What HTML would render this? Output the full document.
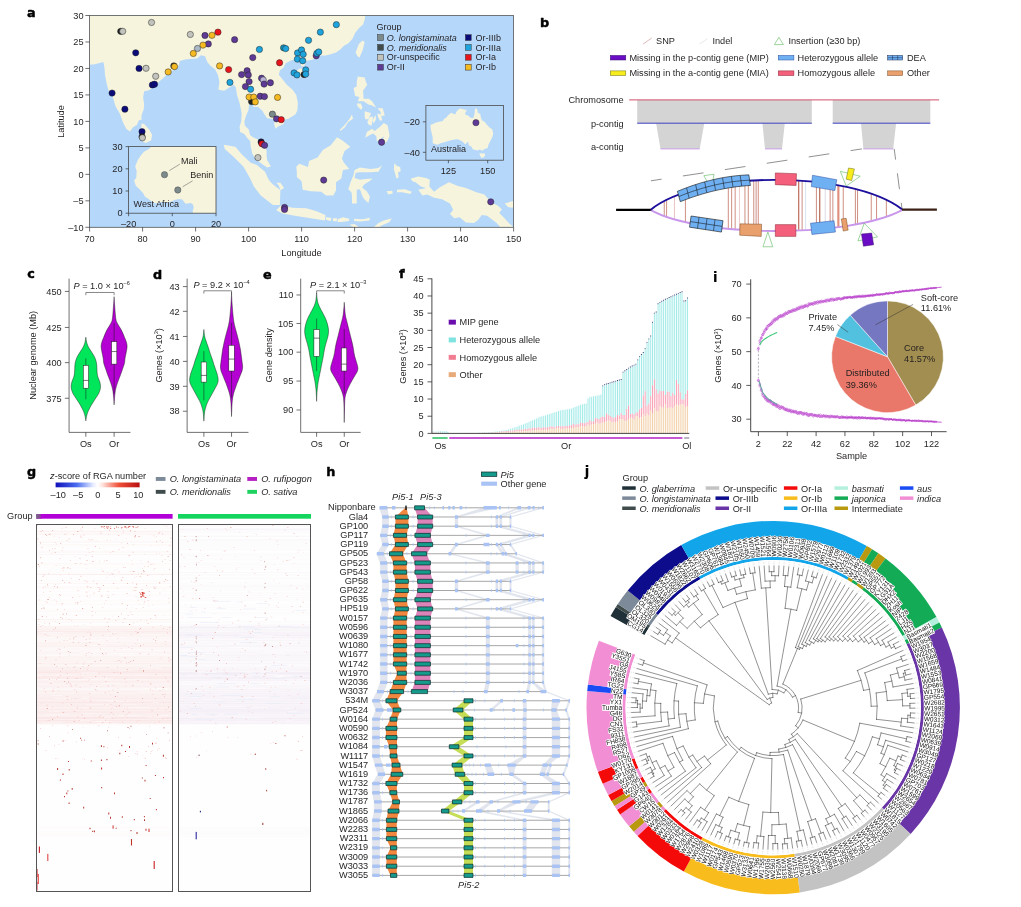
<!DOCTYPE html>
<html lang="en">
<head>
<meta charset="utf-8">
<title>Figure</title>
<style>
html,body{margin:0;padding:0;background:#fff;}
body{width:1021px;height:907px;overflow:hidden;}
svg{display:block;font-family:'Liberation Sans', Arial, Helvetica, sans-serif;fill:#231f20;}
</style>
</head>
<body>
<svg width="1021" height="907" viewBox="0 0 1021 907">
<rect width="1021" height="907" fill="#ffffff"/>
<g id="panel_a">
<clipPath id="mapclip"><rect x="89.6" y="15.5" width="424" height="211.8"/></clipPath>
<rect x="89.6" y="15.5" width="424" height="211.8" fill="#b4d7fa"/>
<g clip-path="url(#mapclip)" fill="#f6f4dd">
<path d="M89.6,15.5 365.2,15.5 364.67,19.74 363.08,24.5 358.84,28.21 355.13,32.97 352.48,38.8 348.24,43.56 344,45.68 340.29,49.39 336.05,52.56 330.75,54.15 324.39,55.74 320.68,55.21 317.5,57.86 311.14,59.98 305.84,61.04 304.25,66.33 301.07,66.33 300.54,60.51 294.18,59.45 291,60.51 285.7,63.16 283.58,67.39 279.87,70.57 278.81,74.8 283.05,80.1 286.76,84.86 292.59,89.63 296.3,94.92 297.89,102.87 297.36,110.81 295.24,114.52 288.35,118.75 284.64,119.81 283.58,124.05 277.75,126.69 275.63,128.81 274.04,124.05 275.1,120.34 271.39,118.75 267.15,118.22 264.5,114.52 262.38,110.81 258.14,107.1 253.37,107.1 253.63,102.87 249.13,103.4 248.6,109.75 245.95,116.11 244.36,121.4 244.89,125.64 248.6,129.34 250.19,135.17 253.9,137.81 258.14,139.4 260.79,141.52 264.5,145.76 266.62,150.52 266.62,155.82 267.15,160.05 270.86,166.41 267.15,167.47 262.38,164.29 256.02,159.52 252.31,153.7 250.72,146.82 250.19,140.99 247.01,137.81 244.36,134.11 240.12,131.99 239.59,126.69 241.18,121.4 241.71,113.46 240.65,108.16 239.06,101.28 236.94,94.92 235.88,87.51 233.76,84.86 230.05,86.98 224.22,90.69 218.39,89.63 219.45,81.69 217.86,74.8 215.21,69.51 210.44,65.8 207.26,62.1 205.14,56.27 200.9,55.21 197.19,58.39 190.3,58.92 185,59.45 179.7,61.04 179.17,64.74 175.99,68.98 169.1,72.16 163.8,77.45 158.5,82.22 154.26,86.45 148.96,90.16 144.19,91.22 143.13,97.57 144.19,104.46 143.66,109.75 141.54,115.05 141.54,119.81 138.89,120.34 136.77,125.11 133.06,127.22 129.88,131.46 126.17,128.81 122.99,122.46 119.81,113.46 115.57,106.57 112.92,97.57 108.68,90.69 106.56,83.28 104.97,74.8 104.44,67.39 103.38,62.1 94.9,64.21 89.6,64.74Z" fill="#f6f4dd"/>
<path d="M294.71,72.69 299.48,68.45 306.37,68.45 306.9,70.57 303.19,76.39 298.95,77.98 294.71,75.86Z" fill="#f6f4dd"/>
<path d="M355.66,52.56 358.84,44.09 362.55,40.39 364.67,41.98 362.55,50.45 359.37,57.86 357.25,55.74Z" fill="#f6f4dd"/>
<path d="M141.54,123.52 144.19,124.05 148.96,129.34 152.14,134.64 151.08,140.46 145.78,143.11 142.6,141.52 141.01,131.46Z" fill="#f6f4dd"/>
<path d="M223.69,144.7 235.35,146.82 241.71,154.23 250.72,162.7 256.55,164.82 265.03,171.7 268.74,179.65 272.45,183.88 280.4,190.23 279.87,205.06 272.98,205.06 260.79,195.53 253.9,186.53 250.19,178.59 243.3,166.41 233.76,156.88 224.75,148.93Z" fill="#f6f4dd"/>
<path d="M276.16,210.36 280.93,205.59 292.59,207.71 306.37,208.24 315.91,210.89 325.45,215.12 324.92,220.42 310.61,218.3 294.71,215.65 282.52,213.53Z" fill="#f6f4dd"/>
<path d="M296.3,166.41 299.48,163.76 307.96,166.94 309.02,161.11 317.5,157.41 322.8,149.99 330.75,145.23 337.11,137.28 342.41,140.46 350.36,146.82 344.53,151.05 341.88,158.47 344,162.7 349.3,169.06 342.94,170.11 341.35,178.59 336.05,182.29 336.05,190.23 333.4,195.53 325.98,195.53 321.21,191.82 310.61,191.29 302.66,189.71 301.6,181.23 296.83,177 296.83,171.7Z" fill="#f6f4dd"/>
<path d="M354.6,170.11 359.9,167.47 370.5,169.06 378.45,168 382.16,165.35 378.45,171.7 370.5,172.23 359.9,172.23 355.66,172.76 354.6,178.06 359.9,179.65 365.2,179.12 372.62,178.59 369.44,181.23 364.14,184.41 362.02,187.59 366.79,191.29 369.97,196.59 368.38,202.94 364.67,199.77 362.55,196.59 359.9,189.18 356.72,189.71 356.72,195.53 356.72,203.47 351.95,203.47 351.95,195.53 351.42,192.35 348.24,189.18 350.89,181.23 353.54,174.88 354.07,171.7Z" fill="#f6f4dd"/>
<path d="M357.78,76.39 364.67,77.45 366.26,82.75 367.32,84.86 363.08,90.69 363.61,98.63 368.91,98.63 372.09,101.28 376.33,107.63 372.09,105.52 368.38,104.46 363.61,101.28 357.78,101.28 359.37,97.04 355.13,95.98 353.54,88.04 356.72,86.45 356.72,81.69Z" fill="#f6f4dd"/>
<path d="M356.72,103.4 360.96,103.4 362.55,107.63 360.96,109.75 357.78,106.57Z" fill="#f6f4dd"/>
<path d="M339.76,129.87 344,125.64 349.3,119.28 351.95,114.52 353.01,118.75 348.24,121.93 344.53,127.75 340.29,130.93Z" fill="#f6f4dd"/>
<path d="M364.67,111.34 371.03,112.93 368.38,119.28 365.2,119.28 364.67,116.11Z" fill="#f6f4dd"/>
<path d="M369.97,116.63 373.15,116.63 371.56,125.64 368.38,124.58 367.32,121.93Z" fill="#f6f4dd"/>
<path d="M372.62,120.34 375.8,115.05 375.8,119.81 373.68,123.52Z" fill="#f6f4dd"/>
<path d="M377.39,113.46 381.1,114.52 382.16,120.34 380.04,120.87 377.92,116.63Z" fill="#f6f4dd"/>
<path d="M377.39,108.16 382.69,108.16 384.81,115.58 381.1,116.11 380.57,111.87Z" fill="#f6f4dd"/>
<path d="M365.2,137.81 366.79,131.99 372.09,128.81 374.74,130.93 377.39,128.81 380.04,126.69 383.75,122.99 387.46,125.11 388.52,129.87 389.58,135.7 387.46,140.99 383.22,144.7 382.69,139.4 384.28,136.23 376.86,141.52 376.33,136.23 373.15,133.58 369.44,135.17Z" fill="#f6f4dd"/>
<path d="M394.35,163.23 397,165.88 400.18,166.94 400.71,171.17 398.06,172.23 398.59,177.53 396.47,178.59 394.88,172.76 393.82,169.06Z" fill="#f6f4dd"/>
<path d="M386.4,191.29 392.23,190.76 392.76,193.41 388.52,194.47Z" fill="#f6f4dd"/>
<path d="M397,189.71 404.95,189.18 411.84,191.82 410.25,193.94 402.3,192.35 397,192.35Z" fill="#f6f4dd"/>
<path d="M410.78,178.59 418.2,176.47 426.15,178.06 429.86,179.65 429.33,186.53 434.1,191.82 439.4,187.59 448.94,182.29 457.95,186 465.9,188.12 476.5,192.35 484.45,194.47 491.34,202.41 497.7,205.59 501.94,209.3 499.29,213 504.06,217.77 508.3,222.53 513.6,227.3 513.6,227.3 500.35,227.3 496.64,223.06 487.1,215.65 481.8,215.12 478.09,219.89 473.85,223.06 465.9,222.53 459.54,217.24 454.24,218.3 450,214.06 453.18,209.83 450,203.47 442.05,199.24 434.1,197.65 427.21,194.47 422.44,195.53 418.2,189.71 426.15,188.12 420.85,186.53 415.55,182.29 412.37,181.23Z" fill="#f6f4dd"/>
<path d="M504.59,203.47 513.6,200.82 513.6,207.71 508.3,207.18Z" fill="#f6f4dd"/>
<path d="M325.45,217.24 331.28,217.77 330.75,220.95 326.51,219.89Z" fill="#f6f4dd"/>
<path d="M332.87,218.3 337.11,218.3 336.58,221.48 332.87,220.95Z" fill="#f6f4dd"/>
<path d="M337.64,219.36 342.94,217.24 349.3,218.83 348.77,220.95 341.35,222 337.64,222Z" fill="#f6f4dd"/>
<path d="M354.07,218.83 362.55,219.36 369.97,217.77 369.44,220.42 359.9,221.48 354.07,220.95Z" fill="#f6f4dd"/>
<path d="M349.3,224.65 354.6,224.12 358.84,227.3 353.54,227.3Z" fill="#f6f4dd"/>
<path d="M373.68,227.3 378.45,223.06 383.75,220.42 391.7,218.3 389.58,222 382.16,225.18 378.98,227.3Z" fill="#f6f4dd"/>
<path d="M276.16,182.82 280.4,182.82 284.11,188.12 280.4,190.23 278.81,185.47Z" fill="#f6f4dd"/>
</g>
<g stroke="#1a1a1a" stroke-width="0.45">
<circle cx="120.73" cy="31.3" r="3.15" fill="#222222"/>
<circle cx="122.73" cy="31.3" r="3.15" fill="#c3c3bd"/>
<circle cx="151.54" cy="22.48" r="3.15" fill="#c3c3bd"/>
<circle cx="135.72" cy="52.78" r="3.15" fill="#0b0b7a"/>
<circle cx="139.05" cy="68.43" r="3.15" fill="#0b0b7a"/>
<circle cx="146.04" cy="68.27" r="3.15" fill="#c3c3bd"/>
<circle cx="155.7" cy="76.26" r="3.15" fill="#c3c3bd"/>
<circle cx="152.37" cy="84.92" r="3.15" fill="#0b0b7a"/>
<circle cx="154.53" cy="84.25" r="3.15" fill="#0b0b7a"/>
<circle cx="112.07" cy="93.07" r="3.15" fill="#0b0b7a"/>
<circle cx="124.9" cy="109.22" r="3.15" fill="#0b0b7a"/>
<circle cx="168.19" cy="71.93" r="3.15" fill="#f5b921"/>
<circle cx="173.85" cy="65.93" r="3.15" fill="#222222"/>
<circle cx="174.51" cy="66.6" r="3.15" fill="#f5b921"/>
<circle cx="142.04" cy="131.65" r="3.15" fill="#0b0b7a"/>
<circle cx="142.04" cy="136.64" r="3.15" fill="#222222"/>
<circle cx="142.38" cy="137.81" r="3.15" fill="#c3c3bd"/>
<circle cx="190.32" cy="34.47" r="3.15" fill="#c3c3bd"/>
<circle cx="204.98" cy="35.46" r="3.15" fill="#5e3a96"/>
<circle cx="211.97" cy="35.3" r="3.15" fill="#f5b921"/>
<circle cx="217.96" cy="32.13" r="3.15" fill="#e8141c"/>
<circle cx="234.61" cy="39.63" r="3.15" fill="#5e3a96"/>
<circle cx="208.31" cy="43.96" r="3.15" fill="#5e3a96"/>
<circle cx="202.98" cy="45.12" r="3.15" fill="#f5b921"/>
<circle cx="197.48" cy="48.45" r="3.15" fill="#aab7c4"/>
<circle cx="193.32" cy="53.45" r="3.15" fill="#f5b921"/>
<circle cx="259.42" cy="49.45" r="3.15" fill="#1ea3dc"/>
<circle cx="252.76" cy="57.61" r="3.15" fill="#5e3a96"/>
<circle cx="219.63" cy="65.93" r="3.15" fill="#f5b921"/>
<circle cx="228.62" cy="69.6" r="3.15" fill="#e8141c"/>
<circle cx="229.95" cy="82.42" r="3.15" fill="#1ea3dc"/>
<circle cx="247.1" cy="70.76" r="3.15" fill="#5e3a96"/>
<circle cx="241.61" cy="74.59" r="3.15" fill="#5e3a96"/>
<circle cx="248.27" cy="74.93" r="3.15" fill="#5e3a96"/>
<circle cx="249.1" cy="81.59" r="3.15" fill="#5e3a96"/>
<circle cx="245.43" cy="86.58" r="3.15" fill="#5e3a96"/>
<circle cx="250.6" cy="89.24" r="3.15" fill="#1ea3dc"/>
<circle cx="261.59" cy="78.26" r="3.15" fill="#5e3a96"/>
<circle cx="263.25" cy="79.92" r="3.15" fill="#b9b3d6"/>
<circle cx="264.08" cy="84.08" r="3.15" fill="#5e3a96"/>
<circle cx="270.41" cy="82.75" r="3.15" fill="#5e3a96"/>
<circle cx="251.6" cy="101.57" r="3.15" fill="#222222"/>
<circle cx="249.1" cy="97.07" r="3.15" fill="#f5b921"/>
<circle cx="253.76" cy="97.07" r="3.15" fill="#f5b921"/>
<circle cx="255.26" cy="101.9" r="3.15" fill="#f5b921"/>
<circle cx="260.25" cy="96.24" r="3.15" fill="#5e3a96"/>
<circle cx="264.42" cy="96.57" r="3.15" fill="#5e3a96"/>
<circle cx="277.57" cy="97.4" r="3.15" fill="#f5b921"/>
<circle cx="279.57" cy="62.77" r="3.15" fill="#e8141c"/>
<circle cx="283.56" cy="47.79" r="3.15" fill="#1b8fb0"/>
<circle cx="285.73" cy="48.62" r="3.15" fill="#1ea3dc"/>
<circle cx="308.54" cy="40.29" r="3.15" fill="#1ea3dc"/>
<circle cx="320.36" cy="32.13" r="3.15" fill="#1ea3dc"/>
<circle cx="336.34" cy="24.64" r="3.15" fill="#1ea3dc"/>
<circle cx="297.55" cy="52.95" r="3.15" fill="#1ea3dc"/>
<circle cx="301.55" cy="49.95" r="3.15" fill="#1ea3dc"/>
<circle cx="297.38" cy="59.11" r="3.15" fill="#1ea3dc"/>
<circle cx="303.21" cy="54.28" r="3.15" fill="#1ea3dc"/>
<circle cx="302.71" cy="60.77" r="3.15" fill="#1ea3dc"/>
<circle cx="316.2" cy="55.78" r="3.15" fill="#5e3a96"/>
<circle cx="316.86" cy="53.28" r="3.15" fill="#1ea3dc"/>
<circle cx="318.69" cy="51.95" r="3.15" fill="#1ea3dc"/>
<circle cx="294.05" cy="72.93" r="3.15" fill="#1ea3dc"/>
<circle cx="297.05" cy="74.93" r="3.15" fill="#1ea3dc"/>
<circle cx="304.04" cy="74.59" r="3.15" fill="#222222"/>
<circle cx="305.71" cy="69.93" r="3.15" fill="#1ea3dc"/>
<circle cx="305.71" cy="74.09" r="3.15" fill="#1ea3dc"/>
<circle cx="272.41" cy="114.16" r="3.15" fill="#7d8a8c"/>
<circle cx="276.57" cy="118.82" r="3.15" fill="#5e3a96"/>
<circle cx="281.23" cy="119.66" r="3.15" fill="#e8141c"/>
<circle cx="261.09" cy="141.97" r="3.15" fill="#1a1040"/>
<circle cx="261.92" cy="143.8" r="3.15" fill="#e8141c"/>
<circle cx="264.58" cy="145.3" r="3.15" fill="#5e3a96"/>
<circle cx="257.92" cy="157.62" r="3.15" fill="#c3c3bd"/>
<circle cx="323.69" cy="180.1" r="3.15" fill="#5e3a96"/>
<circle cx="284.56" cy="207.4" r="3.15" fill="#5e3a96"/>
<circle cx="284.56" cy="209.4" r="3.15" fill="#5e3a96"/>
<circle cx="381.61" cy="142.26" r="3.15" fill="#5e3a96"/>
<circle cx="490.74" cy="201.85" r="3.15" fill="#5e3a96"/>
</g>
<rect x="89.6" y="15.5" width="424" height="211.8" fill="none" stroke="#555" stroke-width="0.8"/>
<line x1="89.6" y1="227.3" x2="89.6" y2="231.5" stroke="#333" stroke-width="0.7"/>
<text x="89.6" y="241.9" font-size="9.2" text-anchor="middle">70</text>
<line x1="142.6" y1="227.3" x2="142.6" y2="231.5" stroke="#333" stroke-width="0.7"/>
<text x="142.6" y="241.9" font-size="9.2" text-anchor="middle">80</text>
<line x1="195.6" y1="227.3" x2="195.6" y2="231.5" stroke="#333" stroke-width="0.7"/>
<text x="195.6" y="241.9" font-size="9.2" text-anchor="middle">90</text>
<line x1="248.6" y1="227.3" x2="248.6" y2="231.5" stroke="#333" stroke-width="0.7"/>
<text x="248.6" y="241.9" font-size="9.2" text-anchor="middle">100</text>
<line x1="301.6" y1="227.3" x2="301.6" y2="231.5" stroke="#333" stroke-width="0.7"/>
<text x="301.6" y="241.9" font-size="9.2" text-anchor="middle">110</text>
<line x1="354.6" y1="227.3" x2="354.6" y2="231.5" stroke="#333" stroke-width="0.7"/>
<text x="354.6" y="241.9" font-size="9.2" text-anchor="middle">120</text>
<line x1="407.6" y1="227.3" x2="407.6" y2="231.5" stroke="#333" stroke-width="0.7"/>
<text x="407.6" y="241.9" font-size="9.2" text-anchor="middle">130</text>
<line x1="460.6" y1="227.3" x2="460.6" y2="231.5" stroke="#333" stroke-width="0.7"/>
<text x="460.6" y="241.9" font-size="9.2" text-anchor="middle">140</text>
<line x1="513.6" y1="227.3" x2="513.6" y2="231.5" stroke="#333" stroke-width="0.7"/>
<text x="513.6" y="241.9" font-size="9.2" text-anchor="middle">150</text>
<line x1="85.4" y1="227.3" x2="89.6" y2="227.3" stroke="#333" stroke-width="0.7"/>
<text x="83.6" y="230.55" font-size="9.2" text-anchor="end">–10</text>
<line x1="85.4" y1="200.82" x2="89.6" y2="200.82" stroke="#333" stroke-width="0.7"/>
<text x="83.6" y="204.07" font-size="9.2" text-anchor="end">–5</text>
<line x1="85.4" y1="174.35" x2="89.6" y2="174.35" stroke="#333" stroke-width="0.7"/>
<text x="83.6" y="177.6" font-size="9.2" text-anchor="end">0</text>
<line x1="85.4" y1="147.88" x2="89.6" y2="147.88" stroke="#333" stroke-width="0.7"/>
<text x="83.6" y="151.12" font-size="9.2" text-anchor="end">5</text>
<line x1="85.4" y1="121.4" x2="89.6" y2="121.4" stroke="#333" stroke-width="0.7"/>
<text x="83.6" y="124.65" font-size="9.2" text-anchor="end">10</text>
<line x1="85.4" y1="94.92" x2="89.6" y2="94.92" stroke="#333" stroke-width="0.7"/>
<text x="83.6" y="98.17" font-size="9.2" text-anchor="end">15</text>
<line x1="85.4" y1="68.45" x2="89.6" y2="68.45" stroke="#333" stroke-width="0.7"/>
<text x="83.6" y="71.7" font-size="9.2" text-anchor="end">20</text>
<line x1="85.4" y1="41.98" x2="89.6" y2="41.98" stroke="#333" stroke-width="0.7"/>
<text x="83.6" y="45.23" font-size="9.2" text-anchor="end">25</text>
<line x1="85.4" y1="15.5" x2="89.6" y2="15.5" stroke="#333" stroke-width="0.7"/>
<text x="83.6" y="18.75" font-size="9.2" text-anchor="end">30</text>
<text x="301.5" y="255.7" font-size="9.2" text-anchor="middle">Longitude</text>
<text x="64.2" y="121.5" font-size="9.2" text-anchor="middle" transform="rotate(-90 64.2 121.5)">Latitude</text>
<text transform="translate(26.9 17) scale(1.0 1)" x="0" y="0" font-size="12.8" font-weight="bold" font-family="'DejaVu Sans', 'Liberation Sans', sans-serif" fill="#000" stroke="#000" stroke-width="0.45" stroke-linejoin="round">a</text>
<text x="376.4" y="30.4" font-size="9">Group</text>
<rect x="377.6" y="34.7" width="5.8" height="5.8" fill="#7d8a8c" stroke="#333" stroke-width="0.5"/>
<text x="386.8" y="40.7" font-size="9" font-style="italic">O. longistaminata</text>
<rect x="377.6" y="44.5" width="5.8" height="5.8" fill="#3f4c4b" stroke="#333" stroke-width="0.5"/>
<text x="386.8" y="50.5" font-size="9" font-style="italic">O. meridionalis</text>
<rect x="377.6" y="54.4" width="5.8" height="5.8" fill="#c3c3bd" stroke="#333" stroke-width="0.5"/>
<text x="386.8" y="60.4" font-size="9">Or-unspecific</text>
<rect x="377.6" y="64.3" width="5.8" height="5.8" fill="#5e3a96" stroke="#333" stroke-width="0.5"/>
<text x="386.8" y="70.3" font-size="9">Or-II</text>
<rect x="465.4" y="34.7" width="5.8" height="5.8" fill="#0b0b7a" stroke="#333" stroke-width="0.5"/>
<text x="475.5" y="40.7" font-size="9">Or-IIIb</text>
<rect x="465.4" y="44.5" width="5.8" height="5.8" fill="#1ea3dc" stroke="#333" stroke-width="0.5"/>
<text x="475.5" y="50.5" font-size="9">Or-IIIa</text>
<rect x="465.4" y="54.4" width="5.8" height="5.8" fill="#e8141c" stroke="#333" stroke-width="0.5"/>
<text x="475.5" y="60.4" font-size="9">Or-Ia</text>
<rect x="465.4" y="64.3" width="5.8" height="5.8" fill="#f5b921" stroke="#333" stroke-width="0.5"/>
<text x="475.5" y="70.3" font-size="9">Or-Ib</text>
<clipPath id="afclip"><rect x="128.6" y="146.6" width="87.4" height="66.6"/></clipPath>
<rect x="128.6" y="146.6" width="87.4" height="66.6" fill="#b4d7fa"/>
<g clip-path="url(#afclip)"><path d="M151.11,146.6 149.36,148.82 143.89,151.71 139.96,156.59 137.34,161.03 135.16,166.58 136.68,171.02 136.25,177.68 134.06,180.57 135.81,185.67 139.53,189.22 143.24,193.22 144.99,196.77 147.17,198.1 152.63,202.1 155.91,203.43 161.38,201.88 165.75,202.1 167.93,202.77 172.3,200.99 174.49,200.1 177.76,199.21 181.91,199.21 184.32,202.1 185.41,203.65 187.59,203.43 190.87,202.99 193.06,204.76 193.71,207.65 192.62,210.98 193.06,213.2 216,213.2 216,146.6Z" fill="#f6f4dd"/></g>
<rect x="128.6" y="146.6" width="87.4" height="66.6" fill="none" stroke="#4a4a4a" stroke-width="0.8"/>
<line x1="125.6" y1="213.2" x2="128.6" y2="213.2" stroke="#333" stroke-width="0.7"/>
<text x="122.6" y="216.4" font-size="9.2" text-anchor="end">0</text>
<line x1="125.6" y1="191" x2="128.6" y2="191" stroke="#333" stroke-width="0.7"/>
<text x="122.6" y="194.2" font-size="9.2" text-anchor="end">10</text>
<line x1="125.6" y1="168.8" x2="128.6" y2="168.8" stroke="#333" stroke-width="0.7"/>
<text x="122.6" y="172" font-size="9.2" text-anchor="end">20</text>
<line x1="125.6" y1="146.6" x2="128.6" y2="146.6" stroke="#333" stroke-width="0.7"/>
<text x="122.6" y="149.8" font-size="9.2" text-anchor="end">30</text>
<line x1="128.6" y1="213.2" x2="128.6" y2="216.2" stroke="#333" stroke-width="0.7"/>
<text x="128.6" y="226.5" font-size="9.2" text-anchor="middle">–20</text>
<line x1="172.3" y1="213.2" x2="172.3" y2="216.2" stroke="#333" stroke-width="0.7"/>
<text x="172.3" y="226.5" font-size="9.2" text-anchor="middle">0</text>
<line x1="216" y1="213.2" x2="216" y2="216.2" stroke="#333" stroke-width="0.7"/>
<text x="216" y="226.5" font-size="9.2" text-anchor="middle">20</text>
<line x1="169.3" y1="170.6" x2="179.8" y2="164.2" stroke="#555" stroke-width="0.5"/>
<line x1="182.6" y1="186.8" x2="192.6" y2="180.8" stroke="#555" stroke-width="0.5"/>
<circle cx="164.5" cy="174.7" r="3.15" fill="#7d8a8c" stroke="#444" stroke-width="0.45"/>
<circle cx="177.8" cy="190" r="3.15" fill="#7d8a8c" stroke="#444" stroke-width="0.45"/>
<text x="181" y="163.6" font-size="9">Mali</text>
<text x="190.3" y="177.6" font-size="9">Benin</text>
<text x="133.6" y="207.2" font-size="9">West Africa</text>
<clipPath id="auclip"><rect x="425.9" y="105.4" width="77.7" height="54.8"/></clipPath>
<rect x="425.9" y="105.4" width="77.7" height="54.8" fill="#b4d7fa"/>
<g clip-path="url(#auclip)">
<path d="M430.32,124.85 431.11,130.95 432.68,137.05 432.68,143.15 437.4,144.68 440.54,143.15 446.83,141.62 449.97,140.41 454.69,139.49 457.83,139.34 462.55,141.62 464.91,144.37 466.48,143.15 468.05,141.62 468.84,145.44 471.19,146.2 472.77,149.25 477.48,150.47 479.84,149.56 482.2,150.78 484.56,148.94 487.7,148.03 488.49,144.68 490.06,141.62 492.42,137.05 493.2,134 492.42,129.43 489.27,127.14 486.91,124.85 484.56,121.8 481.88,120.27 480.63,116.46 480.31,113.87 477.95,113.11 477.48,110.36 475.91,107.62 474.81,110.36 474.5,114.17 473.24,117.99 470.41,117.68 468.36,115.7 464.91,114.17 465.69,111.89 466.95,109.91 464.12,109.6 460.19,108.53 457.83,109.91 456.26,111.89 455.47,114.17 453.12,113.87 451.23,112.65 448.4,114.94 446.04,117.68 444,118.75 442.9,121.04 438.97,121.8 435.35,122.72 431.89,124.55Z" fill="#f6f4dd"/>
<path d="M479.37,153.37 484.87,153.52 485.03,155.66 482.98,157.64 481.41,157.64 480.15,155.66Z" fill="#f6f4dd"/>
<path d="M468.84,105.03 471.19,103.5 473.55,105.18 475.91,105.33 477.17,104.41 478.27,103.04 468.84,103.04Z" fill="#f6f4dd"/>
</g>
<rect x="425.9" y="105.4" width="77.7" height="54.8" fill="none" stroke="#4a4a4a" stroke-width="0.8"/>
<line x1="422.9" y1="121.8" x2="425.9" y2="121.8" stroke="#333" stroke-width="0.7"/>
<text x="419.9" y="125" font-size="9.2" text-anchor="end">–20</text>
<line x1="422.9" y1="152.3" x2="425.9" y2="152.3" stroke="#333" stroke-width="0.7"/>
<text x="419.9" y="155.5" font-size="9.2" text-anchor="end">–40</text>
<line x1="448.4" y1="160.2" x2="448.4" y2="163.2" stroke="#333" stroke-width="0.7"/>
<text x="448.4" y="173.8" font-size="9.2" text-anchor="middle">125</text>
<line x1="487.7" y1="160.2" x2="487.7" y2="163.2" stroke="#333" stroke-width="0.7"/>
<text x="487.7" y="173.8" font-size="9.2" text-anchor="middle">150</text>
<circle cx="475.93" cy="122.69" r="3.15" fill="#5e3a96" stroke="#333" stroke-width="0.45"/>
<text x="431" y="152.4" font-size="9">Australia</text>
</g>
<g id="panel_b">
<text transform="translate(539.9 27.2) scale(1.0 1)" x="0" y="0" font-size="12.8" font-weight="bold" font-family="'DejaVu Sans', 'Liberation Sans', sans-serif" fill="#000" stroke="#000" stroke-width="0.45" stroke-linejoin="round">b</text>
<line x1="643.1" y1="44.1" x2="651.7" y2="38" stroke="#c98a8a" stroke-width="0.6"/>
<text x="656.1" y="43.7" font-size="9.2">SNP</text>
<line x1="699.4" y1="44.1" x2="707.5" y2="38.7" stroke="#d9d9d9" stroke-width="0.6"/>
<text x="712.4" y="43.7" font-size="9.2">Indel</text>
<path d="M774.4,44.6 783.4,44.6 778.9,37.3Z" fill="none" stroke="#5cb85c" stroke-width="0.6"/>
<text x="788.4" y="43.7" font-size="9.2">Insertion (≥30 bp)</text>
<rect x="610.3" y="55.4" width="15.5" height="4.6" fill="#6a0dc4" stroke="#3b1670" stroke-width="0.5"/>
<text x="629.4" y="60.7" font-size="9.2">Missing in the p-contig gene (MIP)</text>
<rect x="778.3" y="55.4" width="15.6" height="4.6" fill="#6fb0f2" stroke="#2b4fa0" stroke-width="0.5"/>
<text x="797.5" y="60.7" font-size="9.2">Heterozygous allele</text>
<rect x="887.7" y="55.4" width="15" height="4.6" fill="#6fb0f2" stroke="#1c2a50" stroke-width="0.5"/>
<line x1="892.5" y1="55.4" x2="892.5" y2="60" stroke="#1c2a50" stroke-width="0.5"/>
<line x1="897.7" y1="55.4" x2="897.7" y2="60" stroke="#1c2a50" stroke-width="0.5"/>
<line x1="887.7" y1="57.7" x2="902.7" y2="57.7" stroke="#1c2a50" stroke-width="0.5"/>
<text x="906.9" y="60.7" font-size="9.2">DEA</text>
<rect x="610.3" y="70.9" width="15.5" height="4.6" fill="#f7ec1c" stroke="#6b6b1a" stroke-width="0.5"/>
<text x="629.4" y="76.3" font-size="9.2">Missing in the a-contig gene (MIA)</text>
<rect x="778.3" y="70.9" width="15.6" height="4.6" fill="#f4607c" stroke="#8a2030" stroke-width="0.5"/>
<text x="797.5" y="76.3" font-size="9.2">Homozygous allele</text>
<rect x="887.7" y="70.9" width="15" height="4.6" fill="#e9a06c" stroke="#7a4a20" stroke-width="0.5"/>
<text x="906.9" y="76.3" font-size="9.2">Other</text>
<rect x="637.2" y="99.9" width="174.6" height="23.3" fill="#d4d4d4"/>
<rect x="832.7" y="99.9" width="97.6" height="23.3" fill="#d4d4d4"/>
<path d="M656.1,123.2 704.3,123.2 699.7,148.9 660.5,148.9Z" fill="#d4d4d4"/>
<path d="M762.4,123.2 784.8,123.2 782,148.9 765,148.9Z" fill="#d4d4d4"/>
<path d="M861,123.2 896.1,123.2 893.2,148.9 863.4,148.9Z" fill="#d4d4d4"/>
<line x1="629.2" y1="99.9" x2="939.1" y2="99.9" stroke="#d0506a" stroke-width="1"/>
<line x1="637.2" y1="123.2" x2="811.8" y2="123.2" stroke="#3a3fc0" stroke-width="1"/>
<line x1="832.7" y1="123.2" x2="930.3" y2="123.2" stroke="#3a3fc0" stroke-width="1"/>
<line x1="660.5" y1="148.9" x2="699.7" y2="148.9" stroke="#c9a0ea" stroke-width="1"/>
<line x1="765" y1="148.9" x2="782" y2="148.9" stroke="#c9a0ea" stroke-width="1"/>
<line x1="863.4" y1="148.9" x2="893.2" y2="148.9" stroke="#c9a0ea" stroke-width="1"/>
<text x="623.6" y="102.8" font-size="9.2" text-anchor="end">Chromosome</text>
<text x="623.6" y="126.8" font-size="9.2" text-anchor="end">p-contig</text>
<text x="623.6" y="150" font-size="9.2" text-anchor="end">a-contig</text>
<path d="M650.9,180.8 L861.9,148.9" fill="none" stroke="#333" stroke-width="0.55" stroke-dasharray="20.8 21.6" stroke-dashoffset="10"/>
<path d="M894.2,148.9 L902,208.6" fill="none" stroke="#333" stroke-width="0.55" stroke-dasharray="16 13.8" stroke-dashoffset="5.2"/>
<path d="M703.82,175.65 714.01,174.28 711.26,188.97Z" fill="none" stroke="#5cb85c" stroke-width="0.6"/>
<line x1="664.25" y1="201.07" x2="664.25" y2="216.12" stroke="#b5523f" stroke-width="0.65"/>
<line x1="666.6" y1="199.88" x2="666.6" y2="216.96" stroke="#b5523f" stroke-width="0.65"/>
<line x1="674.44" y1="196.37" x2="674.44" y2="219.43" stroke="#e0a0a0" stroke-width="0.65"/>
<line x1="685.41" y1="192.37" x2="685.41" y2="222.25" stroke="#b5523f" stroke-width="0.65"/>
<line x1="728.31" y1="182.98" x2="728.31" y2="228.85" stroke="#b5523f" stroke-width="0.65"/>
<line x1="731.64" y1="182.55" x2="731.64" y2="229.16" stroke="#b5523f" stroke-width="0.65"/>
<line x1="735.16" y1="182.13" x2="735.16" y2="229.45" stroke="#b5523f" stroke-width="0.65"/>
<line x1="739.47" y1="181.67" x2="739.47" y2="229.77" stroke="#e6b0b0" stroke-width="0.65"/>
<line x1="744.96" y1="181.17" x2="744.96" y2="230.12" stroke="#b5523f" stroke-width="0.65"/>
<line x1="748.29" y1="180.9" x2="748.29" y2="230.31" stroke="#b5523f" stroke-width="0.65"/>
<line x1="753.77" y1="180.54" x2="753.77" y2="230.56" stroke="#b5523f" stroke-width="0.65"/>
<line x1="756.12" y1="180.41" x2="756.12" y2="230.66" stroke="#b5523f" stroke-width="0.65"/>
<line x1="758.28" y1="180.3" x2="758.28" y2="230.73" stroke="#b5523f" stroke-width="0.65"/>
<line x1="798.82" y1="180.57" x2="798.82" y2="230.52" stroke="#b5523f" stroke-width="0.65"/>
<line x1="798.59" y1="180.56" x2="798.59" y2="230.53" stroke="#b5523f" stroke-width="0.65"/>
<line x1="802.12" y1="180.79" x2="802.12" y2="230.36" stroke="#b5523f" stroke-width="0.65"/>
<line x1="805.64" y1="181.05" x2="805.64" y2="230.18" stroke="#c9d3e6" stroke-width="0.65"/>
<line x1="816.42" y1="182.07" x2="816.42" y2="229.45" stroke="#b5523f" stroke-width="0.65"/>
<line x1="819.75" y1="182.46" x2="819.75" y2="229.17" stroke="#b06048" stroke-width="1.15"/>
<line x1="825.23" y1="183.17" x2="825.23" y2="228.67" stroke="#c9c9d6" stroke-width="0.65"/>
<line x1="830.13" y1="183.88" x2="830.13" y2="228.16" stroke="#b5523f" stroke-width="0.65"/>
<line x1="832.87" y1="184.32" x2="832.87" y2="227.85" stroke="#b5523f" stroke-width="0.65"/>
<line x1="838.35" y1="185.27" x2="838.35" y2="227.17" stroke="#e0907c" stroke-width="2.15"/>
<line x1="843.25" y1="186.21" x2="843.25" y2="226.5" stroke="#b5523f" stroke-width="0.65"/>
<line x1="855.4" y1="188.98" x2="855.4" y2="224.54" stroke="#b5523f" stroke-width="0.65"/>
<line x1="857.55" y1="189.55" x2="857.55" y2="224.14" stroke="#b5523f" stroke-width="0.65"/>
<line x1="871.26" y1="193.72" x2="871.26" y2="221.18" stroke="#b5523f" stroke-width="0.65"/>
<line x1="876.55" y1="195.65" x2="876.55" y2="219.81" stroke="#b5523f" stroke-width="0.65"/>
<line x1="886.35" y1="199.87" x2="886.35" y2="216.82" stroke="#b5523f" stroke-width="0.65"/>
<path d="M650.5,209.9 C700,238 850,238 902,210.2" fill="none" stroke="#c896ea" stroke-width="1.9"/>
<path d="M650.5,209.9 C700,170 850,170 902,209.2" fill="none" stroke="#1b0f9c" stroke-width="1.9"/>
<line x1="616.1" y1="209.9" x2="650.7" y2="209.9" stroke="#000" stroke-width="2.4"/>
<line x1="902" y1="209.6" x2="936.9" y2="209.6" stroke="#3a2016" stroke-width="2.4"/>
<path d="M677.38,191.32 681.96,189.47 686.53,187.72 691.08,186.09 695.62,184.56 700.14,183.15 704.65,181.85 709.14,180.65 713.61,179.57 718.08,178.6 722.52,177.73 726.95,176.98 731.37,176.34 735.77,175.8 740.15,175.38 744.52,175.07 748.87,174.87 750.44,185.45 746.1,185.75 741.76,186.15 737.41,186.64 733.06,187.23 728.69,187.92 724.33,188.7 719.95,189.57 715.57,190.54 711.19,191.6 706.79,192.76 702.4,194.01 697.99,195.36 693.58,196.81 689.17,198.34 684.74,199.98 680.31,201.7Z" fill="#6fb0f2" stroke="#111" stroke-width="0.6"/>
<line x1="686.53" y1="187.72" x2="689.17" y2="198.34" stroke="#111" stroke-width="0.55"/>
<line x1="695.62" y1="184.56" x2="697.99" y2="195.36" stroke="#111" stroke-width="0.55"/>
<line x1="704.65" y1="181.85" x2="706.79" y2="192.76" stroke="#111" stroke-width="0.55"/>
<line x1="713.61" y1="179.57" x2="715.57" y2="190.54" stroke="#111" stroke-width="0.55"/>
<line x1="722.52" y1="177.73" x2="724.33" y2="188.7" stroke="#111" stroke-width="0.55"/>
<line x1="731.37" y1="176.34" x2="733.06" y2="187.23" stroke="#111" stroke-width="0.55"/>
<line x1="740.15" y1="175.38" x2="741.76" y2="186.15" stroke="#111" stroke-width="0.55"/>
<path d="M678.84,196.51 683.35,194.72 687.85,193.03 692.33,191.45 696.8,189.96 701.27,188.58 705.72,187.3 710.16,186.13 714.59,185.05 719.01,184.08 723.42,183.21 727.82,182.45 732.21,181.79 736.59,181.22 740.96,180.77 745.31,180.41 749.66,180.16" fill="none" stroke="#111" stroke-width="0.55"/>
<path d="M691.09,216 723.02,220.71 721.45,232.07 689.52,227.17Z" fill="#6fb0f2" stroke="#111" stroke-width="0.6"/>
<line x1="699.07" y1="217.18" x2="697.5" y2="228.39" stroke="#111" stroke-width="0.55"/>
<line x1="707.05" y1="218.35" x2="705.48" y2="229.62" stroke="#111" stroke-width="0.55"/>
<line x1="715.03" y1="219.53" x2="713.47" y2="230.84" stroke="#111" stroke-width="0.55"/>
<line x1="690.3" y1="221.59" x2="722.23" y2="226.39" stroke="#111" stroke-width="0.55"/>
<path d="M740.06,223.84 761.61,224.23 761.21,236.38 739.67,235.2Z" fill="#e9a06c" stroke="#7a4a20" stroke-width="0.5"/>
<path d="M775.32,172.91 796.47,173.69 796.08,185.45 775.32,184.66Z" fill="#f4607c" stroke="#8a2030" stroke-width="0.5"/>
<path d="M775.32,224.62 795.89,224.62 795.89,236.38 775.32,236.38Z" fill="#f4607c" stroke="#8a2030" stroke-width="0.5"/>
<path d="M767.87,232.07 762.98,246.76 772.77,246.76Z" fill="none" stroke="#5cb85c" stroke-width="0.6"/>
<path d="M812.5,175.26 836.79,179.76 834.83,190.54 811.32,186.62Z" fill="#6fb0f2" stroke="#2b4fa0" stroke-width="0.5"/>
<path d="M810.54,223.25 834.05,220.71 835.42,232.07 811.91,234.42Z" fill="#6fb0f2" stroke="#2b4fa0" stroke-width="0.5"/>
<path d="M840.31,171.34 860.29,176.24 846.19,186.03Z" fill="none" stroke="#5cb85c" stroke-width="0.6"/>
<path d="M848.54,168.01 854.42,168.99 851.67,180.55 846.19,179.18Z" fill="#f7ec1c" stroke="#6b6b1a" stroke-width="0.5"/>
<path d="M841.29,218.94 846.19,218.35 848.15,230.11 843.25,231.09Z" fill="#e9a06c" stroke="#7a4a20" stroke-width="0.5"/>
<path d="M864.21,223.25 857.94,240.88 877.53,236.96Z" fill="none" stroke="#5cb85c" stroke-width="0.6"/>
<path d="M861.47,234.03 871.66,233.05 873.61,244.8 863.43,246.17Z" fill="#6a0dc4" stroke="#3b1670" stroke-width="0.5"/>
</g>
<g id="panel_cde">
<text transform="translate(27.31 277.99) scale(1.0 1)" x="0" y="0" font-size="12.8" font-weight="bold" font-family="'DejaVu Sans', 'Liberation Sans', sans-serif" fill="#000" stroke="#000" stroke-width="0.45" stroke-linejoin="round">c</text>
<path d="M69.07,278.64 V432.39 H130.44" fill="none" stroke="#4d4d4d" stroke-width="0.8"/>
<line x1="64.87" y1="291.42" x2="69.07" y2="291.42" stroke="#4d4d4d" stroke-width="0.8"/>
<text x="61.67" y="294.67" font-size="9.2" text-anchor="end">450</text>
<line x1="64.87" y1="327.45" x2="69.07" y2="327.45" stroke="#4d4d4d" stroke-width="0.8"/>
<text x="61.67" y="330.7" font-size="9.2" text-anchor="end">425</text>
<line x1="64.87" y1="362.64" x2="69.07" y2="362.64" stroke="#4d4d4d" stroke-width="0.8"/>
<text x="61.67" y="365.89" font-size="9.2" text-anchor="end">400</text>
<line x1="64.87" y1="398.25" x2="69.07" y2="398.25" stroke="#4d4d4d" stroke-width="0.8"/>
<text x="61.67" y="401.5" font-size="9.2" text-anchor="end">375</text>
<line x1="85.83" y1="432.18" x2="85.83" y2="436.78" stroke="#4d4d4d" stroke-width="0.8"/>
<text x="85.83" y="447.47" font-size="9.2" text-anchor="middle">Os</text>
<line x1="114.11" y1="432.18" x2="114.11" y2="436.78" stroke="#4d4d4d" stroke-width="0.8"/>
<text x="114.11" y="447.47" font-size="9.2" text-anchor="middle">Or</text>
<text x="36.18" y="355.31" font-size="9.2" text-anchor="middle" transform="rotate(-90 36.18 355.31)">Nuclear genome (Mb)</text>
<text x="73.47" y="289.33" font-size="9.2"><tspan font-style="italic">P</tspan> = 1.0 × 10<tspan font-size="5.6" dy="-4">–6</tspan></text>
<path d="M85.83,295.19 V292.47 H114.11 V295.19" fill="none" stroke="#555" stroke-width="0.7"/>
<path d="M85.83,337.92 C85.62,338.9 85.09,342.11 84.57,343.79 C84.05,345.46 83.45,346.58 82.69,347.98 C81.92,349.37 80.84,350.77 79.96,352.17 C79.09,353.56 78.15,354.96 77.45,356.36 C76.75,357.75 76.19,359.15 75.77,360.54 C75.35,361.94 75.11,363.34 74.94,364.73 C74.76,366.13 74.8,367.53 74.73,368.92 C74.66,370.32 74.69,371.72 74.52,373.11 C74.34,374.51 74.1,375.91 73.68,377.3 C73.26,378.7 72.42,380.09 72,381.49 C71.58,382.89 71.23,384.28 71.16,385.68 C71.09,387.08 71.23,388.47 71.58,389.87 C71.93,391.27 72.53,392.66 73.26,394.06 C73.99,395.46 75.07,396.85 75.98,398.25 C76.89,399.65 77.83,401.04 78.71,402.44 C79.58,403.83 80.45,405.23 81.22,406.63 C81.99,408.02 82.72,409.42 83.31,410.82 C83.91,412.21 84.36,413.44 84.78,415.01 C85.2,416.58 85.65,419.37 85.83,420.24 C86,421.12 85.65,421.12 85.83,420.24 C86,419.37 86.46,416.58 86.87,415.01 C87.29,413.44 87.75,412.21 88.34,410.82 C88.93,409.42 89.67,408.02 90.44,406.63 C91.2,405.23 92.08,403.83 92.95,402.44 C93.82,401.04 94.76,399.65 95.67,398.25 C96.58,396.85 97.66,395.46 98.4,394.06 C99.13,392.66 99.72,391.27 100.07,389.87 C100.42,388.47 100.56,387.08 100.49,385.68 C100.42,384.28 100.07,382.89 99.65,381.49 C99.23,380.09 98.4,378.7 97.98,377.3 C97.56,375.91 97.31,374.51 97.14,373.11 C96.96,371.72 97,370.32 96.93,368.92 C96.86,367.53 96.89,366.13 96.72,364.73 C96.55,363.34 96.3,361.94 95.88,360.54 C95.46,359.15 94.9,357.75 94.21,356.36 C93.51,354.96 92.57,353.56 91.69,352.17 C90.82,350.77 89.74,349.37 88.97,347.98 C88.2,346.58 87.61,345.46 87.08,343.79 C86.56,342.11 86.04,338.9 85.83,337.92 C85.62,336.94 86.04,336.94 85.83,337.92Z" fill="#00e65a" stroke="#1a1a1a" stroke-width="0.45" stroke-linejoin="round"/>
<line x1="85.83" y1="358.45" x2="85.83" y2="399.3" stroke="#1a1a1a" stroke-width="0.5"/>
<rect x="83.31" y="365.36" width="5.24" height="22.83" fill="#fff" stroke="#1a1a1a" stroke-width="0.5"/>
<line x1="83.31" y1="380.44" x2="88.55" y2="380.44" stroke="#1a1a1a" stroke-width="0.6"/>
<path d="M114.11,297.7 C114,299.1 113.69,303.29 113.48,306.08 C113.27,308.88 113.09,312.02 112.85,314.46 C112.6,316.91 112.5,319 112.01,320.75 C111.52,322.49 110.68,323.54 109.92,324.94 C109.15,326.33 108.17,327.73 107.4,329.12 C106.63,330.52 105.94,331.92 105.31,333.31 C104.68,334.71 104.19,336.11 103.63,337.5 C103.07,338.9 102.38,340.3 101.96,341.69 C101.54,343.09 101.19,344.49 101.12,345.88 C101.05,347.28 101.33,348.67 101.54,350.07 C101.75,351.47 102.1,352.86 102.38,354.26 C102.65,355.66 103,357.05 103.21,358.45 C103.42,359.85 103.35,361.24 103.63,362.64 C103.91,364.04 104.44,365.43 104.89,366.83 C105.34,368.23 105.87,369.62 106.36,371.02 C106.84,372.41 107.3,373.81 107.82,375.21 C108.35,376.6 108.97,378 109.5,379.4 C110.02,380.79 110.51,382.19 110.96,383.59 C111.42,384.98 111.87,386.38 112.22,387.78 C112.57,389.17 112.81,390.22 113.06,391.96 C113.3,393.71 113.51,396.22 113.69,398.25 C113.86,400.27 114.04,403.14 114.11,404.11 C114.18,405.09 114.04,405.09 114.11,404.11 C114.18,403.14 114.35,400.27 114.52,398.25 C114.7,396.22 114.91,393.71 115.15,391.96 C115.4,390.22 115.64,389.17 115.99,387.78 C116.34,386.38 116.79,384.98 117.25,383.59 C117.7,382.19 118.19,380.79 118.71,379.4 C119.24,378 119.87,376.6 120.39,375.21 C120.91,373.81 121.37,372.41 121.86,371.02 C122.34,369.62 122.87,368.23 123.32,366.83 C123.78,365.43 124.3,364.04 124.58,362.64 C124.86,361.24 124.79,359.85 125,358.45 C125.21,357.05 125.56,355.66 125.84,354.26 C126.12,352.86 126.46,351.47 126.67,350.07 C126.88,348.67 127.16,347.28 127.09,345.88 C127.02,344.49 126.67,343.09 126.25,341.69 C125.84,340.3 125.14,338.9 124.58,337.5 C124.02,336.11 123.53,334.71 122.9,333.31 C122.27,331.92 121.58,330.52 120.81,329.12 C120.04,327.73 119.06,326.33 118.29,324.94 C117.53,323.54 116.69,322.49 116.2,320.75 C115.71,319 115.61,316.91 115.36,314.46 C115.12,312.02 114.94,308.88 114.73,306.08 C114.52,303.29 114.21,299.1 114.11,297.7 C114,296.31 114.21,296.31 114.11,297.7Z" fill="#b400d2" stroke="#1a1a1a" stroke-width="0.45" stroke-linejoin="round"/>
<line x1="114.11" y1="322.84" x2="114.11" y2="394.06" stroke="#1a1a1a" stroke-width="0.5"/>
<rect x="111.59" y="341.69" width="5.24" height="22.41" fill="#fff" stroke="#1a1a1a" stroke-width="0.5"/>
<line x1="111.59" y1="351.54" x2="116.83" y2="351.54" stroke="#1a1a1a" stroke-width="0.6"/>
<text transform="translate(153.12 278.82) scale(1.0 1)" x="0" y="0" font-size="12.8" font-weight="bold" font-family="'DejaVu Sans', 'Liberation Sans', sans-serif" fill="#000" stroke="#000" stroke-width="0.45" stroke-linejoin="round">d</text>
<path d="M187.13,278.64 V432.39 H248.5" fill="none" stroke="#4d4d4d" stroke-width="0.8"/>
<line x1="182.93" y1="286.6" x2="187.13" y2="286.6" stroke="#4d4d4d" stroke-width="0.8"/>
<text x="179.73" y="289.85" font-size="9.2" text-anchor="end">43</text>
<line x1="182.93" y1="311.32" x2="187.13" y2="311.32" stroke="#4d4d4d" stroke-width="0.8"/>
<text x="179.73" y="314.57" font-size="9.2" text-anchor="end">42</text>
<line x1="182.93" y1="336.46" x2="187.13" y2="336.46" stroke="#4d4d4d" stroke-width="0.8"/>
<text x="179.73" y="339.71" font-size="9.2" text-anchor="end">41</text>
<line x1="182.93" y1="361.38" x2="187.13" y2="361.38" stroke="#4d4d4d" stroke-width="0.8"/>
<text x="179.73" y="364.63" font-size="9.2" text-anchor="end">40</text>
<line x1="182.93" y1="386.31" x2="187.13" y2="386.31" stroke="#4d4d4d" stroke-width="0.8"/>
<text x="179.73" y="389.56" font-size="9.2" text-anchor="end">39</text>
<line x1="182.93" y1="411.24" x2="187.13" y2="411.24" stroke="#4d4d4d" stroke-width="0.8"/>
<text x="179.73" y="414.49" font-size="9.2" text-anchor="end">38</text>
<line x1="203.89" y1="432.18" x2="203.89" y2="436.78" stroke="#4d4d4d" stroke-width="0.8"/>
<text x="203.89" y="447.47" font-size="9.2" text-anchor="middle">Os</text>
<line x1="231.54" y1="432.18" x2="231.54" y2="436.78" stroke="#4d4d4d" stroke-width="0.8"/>
<text x="231.54" y="447.47" font-size="9.2" text-anchor="middle">Or</text>
<text x="161.58" y="355.31" font-size="9.2" text-anchor="middle" transform="rotate(-90 161.58 355.31)">Genes (×10<tspan font-size="5.6" dy="-3.6">3</tspan><tspan dy="3.6">)</tspan></text>
<text x="193.41" y="287.86" font-size="9.2"><tspan font-style="italic">P</tspan> = 9.2 × 10<tspan font-size="5.6" dy="-4">–4</tspan></text>
<path d="M203.89,293.51 V290.79 H231.54 V293.51" fill="none" stroke="#555" stroke-width="0.7"/>
<path d="M203.89,330.17 C203.78,331.04 203.54,333.84 203.26,335.41 C202.98,336.98 202.63,338.2 202.21,339.6 C201.79,340.99 201.23,342.39 200.75,343.79 C200.26,345.18 199.73,346.58 199.28,347.98 C198.83,349.37 198.48,350.77 198.02,352.17 C197.57,353.56 197.05,354.96 196.56,356.36 C196.07,357.75 195.54,359.15 195.09,360.54 C194.64,361.94 194.29,363.34 193.83,364.73 C193.38,366.13 192.86,367.53 192.37,368.92 C191.88,370.32 191.32,371.72 190.9,373.11 C190.48,374.51 190.06,376.08 189.85,377.3 C189.64,378.52 189.57,379.4 189.64,380.44 C189.71,381.49 189.82,382.36 190.27,383.59 C190.73,384.81 191.63,386.38 192.37,387.78 C193.1,389.17 193.9,390.57 194.67,391.96 C195.44,393.36 196.21,394.76 196.98,396.15 C197.74,397.55 198.58,398.95 199.28,400.34 C199.98,401.74 200.64,403.14 201.16,404.53 C201.69,405.93 202.07,407.33 202.42,408.72 C202.77,410.12 203.01,410.99 203.26,412.91 C203.5,414.83 203.78,419.02 203.89,420.24 C203.99,421.46 203.78,421.46 203.89,420.24 C203.99,419.02 204.27,414.83 204.52,412.91 C204.76,410.99 205,410.12 205.35,408.72 C205.7,407.33 206.09,405.93 206.61,404.53 C207.13,403.14 207.8,401.74 208.5,400.34 C209.19,398.95 210.03,397.55 210.8,396.15 C211.57,394.76 212.34,393.36 213.1,391.96 C213.87,390.57 214.68,389.17 215.41,387.78 C216.14,386.38 217.05,384.81 217.5,383.59 C217.96,382.36 218.06,381.49 218.13,380.44 C218.2,379.4 218.13,378.52 217.92,377.3 C217.71,376.08 217.29,374.51 216.87,373.11 C216.46,371.72 215.9,370.32 215.41,368.92 C214.92,367.53 214.4,366.13 213.94,364.73 C213.49,363.34 213.14,361.94 212.69,360.54 C212.23,359.15 211.71,357.75 211.22,356.36 C210.73,354.96 210.21,353.56 209.75,352.17 C209.3,350.77 208.95,349.37 208.5,347.98 C208.04,346.58 207.52,345.18 207.03,343.79 C206.54,342.39 205.98,340.99 205.56,339.6 C205.14,338.2 204.8,336.98 204.52,335.41 C204.24,333.84 203.99,331.04 203.89,330.17 C203.78,329.3 203.99,329.3 203.89,330.17Z" fill="#00e65a" stroke="#1a1a1a" stroke-width="0.45" stroke-linejoin="round"/>
<line x1="203.89" y1="351.12" x2="203.89" y2="400.34" stroke="#1a1a1a" stroke-width="0.5"/>
<rect x="201.16" y="362.01" width="5.45" height="20.11" fill="#fff" stroke="#1a1a1a" stroke-width="0.5"/>
<line x1="201.16" y1="375.42" x2="206.61" y2="375.42" stroke="#1a1a1a" stroke-width="0.6"/>
<path d="M231.54,293.51 C231.47,294.91 231.29,299.1 231.12,301.89 C230.94,304.69 230.73,307.48 230.49,310.27 C230.25,313.07 229.97,316.21 229.65,318.65 C229.34,321.09 229.06,322.84 228.6,324.94 C228.15,327.03 227.49,329.12 226.93,331.22 C226.37,333.31 225.78,335.41 225.25,337.5 C224.73,339.6 224.24,341.69 223.79,343.79 C223.33,345.88 222.88,347.98 222.53,350.07 C222.18,352.17 221.97,354.26 221.69,356.36 C221.41,358.45 221.06,360.89 220.85,362.64 C220.65,364.38 220.4,365.43 220.44,366.83 C220.47,368.23 220.68,369.62 221.06,371.02 C221.45,372.41 222.18,373.81 222.74,375.21 C223.3,376.6 223.86,378 224.42,379.4 C224.97,380.79 225.57,382.19 226.09,383.59 C226.61,384.98 227.07,386.38 227.56,387.78 C228.05,389.17 228.6,390.57 229.02,391.96 C229.44,393.36 229.76,394.41 230.07,396.15 C230.39,397.9 230.66,399.3 230.91,402.44 C231.15,405.58 231.43,412.91 231.54,415.01 C231.64,417.1 231.43,417.1 231.54,415.01 C231.64,412.91 231.92,405.58 232.17,402.44 C232.41,399.3 232.69,397.9 233,396.15 C233.32,394.41 233.63,393.36 234.05,391.96 C234.47,390.57 235.03,389.17 235.52,387.78 C236.01,386.38 236.46,384.98 236.98,383.59 C237.51,382.19 238.1,380.79 238.66,379.4 C239.22,378 239.78,376.6 240.34,375.21 C240.89,373.81 241.63,372.41 242.01,371.02 C242.39,369.62 242.6,368.23 242.64,366.83 C242.67,365.43 242.43,364.38 242.22,362.64 C242.01,360.89 241.66,358.45 241.38,356.36 C241.1,354.26 240.89,352.17 240.54,350.07 C240.2,347.98 239.74,345.88 239.29,343.79 C238.83,341.69 238.35,339.6 237.82,337.5 C237.3,335.41 236.7,333.31 236.15,331.22 C235.59,329.12 234.92,327.03 234.47,324.94 C234.02,322.84 233.74,321.09 233.42,318.65 C233.11,316.21 232.83,313.07 232.58,310.27 C232.34,307.48 232.13,304.69 231.96,301.89 C231.78,299.1 231.61,294.91 231.54,293.51 C231.47,292.12 231.61,292.12 231.54,293.51Z" fill="#b400d2" stroke="#1a1a1a" stroke-width="0.45" stroke-linejoin="round"/>
<line x1="231.54" y1="322.84" x2="231.54" y2="398.25" stroke="#1a1a1a" stroke-width="0.5"/>
<rect x="228.81" y="345.25" width="5.45" height="25.76" fill="#fff" stroke="#1a1a1a" stroke-width="0.5"/>
<line x1="228.81" y1="359.08" x2="234.26" y2="359.08" stroke="#1a1a1a" stroke-width="0.6"/>
<text transform="translate(263.12 278.82) scale(1.0 1)" x="0" y="0" font-size="12.8" font-weight="bold" font-family="'DejaVu Sans', 'Liberation Sans', sans-serif" fill="#000" stroke="#000" stroke-width="0.45" stroke-linejoin="round">e</text>
<path d="M300.69,278.64 V432.39 H360.6" fill="none" stroke="#4d4d4d" stroke-width="0.8"/>
<line x1="296.49" y1="294.98" x2="300.69" y2="294.98" stroke="#4d4d4d" stroke-width="0.8"/>
<text x="293.29" y="298.23" font-size="9.2" text-anchor="end">110</text>
<line x1="296.49" y1="323.47" x2="300.69" y2="323.47" stroke="#4d4d4d" stroke-width="0.8"/>
<text x="293.29" y="326.72" font-size="9.2" text-anchor="end">105</text>
<line x1="296.49" y1="352.17" x2="300.69" y2="352.17" stroke="#4d4d4d" stroke-width="0.8"/>
<text x="293.29" y="355.42" font-size="9.2" text-anchor="end">100</text>
<line x1="296.49" y1="381.07" x2="300.69" y2="381.07" stroke="#4d4d4d" stroke-width="0.8"/>
<text x="293.29" y="384.32" font-size="9.2" text-anchor="end">95</text>
<line x1="296.49" y1="409.98" x2="300.69" y2="409.98" stroke="#4d4d4d" stroke-width="0.8"/>
<text x="293.29" y="413.23" font-size="9.2" text-anchor="end">90</text>
<line x1="316.61" y1="432.18" x2="316.61" y2="436.78" stroke="#4d4d4d" stroke-width="0.8"/>
<text x="316.61" y="447.47" font-size="9.2" text-anchor="middle">Os</text>
<line x1="344.26" y1="432.18" x2="344.26" y2="436.78" stroke="#4d4d4d" stroke-width="0.8"/>
<text x="344.26" y="447.47" font-size="9.2" text-anchor="middle">Or</text>
<text x="271.58" y="355.31" font-size="9.2" text-anchor="middle" transform="rotate(-90 271.58 355.31)">Gene density</text>
<text x="310.12" y="287.86" font-size="9.2"><tspan font-style="italic">P</tspan> = 2.1 × 10<tspan font-size="5.6" dy="-4">–3</tspan></text>
<path d="M316.61,293.51 V290.79 H344.26 V293.51" fill="none" stroke="#555" stroke-width="0.7"/>
<path d="M316.61,293.51 C316.54,294.21 316.37,296.31 316.19,297.7 C316.02,299.1 315.91,300.5 315.56,301.89 C315.21,303.29 314.69,304.69 314.1,306.08 C313.5,307.48 312.74,308.88 312,310.27 C311.27,311.67 310.43,313.07 309.7,314.46 C308.97,315.86 308.2,317.25 307.6,318.65 C307.01,320.05 306.56,321.44 306.14,322.84 C305.72,324.24 305.33,325.63 305.09,327.03 C304.85,328.43 304.67,329.82 304.67,331.22 C304.67,332.62 304.85,334.01 305.09,335.41 C305.33,336.8 305.75,338.2 306.14,339.6 C306.52,340.99 307.01,342.39 307.39,343.79 C307.78,345.18 308.13,346.58 308.44,347.98 C308.76,349.37 309.04,350.77 309.28,352.17 C309.52,353.56 309.66,354.96 309.91,356.36 C310.15,357.75 310.47,359.15 310.75,360.54 C311.02,361.94 311.3,363.34 311.58,364.73 C311.86,366.13 312.14,367.53 312.42,368.92 C312.7,370.32 312.98,371.72 313.26,373.11 C313.54,374.51 313.82,375.91 314.1,377.3 C314.38,378.7 314.69,380.09 314.94,381.49 C315.18,382.89 315.35,383.94 315.56,385.68 C315.77,387.43 316.02,389.52 316.19,391.96 C316.37,394.41 316.54,398.95 316.61,400.34 C316.68,401.74 316.54,401.74 316.61,400.34 C316.68,398.95 316.86,394.41 317.03,391.96 C317.2,389.52 317.45,387.43 317.66,385.68 C317.87,383.94 318.04,382.89 318.29,381.49 C318.53,380.09 318.85,378.7 319.12,377.3 C319.4,375.91 319.68,374.51 319.96,373.11 C320.24,371.72 320.52,370.32 320.8,368.92 C321.08,367.53 321.36,366.13 321.64,364.73 C321.92,363.34 322.2,361.94 322.48,360.54 C322.76,359.15 323.07,357.75 323.31,356.36 C323.56,354.96 323.7,353.56 323.94,352.17 C324.19,350.77 324.47,349.37 324.78,347.98 C325.09,346.58 325.44,345.18 325.83,343.79 C326.21,342.39 326.7,340.99 327.08,339.6 C327.47,338.2 327.89,336.8 328.13,335.41 C328.38,334.01 328.55,332.62 328.55,331.22 C328.55,329.82 328.38,328.43 328.13,327.03 C327.89,325.63 327.5,324.24 327.08,322.84 C326.67,321.44 326.21,320.05 325.62,318.65 C325.02,317.25 324.26,315.86 323.52,314.46 C322.79,313.07 321.95,311.67 321.22,310.27 C320.49,308.88 319.72,307.48 319.12,306.08 C318.53,304.69 318.01,303.29 317.66,301.89 C317.31,300.5 317.2,299.1 317.03,297.7 C316.86,296.31 316.68,294.21 316.61,293.51 C316.54,292.82 316.68,292.82 316.61,293.51Z" fill="#00e65a" stroke="#1a1a1a" stroke-width="0.45" stroke-linejoin="round"/>
<line x1="316.61" y1="318.65" x2="316.61" y2="371.02" stroke="#1a1a1a" stroke-width="0.5"/>
<rect x="313.89" y="329.54" width="5.66" height="26.81" fill="#fff" stroke="#1a1a1a" stroke-width="0.5"/>
<line x1="313.89" y1="338.13" x2="319.54" y2="338.13" stroke="#1a1a1a" stroke-width="0.6"/>
<path d="M344.26,302.94 C344.19,303.81 344.02,306.26 343.84,308.18 C343.67,310.1 343.46,312.72 343.21,314.46 C342.97,316.21 342.69,317.25 342.38,318.65 C342.06,320.05 341.68,321.44 341.33,322.84 C340.98,324.24 340.63,325.63 340.28,327.03 C339.93,328.43 339.58,329.82 339.23,331.22 C338.88,332.62 338.54,334.01 338.19,335.41 C337.84,336.8 337.49,338.2 337.14,339.6 C336.79,340.99 336.41,342.39 336.09,343.79 C335.78,345.18 335.5,346.58 335.25,347.98 C335.01,349.37 334.87,350.77 334.63,352.17 C334.38,353.56 334.14,354.96 333.79,356.36 C333.44,357.75 332.95,359.15 332.53,360.54 C332.11,361.94 331.59,363.51 331.27,364.73 C330.96,365.96 330.68,366.83 330.65,367.88 C330.61,368.92 330.61,369.8 331.06,371.02 C331.52,372.24 332.57,373.81 333.37,375.21 C334.17,376.6 335.08,378 335.88,379.4 C336.68,380.79 337.45,382.19 338.19,383.59 C338.92,384.98 339.65,386.38 340.28,387.78 C340.91,389.17 341.47,390.57 341.96,391.96 C342.45,393.36 342.9,394.41 343.21,396.15 C343.53,397.9 343.67,398.42 343.84,402.44 C344.02,406.45 344.19,417.28 344.26,420.24 C344.33,423.21 344.19,423.21 344.26,420.24 C344.33,417.28 344.5,406.45 344.68,402.44 C344.85,398.42 344.99,397.9 345.31,396.15 C345.62,394.41 346.08,393.36 346.56,391.96 C347.05,390.57 347.61,389.17 348.24,387.78 C348.87,386.38 349.6,384.98 350.34,383.59 C351.07,382.19 351.84,380.79 352.64,379.4 C353.44,378 354.35,376.6 355.15,375.21 C355.96,373.81 357,372.24 357.46,371.02 C357.91,369.8 357.91,368.92 357.88,367.88 C357.84,366.83 357.56,365.96 357.25,364.73 C356.93,363.51 356.41,361.94 355.99,360.54 C355.57,359.15 355.08,357.75 354.73,356.36 C354.38,354.96 354.14,353.56 353.9,352.17 C353.65,350.77 353.51,349.37 353.27,347.98 C353.02,346.58 352.74,345.18 352.43,343.79 C352.12,342.39 351.73,340.99 351.38,339.6 C351.03,338.2 350.68,336.8 350.34,335.41 C349.99,334.01 349.64,332.62 349.29,331.22 C348.94,329.82 348.59,328.43 348.24,327.03 C347.89,325.63 347.54,324.24 347.19,322.84 C346.84,321.44 346.46,320.05 346.15,318.65 C345.83,317.25 345.55,316.21 345.31,314.46 C345.06,312.72 344.85,310.1 344.68,308.18 C344.5,306.26 344.33,303.81 344.26,302.94 C344.19,302.07 344.33,302.07 344.26,302.94Z" fill="#b400d2" stroke="#1a1a1a" stroke-width="0.45" stroke-linejoin="round"/>
<line x1="344.26" y1="329.12" x2="344.26" y2="394.06" stroke="#1a1a1a" stroke-width="0.5"/>
<rect x="341.54" y="347.98" width="5.24" height="23.04" fill="#fff" stroke="#1a1a1a" stroke-width="0.5"/>
<line x1="341.54" y1="364.11" x2="346.77" y2="364.11" stroke="#1a1a1a" stroke-width="0.6"/>
</g>
<g id="panel_f">
<text transform="translate(398.9 278.4) scale(1.0 1)" x="0" y="0" font-size="12.8" font-weight="bold" font-family="'DejaVu Sans', 'Liberation Sans', sans-serif" fill="#000" stroke="#000" stroke-width="0.45" stroke-linejoin="round">f</text>
<path d="M432.6,432.46V431.61h1.0V432.46ZM434.44,432.56V431.53h1.0V432.56ZM436.29,432.65V431.45h1.0V432.65ZM438.13,432.75V431.37h1.0V432.75ZM439.98,432.85V431.29h1.0V432.85ZM441.82,432.95V431.21h1.0V432.95ZM443.66,433.05V431.13h1.0V433.05ZM445.51,433.15V431.05h1.0V433.15ZM447.35,433.24V431.92h1.0V433.24ZM449.19,433.29V433.22h1.0V433.29ZM451.04,433.27V433.2h1.0V433.27ZM452.88,433.24V433.17h1.0V433.24ZM454.73,433.21V433.15h1.0V433.21ZM456.57,433.19V433.13h1.0V433.19ZM458.41,433.19V433.11h1.0V433.19ZM460.26,433.13V433.09h1.0V433.13ZM462.1,433.13V433.06h1.0V433.13ZM463.95,433.07V433.04h1.0V433.07ZM465.79,433.08V433.02h1.0V433.08ZM467.63,433.08V433h1.0V433.08ZM469.48,433.04V432.97h1.0V433.04ZM471.32,433.03V432.95h1.0V433.03ZM473.17,432.95V432.93h1.0V432.95ZM475.01,432.95V432.91h1.0V432.95ZM476.85,432.94V432.89h1.0V432.94ZM478.7,432.95V432.79h1.0V432.95ZM480.54,432.91V432.69h1.0V432.91ZM482.38,432.87V432.59h1.0V432.87ZM484.23,432.83V432.49h1.0V432.83ZM486.07,432.84V432.39h1.0V432.84ZM487.92,432.77V432.29h1.0V432.77ZM489.76,432.74V432.17h1.0V432.74ZM491.6,432.5V431.93h1.0V432.5ZM493.45,432.42V431.68h1.0V432.42ZM495.29,432.29V431.44h1.0V432.29ZM497.14,431.94V431.19h1.0V431.94ZM498.98,431.83V430.94h1.0V431.83ZM500.82,431.58V430.7h1.0V431.58ZM502.67,431.43V430.45h1.0V431.43ZM504.51,431.35V430.21h1.0V431.35ZM506.36,431.04V429.96h1.0V431.04ZM508.2,430.92V429.35h1.0V430.92ZM510.04,430.48V428.75h1.0V430.48ZM511.89,430.44V428.14h1.0V430.44ZM513.73,430.22V427.54h1.0V430.22ZM515.57,429.83V426.9h1.0V429.83ZM517.42,430.08V426.24h1.0V430.08ZM519.26,429.6V425.57h1.0V429.6ZM521.11,429.54V424.91h1.0V429.54ZM522.95,429.61V424.24h1.0V429.61ZM524.79,428.86V423.57h1.0V428.86ZM526.64,429.1V422.76h1.0V429.1ZM528.48,428.32V421.92h1.0V428.32ZM530.33,428.5V421.07h1.0V428.5ZM532.17,427.85V420.22h1.0V427.85ZM534.01,427.64V419.38h1.0V427.64ZM535.86,427.91V418.52h1.0V427.91ZM537.7,427.16V417.6h1.0V427.16ZM539.55,427.83V416.77h1.0V427.83ZM541.39,427.65V416.23h1.0V427.65ZM543.23,427.25V415.68h1.0V427.25ZM545.08,427.43V415.14h1.0V427.43ZM546.92,427.15V414.59h1.0V427.15ZM548.76,426.87V414.05h1.0V426.87ZM550.61,426.62V413.47h1.0V426.62ZM552.45,426.62V412.86h1.0V426.62ZM554.3,427.27V412.26h1.0V427.27ZM556.14,426.21V411.65h1.0V426.21ZM557.98,426.09V411.05h1.0V426.09ZM559.83,426.54V410.44h1.0V426.54ZM561.67,425.95V410.11h1.0V425.95ZM563.52,426.5V409.81h1.0V426.5ZM565.36,426.1V409.5h1.0V426.1ZM567.2,426.02V409.2h1.0V426.02ZM569.05,425.6V408.9h1.0V425.6ZM570.89,424.98V408.5h1.0V424.98ZM572.74,423.82V407.78h1.0V423.82ZM574.58,424.83V407.05h1.0V424.83ZM576.42,424.2V406.33h1.0V424.2ZM578.27,424.36V405.6h1.0V424.36ZM580.11,422.39V404.87h1.0V422.39ZM581.95,423V404.31h1.0V423ZM583.8,423.33V403.87h1.0V423.33ZM585.64,422.51V403.44h1.0V422.51ZM587.49,422.28V398.5h1.0V422.28ZM589.33,419.9V396.99h1.0V419.9ZM591.17,421.39V396.63h1.0V421.39ZM593.02,421.25V396.26h1.0V421.25ZM594.86,418.21V395.9h1.0V418.21ZM596.71,418.47V395.53h1.0V418.47ZM598.55,418.91V395.17h1.0V418.91ZM600.39,417.21V394.43h1.0V417.21ZM602.24,416.52V386.34h1.0V416.52ZM604.08,417.1V385.09h1.0V417.1ZM605.93,413.17V384.51h1.0V413.17ZM607.77,414.76V383.92h1.0V414.76ZM609.61,416.12V383.34h1.0V416.12ZM611.46,416.96V382.76h1.0V416.96ZM613.3,418.15V382.18h1.0V418.15ZM615.14,416.94V381.6h1.0V416.94ZM616.99,415.12V381.01h1.0V415.12ZM618.83,415.56V380.44h1.0V415.56ZM620.68,413.19V379.94h1.0V413.19ZM622.52,415.05V372.55h1.0V415.05ZM624.36,415.09V371.22h1.0V415.09ZM626.21,409.12V369.88h1.0V409.12ZM628.05,405.73V368.55h1.0V405.73ZM629.9,414.12V367.39h1.0V414.12ZM631.74,413.55V366.49h1.0V413.55ZM633.58,414.38V365.58h1.0V414.38ZM635.43,412.48V364.61h1.0V412.48ZM637.27,412.28V360.37h1.0V412.28ZM639.12,409.52V356.86h1.0V409.52ZM640.96,407.99V354.93h1.0V407.99ZM642.8,395.5V352.99h1.0V395.5ZM644.65,391.13V349.09h1.0V391.13ZM646.49,405.81V343.04h1.0V405.81ZM648.33,403.43V339.33h1.0V403.43ZM650.18,396.02V336.4h1.0V396.02ZM652.02,385.18V322.66h1.0V385.18ZM653.87,379.31V313.58h1.0V379.31ZM655.71,389.15V312.43h1.0V389.15ZM657.55,393.55V304.19h1.0V393.55ZM659.4,390.63V302.83h1.0V390.63ZM661.24,391.25V301.76h1.0V391.25ZM663.09,390.89V300.7h1.0V390.89ZM664.93,394.9V299.66h1.0V394.9ZM666.77,391.61V298.82h1.0V391.61ZM668.62,391.96V297.99h1.0V391.96ZM670.46,396.06V297.16h1.0V396.06ZM672.31,392.63V296.33h1.0V392.63ZM674.15,395.05V295.5h1.0V395.05ZM675.99,380.01V294.66h1.0V380.01ZM677.84,384.05V293.83h1.0V384.05ZM679.68,392.33V293h1.0V392.33ZM681.52,399.18V292.22h1.0V399.18ZM683.37,399.51V301.41h1.0V399.51ZM685.21,394.12V301.15h1.0V394.12ZM687.06,390.35V298.52h1.0V390.35Z" fill="#a3ebe8"/>
<path d="M432.6,432.77V432.46h1.0V432.77ZM434.44,432.84V432.56h1.0V432.84ZM436.29,432.9V432.65h1.0V432.9ZM438.13,432.97V432.75h1.0V432.97ZM439.98,433.03V432.85h1.0V433.03ZM441.82,433.1V432.95h1.0V433.1ZM443.66,433.17V433.05h1.0V433.17ZM445.51,433.23V433.15h1.0V433.23ZM447.35,433.3V433.24h1.0V433.3ZM449.19,433.33V433.29h1.0V433.33ZM451.04,433.31V433.27h1.0V433.31ZM452.88,433.3V433.24h1.0V433.3ZM454.73,433.3V433.21h1.0V433.3ZM456.57,433.29V433.19h1.0V433.29ZM458.41,433.28V433.19h1.0V433.28ZM460.26,433.25V433.13h1.0V433.25ZM462.1,433.25V433.13h1.0V433.25ZM463.95,433.22V433.07h1.0V433.22ZM465.79,433.21V433.08h1.0V433.21ZM467.63,433.18V433.08h1.0V433.18ZM469.48,433.17V433.04h1.0V433.17ZM471.32,433.2V433.03h1.0V433.2ZM473.17,433.18V432.95h1.0V433.18ZM475.01,433.17V432.95h1.0V433.17ZM476.85,433.13V432.94h1.0V433.13ZM478.7,433.13V432.95h1.0V433.13ZM480.54,433.15V432.91h1.0V433.15ZM482.38,433.09V432.87h1.0V433.09ZM484.23,433.11V432.83h1.0V433.11ZM486.07,433.08V432.84h1.0V433.08ZM487.92,433.04V432.77h1.0V433.04ZM489.76,433.07V432.74h1.0V433.07ZM491.6,432.94V432.5h1.0V432.94ZM493.45,432.81V432.42h1.0V432.81ZM495.29,432.67V432.29h1.0V432.67ZM497.14,432.66V431.94h1.0V432.66ZM498.98,432.61V431.83h1.0V432.61ZM500.82,432.55V431.58h1.0V432.55ZM502.67,432.27V431.43h1.0V432.27ZM504.51,432.14V431.35h1.0V432.14ZM506.36,432.08V431.04h1.0V432.08ZM508.2,432.01V430.92h1.0V432.01ZM510.04,431.82V430.48h1.0V431.82ZM511.89,431.85V430.44h1.0V431.85ZM513.73,431.91V430.22h1.0V431.91ZM515.57,431.56V429.83h1.0V431.56ZM517.42,431.34V430.08h1.0V431.34ZM519.26,431.42V429.6h1.0V431.42ZM521.11,431.48V429.54h1.0V431.48ZM522.95,431.28V429.61h1.0V431.28ZM524.79,431.23V428.86h1.0V431.23ZM526.64,431.07V429.1h1.0V431.07ZM528.48,430.78V428.32h1.0V430.78ZM530.33,430.87V428.5h1.0V430.87ZM532.17,430.42V427.85h1.0V430.42ZM534.01,430.09V427.64h1.0V430.09ZM535.86,430.36V427.91h1.0V430.36ZM537.7,430.17V427.16h1.0V430.17ZM539.55,429.55V427.83h1.0V429.55ZM541.39,430.09V427.65h1.0V430.09ZM543.23,429.93V427.25h1.0V429.93ZM545.08,429.49V427.43h1.0V429.49ZM546.92,429.92V427.15h1.0V429.92ZM548.76,429.46V426.87h1.0V429.46ZM550.61,428.75V426.62h1.0V428.75ZM552.45,429.07V426.62h1.0V429.07ZM554.3,428.78V427.27h1.0V428.78ZM556.14,428.41V426.21h1.0V428.41ZM557.98,428.3V426.09h1.0V428.3ZM559.83,428.73V426.54h1.0V428.73ZM561.67,428.9V425.95h1.0V428.9ZM563.52,428.79V426.5h1.0V428.79ZM565.36,428.44V426.1h1.0V428.44ZM567.2,428.09V426.02h1.0V428.09ZM569.05,428.38V425.6h1.0V428.38ZM570.89,428.08V424.98h1.0V428.08ZM572.74,428.03V423.82h1.0V428.03ZM574.58,426.99V424.83h1.0V426.99ZM576.42,427.36V424.2h1.0V427.36ZM578.27,427.01V424.36h1.0V427.01ZM580.11,426.04V422.39h1.0V426.04ZM581.95,426.39V423h1.0V426.39ZM583.8,426.71V423.33h1.0V426.71ZM585.64,425.9V422.51h1.0V425.9ZM587.49,424.6V422.28h1.0V424.6ZM589.33,425.85V419.9h1.0V425.85ZM591.17,424.46V421.39h1.0V424.46ZM593.02,424.06V421.25h1.0V424.06ZM594.86,423.73V418.21h1.0V423.73ZM596.71,422.56V418.47h1.0V422.56ZM598.55,423.66V418.91h1.0V423.66ZM600.39,423.56V417.21h1.0V423.56ZM602.24,422.29V416.52h1.0V422.29ZM604.08,422.65V417.1h1.0V422.65ZM605.93,421.16V413.17h1.0V421.16ZM607.77,420.85V414.76h1.0V420.85ZM609.61,420.75V416.12h1.0V420.75ZM611.46,422.25V416.96h1.0V422.25ZM613.3,421.7V418.15h1.0V421.7ZM615.14,422.49V416.94h1.0V422.49ZM616.99,421.64V415.12h1.0V421.64ZM618.83,419.35V415.56h1.0V419.35ZM620.68,419.21V413.19h1.0V419.21ZM622.52,418.95V415.05h1.0V418.95ZM624.36,420.94V415.09h1.0V420.94ZM626.21,420.68V409.12h1.0V420.68ZM628.05,418.9V405.73h1.0V418.9ZM629.9,417.77V414.12h1.0V417.77ZM631.74,418.05V413.55h1.0V418.05ZM633.58,419.74V414.38h1.0V419.74ZM635.43,416.34V412.48h1.0V416.34ZM637.27,416.55V412.28h1.0V416.55ZM639.12,418.39V409.52h1.0V418.39ZM640.96,417.44V407.99h1.0V417.44ZM642.8,414.49V395.5h1.0V414.49ZM644.65,416.18V391.13h1.0V416.18ZM646.49,413.79V405.81h1.0V413.79ZM648.33,415.58V403.43h1.0V415.58ZM650.18,410.86V396.02h1.0V410.86ZM652.02,413.72V385.18h1.0V413.72ZM653.87,408.33V379.31h1.0V408.33ZM655.71,410.98V389.15h1.0V410.98ZM657.55,411.54V393.55h1.0V411.54ZM659.4,405.9V390.63h1.0V405.9ZM661.24,407.8V391.25h1.0V407.8ZM663.09,407.66V390.89h1.0V407.66ZM664.93,404.47V394.9h1.0V404.47ZM666.77,407.94V391.61h1.0V407.94ZM668.62,407.79V391.96h1.0V407.79ZM670.46,407.44V396.06h1.0V407.44ZM672.31,408.07V392.63h1.0V408.07ZM674.15,406.35V395.05h1.0V406.35ZM675.99,404.57V380.01h1.0V404.57ZM677.84,405.48V384.05h1.0V405.48ZM679.68,404.72V392.33h1.0V404.72ZM681.52,404.37V399.18h1.0V404.37ZM683.37,404.75V399.51h1.0V404.75ZM685.21,407.62V394.12h1.0V407.62ZM687.06,406.25V390.35h1.0V406.25Z" fill="#f9a3b6"/>
<path d="M432.6,433.4V432.77h1.0V433.4ZM434.44,433.4V432.84h1.0V433.4ZM436.29,433.4V432.9h1.0V433.4ZM438.13,433.4V432.97h1.0V433.4ZM439.98,433.4V433.03h1.0V433.4ZM441.82,433.4V433.1h1.0V433.4ZM443.66,433.4V433.17h1.0V433.4ZM445.51,433.4V433.23h1.0V433.4ZM447.35,433.4V433.3h1.0V433.4ZM449.19,433.4V433.33h1.0V433.4ZM451.04,433.4V433.31h1.0V433.4ZM452.88,433.4V433.3h1.0V433.4ZM454.73,433.4V433.3h1.0V433.4ZM456.57,433.4V433.29h1.0V433.4ZM458.41,433.4V433.28h1.0V433.4ZM460.26,433.4V433.25h1.0V433.4ZM462.1,433.4V433.25h1.0V433.4ZM463.95,433.4V433.22h1.0V433.4ZM465.79,433.4V433.21h1.0V433.4ZM467.63,433.4V433.18h1.0V433.4ZM469.48,433.4V433.17h1.0V433.4ZM471.32,433.4V433.2h1.0V433.4ZM473.17,433.4V433.18h1.0V433.4ZM475.01,433.4V433.17h1.0V433.4ZM476.85,433.4V433.13h1.0V433.4ZM478.7,433.4V433.13h1.0V433.4ZM480.54,433.4V433.15h1.0V433.4ZM482.38,433.4V433.09h1.0V433.4ZM484.23,433.4V433.11h1.0V433.4ZM486.07,433.4V433.08h1.0V433.4ZM487.92,433.4V433.04h1.0V433.4ZM489.76,433.4V433.07h1.0V433.4ZM491.6,433.4V432.94h1.0V433.4ZM493.45,433.4V432.81h1.0V433.4ZM495.29,433.4V432.67h1.0V433.4ZM497.14,433.4V432.66h1.0V433.4ZM498.98,433.4V432.61h1.0V433.4ZM500.82,433.4V432.55h1.0V433.4ZM502.67,433.4V432.27h1.0V433.4ZM504.51,433.4V432.14h1.0V433.4ZM506.36,433.4V432.08h1.0V433.4ZM508.2,433.4V432.01h1.0V433.4ZM510.04,433.4V431.82h1.0V433.4ZM511.89,433.4V431.85h1.0V433.4ZM513.73,433.4V431.91h1.0V433.4ZM515.57,433.4V431.56h1.0V433.4ZM517.42,433.4V431.34h1.0V433.4ZM519.26,433.4V431.42h1.0V433.4ZM521.11,433.4V431.48h1.0V433.4ZM522.95,433.4V431.28h1.0V433.4ZM524.79,433.4V431.23h1.0V433.4ZM526.64,433.4V431.07h1.0V433.4ZM528.48,433.4V430.78h1.0V433.4ZM530.33,433.4V430.87h1.0V433.4ZM532.17,433.4V430.42h1.0V433.4ZM534.01,433.4V430.09h1.0V433.4ZM535.86,433.4V430.36h1.0V433.4ZM537.7,433.4V430.17h1.0V433.4ZM539.55,433.4V429.55h1.0V433.4ZM541.39,433.4V430.09h1.0V433.4ZM543.23,433.4V429.93h1.0V433.4ZM545.08,433.4V429.49h1.0V433.4ZM546.92,433.4V429.92h1.0V433.4ZM548.76,433.4V429.46h1.0V433.4ZM550.61,433.4V428.75h1.0V433.4ZM552.45,433.4V429.07h1.0V433.4ZM554.3,433.4V428.78h1.0V433.4ZM556.14,433.4V428.41h1.0V433.4ZM557.98,433.4V428.3h1.0V433.4ZM559.83,433.4V428.73h1.0V433.4ZM561.67,433.4V428.9h1.0V433.4ZM563.52,433.4V428.79h1.0V433.4ZM565.36,433.4V428.44h1.0V433.4ZM567.2,433.4V428.09h1.0V433.4ZM569.05,433.4V428.38h1.0V433.4ZM570.89,433.4V428.08h1.0V433.4ZM572.74,433.4V428.03h1.0V433.4ZM574.58,433.4V426.99h1.0V433.4ZM576.42,433.4V427.36h1.0V433.4ZM578.27,433.4V427.01h1.0V433.4ZM580.11,433.4V426.04h1.0V433.4ZM581.95,433.4V426.39h1.0V433.4ZM583.8,433.4V426.71h1.0V433.4ZM585.64,433.4V425.9h1.0V433.4ZM587.49,433.4V424.6h1.0V433.4ZM589.33,433.4V425.85h1.0V433.4ZM591.17,433.4V424.46h1.0V433.4ZM593.02,433.4V424.06h1.0V433.4ZM594.86,433.4V423.73h1.0V433.4ZM596.71,433.4V422.56h1.0V433.4ZM598.55,433.4V423.66h1.0V433.4ZM600.39,433.4V423.56h1.0V433.4ZM602.24,433.4V422.29h1.0V433.4ZM604.08,433.4V422.65h1.0V433.4ZM605.93,433.4V421.16h1.0V433.4ZM607.77,433.4V420.85h1.0V433.4ZM609.61,433.4V420.75h1.0V433.4ZM611.46,433.4V422.25h1.0V433.4ZM613.3,433.4V421.7h1.0V433.4ZM615.14,433.4V422.49h1.0V433.4ZM616.99,433.4V421.64h1.0V433.4ZM618.83,433.4V419.35h1.0V433.4ZM620.68,433.4V419.21h1.0V433.4ZM622.52,433.4V418.95h1.0V433.4ZM624.36,433.4V420.94h1.0V433.4ZM626.21,433.4V420.68h1.0V433.4ZM628.05,433.4V418.9h1.0V433.4ZM629.9,433.4V417.77h1.0V433.4ZM631.74,433.4V418.05h1.0V433.4ZM633.58,433.4V419.74h1.0V433.4ZM635.43,433.4V416.34h1.0V433.4ZM637.27,433.4V416.55h1.0V433.4ZM639.12,433.4V418.39h1.0V433.4ZM640.96,433.4V417.44h1.0V433.4ZM642.8,433.4V414.49h1.0V433.4ZM644.65,433.4V416.18h1.0V433.4ZM646.49,433.4V413.79h1.0V433.4ZM648.33,433.4V415.58h1.0V433.4ZM650.18,433.4V410.86h1.0V433.4ZM652.02,433.4V413.72h1.0V433.4ZM653.87,433.4V408.33h1.0V433.4ZM655.71,433.4V410.98h1.0V433.4ZM657.55,433.4V411.54h1.0V433.4ZM659.4,433.4V405.9h1.0V433.4ZM661.24,433.4V407.8h1.0V433.4ZM663.09,433.4V407.66h1.0V433.4ZM664.93,433.4V404.47h1.0V433.4ZM666.77,433.4V407.94h1.0V433.4ZM668.62,433.4V407.79h1.0V433.4ZM670.46,433.4V407.44h1.0V433.4ZM672.31,433.4V408.07h1.0V433.4ZM674.15,433.4V406.35h1.0V433.4ZM675.99,433.4V404.57h1.0V433.4ZM677.84,433.4V405.48h1.0V433.4ZM679.68,433.4V404.72h1.0V433.4ZM681.52,433.4V404.37h1.0V433.4ZM683.37,433.4V404.75h1.0V433.4ZM685.21,433.4V407.62h1.0V433.4ZM687.06,433.4V406.25h1.0V433.4Z" fill="#f3d2ac"/>
<path d="M602.24,386.34v-0.9h1.0v0.9ZM604.08,385.09v-0.9h1.0v0.9ZM605.93,384.51v-0.9h1.0v0.9ZM607.77,383.92v-0.9h1.0v0.9ZM609.61,383.34v-0.9h1.0v0.9ZM611.46,382.76v-0.9h1.0v0.9ZM613.3,382.18v-0.9h1.0v0.9ZM615.14,381.6v-0.9h1.0v0.9ZM616.99,381.01v-0.9h1.0v0.9ZM618.83,380.44v-0.9h1.0v0.9ZM620.68,379.94v-0.9h1.0v0.9ZM622.52,372.55v-0.9h1.0v0.9ZM624.36,371.22v-0.9h1.0v0.9ZM626.21,369.88v-0.9h1.0v0.9ZM628.05,368.55v-0.9h1.0v0.9ZM629.9,367.39v-0.9h1.0v0.9ZM631.74,366.49v-0.9h1.0v0.9ZM633.58,365.58v-0.9h1.0v0.9ZM635.43,364.61v-0.9h1.0v0.9ZM637.27,360.37v-0.9h1.0v0.9ZM639.12,356.86v-0.9h1.0v0.9ZM640.96,354.93v-0.9h1.0v0.9ZM642.8,352.99v-0.9h1.0v0.9ZM644.65,349.09v-0.9h1.0v0.9ZM646.49,343.04v-0.9h1.0v0.9ZM648.33,339.33v-0.9h1.0v0.9ZM650.18,336.4v-0.9h1.0v0.9ZM652.02,322.66v-0.9h1.0v0.9ZM653.87,313.58v-0.9h1.0v0.9ZM655.71,312.43v-0.9h1.0v0.9ZM657.55,304.19v-0.9h1.0v0.9ZM659.4,302.83v-0.9h1.0v0.9ZM661.24,301.76v-0.9h1.0v0.9ZM663.09,300.7v-0.9h1.0v0.9ZM664.93,299.66v-0.9h1.0v0.9ZM666.77,298.82v-0.9h1.0v0.9ZM668.62,297.99v-0.9h1.0v0.9ZM670.46,297.16v-0.9h1.0v0.9ZM672.31,296.33v-0.9h1.0v0.9ZM674.15,295.5v-0.9h1.0v0.9ZM675.99,294.66v-0.9h1.0v0.9ZM677.84,293.83v-0.9h1.0v0.9ZM679.68,293v-0.9h1.0v0.9ZM681.52,292.22v-0.9h1.0v0.9ZM683.37,301.41v-0.9h1.0v0.9ZM685.21,301.15v-0.9h1.0v0.9ZM687.06,298.52v-0.9h1.0v0.9Z" fill="#4a3a78"/>
<path d="M431.9,278.4V433.4H689.3" fill="none" stroke="#333" stroke-width="0.9"/>
<line x1="427.5" y1="433.4" x2="431.9" y2="433.4" stroke="#333" stroke-width="0.8"/>
<text x="423.5" y="436.65" font-size="9.2" text-anchor="end">0</text>
<line x1="427.5" y1="416.22" x2="431.9" y2="416.22" stroke="#333" stroke-width="0.8"/>
<text x="423.5" y="419.47" font-size="9.2" text-anchor="end">5</text>
<line x1="427.5" y1="399.04" x2="431.9" y2="399.04" stroke="#333" stroke-width="0.8"/>
<text x="423.5" y="402.29" font-size="9.2" text-anchor="end">10</text>
<line x1="427.5" y1="381.87" x2="431.9" y2="381.87" stroke="#333" stroke-width="0.8"/>
<text x="423.5" y="385.12" font-size="9.2" text-anchor="end">15</text>
<line x1="427.5" y1="364.69" x2="431.9" y2="364.69" stroke="#333" stroke-width="0.8"/>
<text x="423.5" y="367.94" font-size="9.2" text-anchor="end">20</text>
<line x1="427.5" y1="347.51" x2="431.9" y2="347.51" stroke="#333" stroke-width="0.8"/>
<text x="423.5" y="350.76" font-size="9.2" text-anchor="end">25</text>
<line x1="427.5" y1="330.33" x2="431.9" y2="330.33" stroke="#333" stroke-width="0.8"/>
<text x="423.5" y="333.58" font-size="9.2" text-anchor="end">30</text>
<line x1="427.5" y1="313.16" x2="431.9" y2="313.16" stroke="#333" stroke-width="0.8"/>
<text x="423.5" y="316.41" font-size="9.2" text-anchor="end">35</text>
<line x1="427.5" y1="295.98" x2="431.9" y2="295.98" stroke="#333" stroke-width="0.8"/>
<text x="423.5" y="299.23" font-size="9.2" text-anchor="end">40</text>
<line x1="427.5" y1="278.8" x2="431.9" y2="278.8" stroke="#333" stroke-width="0.8"/>
<text x="423.5" y="282.05" font-size="9.2" text-anchor="end">45</text>
<text x="406.2" y="356.5" font-size="9.2" text-anchor="middle" transform="rotate(-90 406.2 356.5)">Genes (×10<tspan font-size="5.6" dy="-3.6">3</tspan><tspan dy="3.6">)</tspan></text>
<line x1="432.4" y1="438" x2="447.6" y2="438" stroke="#2fc36b" stroke-width="1.6"/>
<line x1="449.3" y1="438" x2="682.4" y2="438" stroke="#b51fc3" stroke-width="1.6"/>
<line x1="684.2" y1="438" x2="689.2" y2="438" stroke="#8e7f99" stroke-width="1.2"/>
<text x="440.3" y="448.6" font-size="9.2" text-anchor="middle">Os</text>
<text x="566.2" y="448.6" font-size="9.2" text-anchor="middle">Or</text>
<text x="686.8" y="448.6" font-size="9.2" text-anchor="middle">Ol</text>
<rect x="448.7" y="319.7" width="7.2" height="4.9" fill="#6a0dad"/>
<text x="459.5" y="325.4" font-size="9.2">MIP gene</text>
<rect x="448.7" y="337.5" width="7.2" height="4.9" fill="#7fe3e0"/>
<text x="459.5" y="343.2" font-size="9.2">Heterozygous allele</text>
<rect x="448.7" y="354.9" width="7.2" height="4.9" fill="#f27d93"/>
<text x="459.5" y="360.6" font-size="9.2">Homozygous allele</text>
<rect x="448.7" y="372.2" width="7.2" height="4.9" fill="#e8aa78"/>
<text x="459.5" y="377.9" font-size="9.2">Other</text>
</g>
<g id="panel_i">
<text transform="translate(712.9 282.2) scale(1.0 1)" x="0" y="0" font-size="13.2" font-weight="bold" font-family="'DejaVu Sans', 'Liberation Sans', sans-serif" fill="#000" stroke="#000" stroke-width="0.12" stroke-linejoin="round">i</text>
<path d="M758.4,346.94 759.84,339.86 761.28,335.45 762.73,332.22 764.17,329.5 765.61,327.35 767.05,325.57 768.5,323.8 769.94,322.12 771.38,320.84 772.82,319.56 774.27,318.28 775.71,317.3 777.15,316.39 778.6,315.48 780.04,314.68 781.48,314 782.92,313.32 784.37,312.64 785.81,311.95 787.25,311.27 788.69,310.59 790.13,309.97 791.58,309.39 793.02,308.81 794.46,308.22 795.9,307.64 797.35,307.05 798.79,306.47 800.23,305.98 801.67,305.49 803.12,305.01 804.56,304.52 806,304.04 807.44,303.55 808.89,303.09 810.33,302.75 811.77,302.41 813.21,302.08 814.66,301.74 816.1,301.41 817.54,301.07 818.99,300.75 820.43,300.47 821.87,300.18 823.31,299.9 824.75,299.61 826.2,299.32 827.64,299.04 829.08,298.8 830.52,298.62 831.97,298.43 833.41,298.24 834.85,298.06 836.29,297.87 837.74,297.68 839.18,297.5 840.62,297.31 842.06,297.12 843.51,296.93 844.95,296.74 846.39,296.55 847.83,296.36 849.28,296.24 850.72,296.12 852.16,296 853.61,295.88 855.05,295.77 856.49,295.65 857.93,295.53 859.38,295.41 860.82,295.29 862.26,295.17 863.7,295.05 865.14,294.93 866.59,294.81 868.03,294.7 869.47,294.58 870.91,294.46 872.36,294.34 873.8,294.22 875.24,294.05 876.68,293.87 878.13,293.7 879.57,293.53 881.01,293.35 882.45,293.18 883.9,293.01 885.34,292.83 886.78,292.66 888.22,292.49 889.67,292.31 891.11,292.14 892.55,291.97 894,291.79 895.44,291.62 896.88,291.45 898.32,291.27 899.76,291.1 901.21,290.92 902.65,290.75 904.09,290.6 905.53,290.46 906.98,290.31 908.42,290.16 909.86,290.01 911.3,289.86 912.75,289.72 914.19,289.57 915.63,289.42 917.07,289.27 918.52,289.12 919.96,288.97 921.4,288.83 922.85,288.68 924.29,288.53 925.73,288.38 927.17,288.23 928.62,288.09 930.06,287.94 931.5,287.79 932.94,287.63 934.38,287.48 935.83,287.32 937.27,287.16 938.71,287.01 940.15,286.84 941.6,286.67 941.6,287.57 940.15,287.74 938.71,287.91 937.27,288.09 935.83,288.27 934.38,288.45 932.94,288.63 931.5,288.81 930.06,288.99 928.62,289.16 927.17,289.33 925.73,289.51 924.29,289.68 922.85,289.85 921.4,290.02 919.96,290.2 918.52,290.37 917.07,290.54 915.63,290.72 914.19,290.89 912.75,291.06 911.3,291.23 909.86,291.41 908.42,291.58 906.98,291.75 905.53,291.93 904.09,292.1 902.65,292.27 901.21,292.47 899.76,292.67 898.32,292.87 896.88,293.06 895.44,293.26 894,293.46 892.55,293.66 891.11,293.86 889.67,294.06 888.22,294.25 886.78,294.45 885.34,294.65 883.9,294.85 882.45,295.05 881.01,295.24 879.57,295.44 878.13,295.64 876.68,295.84 875.24,296.04 873.8,296.24 872.36,296.38 870.91,296.52 869.47,296.67 868.03,296.81 866.59,296.95 865.14,297.1 863.7,297.24 862.26,297.39 860.82,297.53 859.38,297.67 857.93,297.82 856.49,297.96 855.05,298.1 853.61,298.25 852.16,298.39 850.72,298.54 849.28,298.68 847.83,298.82 846.39,299.04 844.95,299.25 843.51,299.47 842.06,299.68 840.62,299.89 839.18,300.11 837.74,300.32 836.29,300.53 834.85,300.74 833.41,300.95 831.97,301.17 830.52,301.38 829.08,301.59 827.64,301.85 826.2,302.16 824.75,302.47 823.31,302.78 821.87,303.09 820.43,303.4 818.99,303.71 817.54,304.06 816.1,304.42 814.66,304.78 813.21,305.14 811.77,305.5 810.33,305.86 808.89,306.22 807.44,306.71 806,307.22 804.56,307.73 803.12,308.24 801.67,308.75 800.23,309.26 798.79,309.78 797.35,310.38 795.9,310.99 794.46,311.6 793.02,312.21 791.58,312.82 790.13,313.43 788.69,314.07 787.25,314.77 785.81,315.48 784.37,316.19 782.92,316.9 781.48,317.6 780.04,318.31 778.6,319.13 777.15,320.07 775.71,321 774.27,322.01 772.82,323.31 771.38,324.62 769.94,325.92 768.5,327.62 767.05,329.42 765.61,331.22 764.17,333.4 762.73,336.15 761.28,339.4 759.84,343.83 758.4,350.94Z" fill="#f0d2f4"/>
<path d="M757.4,348.2l1.0,-1.3l1.0,1.3l-1.0,1.3zM757.4,348.5l1.0,-1.3l1.0,1.3l-1.0,1.3zM757.1,349.3l1.0,-1.3l1.0,1.3l-1.0,1.3zM759.0,340.4l1.0,-1.3l1.0,1.3l-1.0,1.3zM758.7,341.1l1.0,-1.3l1.0,1.3l-1.0,1.3zM758.8,343.3l1.0,-1.3l1.0,1.3l-1.0,1.3zM760.3,338.4l1.0,-1.3l1.0,1.3l-1.0,1.3zM760.1,337.8l1.0,-1.3l1.0,1.3l-1.0,1.3zM760.5,337.8l1.0,-1.3l1.0,1.3l-1.0,1.3zM761.9,334.3l1.0,-1.3l1.0,1.3l-1.0,1.3zM761.5,334.7l1.0,-1.3l1.0,1.3l-1.0,1.3zM761.8,334.9l1.0,-1.3l1.0,1.3l-1.0,1.3zM762.9,330.9l1.0,-1.3l1.0,1.3l-1.0,1.3zM763.2,332.5l1.0,-1.3l1.0,1.3l-1.0,1.3zM763.4,332.1l1.0,-1.3l1.0,1.3l-1.0,1.3zM764.9,329.9l1.0,-1.3l1.0,1.3l-1.0,1.3zM764.8,329.0l1.0,-1.3l1.0,1.3l-1.0,1.3zM764.9,329.1l1.0,-1.3l1.0,1.3l-1.0,1.3zM765.8,328.6l1.0,-1.3l1.0,1.3l-1.0,1.3zM765.9,326.4l1.0,-1.3l1.0,1.3l-1.0,1.3zM766.0,328.8l1.0,-1.3l1.0,1.3l-1.0,1.3zM767.4,326.1l1.0,-1.3l1.0,1.3l-1.0,1.3zM767.4,325.7l1.0,-1.3l1.0,1.3l-1.0,1.3zM767.6,325.3l1.0,-1.3l1.0,1.3l-1.0,1.3zM769.2,324.3l1.0,-1.3l1.0,1.3l-1.0,1.3zM769.2,324.5l1.0,-1.3l1.0,1.3l-1.0,1.3zM769.2,325.0l1.0,-1.3l1.0,1.3l-1.0,1.3zM770.2,323.2l1.0,-1.3l1.0,1.3l-1.0,1.3zM770.7,323.7l1.0,-1.3l1.0,1.3l-1.0,1.3zM770.4,323.9l1.0,-1.3l1.0,1.3l-1.0,1.3zM771.7,322.0l1.0,-1.3l1.0,1.3l-1.0,1.3zM771.9,322.4l1.0,-1.3l1.0,1.3l-1.0,1.3zM771.6,320.8l1.0,-1.3l1.0,1.3l-1.0,1.3zM773.6,321.1l1.0,-1.3l1.0,1.3l-1.0,1.3zM773.5,319.0l1.0,-1.3l1.0,1.3l-1.0,1.3zM773.1,319.9l1.0,-1.3l1.0,1.3l-1.0,1.3zM774.9,318.6l1.0,-1.3l1.0,1.3l-1.0,1.3zM774.5,320.2l1.0,-1.3l1.0,1.3l-1.0,1.3zM774.5,319.5l1.0,-1.3l1.0,1.3l-1.0,1.3zM776.1,318.8l1.0,-1.3l1.0,1.3l-1.0,1.3zM776.5,319.3l1.0,-1.3l1.0,1.3l-1.0,1.3zM776.5,318.2l1.0,-1.3l1.0,1.3l-1.0,1.3zM777.4,316.8l1.0,-1.3l1.0,1.3l-1.0,1.3zM777.3,317.6l1.0,-1.3l1.0,1.3l-1.0,1.3zM777.6,316.5l1.0,-1.3l1.0,1.3l-1.0,1.3zM778.9,316.8l1.0,-1.3l1.0,1.3l-1.0,1.3zM779.3,315.3l1.0,-1.3l1.0,1.3l-1.0,1.3zM779.4,316.0l1.0,-1.3l1.0,1.3l-1.0,1.3zM780.4,316.9l1.0,-1.2l1.0,1.2l-1.0,1.2zM780.5,315.7l1.0,-1.2l1.0,1.2l-1.0,1.2zM780.6,316.2l1.0,-1.2l1.0,1.2l-1.0,1.2zM782.0,315.3l1.0,-1.2l1.0,1.2l-1.0,1.2zM782.0,316.3l1.0,-1.2l1.0,1.2l-1.0,1.2zM782.1,314.9l1.0,-1.2l1.0,1.2l-1.0,1.2zM783.3,313.7l1.0,-1.2l1.0,1.2l-1.0,1.2zM783.4,315.7l1.0,-1.2l1.0,1.2l-1.0,1.2zM783.1,314.5l1.0,-1.2l1.0,1.2l-1.0,1.2zM784.9,313.5l0.9,-1.2l0.9,1.2l-0.9,1.2zM784.9,312.4l0.9,-1.2l0.9,1.2l-0.9,1.2zM784.6,314.1l0.9,-1.2l0.9,1.2l-0.9,1.2zM786.3,313.4l0.9,-1.2l0.9,1.2l-0.9,1.2zM786.2,313.5l0.9,-1.2l0.9,1.2l-0.9,1.2zM786.4,313.6l0.9,-1.2l0.9,1.2l-0.9,1.2zM787.5,311.1l0.9,-1.2l0.9,1.2l-0.9,1.2zM788.0,312.8l0.9,-1.2l0.9,1.2l-0.9,1.2zM787.7,311.7l0.9,-1.2l0.9,1.2l-0.9,1.2zM789.1,311.9l0.9,-1.2l0.9,1.2l-0.9,1.2zM789.1,311.3l0.9,-1.2l0.9,1.2l-0.9,1.2zM789.3,311.4l0.9,-1.2l0.9,1.2l-0.9,1.2zM790.6,310.6l0.9,-1.2l0.9,1.2l-0.9,1.2zM790.4,311.8l0.9,-1.2l0.9,1.2l-0.9,1.2zM790.8,311.3l0.9,-1.2l0.9,1.2l-0.9,1.2zM791.9,310.0l0.9,-1.2l0.9,1.2l-0.9,1.2zM791.9,311.3l0.9,-1.2l0.9,1.2l-0.9,1.2zM792.1,309.7l0.9,-1.2l0.9,1.2l-0.9,1.2zM793.3,310.4l0.9,-1.2l0.9,1.2l-0.9,1.2zM793.4,309.5l0.9,-1.2l0.9,1.2l-0.9,1.2zM793.5,310.8l0.9,-1.2l0.9,1.2l-0.9,1.2zM794.8,310.2l0.9,-1.2l0.9,1.2l-0.9,1.2zM795.1,308.9l0.9,-1.2l0.9,1.2l-0.9,1.2zM795.0,310.3l0.9,-1.2l0.9,1.2l-0.9,1.2zM796.2,308.0l0.9,-1.2l0.9,1.2l-0.9,1.2zM796.2,308.8l0.9,-1.2l0.9,1.2l-0.9,1.2zM796.6,309.5l0.9,-1.2l0.9,1.2l-0.9,1.2zM797.7,307.3l0.9,-1.2l0.9,1.2l-0.9,1.2zM798.0,308.9l0.9,-1.2l0.9,1.2l-0.9,1.2zM797.8,308.9l0.9,-1.2l0.9,1.2l-0.9,1.2zM799.2,306.7l0.9,-1.2l0.9,1.2l-0.9,1.2zM799.2,308.3l0.9,-1.2l0.9,1.2l-0.9,1.2zM799.3,307.2l0.9,-1.2l0.9,1.2l-0.9,1.2zM800.7,306.9l0.9,-1.2l0.9,1.2l-0.9,1.2zM800.6,308.1l0.9,-1.2l0.9,1.2l-0.9,1.2zM801.0,305.9l0.9,-1.2l0.9,1.2l-0.9,1.2zM802.5,307.5l0.9,-1.2l0.9,1.2l-0.9,1.2zM802.5,306.5l0.9,-1.2l0.9,1.2l-0.9,1.2zM802.0,307.7l0.9,-1.2l0.9,1.2l-0.9,1.2zM803.9,306.7l0.9,-1.2l0.9,1.2l-0.9,1.2zM803.7,306.5l0.9,-1.2l0.9,1.2l-0.9,1.2zM803.6,305.6l0.9,-1.2l0.9,1.2l-0.9,1.2zM804.8,305.0l0.9,-1.2l0.9,1.2l-0.9,1.2zM805.0,305.8l0.9,-1.2l0.9,1.2l-0.9,1.2zM804.8,306.4l0.9,-1.2l0.9,1.2l-0.9,1.2zM806.7,306.1l0.9,-1.2l0.9,1.2l-0.9,1.2zM806.8,306.1l0.9,-1.2l0.9,1.2l-0.9,1.2zM806.6,306.1l0.9,-1.2l0.9,1.2l-0.9,1.2zM808.1,303.5l0.9,-1.2l0.9,1.2l-0.9,1.2zM807.9,303.9l0.9,-1.2l0.9,1.2l-0.9,1.2zM808.0,305.0l0.9,-1.2l0.9,1.2l-0.9,1.2zM809.7,304.1l0.9,-1.2l0.9,1.2l-0.9,1.2zM809.3,304.6l0.9,-1.2l0.9,1.2l-0.9,1.2zM809.7,303.7l0.9,-1.2l0.9,1.2l-0.9,1.2zM811.1,303.9l0.9,-1.2l0.9,1.2l-0.9,1.2zM810.7,303.6l0.9,-1.2l0.9,1.2l-0.9,1.2zM811.1,304.0l0.9,-1.2l0.9,1.2l-0.9,1.2zM812.5,302.9l0.9,-1.1l0.9,1.1l-0.9,1.1zM812.5,304.6l0.9,-1.1l0.9,1.1l-0.9,1.1zM812.0,304.3l0.9,-1.1l0.9,1.1l-0.9,1.1zM814.0,303.6l0.9,-1.1l0.9,1.1l-0.9,1.1zM813.6,302.2l0.9,-1.1l0.9,1.1l-0.9,1.1zM813.8,302.7l0.9,-1.1l0.9,1.1l-0.9,1.1zM815.2,302.7l0.9,-1.1l0.9,1.1l-0.9,1.1zM814.9,303.5l0.9,-1.1l0.9,1.1l-0.9,1.1zM815.0,301.9l0.9,-1.1l0.9,1.1l-0.9,1.1zM816.4,301.7l0.9,-1.1l0.9,1.1l-0.9,1.1zM816.9,303.6l0.9,-1.1l0.9,1.1l-0.9,1.1zM816.7,301.6l0.9,-1.1l0.9,1.1l-0.9,1.1zM818.0,301.8l0.9,-1.1l0.9,1.1l-0.9,1.1zM818.2,301.9l0.9,-1.1l0.9,1.1l-0.9,1.1zM818.0,302.4l0.9,-1.1l0.9,1.1l-0.9,1.1zM819.5,301.3l0.9,-1.1l0.9,1.1l-0.9,1.1zM819.6,301.1l0.9,-1.1l0.9,1.1l-0.9,1.1zM819.5,302.4l0.9,-1.1l0.9,1.1l-0.9,1.1zM820.8,300.7l0.9,-1.1l0.9,1.1l-0.9,1.1zM821.1,301.4l0.9,-1.1l0.9,1.1l-0.9,1.1zM820.9,302.3l0.9,-1.1l0.9,1.1l-0.9,1.1zM822.5,302.0l0.9,-1.1l0.9,1.1l-0.9,1.1zM822.4,301.2l0.9,-1.1l0.9,1.1l-0.9,1.1zM822.6,301.3l0.9,-1.1l0.9,1.1l-0.9,1.1zM824.0,300.9l0.9,-1.1l0.9,1.1l-0.9,1.1zM823.7,301.0l0.9,-1.1l0.9,1.1l-0.9,1.1zM824.0,301.1l0.9,-1.1l0.9,1.1l-0.9,1.1zM825.3,299.8l0.8,-1.1l0.8,1.1l-0.8,1.1zM825.6,300.6l0.8,-1.1l0.8,1.1l-0.8,1.1zM825.3,301.7l0.8,-1.1l0.8,1.1l-0.8,1.1zM827.0,301.3l0.8,-1.1l0.8,1.1l-0.8,1.1zM826.8,299.9l0.8,-1.1l0.8,1.1l-0.8,1.1zM827.0,299.6l0.8,-1.1l0.8,1.1l-0.8,1.1zM828.5,300.5l0.8,-1.1l0.8,1.1l-0.8,1.1zM828.3,300.8l0.8,-1.1l0.8,1.1l-0.8,1.1zM828.3,300.7l0.8,-1.1l0.8,1.1l-0.8,1.1zM829.7,299.2l0.8,-1.1l0.8,1.1l-0.8,1.1zM829.5,299.0l0.8,-1.1l0.8,1.1l-0.8,1.1zM829.4,300.6l0.8,-1.1l0.8,1.1l-0.8,1.1zM830.9,299.0l0.8,-1.1l0.8,1.1l-0.8,1.1zM830.9,300.6l0.8,-1.1l0.8,1.1l-0.8,1.1zM831.3,298.8l0.8,-1.1l0.8,1.1l-0.8,1.1zM832.8,298.8l0.8,-1.1l0.8,1.1l-0.8,1.1zM832.8,300.0l0.8,-1.1l0.8,1.1l-0.8,1.1zM832.6,300.5l0.8,-1.1l0.8,1.1l-0.8,1.1zM833.7,300.0l0.8,-1.1l0.8,1.1l-0.8,1.1zM834.0,299.9l0.8,-1.1l0.8,1.1l-0.8,1.1zM833.8,299.8l0.8,-1.1l0.8,1.1l-0.8,1.1zM835.7,299.7l0.8,-1.1l0.8,1.1l-0.8,1.1zM835.4,298.3l0.8,-1.1l0.8,1.1l-0.8,1.1zM835.7,299.3l0.8,-1.1l0.8,1.1l-0.8,1.1zM836.7,298.5l0.8,-1.1l0.8,1.1l-0.8,1.1zM837.0,298.5l0.8,-1.1l0.8,1.1l-0.8,1.1zM836.9,299.5l0.8,-1.1l0.8,1.1l-0.8,1.1zM838.3,298.5l0.8,-1.1l0.8,1.1l-0.8,1.1zM838.3,298.5l0.8,-1.1l0.8,1.1l-0.8,1.1zM838.4,298.0l0.8,-1.1l0.8,1.1l-0.8,1.1zM839.8,299.5l0.8,-1.1l0.8,1.1l-0.8,1.1zM839.6,299.1l0.8,-1.1l0.8,1.1l-0.8,1.1zM840.0,299.0l0.8,-1.1l0.8,1.1l-0.8,1.1zM841.3,298.7l0.8,-1.1l0.8,1.1l-0.8,1.1zM841.3,298.4l0.8,-1.1l0.8,1.1l-0.8,1.1zM841.0,299.2l0.8,-1.1l0.8,1.1l-0.8,1.1zM842.8,297.4l0.8,-1.1l0.8,1.1l-0.8,1.1zM842.7,299.0l0.8,-1.1l0.8,1.1l-0.8,1.1zM842.8,298.1l0.8,-1.1l0.8,1.1l-0.8,1.1zM844.0,297.4l0.8,-1.0l0.8,1.0l-0.8,1.0zM844.2,297.4l0.8,-1.0l0.8,1.0l-0.8,1.0zM844.0,297.6l0.8,-1.0l0.8,1.0l-0.8,1.0zM845.9,298.2l0.8,-1.0l0.8,1.0l-0.8,1.0zM845.7,297.4l0.8,-1.0l0.8,1.0l-0.8,1.0zM845.8,297.6l0.8,-1.0l0.8,1.0l-0.8,1.0zM846.9,297.7l0.8,-1.0l0.8,1.0l-0.8,1.0zM846.8,297.1l0.8,-1.0l0.8,1.0l-0.8,1.0zM847.0,297.6l0.8,-1.0l0.8,1.0l-0.8,1.0zM848.4,296.9l0.8,-1.0l0.8,1.0l-0.8,1.0zM848.6,297.1l0.8,-1.0l0.8,1.0l-0.8,1.0zM848.8,296.8l0.8,-1.0l0.8,1.0l-0.8,1.0zM850.0,297.3l0.8,-1.0l0.8,1.0l-0.8,1.0zM850.1,297.3l0.8,-1.0l0.8,1.0l-0.8,1.0zM850.0,297.9l0.8,-1.0l0.8,1.0l-0.8,1.0zM851.5,297.2l0.8,-1.0l0.8,1.0l-0.8,1.0zM851.3,297.8l0.8,-1.0l0.8,1.0l-0.8,1.0zM851.7,297.6l0.8,-1.0l0.8,1.0l-0.8,1.0zM852.7,297.0l0.8,-1.0l0.8,1.0l-0.8,1.0zM853.0,296.6l0.8,-1.0l0.8,1.0l-0.8,1.0zM853.1,297.4l0.8,-1.0l0.8,1.0l-0.8,1.0zM854.1,297.6l0.8,-1.0l0.8,1.0l-0.8,1.0zM854.1,296.4l0.8,-1.0l0.8,1.0l-0.8,1.0zM854.4,296.4l0.8,-1.0l0.8,1.0l-0.8,1.0zM856.0,297.4l0.8,-1.0l0.8,1.0l-0.8,1.0zM855.9,296.4l0.8,-1.0l0.8,1.0l-0.8,1.0zM855.7,296.5l0.8,-1.0l0.8,1.0l-0.8,1.0zM856.9,297.1l0.8,-1.0l0.8,1.0l-0.8,1.0zM857.4,296.0l0.8,-1.0l0.8,1.0l-0.8,1.0zM857.1,296.3l0.8,-1.0l0.8,1.0l-0.8,1.0zM858.7,296.7l0.8,-1.0l0.8,1.0l-0.8,1.0zM858.5,295.7l0.8,-1.0l0.8,1.0l-0.8,1.0zM858.6,296.4l0.8,-1.0l0.8,1.0l-0.8,1.0zM860.1,295.9l0.8,-1.0l0.8,1.0l-0.8,1.0zM860.0,297.2l0.8,-1.0l0.8,1.0l-0.8,1.0zM859.8,296.5l0.8,-1.0l0.8,1.0l-0.8,1.0zM861.6,295.9l0.8,-1.0l0.8,1.0l-0.8,1.0zM861.7,295.6l0.8,-1.0l0.8,1.0l-0.8,1.0zM861.3,297.0l0.8,-1.0l0.8,1.0l-0.8,1.0zM862.9,296.9l0.8,-1.0l0.8,1.0l-0.8,1.0zM863.1,296.6l0.8,-1.0l0.8,1.0l-0.8,1.0zM863.0,295.8l0.8,-1.0l0.8,1.0l-0.8,1.0zM864.6,296.3l0.8,-1.0l0.8,1.0l-0.8,1.0zM864.5,295.6l0.8,-1.0l0.8,1.0l-0.8,1.0zM864.5,296.8l0.8,-1.0l0.8,1.0l-0.8,1.0zM865.6,295.9l0.8,-1.0l0.8,1.0l-0.8,1.0zM865.7,295.9l0.8,-1.0l0.8,1.0l-0.8,1.0zM865.9,296.2l0.8,-1.0l0.8,1.0l-0.8,1.0zM867.1,295.9l0.7,-1.0l0.7,1.0l-0.7,1.0zM867.4,296.0l0.7,-1.0l0.7,1.0l-0.7,1.0zM867.5,295.2l0.7,-1.0l0.7,1.0l-0.7,1.0zM868.5,295.9l0.7,-1.0l0.7,1.0l-0.7,1.0zM868.5,296.3l0.7,-1.0l0.7,1.0l-0.7,1.0zM868.9,295.4l0.7,-1.0l0.7,1.0l-0.7,1.0zM870.2,295.6l0.7,-1.0l0.7,1.0l-0.7,1.0zM870.1,295.7l0.7,-1.0l0.7,1.0l-0.7,1.0zM870.0,295.2l0.7,-1.0l0.7,1.0l-0.7,1.0zM871.7,294.7l0.7,-1.0l0.7,1.0l-0.7,1.0zM871.6,295.7l0.7,-1.0l0.7,1.0l-0.7,1.0zM871.5,295.7l0.7,-1.0l0.7,1.0l-0.7,1.0zM873.0,294.9l0.7,-1.0l0.7,1.0l-0.7,1.0zM872.8,295.8l0.7,-1.0l0.7,1.0l-0.7,1.0zM872.9,295.2l0.7,-1.0l0.7,1.0l-0.7,1.0zM874.4,295.4l0.7,-1.0l0.7,1.0l-0.7,1.0zM874.5,294.8l0.7,-1.0l0.7,1.0l-0.7,1.0zM874.7,295.1l0.7,-1.0l0.7,1.0l-0.7,1.0zM876.2,294.6l0.7,-0.9l0.7,0.9l-0.7,0.9zM875.8,294.3l0.7,-0.9l0.7,0.9l-0.7,0.9zM875.7,294.3l0.7,-0.9l0.7,0.9l-0.7,0.9zM877.5,295.1l0.7,-0.9l0.7,0.9l-0.7,0.9zM877.2,294.2l0.7,-0.9l0.7,0.9l-0.7,0.9zM877.5,294.5l0.7,-0.9l0.7,0.9l-0.7,0.9zM879.0,294.9l0.7,-0.9l0.7,0.9l-0.7,0.9zM878.6,294.6l0.7,-0.9l0.7,0.9l-0.7,0.9zM878.7,294.3l0.7,-0.9l0.7,0.9l-0.7,0.9zM880.3,294.3l0.7,-0.9l0.7,0.9l-0.7,0.9zM880.1,293.9l0.7,-0.9l0.7,0.9l-0.7,0.9zM880.0,294.7l0.7,-0.9l0.7,0.9l-0.7,0.9zM882.0,294.5l0.7,-0.9l0.7,0.9l-0.7,0.9zM881.7,294.7l0.7,-0.9l0.7,0.9l-0.7,0.9zM881.8,294.2l0.7,-0.9l0.7,0.9l-0.7,0.9zM883.5,294.1l0.7,-0.9l0.7,0.9l-0.7,0.9zM883.1,294.2l0.7,-0.9l0.7,0.9l-0.7,0.9zM883.2,294.4l0.7,-0.9l0.7,0.9l-0.7,0.9zM884.8,293.9l0.7,-0.9l0.7,0.9l-0.7,0.9zM884.8,293.1l0.7,-0.9l0.7,0.9l-0.7,0.9zM884.6,294.0l0.7,-0.9l0.7,0.9l-0.7,0.9zM886.1,293.6l0.7,-0.9l0.7,0.9l-0.7,0.9zM886.1,293.1l0.7,-0.9l0.7,0.9l-0.7,0.9zM886.1,292.9l0.7,-0.9l0.7,0.9l-0.7,0.9zM887.5,293.6l0.7,-0.9l0.7,0.9l-0.7,0.9zM887.8,293.5l0.7,-0.9l0.7,0.9l-0.7,0.9zM887.3,293.9l0.7,-0.9l0.7,0.9l-0.7,0.9zM889.0,293.6l0.7,-0.9l0.7,0.9l-0.7,0.9zM888.9,292.6l0.7,-0.9l0.7,0.9l-0.7,0.9zM888.7,292.8l0.7,-0.9l0.7,0.9l-0.7,0.9zM890.7,293.0l0.7,-0.9l0.7,0.9l-0.7,0.9zM890.6,292.8l0.7,-0.9l0.7,0.9l-0.7,0.9zM890.2,293.2l0.7,-0.9l0.7,0.9l-0.7,0.9zM891.9,293.3l0.7,-0.9l0.7,0.9l-0.7,0.9zM892.0,293.4l0.7,-0.9l0.7,0.9l-0.7,0.9zM891.8,293.1l0.7,-0.9l0.7,0.9l-0.7,0.9zM893.6,293.0l0.7,-0.9l0.7,0.9l-0.7,0.9zM893.3,293.1l0.7,-0.9l0.7,0.9l-0.7,0.9zM893.3,292.9l0.7,-0.9l0.7,0.9l-0.7,0.9zM894.5,292.0l0.7,-0.9l0.7,0.9l-0.7,0.9zM894.6,291.9l0.7,-0.9l0.7,0.9l-0.7,0.9zM894.8,292.0l0.7,-0.9l0.7,0.9l-0.7,0.9zM896.2,292.5l0.7,-0.9l0.7,0.9l-0.7,0.9zM896.3,292.2l0.7,-0.9l0.7,0.9l-0.7,0.9zM896.2,292.0l0.7,-0.9l0.7,0.9l-0.7,0.9zM897.6,292.4l0.7,-0.9l0.7,0.9l-0.7,0.9zM897.9,291.7l0.7,-0.9l0.7,0.9l-0.7,0.9zM897.6,292.3l0.7,-0.9l0.7,0.9l-0.7,0.9zM899.1,291.7l0.7,-0.9l0.7,0.9l-0.7,0.9zM898.9,292.0l0.7,-0.9l0.7,0.9l-0.7,0.9zM898.9,291.3l0.7,-0.9l0.7,0.9l-0.7,0.9zM900.3,292.0l0.7,-0.9l0.7,0.9l-0.7,0.9zM900.4,291.7l0.7,-0.9l0.7,0.9l-0.7,0.9zM900.3,291.4l0.7,-0.9l0.7,0.9l-0.7,0.9zM901.8,291.4l0.7,-0.9l0.7,0.9l-0.7,0.9zM901.8,291.0l0.7,-0.9l0.7,0.9l-0.7,0.9zM902.0,291.1l0.7,-0.9l0.7,0.9l-0.7,0.9zM903.1,290.9l0.7,-0.9l0.7,0.9l-0.7,0.9zM903.4,291.3l0.7,-0.9l0.7,0.9l-0.7,0.9zM903.2,291.6l0.7,-0.9l0.7,0.9l-0.7,0.9zM904.8,291.1l0.7,-0.9l0.7,0.9l-0.7,0.9zM905.2,290.7l0.7,-0.9l0.7,0.9l-0.7,0.9zM904.6,290.9l0.7,-0.9l0.7,0.9l-0.7,0.9zM906.1,291.0l0.7,-0.9l0.7,0.9l-0.7,0.9zM906.2,291.2l0.7,-0.9l0.7,0.9l-0.7,0.9zM906.1,290.6l0.7,-0.9l0.7,0.9l-0.7,0.9zM907.6,291.1l0.7,-0.8l0.7,0.8l-0.7,0.8zM907.7,291.2l0.7,-0.8l0.7,0.8l-0.7,0.8zM907.6,291.3l0.7,-0.8l0.7,0.8l-0.7,0.8zM909.1,290.4l0.6,-0.8l0.6,0.8l-0.6,0.8zM909.3,291.0l0.6,-0.8l0.6,0.8l-0.6,0.8zM909.0,290.5l0.6,-0.8l0.6,0.8l-0.6,0.8zM910.9,290.7l0.6,-0.8l0.6,0.8l-0.6,0.8zM910.4,290.6l0.6,-0.8l0.6,0.8l-0.6,0.8zM910.4,290.1l0.6,-0.8l0.6,0.8l-0.6,0.8zM911.8,290.1l0.6,-0.8l0.6,0.8l-0.6,0.8zM912.2,289.9l0.6,-0.8l0.6,0.8l-0.6,0.8zM911.9,290.8l0.6,-0.8l0.6,0.8l-0.6,0.8zM913.5,290.7l0.6,-0.8l0.6,0.8l-0.6,0.8zM913.8,290.5l0.6,-0.8l0.6,0.8l-0.6,0.8zM913.3,290.7l0.6,-0.8l0.6,0.8l-0.6,0.8zM915.1,289.9l0.6,-0.8l0.6,0.8l-0.6,0.8zM914.8,290.5l0.6,-0.8l0.6,0.8l-0.6,0.8zM915.2,289.9l0.6,-0.8l0.6,0.8l-0.6,0.8zM916.4,289.5l0.6,-0.8l0.6,0.8l-0.6,0.8zM916.6,289.7l0.6,-0.8l0.6,0.8l-0.6,0.8zM916.3,290.3l0.6,-0.8l0.6,0.8l-0.6,0.8zM918.0,290.0l0.6,-0.8l0.6,0.8l-0.6,0.8zM917.9,290.1l0.6,-0.8l0.6,0.8l-0.6,0.8zM917.8,290.1l0.6,-0.8l0.6,0.8l-0.6,0.8zM919.2,289.5l0.6,-0.8l0.6,0.8l-0.6,0.8zM919.3,289.8l0.6,-0.8l0.6,0.8l-0.6,0.8zM919.1,289.4l0.6,-0.8l0.6,0.8l-0.6,0.8zM920.8,289.6l0.6,-0.8l0.6,0.8l-0.6,0.8zM920.7,289.6l0.6,-0.8l0.6,0.8l-0.6,0.8zM920.6,289.4l0.6,-0.8l0.6,0.8l-0.6,0.8zM921.9,289.5l0.6,-0.8l0.6,0.8l-0.6,0.8zM922.4,289.2l0.6,-0.8l0.6,0.8l-0.6,0.8zM922.0,289.4l0.6,-0.8l0.6,0.8l-0.6,0.8zM923.9,288.9l0.6,-0.8l0.6,0.8l-0.6,0.8zM923.9,289.2l0.6,-0.8l0.6,0.8l-0.6,0.8zM923.6,289.4l0.6,-0.8l0.6,0.8l-0.6,0.8zM925.3,289.3l0.6,-0.8l0.6,0.8l-0.6,0.8zM925.0,288.8l0.6,-0.8l0.6,0.8l-0.6,0.8zM925.1,288.6l0.6,-0.8l0.6,0.8l-0.6,0.8zM926.3,289.2l0.6,-0.8l0.6,0.8l-0.6,0.8zM926.3,288.8l0.6,-0.8l0.6,0.8l-0.6,0.8zM926.7,288.4l0.6,-0.8l0.6,0.8l-0.6,0.8zM927.7,288.4l0.6,-0.8l0.6,0.8l-0.6,0.8zM928.1,288.3l0.6,-0.8l0.6,0.8l-0.6,0.8zM927.7,288.7l0.6,-0.8l0.6,0.8l-0.6,0.8zM929.7,288.3l0.6,-0.8l0.6,0.8l-0.6,0.8zM929.5,288.2l0.6,-0.8l0.6,0.8l-0.6,0.8zM929.6,288.4l0.6,-0.8l0.6,0.8l-0.6,0.8zM931.1,288.4l0.6,-0.8l0.6,0.8l-0.6,0.8zM930.7,288.3l0.6,-0.8l0.6,0.8l-0.6,0.8zM930.7,288.1l0.6,-0.8l0.6,0.8l-0.6,0.8zM932.1,288.4l0.6,-0.8l0.6,0.8l-0.6,0.8zM932.6,287.8l0.6,-0.8l0.6,0.8l-0.6,0.8zM932.6,287.9l0.6,-0.8l0.6,0.8l-0.6,0.8zM933.8,287.7l0.6,-0.8l0.6,0.8l-0.6,0.8zM934.0,287.8l0.6,-0.8l0.6,0.8l-0.6,0.8zM933.9,288.0l0.6,-0.8l0.6,0.8l-0.6,0.8zM935.5,288.0l0.6,-0.8l0.6,0.8l-0.6,0.8zM935.3,287.7l0.6,-0.8l0.6,0.8l-0.6,0.8zM935.0,287.8l0.6,-0.8l0.6,0.8l-0.6,0.8z" fill="none" stroke="#bd4fd0" stroke-width="0.4"/>
<path d="M842.06,298.4 843.51,298.2 844.95,298 846.39,297.79 847.83,297.59 849.28,297.46 850.72,297.33 852.16,297.2 853.61,297.07 855.05,296.94 856.49,296.8 857.93,296.67 859.38,296.54 860.82,296.41 862.26,296.28 863.7,296.15 865.14,296.02 866.59,295.88 868.03,295.75 869.47,295.62 870.91,295.49 872.36,295.36 873.8,295.23 875.24,295.04 876.68,294.86 878.13,294.67 879.57,294.48 881.01,294.3 882.45,294.11 883.9,293.93 885.34,293.74 886.78,293.56 888.22,293.37 889.67,293.18 891.11,293 892.55,292.81 894,292.63 895.44,292.44 896.88,292.25 898.32,292.07 899.76,291.88 901.21,291.7 902.65,291.51 904.09,291.35 905.53,291.19 906.98,291.03 908.42,290.87 909.86,290.71 911.3,290.55 912.75,290.39 914.19,290.23 915.63,290.07 917.07,289.91 918.52,289.75 919.96,289.59 921.4,289.43 922.85,289.27 924.29,289.1 925.73,288.94 927.17,288.78 928.62,288.62 930.06,288.46 931.5,288.3 932.94,288.13 934.38,287.96 935.83,287.8 937.27,287.63 938.71,287.46 940.15,287.29 941.6,287.12" fill="none" stroke="#b637c8" stroke-width="0.7"/>
<path d="M758.4,377.68 759.84,383.43 761.28,387.84 762.73,392.24 764.17,394.04 765.61,395.84 767.05,397.64 768.5,398.92 769.94,399.85 771.38,400.77 772.82,401.7 774.27,402.63 775.71,403.4 777.15,404.13 778.6,404.85 780.04,405.47 781.48,405.98 782.92,406.49 784.37,407 785.81,407.51 787.25,408.02 788.69,408.53 790.13,408.93 791.58,409.29 793.02,409.65 794.46,410.01 795.9,410.37 797.35,410.73 798.79,411.09 800.23,411.41 801.67,411.72 803.12,412.03 804.56,412.34 806,412.65 807.44,412.96 808.89,413.26 810.33,413.39 811.77,413.53 813.21,413.66 814.66,413.8 816.1,413.94 817.54,414.07 818.99,414.21 820.43,414.35 821.87,414.48 823.31,414.62 824.75,414.76 826.2,414.89 827.64,415.03 829.08,415.14 830.52,415.23 831.97,415.32 833.41,415.4 834.85,415.49 836.29,415.58 837.74,415.66 839.18,415.75 840.62,415.84 842.06,415.93 843.51,416.02 844.95,416.1 846.39,416.19 847.83,416.28 849.28,416.33 850.72,416.38 852.16,416.43 853.61,416.48 855.05,416.53 856.49,416.58 857.93,416.63 859.38,416.68 860.82,416.73 862.26,416.78 863.7,416.83 865.14,416.88 866.59,416.93 868.03,416.98 869.47,417.03 870.91,417.08 872.36,417.13 873.8,417.18 875.24,417.29 876.68,417.41 878.13,417.52 879.57,417.63 881.01,417.75 882.45,417.86 883.9,417.97 885.34,418.09 886.78,418.2 888.22,418.32 889.67,418.43 891.11,418.54 892.55,418.66 894,418.77 895.44,418.88 896.88,419 898.32,419.11 899.76,419.23 901.21,419.34 902.65,419.45 904.09,419.53 905.53,419.61 906.98,419.69 908.42,419.77 909.86,419.85 911.3,419.93 912.75,420.01 914.19,420.09 915.63,420.17 917.07,420.25 918.52,420.33 919.96,420.41 921.4,420.49 922.85,420.57 924.29,420.65 925.73,420.73 927.17,420.81 928.62,420.89 930.06,420.97 931.5,421.05 932.94,421.16 934.38,421.27 935.83,421.38 937.27,421.49 938.71,421.6 940.15,421.69 941.6,421.79 941.6,422.69 940.15,422.59 938.71,422.5 937.27,422.41 935.83,422.33 934.38,422.24 932.94,422.16 931.5,422.08 930.06,422.02 928.62,421.97 927.17,421.91 925.73,421.86 924.29,421.8 922.85,421.75 921.4,421.69 919.96,421.64 918.52,421.58 917.07,421.53 915.63,421.47 914.19,421.41 912.75,421.36 911.3,421.3 909.86,421.25 908.42,421.19 906.98,421.14 905.53,421.08 904.09,421.03 902.65,420.97 901.21,420.88 899.76,420.8 898.32,420.71 896.88,420.62 895.44,420.53 894,420.44 892.55,420.35 891.11,420.26 889.67,420.17 888.22,420.08 886.78,420 885.34,419.91 883.9,419.82 882.45,419.73 881.01,419.64 879.57,419.55 878.13,419.46 876.68,419.37 875.24,419.28 873.8,419.19 872.36,419.17 870.91,419.14 869.47,419.12 868.03,419.09 866.59,419.07 865.14,419.04 863.7,419.02 862.26,418.99 860.82,418.97 859.38,418.94 857.93,418.92 856.49,418.89 855.05,418.87 853.61,418.84 852.16,418.82 850.72,418.79 849.28,418.77 847.83,418.74 846.39,418.68 844.95,418.62 843.51,418.55 842.06,418.49 840.62,418.43 839.18,418.36 837.74,418.3 836.29,418.24 834.85,418.18 833.41,418.11 831.97,418.05 830.52,417.99 829.08,417.93 827.64,417.84 826.2,417.73 824.75,417.62 823.31,417.5 821.87,417.39 820.43,417.28 818.99,417.17 817.54,417.06 816.1,416.95 814.66,416.83 813.21,416.72 811.77,416.61 810.33,416.5 808.89,416.39 807.44,416.12 806,415.83 804.56,415.55 803.12,415.26 801.67,414.98 800.23,414.69 798.79,414.4 797.35,414.06 795.9,413.73 794.46,413.39 793.02,413.06 791.58,412.72 790.13,412.39 788.69,412.01 787.25,411.52 785.81,411.04 784.37,410.55 782.92,410.07 781.48,409.59 780.04,409.1 778.6,408.51 777.15,407.8 775.71,407.1 774.27,406.36 772.82,405.45 771.38,404.55 769.94,403.65 768.5,402.75 767.05,401.49 765.61,399.72 764.17,397.94 762.73,396.17 761.28,391.79 759.84,387.41 758.4,381.68Z" fill="#f0d2f4"/>
<path d="M757.4,380.7l1.0,-1.3l1.0,1.3l-1.0,1.3zM757.2,380.6l1.0,-1.3l1.0,1.3l-1.0,1.3zM757.4,379.8l1.0,-1.3l1.0,1.3l-1.0,1.3zM758.6,386.1l1.0,-1.3l1.0,1.3l-1.0,1.3zM758.8,385.0l1.0,-1.3l1.0,1.3l-1.0,1.3zM758.9,384.1l1.0,-1.3l1.0,1.3l-1.0,1.3zM760.2,390.5l1.0,-1.3l1.0,1.3l-1.0,1.3zM760.3,390.3l1.0,-1.3l1.0,1.3l-1.0,1.3zM760.2,389.0l1.0,-1.3l1.0,1.3l-1.0,1.3zM761.6,395.7l1.0,-1.3l1.0,1.3l-1.0,1.3zM761.5,394.0l1.0,-1.3l1.0,1.3l-1.0,1.3zM761.5,393.4l1.0,-1.3l1.0,1.3l-1.0,1.3zM763.3,397.3l1.0,-1.3l1.0,1.3l-1.0,1.3zM763.5,397.1l1.0,-1.3l1.0,1.3l-1.0,1.3zM763.4,396.3l1.0,-1.3l1.0,1.3l-1.0,1.3zM764.6,397.9l1.0,-1.3l1.0,1.3l-1.0,1.3zM764.9,399.1l1.0,-1.3l1.0,1.3l-1.0,1.3zM764.6,399.1l1.0,-1.3l1.0,1.3l-1.0,1.3zM766.0,400.4l1.0,-1.3l1.0,1.3l-1.0,1.3zM766.3,401.0l1.0,-1.3l1.0,1.3l-1.0,1.3zM766.3,399.0l1.0,-1.3l1.0,1.3l-1.0,1.3zM767.3,399.9l1.0,-1.3l1.0,1.3l-1.0,1.3zM767.4,401.5l1.0,-1.3l1.0,1.3l-1.0,1.3zM767.6,400.9l1.0,-1.3l1.0,1.3l-1.0,1.3zM769.1,400.4l1.0,-1.3l1.0,1.3l-1.0,1.3zM768.9,401.1l1.0,-1.3l1.0,1.3l-1.0,1.3zM769.1,401.3l1.0,-1.3l1.0,1.3l-1.0,1.3zM770.3,403.4l1.0,-1.3l1.0,1.3l-1.0,1.3zM770.3,401.5l1.0,-1.3l1.0,1.3l-1.0,1.3zM770.1,402.4l1.0,-1.3l1.0,1.3l-1.0,1.3zM772.0,402.6l1.0,-1.3l1.0,1.3l-1.0,1.3zM772.1,404.1l1.0,-1.3l1.0,1.3l-1.0,1.3zM772.1,404.9l1.0,-1.3l1.0,1.3l-1.0,1.3zM773.1,404.1l1.0,-1.3l1.0,1.3l-1.0,1.3zM773.3,404.0l1.0,-1.3l1.0,1.3l-1.0,1.3zM773.3,404.6l1.0,-1.3l1.0,1.3l-1.0,1.3zM774.9,404.9l1.0,-1.3l1.0,1.3l-1.0,1.3zM774.7,404.7l1.0,-1.3l1.0,1.3l-1.0,1.3zM774.9,406.3l1.0,-1.3l1.0,1.3l-1.0,1.3zM776.0,405.4l1.0,-1.3l1.0,1.3l-1.0,1.3zM775.9,406.8l1.0,-1.3l1.0,1.3l-1.0,1.3zM776.2,404.9l1.0,-1.3l1.0,1.3l-1.0,1.3zM777.4,406.8l1.0,-1.3l1.0,1.3l-1.0,1.3zM777.5,405.4l1.0,-1.3l1.0,1.3l-1.0,1.3zM777.6,407.4l1.0,-1.3l1.0,1.3l-1.0,1.3zM779.2,408.6l1.0,-1.3l1.0,1.3l-1.0,1.3zM778.8,408.6l1.0,-1.3l1.0,1.3l-1.0,1.3zM778.8,406.4l1.0,-1.3l1.0,1.3l-1.0,1.3zM780.4,407.6l1.0,-1.2l1.0,1.2l-1.0,1.2zM780.5,406.6l1.0,-1.2l1.0,1.2l-1.0,1.2zM780.4,406.7l1.0,-1.2l1.0,1.2l-1.0,1.2zM782.1,407.6l1.0,-1.2l1.0,1.2l-1.0,1.2zM781.8,408.1l1.0,-1.2l1.0,1.2l-1.0,1.2zM781.9,407.1l1.0,-1.2l1.0,1.2l-1.0,1.2zM783.5,409.1l1.0,-1.2l1.0,1.2l-1.0,1.2zM783.6,409.9l1.0,-1.2l1.0,1.2l-1.0,1.2zM783.2,408.1l1.0,-1.2l1.0,1.2l-1.0,1.2zM785.0,410.0l0.9,-1.2l0.9,1.2l-0.9,1.2zM785.1,409.3l0.9,-1.2l0.9,1.2l-0.9,1.2zM784.7,409.4l0.9,-1.2l0.9,1.2l-0.9,1.2zM786.0,408.9l0.9,-1.2l0.9,1.2l-0.9,1.2zM786.5,410.1l0.9,-1.2l0.9,1.2l-0.9,1.2zM786.3,410.8l0.9,-1.2l0.9,1.2l-0.9,1.2zM788.0,410.7l0.9,-1.2l0.9,1.2l-0.9,1.2zM787.8,411.1l0.9,-1.2l0.9,1.2l-0.9,1.2zM787.8,410.0l0.9,-1.2l0.9,1.2l-0.9,1.2zM789.0,409.8l0.9,-1.2l0.9,1.2l-0.9,1.2zM789.5,411.1l0.9,-1.2l0.9,1.2l-0.9,1.2zM789.1,410.8l0.9,-1.2l0.9,1.2l-0.9,1.2zM790.6,410.6l0.9,-1.2l0.9,1.2l-0.9,1.2zM790.6,411.8l0.9,-1.2l0.9,1.2l-0.9,1.2zM790.4,412.2l0.9,-1.2l0.9,1.2l-0.9,1.2zM792.1,410.9l0.9,-1.2l0.9,1.2l-0.9,1.2zM792.3,411.1l0.9,-1.2l0.9,1.2l-0.9,1.2zM792.3,412.2l0.9,-1.2l0.9,1.2l-0.9,1.2zM793.3,412.0l0.9,-1.2l0.9,1.2l-0.9,1.2zM793.6,411.9l0.9,-1.2l0.9,1.2l-0.9,1.2zM793.4,411.7l0.9,-1.2l0.9,1.2l-0.9,1.2zM795.2,412.6l0.9,-1.2l0.9,1.2l-0.9,1.2zM795.1,411.1l0.9,-1.2l0.9,1.2l-0.9,1.2zM795.0,411.7l0.9,-1.2l0.9,1.2l-0.9,1.2zM796.7,413.4l0.9,-1.2l0.9,1.2l-0.9,1.2zM796.2,412.8l0.9,-1.2l0.9,1.2l-0.9,1.2zM796.2,413.5l0.9,-1.2l0.9,1.2l-0.9,1.2zM798.1,412.5l0.9,-1.2l0.9,1.2l-0.9,1.2zM797.7,412.3l0.9,-1.2l0.9,1.2l-0.9,1.2zM798.1,413.9l0.9,-1.2l0.9,1.2l-0.9,1.2zM799.3,412.6l0.9,-1.2l0.9,1.2l-0.9,1.2zM799.1,412.5l0.9,-1.2l0.9,1.2l-0.9,1.2zM799.6,412.4l0.9,-1.2l0.9,1.2l-0.9,1.2zM800.6,412.3l0.9,-1.2l0.9,1.2l-0.9,1.2zM800.5,412.6l0.9,-1.2l0.9,1.2l-0.9,1.2zM800.9,413.4l0.9,-1.2l0.9,1.2l-0.9,1.2zM802.3,414.5l0.9,-1.2l0.9,1.2l-0.9,1.2zM801.9,414.4l0.9,-1.2l0.9,1.2l-0.9,1.2zM802.5,413.1l0.9,-1.2l0.9,1.2l-0.9,1.2zM803.5,412.9l0.9,-1.2l0.9,1.2l-0.9,1.2zM803.5,413.9l0.9,-1.2l0.9,1.2l-0.9,1.2zM803.4,414.1l0.9,-1.2l0.9,1.2l-0.9,1.2zM805.4,413.6l0.9,-1.2l0.9,1.2l-0.9,1.2zM805.3,413.4l0.9,-1.2l0.9,1.2l-0.9,1.2zM805.4,413.5l0.9,-1.2l0.9,1.2l-0.9,1.2zM806.6,415.0l0.9,-1.2l0.9,1.2l-0.9,1.2zM806.3,413.7l0.9,-1.2l0.9,1.2l-0.9,1.2zM806.4,415.2l0.9,-1.2l0.9,1.2l-0.9,1.2zM808.2,414.1l0.9,-1.2l0.9,1.2l-0.9,1.2zM807.7,415.7l0.9,-1.2l0.9,1.2l-0.9,1.2zM808.0,415.9l0.9,-1.2l0.9,1.2l-0.9,1.2zM809.2,414.7l0.9,-1.2l0.9,1.2l-0.9,1.2zM809.7,414.7l0.9,-1.2l0.9,1.2l-0.9,1.2zM809.2,414.4l0.9,-1.2l0.9,1.2l-0.9,1.2zM810.7,414.2l0.9,-1.2l0.9,1.2l-0.9,1.2zM811.1,414.7l0.9,-1.2l0.9,1.2l-0.9,1.2zM810.7,414.1l0.9,-1.2l0.9,1.2l-0.9,1.2zM812.6,416.2l0.9,-1.1l0.9,1.1l-0.9,1.1zM812.2,416.3l0.9,-1.1l0.9,1.1l-0.9,1.1zM812.6,414.9l0.9,-1.1l0.9,1.1l-0.9,1.1zM813.9,415.3l0.9,-1.1l0.9,1.1l-0.9,1.1zM813.5,414.9l0.9,-1.1l0.9,1.1l-0.9,1.1zM813.9,415.0l0.9,-1.1l0.9,1.1l-0.9,1.1zM815.3,416.1l0.9,-1.1l0.9,1.1l-0.9,1.1zM815.2,415.4l0.9,-1.1l0.9,1.1l-0.9,1.1zM815.2,415.3l0.9,-1.1l0.9,1.1l-0.9,1.1zM816.5,416.3l0.9,-1.1l0.9,1.1l-0.9,1.1zM816.9,415.8l0.9,-1.1l0.9,1.1l-0.9,1.1zM816.5,416.3l0.9,-1.1l0.9,1.1l-0.9,1.1zM818.3,416.7l0.9,-1.1l0.9,1.1l-0.9,1.1zM818.0,415.0l0.9,-1.1l0.9,1.1l-0.9,1.1zM817.8,415.0l0.9,-1.1l0.9,1.1l-0.9,1.1zM819.5,416.9l0.9,-1.1l0.9,1.1l-0.9,1.1zM819.3,416.6l0.9,-1.1l0.9,1.1l-0.9,1.1zM819.8,414.7l0.9,-1.1l0.9,1.1l-0.9,1.1zM821.3,416.6l0.9,-1.1l0.9,1.1l-0.9,1.1zM821.0,416.3l0.9,-1.1l0.9,1.1l-0.9,1.1zM820.8,416.5l0.9,-1.1l0.9,1.1l-0.9,1.1zM822.4,416.2l0.9,-1.1l0.9,1.1l-0.9,1.1zM822.5,415.3l0.9,-1.1l0.9,1.1l-0.9,1.1zM822.5,415.7l0.9,-1.1l0.9,1.1l-0.9,1.1zM823.8,415.9l0.9,-1.1l0.9,1.1l-0.9,1.1zM824.0,415.9l0.9,-1.1l0.9,1.1l-0.9,1.1zM824.2,417.2l0.9,-1.1l0.9,1.1l-0.9,1.1zM825.5,417.1l0.8,-1.1l0.8,1.1l-0.8,1.1zM825.6,415.9l0.8,-1.1l0.8,1.1l-0.8,1.1zM825.1,415.8l0.8,-1.1l0.8,1.1l-0.8,1.1zM826.9,416.4l0.8,-1.1l0.8,1.1l-0.8,1.1zM826.9,416.1l0.8,-1.1l0.8,1.1l-0.8,1.1zM827.1,416.0l0.8,-1.1l0.8,1.1l-0.8,1.1zM828.2,416.4l0.8,-1.1l0.8,1.1l-0.8,1.1zM828.5,416.6l0.8,-1.1l0.8,1.1l-0.8,1.1zM828.3,417.6l0.8,-1.1l0.8,1.1l-0.8,1.1zM829.8,416.5l0.8,-1.1l0.8,1.1l-0.8,1.1zM829.6,415.7l0.8,-1.1l0.8,1.1l-0.8,1.1zM829.9,417.3l0.8,-1.1l0.8,1.1l-0.8,1.1zM831.3,415.8l0.8,-1.1l0.8,1.1l-0.8,1.1zM831.4,416.4l0.8,-1.1l0.8,1.1l-0.8,1.1zM831.0,416.4l0.8,-1.1l0.8,1.1l-0.8,1.1zM832.8,416.9l0.8,-1.1l0.8,1.1l-0.8,1.1zM832.8,416.6l0.8,-1.1l0.8,1.1l-0.8,1.1zM832.5,417.2l0.8,-1.1l0.8,1.1l-0.8,1.1zM834.0,416.4l0.8,-1.1l0.8,1.1l-0.8,1.1zM833.9,416.6l0.8,-1.1l0.8,1.1l-0.8,1.1zM834.2,417.1l0.8,-1.1l0.8,1.1l-0.8,1.1zM835.3,417.1l0.8,-1.1l0.8,1.1l-0.8,1.1zM835.4,416.3l0.8,-1.1l0.8,1.1l-0.8,1.1zM835.3,417.1l0.8,-1.1l0.8,1.1l-0.8,1.1zM836.8,416.2l0.8,-1.1l0.8,1.1l-0.8,1.1zM836.6,416.6l0.8,-1.1l0.8,1.1l-0.8,1.1zM837.2,417.1l0.8,-1.1l0.8,1.1l-0.8,1.1zM838.5,417.1l0.8,-1.1l0.8,1.1l-0.8,1.1zM838.6,417.7l0.8,-1.1l0.8,1.1l-0.8,1.1zM838.3,417.9l0.8,-1.1l0.8,1.1l-0.8,1.1zM839.6,417.5l0.8,-1.1l0.8,1.1l-0.8,1.1zM839.7,417.9l0.8,-1.1l0.8,1.1l-0.8,1.1zM840.0,417.1l0.8,-1.1l0.8,1.1l-0.8,1.1zM841.1,416.8l0.8,-1.1l0.8,1.1l-0.8,1.1zM841.3,417.8l0.8,-1.1l0.8,1.1l-0.8,1.1zM841.0,416.4l0.8,-1.1l0.8,1.1l-0.8,1.1zM842.4,417.0l0.8,-1.1l0.8,1.1l-0.8,1.1zM842.5,417.9l0.8,-1.1l0.8,1.1l-0.8,1.1zM842.6,416.9l0.8,-1.1l0.8,1.1l-0.8,1.1zM844.1,417.4l0.8,-1.0l0.8,1.0l-0.8,1.0zM844.2,417.6l0.8,-1.0l0.8,1.0l-0.8,1.0zM843.9,417.2l0.8,-1.0l0.8,1.0l-0.8,1.0zM845.7,418.3l0.8,-1.0l0.8,1.0l-0.8,1.0zM845.6,416.7l0.8,-1.0l0.8,1.0l-0.8,1.0zM845.9,417.9l0.8,-1.0l0.8,1.0l-0.8,1.0zM846.7,416.7l0.8,-1.0l0.8,1.0l-0.8,1.0zM847.0,417.5l0.8,-1.0l0.8,1.0l-0.8,1.0zM847.2,418.2l0.8,-1.0l0.8,1.0l-0.8,1.0zM848.4,417.2l0.8,-1.0l0.8,1.0l-0.8,1.0zM848.7,417.7l0.8,-1.0l0.8,1.0l-0.8,1.0zM848.4,417.0l0.8,-1.0l0.8,1.0l-0.8,1.0zM850.0,416.8l0.8,-1.0l0.8,1.0l-0.8,1.0zM850.2,416.7l0.8,-1.0l0.8,1.0l-0.8,1.0zM850.0,417.6l0.8,-1.0l0.8,1.0l-0.8,1.0zM851.2,416.9l0.8,-1.0l0.8,1.0l-0.8,1.0zM851.6,417.6l0.8,-1.0l0.8,1.0l-0.8,1.0zM851.2,417.7l0.8,-1.0l0.8,1.0l-0.8,1.0zM852.9,418.5l0.8,-1.0l0.8,1.0l-0.8,1.0zM852.6,417.7l0.8,-1.0l0.8,1.0l-0.8,1.0zM853.1,417.3l0.8,-1.0l0.8,1.0l-0.8,1.0zM854.3,417.1l0.8,-1.0l0.8,1.0l-0.8,1.0zM854.2,417.9l0.8,-1.0l0.8,1.0l-0.8,1.0zM854.5,418.2l0.8,-1.0l0.8,1.0l-0.8,1.0zM855.9,418.4l0.8,-1.0l0.8,1.0l-0.8,1.0zM855.4,417.2l0.8,-1.0l0.8,1.0l-0.8,1.0zM855.6,417.6l0.8,-1.0l0.8,1.0l-0.8,1.0zM857.4,417.2l0.8,-1.0l0.8,1.0l-0.8,1.0zM857.4,417.3l0.8,-1.0l0.8,1.0l-0.8,1.0zM856.9,418.5l0.8,-1.0l0.8,1.0l-0.8,1.0zM858.5,418.5l0.8,-1.0l0.8,1.0l-0.8,1.0zM858.4,417.3l0.8,-1.0l0.8,1.0l-0.8,1.0zM858.6,417.0l0.8,-1.0l0.8,1.0l-0.8,1.0zM860.3,417.7l0.8,-1.0l0.8,1.0l-0.8,1.0zM859.8,418.4l0.8,-1.0l0.8,1.0l-0.8,1.0zM860.0,417.7l0.8,-1.0l0.8,1.0l-0.8,1.0zM861.3,417.4l0.8,-1.0l0.8,1.0l-0.8,1.0zM861.6,417.5l0.8,-1.0l0.8,1.0l-0.8,1.0zM861.3,417.6l0.8,-1.0l0.8,1.0l-0.8,1.0zM862.9,417.5l0.8,-1.0l0.8,1.0l-0.8,1.0zM862.8,418.0l0.8,-1.0l0.8,1.0l-0.8,1.0zM862.8,418.3l0.8,-1.0l0.8,1.0l-0.8,1.0zM864.5,418.2l0.8,-1.0l0.8,1.0l-0.8,1.0zM864.5,417.4l0.8,-1.0l0.8,1.0l-0.8,1.0zM864.4,417.8l0.8,-1.0l0.8,1.0l-0.8,1.0zM865.9,418.2l0.8,-1.0l0.8,1.0l-0.8,1.0zM865.6,417.9l0.8,-1.0l0.8,1.0l-0.8,1.0zM866.1,418.5l0.8,-1.0l0.8,1.0l-0.8,1.0zM867.3,418.0l0.7,-1.0l0.7,1.0l-0.7,1.0zM867.5,417.7l0.7,-1.0l0.7,1.0l-0.7,1.0zM867.1,418.3l0.7,-1.0l0.7,1.0l-0.7,1.0zM869.0,418.6l0.7,-1.0l0.7,1.0l-0.7,1.0zM869.0,417.8l0.7,-1.0l0.7,1.0l-0.7,1.0zM868.5,418.0l0.7,-1.0l0.7,1.0l-0.7,1.0zM870.1,418.4l0.7,-1.0l0.7,1.0l-0.7,1.0zM870.2,418.5l0.7,-1.0l0.7,1.0l-0.7,1.0zM870.2,417.5l0.7,-1.0l0.7,1.0l-0.7,1.0zM871.6,418.7l0.7,-1.0l0.7,1.0l-0.7,1.0zM871.8,418.2l0.7,-1.0l0.7,1.0l-0.7,1.0zM871.6,418.1l0.7,-1.0l0.7,1.0l-0.7,1.0zM873.3,418.3l0.7,-1.0l0.7,1.0l-0.7,1.0zM872.8,417.7l0.7,-1.0l0.7,1.0l-0.7,1.0zM873.1,418.6l0.7,-1.0l0.7,1.0l-0.7,1.0zM874.7,418.0l0.7,-1.0l0.7,1.0l-0.7,1.0zM874.5,418.9l0.7,-1.0l0.7,1.0l-0.7,1.0zM874.7,419.0l0.7,-1.0l0.7,1.0l-0.7,1.0zM875.8,418.8l0.7,-0.9l0.7,0.9l-0.7,0.9zM876.1,417.7l0.7,-0.9l0.7,0.9l-0.7,0.9zM875.9,418.7l0.7,-0.9l0.7,0.9l-0.7,0.9zM877.4,418.5l0.7,-0.9l0.7,0.9l-0.7,0.9zM877.5,418.1l0.7,-0.9l0.7,0.9l-0.7,0.9zM877.3,418.6l0.7,-0.9l0.7,0.9l-0.7,0.9zM878.9,418.0l0.7,-0.9l0.7,0.9l-0.7,0.9zM879.0,418.3l0.7,-0.9l0.7,0.9l-0.7,0.9zM878.8,418.1l0.7,-0.9l0.7,0.9l-0.7,0.9zM880.2,418.3l0.7,-0.9l0.7,0.9l-0.7,0.9zM880.1,418.8l0.7,-0.9l0.7,0.9l-0.7,0.9zM880.3,418.1l0.7,-0.9l0.7,0.9l-0.7,0.9zM881.7,418.4l0.7,-0.9l0.7,0.9l-0.7,0.9zM881.5,418.3l0.7,-0.9l0.7,0.9l-0.7,0.9zM882.0,418.8l0.7,-0.9l0.7,0.9l-0.7,0.9zM883.2,419.4l0.7,-0.9l0.7,0.9l-0.7,0.9zM882.9,418.8l0.7,-0.9l0.7,0.9l-0.7,0.9zM883.1,418.6l0.7,-0.9l0.7,0.9l-0.7,0.9zM884.4,419.6l0.7,-0.9l0.7,0.9l-0.7,0.9zM884.6,419.6l0.7,-0.9l0.7,0.9l-0.7,0.9zM884.5,418.9l0.7,-0.9l0.7,0.9l-0.7,0.9zM885.9,419.7l0.7,-0.9l0.7,0.9l-0.7,0.9zM886.1,419.2l0.7,-0.9l0.7,0.9l-0.7,0.9zM885.9,418.7l0.7,-0.9l0.7,0.9l-0.7,0.9zM887.7,419.8l0.7,-0.9l0.7,0.9l-0.7,0.9zM887.8,419.5l0.7,-0.9l0.7,0.9l-0.7,0.9zM887.6,418.7l0.7,-0.9l0.7,0.9l-0.7,0.9zM888.8,419.6l0.7,-0.9l0.7,0.9l-0.7,0.9zM889.3,419.2l0.7,-0.9l0.7,0.9l-0.7,0.9zM889.1,419.1l0.7,-0.9l0.7,0.9l-0.7,0.9zM890.5,419.0l0.7,-0.9l0.7,0.9l-0.7,0.9zM890.4,419.1l0.7,-0.9l0.7,0.9l-0.7,0.9zM890.6,419.2l0.7,-0.9l0.7,0.9l-0.7,0.9zM891.9,419.8l0.7,-0.9l0.7,0.9l-0.7,0.9zM891.8,419.7l0.7,-0.9l0.7,0.9l-0.7,0.9zM891.7,419.9l0.7,-0.9l0.7,0.9l-0.7,0.9zM893.4,419.7l0.7,-0.9l0.7,0.9l-0.7,0.9zM893.0,419.5l0.7,-0.9l0.7,0.9l-0.7,0.9zM893.4,419.2l0.7,-0.9l0.7,0.9l-0.7,0.9zM894.9,419.4l0.7,-0.9l0.7,0.9l-0.7,0.9zM895.0,419.7l0.7,-0.9l0.7,0.9l-0.7,0.9zM894.9,420.1l0.7,-0.9l0.7,0.9l-0.7,0.9zM895.9,419.7l0.7,-0.9l0.7,0.9l-0.7,0.9zM896.3,419.9l0.7,-0.9l0.7,0.9l-0.7,0.9zM896.0,420.3l0.7,-0.9l0.7,0.9l-0.7,0.9zM897.9,419.5l0.7,-0.9l0.7,0.9l-0.7,0.9zM897.6,420.2l0.7,-0.9l0.7,0.9l-0.7,0.9zM897.4,420.2l0.7,-0.9l0.7,0.9l-0.7,0.9zM899.2,420.1l0.7,-0.9l0.7,0.9l-0.7,0.9zM898.9,420.1l0.7,-0.9l0.7,0.9l-0.7,0.9zM899.2,419.6l0.7,-0.9l0.7,0.9l-0.7,0.9zM900.3,420.6l0.7,-0.9l0.7,0.9l-0.7,0.9zM900.3,419.5l0.7,-0.9l0.7,0.9l-0.7,0.9zM900.5,420.4l0.7,-0.9l0.7,0.9l-0.7,0.9zM902.3,420.2l0.7,-0.9l0.7,0.9l-0.7,0.9zM901.8,420.3l0.7,-0.9l0.7,0.9l-0.7,0.9zM901.7,420.4l0.7,-0.9l0.7,0.9l-0.7,0.9zM903.6,420.0l0.7,-0.9l0.7,0.9l-0.7,0.9zM903.2,419.9l0.7,-0.9l0.7,0.9l-0.7,0.9zM903.3,420.3l0.7,-0.9l0.7,0.9l-0.7,0.9zM904.6,420.9l0.7,-0.9l0.7,0.9l-0.7,0.9zM904.8,420.7l0.7,-0.9l0.7,0.9l-0.7,0.9zM904.8,420.7l0.7,-0.9l0.7,0.9l-0.7,0.9zM906.2,420.6l0.7,-0.9l0.7,0.9l-0.7,0.9zM906.3,420.1l0.7,-0.9l0.7,0.9l-0.7,0.9zM906.2,420.7l0.7,-0.9l0.7,0.9l-0.7,0.9zM907.7,420.2l0.7,-0.8l0.7,0.8l-0.7,0.8zM907.7,420.1l0.7,-0.8l0.7,0.8l-0.7,0.8zM907.8,420.6l0.7,-0.8l0.7,0.8l-0.7,0.8zM909.1,420.7l0.6,-0.8l0.6,0.8l-0.6,0.8zM908.9,420.1l0.6,-0.8l0.6,0.8l-0.6,0.8zM909.0,420.4l0.6,-0.8l0.6,0.8l-0.6,0.8zM910.5,420.7l0.6,-0.8l0.6,0.8l-0.6,0.8zM910.7,420.9l0.6,-0.8l0.6,0.8l-0.6,0.8zM910.8,420.8l0.6,-0.8l0.6,0.8l-0.6,0.8zM912.1,420.7l0.6,-0.8l0.6,0.8l-0.6,0.8zM911.8,420.5l0.6,-0.8l0.6,0.8l-0.6,0.8zM912.1,421.0l0.6,-0.8l0.6,0.8l-0.6,0.8zM913.8,420.4l0.6,-0.8l0.6,0.8l-0.6,0.8zM913.6,420.8l0.6,-0.8l0.6,0.8l-0.6,0.8zM913.3,420.7l0.6,-0.8l0.6,0.8l-0.6,0.8zM914.8,421.3l0.6,-0.8l0.6,0.8l-0.6,0.8zM915.3,420.7l0.6,-0.8l0.6,0.8l-0.6,0.8zM915.0,420.5l0.6,-0.8l0.6,0.8l-0.6,0.8zM916.3,420.9l0.6,-0.8l0.6,0.8l-0.6,0.8zM916.4,421.3l0.6,-0.8l0.6,0.8l-0.6,0.8zM916.4,420.4l0.6,-0.8l0.6,0.8l-0.6,0.8zM918.0,420.5l0.6,-0.8l0.6,0.8l-0.6,0.8zM918.1,421.3l0.6,-0.8l0.6,0.8l-0.6,0.8zM918.0,420.5l0.6,-0.8l0.6,0.8l-0.6,0.8zM919.3,420.8l0.6,-0.8l0.6,0.8l-0.6,0.8zM919.2,420.8l0.6,-0.8l0.6,0.8l-0.6,0.8zM919.4,420.7l0.6,-0.8l0.6,0.8l-0.6,0.8zM921.1,420.7l0.6,-0.8l0.6,0.8l-0.6,0.8zM921.1,420.7l0.6,-0.8l0.6,0.8l-0.6,0.8zM920.5,420.8l0.6,-0.8l0.6,0.8l-0.6,0.8zM922.2,421.4l0.6,-0.8l0.6,0.8l-0.6,0.8zM922.2,421.4l0.6,-0.8l0.6,0.8l-0.6,0.8zM922.0,421.3l0.6,-0.8l0.6,0.8l-0.6,0.8zM923.7,421.4l0.6,-0.8l0.6,0.8l-0.6,0.8zM923.4,421.6l0.6,-0.8l0.6,0.8l-0.6,0.8zM923.8,420.9l0.6,-0.8l0.6,0.8l-0.6,0.8zM925.1,421.7l0.6,-0.8l0.6,0.8l-0.6,0.8zM925.2,421.5l0.6,-0.8l0.6,0.8l-0.6,0.8zM925.1,421.2l0.6,-0.8l0.6,0.8l-0.6,0.8zM926.3,421.4l0.6,-0.8l0.6,0.8l-0.6,0.8zM926.7,421.2l0.6,-0.8l0.6,0.8l-0.6,0.8zM926.6,421.2l0.6,-0.8l0.6,0.8l-0.6,0.8zM927.9,421.2l0.6,-0.8l0.6,0.8l-0.6,0.8zM928.2,421.6l0.6,-0.8l0.6,0.8l-0.6,0.8zM928.0,421.8l0.6,-0.8l0.6,0.8l-0.6,0.8zM929.4,421.3l0.6,-0.8l0.6,0.8l-0.6,0.8zM929.3,421.1l0.6,-0.8l0.6,0.8l-0.6,0.8zM929.5,421.6l0.6,-0.8l0.6,0.8l-0.6,0.8zM930.7,421.4l0.6,-0.8l0.6,0.8l-0.6,0.8zM930.7,421.3l0.6,-0.8l0.6,0.8l-0.6,0.8zM930.8,421.6l0.6,-0.8l0.6,0.8l-0.6,0.8zM932.4,421.9l0.6,-0.8l0.6,0.8l-0.6,0.8zM932.3,421.5l0.6,-0.8l0.6,0.8l-0.6,0.8zM932.5,421.3l0.6,-0.8l0.6,0.8l-0.6,0.8zM933.7,421.9l0.6,-0.8l0.6,0.8l-0.6,0.8zM933.7,421.9l0.6,-0.8l0.6,0.8l-0.6,0.8zM933.6,421.6l0.6,-0.8l0.6,0.8l-0.6,0.8zM935.3,421.6l0.6,-0.8l0.6,0.8l-0.6,0.8zM935.4,422.0l0.6,-0.8l0.6,0.8l-0.6,0.8zM935.4,421.6l0.6,-0.8l0.6,0.8l-0.6,0.8z" fill="none" stroke="#bd4fd0" stroke-width="0.4"/>
<path d="M842.06,417.21 843.51,417.28 844.95,417.36 846.39,417.44 847.83,417.51 849.28,417.55 850.72,417.59 852.16,417.62 853.61,417.66 855.05,417.7 856.49,417.74 857.93,417.77 859.38,417.81 860.82,417.85 862.26,417.89 863.7,417.92 865.14,417.96 866.59,418 868.03,418.04 869.47,418.07 870.91,418.11 872.36,418.15 873.8,418.19 875.24,418.29 876.68,418.39 878.13,418.49 879.57,418.59 881.01,418.69 882.45,418.79 883.9,418.9 885.34,419 886.78,419.1 888.22,419.2 889.67,419.3 891.11,419.4 892.55,419.5 894,419.61 895.44,419.71 896.88,419.81 898.32,419.91 899.76,420.01 901.21,420.11 902.65,420.21 904.09,420.28 905.53,420.35 906.98,420.42 908.42,420.48 909.86,420.55 911.3,420.62 912.75,420.69 914.19,420.75 915.63,420.82 917.07,420.89 918.52,420.96 919.96,421.02 921.4,421.09 922.85,421.16 924.29,421.23 925.73,421.29 927.17,421.36 928.62,421.43 930.06,421.5 931.5,421.56 932.94,421.66 934.38,421.76 935.83,421.85 937.27,421.95 938.71,422.05 940.15,422.14 941.6,422.24" fill="none" stroke="#b637c8" stroke-width="0.7"/>
<line x1="758.4" y1="350.29" x2="758.4" y2="377.99" stroke="#8a7a96" stroke-width="0.6" stroke-dasharray="2.2 1.6"/>
<path d="M759.84,344.88 761.28,342.07 762.73,340.62 764.17,339.44 765.61,338.42 767.05,337.49 768.5,336.64 769.94,335.84 771.38,335.08 772.82,334.37 774.27,333.68 775.71,333.02 777.15,332.39" fill="none" stroke="#39c878" stroke-width="1.1"/>
<path d="M759.12,380.86 759.84,383.73 761.28,388.12 762.73,392.51 764.17,394.3 765.61,396.09 767.05,397.88 768.5,399.14 769.94,400.06 771.38,400.97 772.82,401.89 774.27,402.8 775.71,403.56 777.15,404.28" fill="none" stroke="#4fa596" stroke-width="1.2" opacity="0.8"/>
<path d="M750.7,279.3V431.7H946.6" fill="none" stroke="#333" stroke-width="0.9"/>
<line x1="746.3" y1="419.2" x2="750.7" y2="419.2" stroke="#333" stroke-width="0.8"/>
<text x="741.7" y="422.45" font-size="9.2" text-anchor="end">30</text>
<line x1="746.3" y1="385.42" x2="750.7" y2="385.42" stroke="#333" stroke-width="0.8"/>
<text x="741.7" y="388.67" font-size="9.2" text-anchor="end">40</text>
<line x1="746.3" y1="351.64" x2="750.7" y2="351.64" stroke="#333" stroke-width="0.8"/>
<text x="741.7" y="354.89" font-size="9.2" text-anchor="end">50</text>
<line x1="746.3" y1="317.86" x2="750.7" y2="317.86" stroke="#333" stroke-width="0.8"/>
<text x="741.7" y="321.11" font-size="9.2" text-anchor="end">60</text>
<line x1="746.3" y1="284.08" x2="750.7" y2="284.08" stroke="#333" stroke-width="0.8"/>
<text x="741.7" y="287.33" font-size="9.2" text-anchor="end">70</text>
<line x1="758.4" y1="431.7" x2="758.4" y2="436.1" stroke="#333" stroke-width="0.8"/>
<text x="758.4" y="447.2" font-size="9.2" text-anchor="middle">2</text>
<line x1="787.25" y1="431.7" x2="787.25" y2="436.1" stroke="#333" stroke-width="0.8"/>
<text x="787.25" y="447.2" font-size="9.2" text-anchor="middle">22</text>
<line x1="816.1" y1="431.7" x2="816.1" y2="436.1" stroke="#333" stroke-width="0.8"/>
<text x="816.1" y="447.2" font-size="9.2" text-anchor="middle">42</text>
<line x1="844.95" y1="431.7" x2="844.95" y2="436.1" stroke="#333" stroke-width="0.8"/>
<text x="844.95" y="447.2" font-size="9.2" text-anchor="middle">62</text>
<line x1="873.8" y1="431.7" x2="873.8" y2="436.1" stroke="#333" stroke-width="0.8"/>
<text x="873.8" y="447.2" font-size="9.2" text-anchor="middle">82</text>
<line x1="902.65" y1="431.7" x2="902.65" y2="436.1" stroke="#333" stroke-width="0.8"/>
<text x="902.65" y="447.2" font-size="9.2" text-anchor="middle">102</text>
<line x1="931.5" y1="431.7" x2="931.5" y2="436.1" stroke="#333" stroke-width="0.8"/>
<text x="931.5" y="447.2" font-size="9.2" text-anchor="middle">122</text>
<text x="721.3" y="355.5" font-size="9.2" text-anchor="middle" transform="rotate(-90 721.3 355.5)">Genes (×10<tspan font-size="5.6" dy="-3.6">3</tspan><tspan dy="3.6">)</tspan></text>
<text x="851.5" y="459.2" font-size="9.2" text-anchor="middle">Sample</text>
<path d="M887.5,356.8L887.5,300.9A55.9,55.9 0 0 1 915.73,405.05Z" fill="#a28e50" stroke="#fff" stroke-width="0.5" stroke-linejoin="round"/>
<path d="M887.5,356.8L915.73,405.05A55.9,55.9 0 0 1 835.45,336.42Z" fill="#e9786a" stroke="#fff" stroke-width="0.5" stroke-linejoin="round"/>
<path d="M887.5,356.8L835.45,336.42A55.9,55.9 0 0 1 850.24,315.13Z" fill="#52c1e0" stroke="#fff" stroke-width="0.5" stroke-linejoin="round"/>
<path d="M887.5,356.8L850.24,315.13A55.9,55.9 0 0 1 887.5,300.9Z" fill="#7677c1" stroke="#fff" stroke-width="0.5" stroke-linejoin="round"/>
<line x1="837.3" y1="324.5" x2="848.2" y2="332.3" stroke="#333" stroke-width="0.5"/>
<line x1="913.1" y1="304.4" x2="875.4" y2="324.9" stroke="#333" stroke-width="0.5"/>
<text x="904.1" y="350.6" font-size="9.2">Core</text>
<text x="904.1" y="361.7" font-size="9.2">41.57%</text>
<text x="845.7" y="376.3" font-size="9.2">Distributed</text>
<text x="845.7" y="387.9" font-size="9.2">39.36%</text>
<text x="808.4" y="320.2" font-size="9.2">Private</text>
<text x="808.4" y="331.3" font-size="9.2">7.45%</text>
<text x="920.8" y="300.5" font-size="9.2">Soft-core</text>
<text x="920.8" y="311.4" font-size="9.2">11.61%</text>
</g>
<g id="panel_g">
<text transform="translate(26.9 475.6) scale(1.0 1)" x="0" y="0" font-size="12.8" font-weight="bold" font-family="'DejaVu Sans', 'Liberation Sans', sans-serif" fill="#000" stroke="#000" stroke-width="0.45" stroke-linejoin="round">g</text>
<text x="50.1" y="479.3" font-size="9.2"><tspan font-style="italic">z</tspan>-score of RGA number</text>
<defs><linearGradient id="zg" x1="0" x2="1" y1="0" y2="0"><stop offset="0" stop-color="#1010b8"/><stop offset="0.25" stop-color="#4a6cf0"/><stop offset="0.45" stop-color="#e8eeff"/><stop offset="0.5" stop-color="#ffffff"/><stop offset="0.55" stop-color="#ffe9e4"/><stop offset="0.75" stop-color="#f0523a"/><stop offset="1" stop-color="#b80f0f"/></linearGradient><linearGradient id="gg" x1="0" x2="1" y1="0" y2="0"><stop offset="0" stop-color="#6f6f7a"/><stop offset="0.6" stop-color="#8a4a9a"/><stop offset="1" stop-color="#b400d8"/></linearGradient></defs>
<rect x="55.6" y="482.5" width="84" height="4.8" fill="url(#zg)"/>
<text x="58.2" y="498.2" font-size="9.2" text-anchor="middle">–10</text>
<text x="78.2" y="498.2" font-size="9.2" text-anchor="middle">–5</text>
<text x="97.9" y="498.2" font-size="9.2" text-anchor="middle">0</text>
<text x="118" y="498.2" font-size="9.2" text-anchor="middle">5</text>
<text x="138.3" y="498.2" font-size="9.2" text-anchor="middle">10</text>
<rect x="155.8" y="477" width="9.7" height="3.9" fill="#7d8a99"/>
<text x="169.7" y="481.7" font-size="9.2" font-style="italic">O. longistaminata</text>
<rect x="155.8" y="489.9" width="9.7" height="3.9" fill="#3f4c4b"/>
<text x="169.7" y="494.6" font-size="9.2" font-style="italic">O. meridionalis</text>
<rect x="247.3" y="477" width="9.7" height="3.9" fill="#b51fc3"/>
<text x="261.2" y="481.7" font-size="9.2" font-style="italic">O. rufipogon</text>
<rect x="247.3" y="489.9" width="9.7" height="3.9" fill="#1fd15f"/>
<text x="261.2" y="494.6" font-size="9.2" font-style="italic">O. sativa</text>
<text x="7.1" y="518.6" font-size="9.2">Group</text>
<rect x="36.3" y="514" width="136.3" height="4.7" fill="#b400d8"/>
<rect x="36.3" y="514" width="5.5" height="4.7" fill="url(#gg)"/>
<rect x="178" y="514" width="133" height="4.7" fill="#14d65f"/>
<rect x="36.5" y="524.5" width="136" height="367" fill="#fffefe"/>
<path d="M36.5,525.4h136.0v0.9H36.5zM36.5,526.3h136.0v0.9H36.5zM36.5,528.1h136.0v0.9H36.5zM36.5,531.7h136.0v0.9H36.5zM36.5,536.2h136.0v0.9H36.5zM36.5,537.1h136.0v0.9H36.5zM36.5,538.9h136.0v0.9H36.5zM36.5,539.8h136.0v0.9H36.5zM36.5,545.2h136.0v0.9H36.5zM36.5,546.1h136.0v0.9H36.5zM36.5,547.9h136.0v0.9H36.5zM36.5,549.7h136.0v0.9H36.5zM36.5,556.9h136.0v0.9H36.5zM36.5,559.6h136.0v0.9H36.5zM36.5,562.3h136.0v0.9H36.5zM36.5,564.1h136.0v0.9H36.5zM36.5,565.0h136.0v0.9H36.5zM36.5,566.8h136.0v0.9H36.5zM36.5,567.7h136.0v0.9H36.5zM36.5,569.5h136.0v0.9H36.5zM36.5,571.3h136.0v0.9H36.5zM36.5,572.2h136.0v0.9H36.5zM36.5,573.1h136.0v0.9H36.5zM36.5,576.7h136.0v0.9H36.5zM36.5,579.4h136.0v0.9H36.5zM36.5,580.3h136.0v0.9H36.5zM36.5,581.2h136.0v0.9H36.5zM36.5,585.7h136.0v0.9H36.5zM36.5,586.6h136.0v0.9H36.5zM36.5,589.3h136.0v0.9H36.5zM36.5,591.1h136.0v0.9H36.5zM36.5,593.8h136.0v0.9H36.5zM36.5,594.7h136.0v0.9H36.5zM36.5,595.6h136.0v0.9H36.5zM36.5,597.4h136.0v0.9H36.5zM36.5,599.2h136.0v0.9H36.5zM36.5,600.1h136.0v0.9H36.5zM36.5,601.0h136.0v0.9H36.5zM36.5,602.8h136.0v0.9H36.5zM36.5,603.7h136.0v0.9H36.5zM36.5,604.6h136.0v0.9H36.5zM36.5,608.2h136.0v0.9H36.5zM36.5,609.1h136.0v0.9H36.5zM36.5,610.0h136.0v0.9H36.5zM36.5,611.8h136.0v0.9H36.5zM36.5,613.6h136.0v0.9H36.5zM36.5,614.5h136.0v0.9H36.5zM36.5,615.4h136.0v0.9H36.5zM36.5,617.2h136.0v0.9H36.5zM36.5,619.9h136.0v0.9H36.5zM36.5,620.8h136.0v0.9H36.5zM36.5,624.4h136.0v0.9H36.5zM36.5,625.3h136.0v0.9H36.5zM36.5,826.9h136.0v0.9H36.5zM36.5,827.8h136.0v0.9H36.5zM36.5,830.5h136.0v0.9H36.5zM36.5,832.3h136.0v0.9H36.5zM36.5,833.2h136.0v0.9H36.5zM36.5,834.1h136.0v0.9H36.5zM36.5,835.0h136.0v0.9H36.5zM36.5,835.9h136.0v0.9H36.5z" fill="#fefbfb"/>
<path d="M36.5,532.6h136.0v0.9H36.5zM36.5,533.5h136.0v0.9H36.5zM36.5,544.3h136.0v0.9H36.5zM36.5,563.2h136.0v0.9H36.5zM36.5,583.0h136.0v0.9H36.5zM36.5,587.5h136.0v0.9H36.5zM36.5,610.9h136.0v0.9H36.5zM36.5,637.0h136.0v0.9H36.5zM36.5,638.8h136.0v0.9H36.5zM36.5,639.7h136.0v0.9H36.5zM36.5,640.6h136.0v0.9H36.5zM36.5,647.8h136.0v0.9H36.5zM36.5,649.6h136.0v0.9H36.5zM36.5,650.5h136.0v0.9H36.5zM36.5,653.2h136.0v0.9H36.5zM36.5,654.1h136.0v0.9H36.5zM36.5,655.0h136.0v0.9H36.5zM36.5,662.2h136.0v0.9H36.5zM36.5,664.9h136.0v0.9H36.5zM36.5,688.3h136.0v0.9H36.5z" fill="#fdf7f7"/>
<path d="M36.5,534.4h136.0v0.9H36.5zM36.5,541.6h136.0v0.9H36.5zM36.5,551.5h136.0v0.9H36.5zM36.5,554.2h136.0v0.9H36.5zM36.5,619.0h136.0v0.9H36.5zM36.5,621.7h136.0v0.9H36.5zM36.5,627.1h136.0v0.9H36.5zM36.5,628.0h136.0v0.9H36.5zM36.5,629.8h136.0v0.9H36.5zM36.5,634.3h136.0v0.9H36.5zM36.5,635.2h136.0v0.9H36.5zM36.5,636.1h136.0v0.9H36.5zM36.5,637.9h136.0v0.9H36.5zM36.5,641.5h136.0v0.9H36.5zM36.5,642.4h136.0v0.9H36.5zM36.5,643.3h136.0v0.9H36.5zM36.5,644.2h136.0v0.9H36.5zM36.5,645.1h136.0v0.9H36.5zM36.5,646.9h136.0v0.9H36.5zM36.5,648.7h136.0v0.9H36.5zM36.5,651.4h136.0v0.9H36.5zM36.5,652.3h136.0v0.9H36.5zM36.5,655.9h136.0v0.9H36.5zM36.5,656.8h136.0v0.9H36.5zM36.5,657.7h136.0v0.9H36.5zM36.5,658.6h136.0v0.9H36.5zM36.5,659.5h136.0v0.9H36.5zM36.5,660.4h136.0v0.9H36.5zM36.5,664.0h136.0v0.9H36.5zM36.5,665.8h136.0v0.9H36.5zM36.5,666.7h136.0v0.9H36.5zM36.5,674.8h136.0v0.9H36.5zM36.5,679.3h136.0v0.9H36.5zM36.5,682.9h136.0v0.9H36.5zM36.5,684.7h136.0v0.9H36.5zM36.5,687.4h136.0v0.9H36.5zM36.5,689.2h136.0v0.9H36.5zM36.5,690.1h136.0v0.9H36.5zM36.5,691.9h136.0v0.9H36.5zM36.5,692.8h136.0v0.9H36.5zM36.5,694.6h136.0v0.9H36.5zM36.5,707.2h136.0v0.9H36.5z" fill="#fcf3f3"/>
<path d="M36.5,530.8h136.0v0.9H36.5zM36.5,574.0h136.0v0.9H36.5zM36.5,626.2h136.0v0.9H36.5zM36.5,632.5h136.0v0.9H36.5zM36.5,646.0h136.0v0.9H36.5zM36.5,661.3h136.0v0.9H36.5zM36.5,663.1h136.0v0.9H36.5zM36.5,668.5h136.0v0.9H36.5zM36.5,673.0h136.0v0.9H36.5zM36.5,680.2h136.0v0.9H36.5zM36.5,681.1h136.0v0.9H36.5zM36.5,682.0h136.0v0.9H36.5zM36.5,683.8h136.0v0.9H36.5zM36.5,685.6h136.0v0.9H36.5zM36.5,686.5h136.0v0.9H36.5zM36.5,691.0h136.0v0.9H36.5zM36.5,696.4h136.0v0.9H36.5zM36.5,697.3h136.0v0.9H36.5zM36.5,699.1h136.0v0.9H36.5zM36.5,700.0h136.0v0.9H36.5zM36.5,708.1h136.0v0.9H36.5zM36.5,709.9h136.0v0.9H36.5zM36.5,715.3h136.0v0.9H36.5zM36.5,716.2h136.0v0.9H36.5zM36.5,718.9h136.0v0.9H36.5zM36.5,723.4h136.0v0.9H36.5z" fill="#fcefef"/>
<path d="M36.5,628.9h136.0v0.9H36.5zM36.5,630.7h136.0v0.9H36.5zM36.5,631.6h136.0v0.9H36.5zM36.5,633.4h136.0v0.9H36.5zM36.5,669.4h136.0v0.9H36.5zM36.5,670.3h136.0v0.9H36.5zM36.5,671.2h136.0v0.9H36.5zM36.5,673.9h136.0v0.9H36.5zM36.5,675.7h136.0v0.9H36.5zM36.5,676.6h136.0v0.9H36.5zM36.5,677.5h136.0v0.9H36.5zM36.5,678.4h136.0v0.9H36.5zM36.5,700.9h136.0v0.9H36.5zM36.5,703.6h136.0v0.9H36.5zM36.5,705.4h136.0v0.9H36.5zM36.5,709.0h136.0v0.9H36.5zM36.5,711.7h136.0v0.9H36.5zM36.5,712.6h136.0v0.9H36.5zM36.5,714.4h136.0v0.9H36.5zM36.5,721.6h136.0v0.9H36.5zM36.5,722.5h136.0v0.9H36.5z" fill="#fbebeb"/>
<path d="M36.5,667.6h136.0v0.9H36.5zM36.5,672.1h136.0v0.9H36.5zM36.5,693.7h136.0v0.9H36.5zM36.5,695.5h136.0v0.9H36.5zM36.5,698.2h136.0v0.9H36.5zM36.5,701.8h136.0v0.9H36.5zM36.5,702.7h136.0v0.9H36.5zM36.5,704.5h136.0v0.9H36.5zM36.5,706.3h136.0v0.9H36.5zM36.5,710.8h136.0v0.9H36.5zM36.5,713.5h136.0v0.9H36.5zM36.5,717.1h136.0v0.9H36.5zM36.5,718.0h136.0v0.9H36.5zM36.5,719.8h136.0v0.9H36.5zM36.5,720.7h136.0v0.9H36.5z" fill="#fae7e7"/>
<path d="M97.6,642.5h7v.5h-7zM111.0,631.7h14v.5h-14zM83.8,677.3h24v.5h-24zM80.4,653.8h16v.5h-16zM102.9,653.6h17v.5h-17zM71.4,627.4h19v.5h-19zM42.4,641.3h8v.5h-8zM82.0,713.4h20v.5h-20zM42.8,722.3h19v.5h-19zM45.2,714.2h24v.5h-24zM95.5,720.8h12v.5h-12zM103.3,717.3h8v.5h-8zM91.4,721.3h19v.5h-19zM105.8,637.2h21v.5h-21zM90.9,645.8h17v.5h-17zM106.1,638.1h4v.5h-4zM118.7,670.4h13v.5h-13zM110.5,666.9h9v.5h-9zM98.0,723.2h20v.5h-20zM118.5,649.2h24v.5h-24zM152.6,702.4h6v.5h-6zM79.5,652.4h17v.5h-17zM103.1,683.6h18v.5h-18zM125.9,644.5h17v.5h-17zM161.0,715.2h8v.5h-8zM41.5,631.9h22v.5h-22zM90.6,686.7h9v.5h-9zM107.3,633.1h5v.5h-5zM125.0,679.6h5v.5h-5zM81.1,672.6h17v.5h-17zM80.8,698.5h8v.5h-8zM45.4,637.7h21v.5h-21zM108.2,700.9h21v.5h-21zM91.0,651.1h8v.5h-8zM79.1,689.7h21v.5h-21zM72.9,679.4h25v.5h-25zM143.4,667.7h19v.5h-19zM49.0,711.2h11v.5h-11zM47.8,681.0h5v.5h-5zM120.2,655.1h14v.5h-14zM45.7,646.8h20v.5h-20zM46.6,655.6h18v.5h-18zM117.5,653.6h19v.5h-19zM83.1,696.7h6v.5h-6zM51.5,695.1h11v.5h-11zM146.7,717.5h16v.5h-16zM86.0,704.2h23v.5h-23zM76.8,664.9h10v.5h-10zM136.7,650.2h24v.5h-24zM82.3,661.4h11v.5h-11zM84.8,645.0h12v.5h-12zM132.3,678.7h15v.5h-15zM100.9,643.2h21v.5h-21zM138.6,653.4h20v.5h-20zM104.8,679.0h3v.5h-3zM152.5,689.4h15v.5h-15zM44.3,679.3h21v.5h-21zM46.6,634.0h20v.5h-20zM141.1,634.2h19v.5h-19zM54.0,698.6h17v.5h-17zM65.9,647.5h17v.5h-17zM97.1,700.5h20v.5h-20zM78.7,720.3h12v.5h-12zM94.9,678.3h18v.5h-18zM119.2,715.1h19v.5h-19zM138.6,690.9h12v.5h-12zM128.2,707.2h22v.5h-22zM144.7,688.4h23v.5h-23zM122.5,704.1h15v.5h-15zM88.6,640.2h12v.5h-12z" fill="#ffffff" opacity="0.75"/>
<path d="M136.2,721.4h0.9v0.5h-0.9zM64.3,609.2h0.8v0.7h-0.8zM44.9,586.1h0.6v0.6h-0.6zM140.8,560.6h0.6v0.5h-0.6zM115.1,705.2h0.5v0.4h-0.5zM61.7,568.1h0.8v0.6h-0.8zM116.6,569.4h0.7v0.5h-0.7zM60.1,675.1h0.8v0.6h-0.8zM146.3,620.0h0.8v0.7h-0.8zM159.3,592.8h1.1v0.7h-1.1zM101.6,568.8h0.6v0.7h-0.6zM144.2,601.3h1.1v0.6h-1.1zM73.7,721.3h1.2v0.5h-1.2zM38.5,618.7h0.9v0.6h-0.9zM132.4,645.1h0.7v0.4h-0.7zM80.1,576.4h1.5v0.6h-1.5zM122.2,721.8h0.8v0.6h-0.8zM57.2,677.7h0.5v0.6h-0.5zM150.2,687.9h0.6v0.5h-0.6zM132.9,544.3h1.0v0.5h-1.0zM164.8,641.3h1.4v0.5h-1.4zM142.6,607.6h1.5v0.4h-1.5zM147.6,566.3h1.1v0.6h-1.1zM58.1,689.9h0.8v0.5h-0.8zM47.2,585.6h1.0v0.6h-1.0zM85.1,661.2h0.6v0.5h-0.6zM98.8,716.6h1.4v0.6h-1.4zM38.7,599.7h1.3v0.5h-1.3zM112.5,615.8h0.5v0.7h-0.5zM144.0,566.0h1.2v0.5h-1.2zM87.3,632.0h0.8v0.5h-0.8zM89.5,657.1h0.8v0.5h-0.8zM134.9,590.3h1.5v0.6h-1.5zM133.8,590.7h1.4v0.4h-1.4zM55.8,543.7h1.2v0.6h-1.2zM61.1,604.7h1.4v0.6h-1.4zM49.1,569.9h0.7v0.4h-0.7zM91.4,539.4h1.5v0.5h-1.5zM105.4,653.3h1.3v0.6h-1.3zM88.6,590.7h1.0v0.4h-1.0zM90.6,663.7h1.6v0.6h-1.6zM125.3,645.6h0.5v0.5h-0.5zM82.8,654.0h0.6v0.5h-0.6zM105.2,681.3h1.4v0.6h-1.4zM58.2,676.9h1.5v0.6h-1.5zM84.2,624.2h0.7v0.6h-0.7zM169.0,627.3h1.3v0.7h-1.3zM63.4,712.3h1.2v0.5h-1.2zM48.1,573.5h1.1v0.6h-1.1zM81.0,709.1h0.9v0.5h-0.9zM53.6,718.0h0.6v0.7h-0.6zM109.7,636.1h1.1v0.5h-1.1zM158.7,721.6h1.4v0.6h-1.4zM53.4,688.4h0.8v0.7h-0.8zM69.2,638.7h1.4v0.5h-1.4zM110.3,540.1h0.5v0.5h-0.5zM169.1,711.2h1.2v0.5h-1.2zM126.8,671.2h0.9v0.6h-0.9zM144.6,528.2h0.7v0.5h-0.7zM56.1,601.6h1.1v0.5h-1.1zM106.5,577.3h1.1v0.5h-1.1zM122.9,532.5h1.2v0.4h-1.2zM165.4,643.9h1.0v0.5h-1.0zM120.5,661.6h1.3v0.6h-1.3zM102.0,722.1h1.4v0.7h-1.4zM91.7,611.0h1.1v0.7h-1.1zM107.4,629.1h1.0v0.7h-1.0zM79.9,535.8h1.3v0.7h-1.3zM134.9,643.4h1.3v0.5h-1.3zM116.4,538.8h0.6v0.5h-0.6zM104.3,603.6h0.6v0.6h-0.6zM107.4,572.4h0.8v0.5h-0.8zM68.6,538.6h1.5v0.7h-1.5zM126.1,696.7h1.0v0.6h-1.0zM66.7,673.0h1.1v0.7h-1.1zM50.2,682.0h0.6v0.6h-0.6zM164.2,525.1h0.8v0.5h-0.8zM80.5,537.4h1.5v0.6h-1.5zM90.2,595.7h1.1v0.4h-1.1zM41.2,703.1h0.8v0.5h-0.8zM162.0,718.7h1.0v0.5h-1.0zM76.5,707.9h1.5v0.5h-1.5zM149.1,595.2h1.0v0.5h-1.0zM154.7,722.3h0.7v0.6h-0.7zM62.6,699.4h0.6v0.4h-0.6zM134.1,587.0h1.5v0.7h-1.5zM132.4,551.7h1.3v0.7h-1.3zM96.6,540.7h0.7v0.5h-0.7zM132.1,563.9h0.7v0.5h-0.7zM125.9,681.7h0.9v0.6h-0.9zM155.3,641.9h0.8v0.5h-0.8zM161.0,657.2h0.8v0.6h-0.8zM49.0,719.8h1.0v0.6h-1.0zM108.0,534.0h1.2v0.5h-1.2zM70.6,684.2h0.6v0.5h-0.6zM138.1,573.7h0.8v0.6h-0.8zM61.9,702.8h1.6v0.4h-1.6zM98.8,673.8h0.9v0.7h-0.9zM103.9,560.7h1.1v0.6h-1.1zM85.1,655.5h1.4v0.6h-1.4zM104.7,692.6h1.3v0.6h-1.3zM164.3,559.5h1.4v0.4h-1.4zM118.4,571.6h1.0v0.6h-1.0zM142.2,681.8h0.8v0.5h-0.8zM66.6,640.0h1.0v0.4h-1.0zM116.9,666.7h1.1v0.7h-1.1zM61.1,555.1h0.5v0.5h-0.5zM95.2,612.5h0.8v0.6h-0.8zM46.7,704.8h1.1v0.6h-1.1zM142.9,572.2h0.7v0.5h-0.7zM42.7,587.3h1.2v0.6h-1.2zM72.4,641.7h0.6v0.6h-0.6zM60.0,575.5h0.7v0.6h-0.7zM148.2,680.9h0.6v0.5h-0.6zM85.8,567.9h1.6v0.4h-1.6zM102.5,675.9h1.6v0.4h-1.6zM97.9,672.6h0.5v0.5h-0.5zM156.1,553.1h0.9v0.5h-0.9zM93.8,540.2h0.5v0.7h-0.5zM139.1,670.5h0.8v0.5h-0.8zM110.8,572.9h1.0v0.7h-1.0zM85.7,591.8h1.6v0.6h-1.6zM42.3,604.9h1.2v0.4h-1.2zM82.9,662.7h1.5v0.6h-1.5zM155.6,616.7h0.9v0.7h-0.9zM88.0,679.9h0.7v0.5h-0.7zM61.6,633.9h0.7v0.5h-0.7zM65.7,617.7h0.8v0.5h-0.8zM169.9,659.6h1.4v0.5h-1.4zM88.2,539.4h1.3v0.5h-1.3zM73.7,528.7h0.7v0.5h-0.7zM89.6,708.1h1.3v0.5h-1.3zM85.3,555.4h1.5v0.5h-1.5zM139.4,668.4h1.5v0.4h-1.5zM80.1,601.2h0.6v0.7h-0.6zM80.5,677.8h1.1v0.4h-1.1zM89.7,572.2h0.5v0.4h-0.5zM116.7,531.3h0.8v0.5h-0.8zM109.8,552.0h1.3v0.5h-1.3zM134.1,657.0h0.7v0.5h-0.7zM74.5,666.3h0.9v0.5h-0.9zM152.9,569.8h0.8v0.5h-0.8zM65.9,533.1h0.5v0.6h-0.5zM112.7,685.3h1.6v0.5h-1.6zM126.7,707.2h0.7v0.6h-0.7zM126.2,714.3h1.5v0.5h-1.5zM121.6,542.8h1.0v0.5h-1.0zM45.0,601.0h0.9v0.5h-0.9zM74.4,556.4h0.9v0.5h-0.9zM59.3,656.8h0.8v0.4h-0.8zM82.7,608.7h0.7v0.6h-0.7zM130.8,634.6h1.3v0.4h-1.3zM89.4,597.2h0.6v0.5h-0.6zM44.3,623.2h1.1v0.5h-1.1zM80.6,575.2h0.5v0.5h-0.5zM156.3,637.1h0.8v0.6h-0.8zM61.9,618.0h1.2v0.7h-1.2zM85.5,639.2h1.5v0.6h-1.5zM120.9,648.0h1.0v0.5h-1.0zM74.0,689.4h1.5v0.5h-1.5zM158.7,532.6h0.6v0.6h-0.6zM78.3,596.4h1.6v0.4h-1.6zM62.8,570.3h1.2v0.5h-1.2zM37.1,632.8h0.9v0.5h-0.9zM103.0,653.9h1.1v0.6h-1.1zM112.0,689.7h1.6v0.5h-1.6zM83.4,700.7h0.8v0.6h-0.8zM130.0,661.1h1.6v0.6h-1.6zM58.3,648.2h1.0v0.6h-1.0zM86.4,581.6h1.3v0.6h-1.3zM68.7,574.4h0.9v0.5h-0.9zM105.7,550.0h0.6v0.4h-0.6zM50.7,664.7h0.6v0.5h-0.6zM140.3,620.3h0.7v0.7h-0.7zM153.4,535.6h0.8v0.6h-0.8zM143.6,602.7h1.3v0.5h-1.3zM132.8,589.8h0.9v0.6h-0.9zM149.8,689.2h1.1v0.5h-1.1zM131.6,648.5h1.4v0.6h-1.4zM53.8,599.7h1.2v0.5h-1.2zM61.7,527.7h1.1v0.7h-1.1zM166.8,551.5h1.3v0.5h-1.3zM121.5,603.6h1.5v0.7h-1.5zM43.5,666.4h0.6v0.4h-0.6zM75.3,669.9h1.6v0.4h-1.6zM81.2,530.3h1.1v0.5h-1.1zM87.0,586.3h1.4v0.7h-1.4zM75.0,602.6h1.2v0.6h-1.2zM168.3,602.2h1.3v0.6h-1.3zM144.1,554.1h0.7v0.4h-0.7zM161.9,574.8h1.0v0.4h-1.0zM80.3,528.8h1.1v0.4h-1.1zM120.7,579.3h0.8v0.5h-0.8zM86.0,576.4h0.6v0.4h-0.6zM156.4,586.3h0.6v0.5h-0.6zM101.7,722.6h0.7v0.7h-0.7zM101.8,607.2h1.4v0.5h-1.4zM44.7,634.1h1.2v0.6h-1.2zM74.1,711.1h1.5v0.7h-1.5zM96.3,690.2h1.3v0.5h-1.3zM40.6,558.5h0.6v0.4h-0.6zM85.0,674.4h0.8v0.6h-0.8zM38.4,566.6h1.6v0.4h-1.6zM107.5,685.6h1.4v0.6h-1.4zM90.4,684.2h1.4v0.6h-1.4zM168.9,545.0h1.5v0.5h-1.5zM131.4,574.6h1.5v0.4h-1.5zM114.2,570.0h0.9v0.5h-0.9zM124.9,685.7h0.9v0.6h-0.9zM84.4,580.3h1.5v0.5h-1.5zM49.6,591.4h1.3v0.5h-1.3zM136.4,633.3h1.2v0.5h-1.2zM51.2,553.3h0.9v0.5h-0.9zM38.3,624.6h0.9v0.5h-0.9zM108.9,713.7h0.7v0.7h-0.7zM79.9,674.5h0.6v0.7h-0.6zM94.5,715.8h0.7v0.5h-0.7zM131.5,560.2h0.8v0.6h-0.8zM163.8,588.9h0.7v0.5h-0.7zM169.4,554.4h1.2v0.5h-1.2zM123.2,567.1h1.2v0.7h-1.2zM151.6,649.6h1.1v0.6h-1.1zM52.3,691.0h1.3v0.5h-1.3zM126.0,608.1h0.9v0.5h-0.9zM117.4,638.5h1.1v0.4h-1.1zM120.9,613.6h1.2v0.6h-1.2zM161.6,555.1h1.0v0.7h-1.0zM135.7,587.0h1.3v0.7h-1.3zM90.8,696.9h0.6v0.7h-0.6zM102.7,571.4h1.4v0.6h-1.4zM162.5,689.4h1.4v0.6h-1.4zM170.0,537.8h1.5v0.6h-1.5zM70.5,685.0h1.0v0.6h-1.0zM152.8,563.8h0.8v0.6h-0.8zM46.8,635.0h1.4v0.5h-1.4zM69.4,683.6h1.4v0.6h-1.4zM110.5,704.5h1.4v0.4h-1.4zM86.0,544.9h0.5v0.5h-0.5zM152.7,690.3h0.6v0.5h-0.6zM89.0,693.3h1.2v0.7h-1.2zM46.6,720.8h0.7v0.6h-0.7zM154.3,669.2h0.7v0.6h-0.7zM94.6,528.0h0.9v0.5h-0.9zM121.3,580.2h1.2v0.6h-1.2zM61.2,550.4h1.3v0.5h-1.3zM54.3,548.0h1.5v0.6h-1.5zM84.8,563.9h1.6v0.6h-1.6zM135.5,596.4h0.8v0.5h-0.8zM56.6,650.1h1.0v0.6h-1.0zM91.7,615.5h1.1v0.7h-1.1zM83.3,664.5h0.8v0.6h-0.8zM75.1,698.0h0.8v0.7h-0.8zM127.5,615.2h1.5v0.5h-1.5zM136.5,644.2h1.0v0.4h-1.0zM93.1,580.8h1.0v0.7h-1.0zM76.2,662.7h1.2v0.5h-1.2zM92.1,551.2h1.5v0.5h-1.5zM93.3,592.7h1.4v0.7h-1.4zM116.0,633.2h0.6v0.7h-0.6zM48.8,597.1h0.9v0.6h-0.9zM126.5,593.2h1.5v0.7h-1.5zM40.1,650.5h1.0v0.5h-1.0zM99.2,587.6h1.2v0.6h-1.2zM166.8,718.5h1.6v0.5h-1.6zM147.9,653.8h1.3v0.7h-1.3zM45.9,616.6h0.9v0.6h-0.9zM66.2,721.2h0.7v0.5h-0.7zM56.1,603.2h1.3v0.4h-1.3zM59.3,653.6h1.2v0.6h-1.2zM70.9,685.8h1.3v0.6h-1.3zM53.0,617.9h0.5v0.7h-0.5zM163.4,702.6h0.5v0.5h-0.5zM108.7,630.8h0.6v0.6h-0.6zM77.3,625.6h0.6v0.6h-0.6zM54.4,542.5h1.1v0.5h-1.1zM141.0,573.9h1.0v0.4h-1.0zM66.1,614.5h1.1v0.5h-1.1zM150.8,545.7h1.4v0.4h-1.4zM166.8,629.0h0.9v0.6h-0.9zM152.6,716.0h1.0v0.4h-1.0zM57.6,687.2h1.3v0.6h-1.3zM57.9,630.3h0.5v0.4h-0.5zM77.2,716.5h1.2v0.7h-1.2zM43.2,607.5h0.6v0.5h-0.6zM52.0,707.1h0.9v0.5h-0.9zM124.5,700.7h1.5v0.6h-1.5zM104.0,704.1h0.9v0.5h-0.9zM135.9,576.2h0.9v0.5h-0.9zM100.8,596.1h1.0v0.5h-1.0zM43.6,690.6h0.6v0.6h-0.6zM110.3,604.2h0.7v0.4h-0.7zM86.8,587.3h1.0v0.5h-1.0zM137.3,621.6h0.5v0.5h-0.5zM166.3,526.4h1.2v0.7h-1.2zM85.9,643.5h0.9v0.5h-0.9zM118.5,641.8h0.8v0.5h-0.8zM106.1,674.4h0.6v0.4h-0.6zM70.7,578.5h1.4v0.5h-1.4zM152.1,604.7h0.8v0.6h-0.8zM48.4,720.0h1.4v0.5h-1.4zM79.5,687.4h1.4v0.6h-1.4zM44.6,676.3h0.6v0.6h-0.6zM110.9,708.8h1.2v0.4h-1.2zM162.0,674.2h1.1v0.4h-1.1zM135.6,607.9h1.2v0.7h-1.2zM159.7,539.9h1.4v0.5h-1.4zM137.6,599.9h1.0v0.5h-1.0zM52.8,588.4h1.3v0.4h-1.3zM52.5,690.3h1.2v0.6h-1.2zM52.2,548.5h0.8v0.7h-0.8zM112.0,707.8h0.7v0.5h-0.7zM108.8,691.3h0.6v0.7h-0.6zM100.2,531.2h1.0v0.5h-1.0zM127.2,709.0h1.0v0.6h-1.0zM88.9,679.3h0.6v0.6h-0.6zM59.3,641.1h0.7v0.5h-0.7zM58.9,594.3h1.2v0.6h-1.2zM89.0,638.8h1.4v0.5h-1.4zM115.1,620.2h1.6v0.5h-1.6zM130.3,571.3h0.8v0.6h-0.8zM113.9,575.9h0.6v0.6h-0.6zM87.5,667.0h1.0v0.6h-1.0zM111.9,718.4h1.5v0.5h-1.5zM102.1,570.8h1.3v0.4h-1.3zM78.0,693.0h0.5v0.6h-0.5zM113.0,634.3h0.9v0.4h-0.9zM164.2,676.6h1.4v0.4h-1.4zM141.9,568.3h0.7v0.6h-0.7zM118.6,548.9h1.3v0.6h-1.3zM157.3,708.1h1.3v0.5h-1.3zM164.2,667.4h0.8v0.7h-0.8zM134.3,577.5h0.8v0.4h-0.8zM108.9,575.3h0.8v0.5h-0.8zM54.6,621.1h0.8v0.5h-0.8zM74.1,625.9h1.5v0.4h-1.5zM152.0,694.4h1.2v0.6h-1.2zM135.2,630.9h1.2v0.7h-1.2zM140.7,576.5h0.6v0.7h-0.6zM85.5,681.0h0.8v0.5h-0.8zM86.6,669.5h1.5v0.6h-1.5zM112.7,594.1h0.8v0.7h-0.8zM51.8,711.4h1.2v0.4h-1.2zM157.7,545.2h1.1v0.4h-1.1zM169.3,586.3h1.5v0.4h-1.5zM126.2,538.5h0.5v0.6h-0.5zM168.5,660.8h1.4v0.6h-1.4zM106.7,540.3h1.1v0.5h-1.1zM107.5,595.2h1.0v0.5h-1.0zM131.3,607.7h1.0v0.4h-1.0zM102.2,635.5h1.6v0.6h-1.6zM55.0,584.5h0.9v0.6h-0.9zM162.6,718.4h1.5v0.7h-1.5zM151.9,710.3h0.5v0.5h-0.5zM116.0,660.9h1.2v0.6h-1.2zM161.9,542.1h1.1v0.7h-1.1zM41.3,547.1h1.5v0.7h-1.5zM40.2,531.3h1.4v0.6h-1.4zM106.5,640.0h1.3v0.6h-1.3zM37.1,538.5h1.4v0.7h-1.4zM148.5,605.8h0.9v0.5h-0.9zM39.0,677.7h0.8v0.6h-0.8zM107.4,591.5h1.2v0.5h-1.2zM68.4,699.8h0.7v0.4h-0.7zM70.9,619.9h1.4v0.5h-1.4zM68.9,654.7h0.8v0.6h-0.8zM71.1,698.8h0.7v0.5h-0.7zM77.3,590.3h1.3v0.6h-1.3zM142.7,632.0h0.6v0.6h-0.6zM69.7,568.2h1.0v0.7h-1.0zM86.6,595.7h1.5v0.7h-1.5zM88.8,551.9h1.4v0.6h-1.4zM82.2,681.7h0.9v0.5h-0.9zM116.4,672.0h1.0v0.6h-1.0zM38.9,623.9h0.9v0.4h-0.9zM159.4,553.4h0.7v0.7h-0.7zM165.5,709.6h0.9v0.7h-0.9zM56.0,666.6h1.5v0.5h-1.5zM55.2,659.4h1.5v0.6h-1.5zM164.0,614.9h0.9v0.4h-0.9zM73.5,711.1h0.6v0.5h-0.6z" fill="#f4c8c3"/>
<path d="M83.5,534.8h0.7v0.5h-0.7zM53.4,629.4h0.9v0.6h-0.9zM139.0,629.4h1.2v0.4h-1.2zM66.8,540.2h0.7v0.6h-0.7zM160.7,624.9h0.6v0.5h-0.6zM113.1,583.4h1.1v0.7h-1.1zM98.5,644.5h1.1v0.5h-1.1zM62.5,712.1h1.2v0.4h-1.2zM139.0,604.4h0.5v0.4h-0.5zM60.2,671.0h0.6v0.4h-0.6zM66.4,683.4h0.8v0.6h-0.8zM99.2,561.2h0.5v0.5h-0.5zM42.6,576.6h0.9v0.5h-0.9zM100.3,648.7h0.7v0.5h-0.7zM155.3,640.1h0.8v0.6h-0.8zM98.6,590.9h1.1v0.5h-1.1zM162.2,694.1h1.1v0.4h-1.1zM105.1,720.1h0.7v0.5h-0.7zM133.8,571.6h0.9v0.4h-0.9zM163.8,581.3h0.6v0.6h-0.6zM83.4,635.9h0.8v0.7h-0.8zM105.8,600.1h0.5v0.5h-0.5zM73.0,638.8h0.9v0.5h-0.9zM49.0,623.6h0.8v0.6h-0.8zM166.8,580.5h0.8v0.4h-0.8zM144.0,571.5h1.1v0.6h-1.1zM71.1,703.9h0.9v0.5h-0.9zM111.3,712.5h0.8v0.5h-0.8zM75.9,691.7h0.9v0.5h-0.9zM63.3,567.6h1.1v0.6h-1.1zM167.9,706.8h1.0v0.6h-1.0zM132.2,685.5h1.1v0.5h-1.1zM146.0,585.1h0.7v0.7h-0.7zM40.1,626.4h0.7v0.6h-0.7zM118.7,705.6h1.2v0.6h-1.2zM45.6,657.2h0.6v0.7h-0.6zM153.6,586.6h0.6v0.6h-0.6zM138.4,720.2h0.9v0.4h-0.9zM134.2,536.6h1.1v0.6h-1.1zM142.1,698.1h0.9v0.7h-0.9zM122.5,622.5h0.8v0.5h-0.8zM40.1,556.9h1.1v0.5h-1.1zM124.5,678.7h1.0v0.6h-1.0zM79.3,579.1h0.6v0.6h-0.6zM128.8,711.7h0.7v0.7h-0.7zM159.0,582.6h1.2v0.6h-1.2zM165.8,678.4h0.7v0.5h-0.7zM106.9,621.7h0.5v0.7h-0.5zM108.6,618.8h1.0v0.5h-1.0zM63.7,640.1h0.7v0.5h-0.7zM46.4,535.3h0.7v0.6h-0.7zM164.0,651.8h0.8v0.5h-0.8zM68.5,618.9h1.2v0.4h-1.2zM94.9,660.9h1.0v0.6h-1.0zM122.8,711.0h1.1v0.5h-1.1zM109.4,722.7h0.9v0.5h-0.9zM139.5,536.3h0.6v0.6h-0.6zM73.5,667.6h1.0v0.5h-1.0zM139.6,653.4h1.0v0.5h-1.0zM94.9,546.1h0.8v0.7h-0.8zM155.9,536.1h0.5v0.5h-0.5zM129.9,611.7h0.6v0.5h-0.6zM113.7,672.5h0.8v0.6h-0.8zM128.2,647.0h0.5v0.6h-0.5zM54.2,535.9h0.8v0.4h-0.8zM46.7,602.5h0.8v0.4h-0.8zM164.6,693.9h0.8v0.6h-0.8zM79.2,720.0h0.6v0.5h-0.6zM66.6,696.6h0.9v0.5h-0.9zM90.4,700.8h0.7v0.6h-0.7zM131.7,613.9h0.8v0.5h-0.8zM97.6,587.5h0.9v0.5h-0.9zM77.6,678.2h0.8v0.5h-0.8zM154.7,615.1h0.8v0.7h-0.8zM167.6,680.7h0.8v0.6h-0.8zM136.1,583.7h1.0v0.7h-1.0zM124.7,657.6h0.8v0.6h-0.8zM67.2,677.7h0.9v0.7h-0.9zM82.7,666.1h0.5v0.5h-0.5zM139.5,576.4h0.9v0.5h-0.9zM90.3,721.9h0.6v0.7h-0.6zM45.0,640.5h1.1v0.7h-1.1zM89.3,642.0h1.0v0.6h-1.0zM136.9,639.7h0.7v0.6h-0.7zM112.1,632.9h1.2v0.4h-1.2zM141.5,589.4h1.0v0.7h-1.0zM73.7,637.4h0.9v0.5h-0.9zM59.4,649.0h1.1v0.6h-1.1zM75.7,684.8h0.8v0.4h-0.8zM118.1,616.2h0.9v0.7h-0.9zM113.2,714.0h0.7v0.6h-0.7zM47.1,584.5h1.0v0.6h-1.0zM147.8,600.4h0.7v0.5h-0.7zM108.9,529.8h0.8v0.6h-0.8zM56.9,586.7h1.1v0.7h-1.1zM70.4,560.3h0.6v0.4h-0.6zM143.2,671.5h0.7v0.5h-0.7zM130.0,530.6h1.1v0.7h-1.1zM65.3,664.4h1.0v0.5h-1.0zM154.5,568.3h0.8v0.5h-0.8zM96.1,686.0h0.9v0.6h-0.9zM169.1,569.3h0.7v0.6h-0.7zM57.1,716.1h0.7v0.5h-0.7zM94.7,689.0h1.1v0.6h-1.1zM59.9,595.4h1.0v0.5h-1.0zM155.1,697.9h0.7v0.5h-0.7zM67.6,667.4h0.5v0.6h-0.5zM45.4,691.7h0.9v0.6h-0.9zM49.7,533.8h0.7v0.7h-0.7zM117.3,695.9h0.5v0.4h-0.5zM39.8,663.1h0.6v0.5h-0.6zM126.2,662.8h0.7v0.5h-0.7zM75.7,636.3h0.7v0.5h-0.7zM70.3,582.9h0.7v0.4h-0.7zM78.5,642.3h0.7v0.4h-0.7zM150.2,618.0h0.9v0.5h-0.9zM155.7,674.5h0.9v0.6h-0.9zM129.6,624.2h0.8v0.5h-0.8zM104.5,617.9h0.9v0.6h-0.9zM142.5,701.9h0.7v0.4h-0.7zM77.3,531.3h1.1v0.6h-1.1zM75.2,562.9h1.1v0.7h-1.1zM128.5,662.1h1.0v0.5h-1.0zM90.2,634.6h1.1v0.7h-1.1zM159.7,690.6h0.6v0.5h-0.6zM166.9,632.7h0.9v0.5h-0.9zM152.3,627.4h1.2v0.4h-1.2zM169.9,527.7h0.6v0.5h-0.6zM122.6,546.9h0.9v0.7h-0.9zM95.3,676.1h0.9v0.6h-0.9zM60.2,617.0h1.1v0.6h-1.1zM66.0,613.6h0.9v0.5h-0.9zM114.3,650.2h0.5v0.5h-0.5zM124.9,567.5h0.6v0.6h-0.6zM81.7,714.8h0.9v0.4h-0.9zM122.2,577.0h1.1v0.6h-1.1zM138.5,536.3h0.5v0.6h-0.5zM55.8,565.0h0.5v0.4h-0.5zM100.4,714.9h0.7v0.5h-0.7zM147.8,561.6h0.9v0.6h-0.9zM162.1,533.7h0.9v0.5h-0.9zM147.2,575.0h1.0v0.5h-1.0zM103.2,716.9h0.7v0.5h-0.7zM159.8,658.7h0.5v0.5h-0.5zM68.7,582.5h1.1v0.6h-1.1zM168.1,657.7h0.9v0.5h-0.9zM133.0,622.8h0.5v0.5h-0.5zM88.4,630.2h0.5v0.4h-0.5zM168.5,598.6h0.7v0.4h-0.7zM116.3,706.3h0.6v0.6h-0.6zM103.9,676.8h0.9v0.5h-0.9zM62.4,668.6h0.6v0.7h-0.6zM41.5,562.6h0.8v0.7h-0.8zM119.9,672.8h1.0v0.6h-1.0zM43.9,688.6h0.6v0.4h-0.6zM42.0,530.6h1.1v0.5h-1.1zM48.6,534.2h1.1v0.6h-1.1zM159.6,532.4h0.6v0.5h-0.6zM62.6,547.2h0.6v0.6h-0.6zM59.5,558.4h0.9v0.5h-0.9zM57.0,637.6h0.9v0.5h-0.9zM100.5,532.9h0.9v0.5h-0.9zM81.9,526.8h1.1v0.6h-1.1zM89.5,632.4h1.2v0.4h-1.2zM88.3,665.3h0.8v0.6h-0.8zM158.5,533.1h0.7v0.5h-0.7zM137.4,680.4h1.0v0.7h-1.0zM61.8,603.0h1.1v0.6h-1.1zM52.1,719.2h1.0v0.7h-1.0zM85.4,645.0h1.2v0.7h-1.2zM114.2,701.4h1.2v0.7h-1.2zM124.8,715.3h0.6v0.5h-0.6zM112.5,551.1h1.0v0.4h-1.0zM121.1,580.4h0.7v0.6h-0.7zM62.6,613.7h1.1v0.7h-1.1zM72.1,597.5h1.0v0.5h-1.0zM150.6,564.4h0.9v0.5h-0.9zM37.1,525.2h0.5v0.5h-0.5zM73.8,721.5h0.9v0.4h-0.9zM132.8,571.1h0.8v0.6h-0.8zM151.6,710.4h0.8v0.5h-0.8zM90.2,587.0h1.0v0.5h-1.0zM128.7,555.1h1.0v0.7h-1.0zM64.2,647.2h0.6v0.4h-0.6zM92.4,561.3h1.0v0.6h-1.0zM127.3,716.9h0.5v0.4h-0.5zM41.8,616.1h1.1v0.6h-1.1zM110.3,694.7h0.8v0.4h-0.8zM122.8,530.1h0.7v0.4h-0.7zM58.6,537.7h0.9v0.4h-0.9zM117.7,688.4h0.7v0.4h-0.7zM126.8,669.4h1.1v0.6h-1.1zM114.9,696.1h1.0v0.7h-1.0zM75.4,678.5h0.9v0.5h-0.9zM38.4,619.4h0.7v0.6h-0.7zM105.2,626.2h0.5v0.4h-0.5zM118.2,660.2h1.2v0.6h-1.2zM75.8,615.3h0.9v0.6h-0.9zM89.8,707.5h0.8v0.5h-0.8zM101.2,595.8h1.2v0.4h-1.2zM90.5,540.7h1.0v0.4h-1.0zM57.0,608.9h0.9v0.6h-0.9zM96.5,583.5h0.8v0.7h-0.8zM65.5,527.3h1.1v0.5h-1.1zM54.7,552.0h1.1v0.6h-1.1zM45.6,658.8h0.6v0.5h-0.6zM118.0,535.1h1.2v0.5h-1.2zM56.3,679.6h0.6v0.4h-0.6zM124.2,618.2h1.1v0.6h-1.1zM64.6,534.0h0.9v0.5h-0.9zM77.3,706.7h0.6v0.6h-0.6zM46.8,708.1h1.2v0.6h-1.2zM79.9,668.5h1.1v0.6h-1.1zM42.5,624.9h0.6v0.6h-0.6zM164.1,696.4h0.7v0.6h-0.7zM79.5,558.4h1.0v0.6h-1.0zM82.1,608.3h1.0v0.6h-1.0zM99.0,548.4h0.6v0.5h-0.6zM147.6,623.4h1.0v0.5h-1.0zM86.4,559.9h1.2v0.6h-1.2zM54.2,664.3h0.9v0.6h-0.9zM140.0,645.6h1.1v0.7h-1.1zM91.4,653.5h0.8v0.5h-0.8zM86.0,653.3h0.7v0.5h-0.7zM150.3,683.5h1.0v0.7h-1.0zM88.7,652.4h0.7v0.5h-0.7zM50.5,683.3h1.1v0.5h-1.1zM87.6,548.2h0.6v0.6h-0.6zM156.4,541.6h0.7v0.6h-0.7zM67.2,699.0h0.7v0.5h-0.7zM64.0,582.6h0.8v0.5h-0.8zM134.6,531.0h0.9v0.6h-0.9zM80.6,563.0h0.6v0.4h-0.6zM143.0,644.5h0.5v0.5h-0.5zM117.1,588.3h0.5v0.5h-0.5zM84.3,717.7h0.8v0.7h-0.8zM153.1,638.8h0.6v0.6h-0.6zM49.1,635.4h0.6v0.4h-0.6zM91.9,556.0h1.2v0.6h-1.2zM157.0,714.6h1.0v0.6h-1.0z" fill="#e8938a"/>
<path d="M100.3,660.5h0.8v0.4h-0.8zM107.9,597.0h0.7v0.6h-0.7zM129.2,624.3h0.8v0.6h-0.8zM49.4,550.3h0.5v0.4h-0.5zM165.3,578.9h0.7v0.5h-0.7zM112.5,573.7h0.8v0.5h-0.8zM150.1,665.0h0.5v0.6h-0.5zM49.5,679.0h0.5v0.5h-0.5zM139.9,627.9h0.8v0.5h-0.8zM106.6,560.4h0.7v0.5h-0.7zM127.4,543.6h0.6v0.5h-0.6zM108.3,626.3h0.5v0.7h-0.5zM148.8,591.2h0.6v0.6h-0.6zM167.7,556.0h0.8v0.6h-0.8zM162.4,561.3h0.5v0.4h-0.5zM67.9,681.8h0.9v0.5h-0.9zM54.1,586.4h0.6v0.6h-0.6zM133.3,660.2h0.7v0.5h-0.7zM99.6,589.5h0.7v0.6h-0.7zM132.2,581.9h0.7v0.4h-0.7zM43.0,592.4h0.6v0.4h-0.6zM47.6,599.2h0.9v0.7h-0.9zM41.0,580.2h0.6v0.5h-0.6zM55.3,627.8h0.8v0.5h-0.8zM60.6,543.3h0.5v0.6h-0.5zM67.9,651.1h0.8v0.4h-0.8zM62.3,579.9h0.8v0.6h-0.8zM77.5,603.7h0.6v0.5h-0.6zM143.2,570.6h0.8v0.7h-0.8zM117.4,692.1h0.9v0.5h-0.9zM169.7,559.9h0.8v0.4h-0.8zM77.5,602.0h0.8v0.6h-0.8zM64.3,681.4h0.8v0.6h-0.8zM43.8,574.8h0.6v0.5h-0.6zM163.1,628.7h0.8v0.4h-0.8zM69.8,652.4h0.6v0.5h-0.6zM45.4,533.9h0.7v0.6h-0.7zM90.5,623.4h0.6v0.4h-0.6zM127.2,583.5h0.7v0.5h-0.7zM73.1,534.0h0.6v0.5h-0.6zM52.4,530.1h0.7v0.4h-0.7zM154.6,587.8h0.7v0.6h-0.7zM40.2,542.7h0.8v0.6h-0.8zM103.0,584.9h0.8v0.6h-0.8zM143.0,670.6h0.9v0.6h-0.9zM127.2,605.4h0.7v0.6h-0.7zM107.3,667.7h0.8v0.4h-0.8zM137.6,632.3h0.7v0.7h-0.7zM43.6,607.8h0.7v0.7h-0.7zM59.0,623.1h0.6v0.6h-0.6zM102.4,653.1h0.6v0.7h-0.6zM37.9,564.1h0.8v0.7h-0.8zM141.0,572.9h0.5v0.6h-0.5zM134.9,535.6h0.9v0.6h-0.9zM41.5,608.5h0.6v0.4h-0.6zM155.5,687.8h0.5v0.5h-0.5zM73.6,642.1h0.5v0.5h-0.5zM91.9,607.4h0.7v0.6h-0.7zM162.8,687.3h0.9v0.6h-0.9zM67.6,567.6h0.7v0.6h-0.7z" fill="#c0564c"/>
<path d="M118.0,737.0h1.0v0.5h-1.0zM40.1,728.1h0.6v0.7h-0.6zM149.2,726.4h0.6v0.5h-0.6zM142.0,755.7h0.6v0.4h-0.6zM165.9,758.2h0.9v0.6h-0.9zM136.7,751.2h0.8v0.5h-0.8zM107.2,747.6h0.7v0.7h-0.7zM57.0,758.2h0.6v0.5h-0.6zM165.0,757.5h1.0v0.7h-1.0zM150.2,753.1h0.8v0.4h-0.8zM134.7,753.6h0.9v0.4h-0.9zM45.6,750.0h0.7v0.8h-0.7zM169.1,740.3h0.8v0.7h-0.8zM129.6,737.6h0.8v0.4h-0.8zM157.0,749.7h0.9v0.6h-0.9zM64.7,740.4h0.8v0.6h-0.8zM51.9,725.1h0.7v0.5h-0.7zM67.6,732.6h0.7v0.7h-0.7zM158.8,748.1h0.5v0.7h-0.5zM118.4,750.0h0.8v0.5h-0.8zM82.6,727.4h0.8v0.4h-0.8zM127.9,756.2h0.8v0.6h-0.8zM144.8,757.8h0.9v0.8h-0.9zM98.5,725.5h0.8v0.7h-0.8zM152.1,745.9h0.7v0.4h-0.7zM147.8,746.4h1.0v0.6h-1.0zM150.7,751.4h1.0v0.6h-1.0zM156.6,738.6h0.5v0.5h-0.5zM84.2,758.9h0.7v0.5h-0.7zM129.2,728.3h0.7v0.6h-0.7zM54.0,745.5h0.7v0.7h-0.7zM82.6,758.4h0.6v0.6h-0.6zM67.5,725.5h0.7v0.8h-0.7zM76.2,741.7h0.8v0.5h-0.8zM108.5,727.2h0.7v0.5h-0.7zM145.8,751.3h0.9v0.6h-0.9zM152.6,750.3h0.5v0.5h-0.5zM136.8,753.7h1.0v0.7h-1.0zM58.5,744.4h0.8v0.6h-0.8zM55.4,758.1h0.8v0.5h-0.8z" fill="#e9a9a2"/>
<path d="M167.8,732.4h0.6v0.9h-0.6zM72.0,729.2h0.8v0.8h-0.8zM80.0,737.8h1.1v1.0h-1.1zM155.6,742.7h0.7v0.9h-0.7zM49.4,736.2h0.6v0.6h-0.6zM163.5,727.4h1.0v0.8h-1.0zM37.7,740.2h0.6v1.0h-0.6zM146.2,734.5h0.8v0.6h-0.8zM130.5,725.8h0.9v1.0h-0.9zM127.5,727.2h1.0v0.9h-1.0zM81.2,739.8h0.9v0.8h-0.9zM107.3,730.3h0.7v1.0h-0.7zM83.9,739.8h0.8v0.7h-0.8zM37.7,743.5h1.0v1.0h-1.0z" fill="#b84a40"/>
<path d="M64.0,796.0h1v1.2h-1zM121.3,744.7h1v1.6h-1zM92.2,830.8h1v1.2h-1zM68.0,761.0h1v1.0h-1zM101.2,786.9h1v1.4h-1zM93.9,830.4h1v1.8h-1zM67.4,790.6h1v1.0h-1zM149.7,797.9h1v1.1h-1zM83.2,806.7h1v1.7h-1zM133.8,819.1h1v1.2h-1zM162.9,754.8h1v1.9h-1zM115.7,827.7h1v1.1h-1zM154.9,775.0h1v1.1h-1zM57.1,768.1h1v1.9h-1zM62.5,773.6h1v1.4h-1zM100.9,759.4h1v1.6h-1zM68.6,802.5h1v1.5h-1zM100.9,745.3h1v1.8h-1zM145.6,764.9h1v1.2h-1zM141.8,777.4h1v1.0h-1zM114.0,792.6h1v1.7h-1zM130.5,830.1h1v1.2h-1zM106.4,758.9h1v1.3h-1zM66.3,792.6h1v1.7h-1zM59.9,779.6h1v1.1h-1zM145.5,828.8h1v1.9h-1zM163.0,777.0h1v1.2h-1zM155.9,809.0h1v1.2h-1zM62.6,740.4h1v1.1h-1zM121.8,816.3h1v1.5h-1zM125.0,750.9h1v1.1h-1zM119.3,752.7h1v1.6h-1zM143.9,816.1h1v1.1h-1zM68.7,768.9h1v1.5h-1zM152.0,742.7h1v1.7h-1zM110.0,816.8h1v1.9h-1zM144.0,819.3h1v1.8h-1zM90.8,760.5h1v1.1h-1zM108.3,812.6h1v2.0h-1zM101.1,767.5h1v1.9h-1zM136.5,832.0h1v1.9h-1zM89.5,827.7h1v1.6h-1zM129.0,746.0h1v2.0h-1zM71.7,788.1h1v1.6h-1zM103.4,746.2h1v1.1h-1zM144.5,779.7h1v1.7h-1z" fill="#b5372f"/>
<rect x="178.5" y="524.5" width="132" height="367" fill="#fffefe"/>
<path d="M178.5,524.5h132.0v0.9H178.5zM178.5,526.3h132.0v0.9H178.5zM178.5,529.9h132.0v0.9H178.5zM178.5,531.7h132.0v0.9H178.5zM178.5,532.6h132.0v0.9H178.5zM178.5,535.3h132.0v0.9H178.5zM178.5,540.7h132.0v0.9H178.5zM178.5,541.6h132.0v0.9H178.5zM178.5,542.5h132.0v0.9H178.5zM178.5,543.4h132.0v0.9H178.5zM178.5,544.3h132.0v0.9H178.5zM178.5,545.2h132.0v0.9H178.5zM178.5,546.1h132.0v0.9H178.5zM178.5,547.0h132.0v0.9H178.5zM178.5,549.7h132.0v0.9H178.5zM178.5,553.3h132.0v0.9H178.5zM178.5,554.2h132.0v0.9H178.5zM178.5,555.1h132.0v0.9H178.5zM178.5,556.0h132.0v0.9H178.5zM178.5,557.8h132.0v0.9H178.5zM178.5,558.7h132.0v0.9H178.5zM178.5,559.6h132.0v0.9H178.5zM178.5,562.3h132.0v0.9H178.5zM178.5,563.2h132.0v0.9H178.5zM178.5,564.1h132.0v0.9H178.5zM178.5,565.0h132.0v0.9H178.5zM178.5,566.8h132.0v0.9H178.5zM178.5,568.6h132.0v0.9H178.5zM178.5,574.0h132.0v0.9H178.5zM178.5,574.9h132.0v0.9H178.5zM178.5,576.7h132.0v0.9H178.5zM178.5,577.6h132.0v0.9H178.5zM178.5,578.5h132.0v0.9H178.5zM178.5,579.4h132.0v0.9H178.5zM178.5,582.1h132.0v0.9H178.5zM178.5,583.0h132.0v0.9H178.5zM178.5,583.9h132.0v0.9H178.5zM178.5,584.8h132.0v0.9H178.5zM178.5,586.6h132.0v0.9H178.5zM178.5,587.5h132.0v0.9H178.5zM178.5,588.4h132.0v0.9H178.5zM178.5,589.3h132.0v0.9H178.5zM178.5,590.2h132.0v0.9H178.5zM178.5,592.0h132.0v0.9H178.5zM178.5,592.9h132.0v0.9H178.5zM178.5,599.2h132.0v0.9H178.5zM178.5,600.1h132.0v0.9H178.5zM178.5,604.6h132.0v0.9H178.5zM178.5,606.4h132.0v0.9H178.5zM178.5,607.3h132.0v0.9H178.5zM178.5,609.1h132.0v0.9H178.5zM178.5,611.8h132.0v0.9H178.5zM178.5,612.7h132.0v0.9H178.5zM178.5,613.6h132.0v0.9H178.5zM178.5,615.4h132.0v0.9H178.5zM178.5,620.8h132.0v0.9H178.5zM178.5,621.7h132.0v0.9H178.5zM178.5,622.6h132.0v0.9H178.5zM178.5,826.9h132.0v0.9H178.5zM178.5,827.8h132.0v0.9H178.5zM178.5,828.7h132.0v0.9H178.5zM178.5,829.6h132.0v0.9H178.5zM178.5,830.5h132.0v0.9H178.5zM178.5,831.4h132.0v0.9H178.5zM178.5,832.3h132.0v0.9H178.5zM178.5,833.2h132.0v0.9H178.5zM178.5,834.1h132.0v0.9H178.5zM178.5,835.9h132.0v0.9H178.5z" fill="#fdfcfd"/>
<path d="M178.5,528.1h132.0v0.9H178.5zM178.5,530.8h132.0v0.9H178.5zM178.5,539.8h132.0v0.9H178.5zM178.5,548.8h132.0v0.9H178.5zM178.5,625.3h132.0v0.9H178.5zM178.5,638.8h132.0v0.9H178.5zM178.5,641.5h132.0v0.9H178.5zM178.5,644.2h132.0v0.9H178.5zM178.5,646.9h132.0v0.9H178.5zM178.5,648.7h132.0v0.9H178.5zM178.5,649.6h132.0v0.9H178.5zM178.5,650.5h132.0v0.9H178.5zM178.5,653.2h132.0v0.9H178.5zM178.5,657.7h132.0v0.9H178.5zM178.5,661.3h132.0v0.9H178.5zM178.5,662.2h132.0v0.9H178.5zM178.5,664.0h132.0v0.9H178.5zM178.5,664.9h132.0v0.9H178.5zM178.5,665.8h132.0v0.9H178.5zM178.5,681.1h132.0v0.9H178.5zM178.5,682.0h132.0v0.9H178.5zM178.5,683.8h132.0v0.9H178.5z" fill="#fbf9fc"/>
<path d="M178.5,525.4h132.0v0.9H178.5zM178.5,529.0h132.0v0.9H178.5zM178.5,536.2h132.0v0.9H178.5zM178.5,538.9h132.0v0.9H178.5zM178.5,572.2h132.0v0.9H178.5zM178.5,585.7h132.0v0.9H178.5zM178.5,594.7h132.0v0.9H178.5zM178.5,597.4h132.0v0.9H178.5zM178.5,624.4h132.0v0.9H178.5zM178.5,628.0h132.0v0.9H178.5zM178.5,628.9h132.0v0.9H178.5zM178.5,629.8h132.0v0.9H178.5zM178.5,630.7h132.0v0.9H178.5zM178.5,636.1h132.0v0.9H178.5zM178.5,637.9h132.0v0.9H178.5zM178.5,639.7h132.0v0.9H178.5zM178.5,640.6h132.0v0.9H178.5zM178.5,643.3h132.0v0.9H178.5zM178.5,645.1h132.0v0.9H178.5zM178.5,646.0h132.0v0.9H178.5zM178.5,647.8h132.0v0.9H178.5zM178.5,651.4h132.0v0.9H178.5zM178.5,652.3h132.0v0.9H178.5zM178.5,654.1h132.0v0.9H178.5zM178.5,655.0h132.0v0.9H178.5zM178.5,655.9h132.0v0.9H178.5zM178.5,659.5h132.0v0.9H178.5zM178.5,660.4h132.0v0.9H178.5zM178.5,663.1h132.0v0.9H178.5zM178.5,666.7h132.0v0.9H178.5zM178.5,667.6h132.0v0.9H178.5zM178.5,671.2h132.0v0.9H178.5zM178.5,682.9h132.0v0.9H178.5zM178.5,684.7h132.0v0.9H178.5zM178.5,685.6h132.0v0.9H178.5zM178.5,687.4h132.0v0.9H178.5zM178.5,690.1h132.0v0.9H178.5zM178.5,691.9h132.0v0.9H178.5zM178.5,701.8h132.0v0.9H178.5zM178.5,714.4h132.0v0.9H178.5z" fill="#f9f6fa"/>
<path d="M178.5,626.2h132.0v0.9H178.5zM178.5,631.6h132.0v0.9H178.5zM178.5,632.5h132.0v0.9H178.5zM178.5,637.0h132.0v0.9H178.5zM178.5,642.4h132.0v0.9H178.5zM178.5,656.8h132.0v0.9H178.5zM178.5,658.6h132.0v0.9H178.5zM178.5,668.5h132.0v0.9H178.5zM178.5,670.3h132.0v0.9H178.5zM178.5,674.8h132.0v0.9H178.5zM178.5,675.7h132.0v0.9H178.5zM178.5,679.3h132.0v0.9H178.5zM178.5,680.2h132.0v0.9H178.5zM178.5,686.5h132.0v0.9H178.5zM178.5,688.3h132.0v0.9H178.5zM178.5,689.2h132.0v0.9H178.5zM178.5,691.0h132.0v0.9H178.5zM178.5,693.7h132.0v0.9H178.5zM178.5,697.3h132.0v0.9H178.5zM178.5,699.1h132.0v0.9H178.5zM178.5,700.0h132.0v0.9H178.5zM178.5,704.5h132.0v0.9H178.5zM178.5,706.3h132.0v0.9H178.5zM178.5,708.1h132.0v0.9H178.5zM178.5,716.2h132.0v0.9H178.5zM178.5,717.1h132.0v0.9H178.5zM178.5,720.7h132.0v0.9H178.5zM178.5,722.5h132.0v0.9H178.5zM178.5,723.4h132.0v0.9H178.5z" fill="#f7f3f8"/>
<path d="M178.5,627.1h132.0v0.9H178.5zM178.5,634.3h132.0v0.9H178.5zM178.5,635.2h132.0v0.9H178.5zM178.5,669.4h132.0v0.9H178.5zM178.5,672.1h132.0v0.9H178.5zM178.5,673.9h132.0v0.9H178.5zM178.5,676.6h132.0v0.9H178.5zM178.5,677.5h132.0v0.9H178.5zM178.5,678.4h132.0v0.9H178.5zM178.5,692.8h132.0v0.9H178.5zM178.5,694.6h132.0v0.9H178.5zM178.5,696.4h132.0v0.9H178.5zM178.5,698.2h132.0v0.9H178.5zM178.5,702.7h132.0v0.9H178.5zM178.5,703.6h132.0v0.9H178.5zM178.5,707.2h132.0v0.9H178.5zM178.5,709.0h132.0v0.9H178.5zM178.5,709.9h132.0v0.9H178.5zM178.5,710.8h132.0v0.9H178.5zM178.5,711.7h132.0v0.9H178.5zM178.5,713.5h132.0v0.9H178.5zM178.5,715.3h132.0v0.9H178.5zM178.5,718.9h132.0v0.9H178.5zM178.5,721.6h132.0v0.9H178.5z" fill="#f5f0f7"/>
<path d="M178.5,633.4h132.0v0.9H178.5zM178.5,673.0h132.0v0.9H178.5zM178.5,695.5h132.0v0.9H178.5zM178.5,700.9h132.0v0.9H178.5zM178.5,705.4h132.0v0.9H178.5zM178.5,712.6h132.0v0.9H178.5zM178.5,718.0h132.0v0.9H178.5zM178.5,719.8h132.0v0.9H178.5z" fill="#f3edf5"/>
<path d="M285.5,633.8h18v.5h-18zM266.3,674.2h10v.5h-10zM255.1,635.0h18v.5h-18zM201.5,655.6h4v.5h-4zM214.6,637.1h7v.5h-7zM245.8,699.8h4v.5h-4zM190.7,696.9h7v.5h-7zM196.7,673.8h5v.5h-5zM274.3,675.3h10v.5h-10zM222.6,628.7h15v.5h-15zM221.8,706.5h21v.5h-21zM233.3,678.6h5v.5h-5zM188.3,717.1h6v.5h-6zM286.4,679.0h24v.5h-24zM246.3,672.5h19v.5h-19zM258.8,669.2h7v.5h-7zM183.7,654.6h18v.5h-18zM274.8,672.7h5v.5h-5zM274.1,676.7h9v.5h-9zM226.7,626.2h9v.5h-9zM183.7,719.7h4v.5h-4zM238.1,717.7h22v.5h-22zM258.2,636.2h15v.5h-15zM251.4,665.8h13v.5h-13zM218.0,689.8h17v.5h-17zM239.4,667.7h8v.5h-8zM185.4,649.6h15v.5h-15zM197.6,672.4h19v.5h-19zM243.7,697.5h25v.5h-25zM286.5,663.8h20v.5h-20zM269.0,628.5h12v.5h-12zM211.0,680.2h13v.5h-13zM275.3,675.4h19v.5h-19zM187.9,690.2h18v.5h-18zM245.2,673.8h23v.5h-23zM227.1,643.4h14v.5h-14zM277.3,676.2h7v.5h-7zM257.2,706.9h4v.5h-4zM199.5,718.7h17v.5h-17zM242.0,670.8h7v.5h-7zM212.2,644.2h7v.5h-7zM184.1,688.9h7v.5h-7zM207.5,718.7h18v.5h-18zM233.2,716.3h12v.5h-12zM232.0,698.8h17v.5h-17zM213.4,632.8h19v.5h-19zM262.7,684.5h19v.5h-19zM272.4,643.1h6v.5h-6zM247.7,688.0h21v.5h-21zM225.1,697.4h5v.5h-5zM183.8,666.3h5v.5h-5zM247.8,648.4h22v.5h-22zM284.6,708.1h5v.5h-5zM202.3,699.1h18v.5h-18zM201.0,657.2h3v.5h-3zM182.8,641.7h24v.5h-24zM264.3,652.1h19v.5h-19zM286.9,720.5h5v.5h-5zM240.1,634.3h23v.5h-23zM251.5,707.0h19v.5h-19zM235.0,721.1h20v.5h-20zM231.6,688.1h13v.5h-13zM244.0,717.6h20v.5h-20zM288.4,711.5h9v.5h-9zM182.4,684.6h11v.5h-11zM288.8,680.4h17v.5h-17zM264.1,642.4h19v.5h-19zM228.7,647.1h18v.5h-18zM223.2,697.6h9v.5h-9zM216.1,631.4h15v.5h-15z" fill="#ffffff" opacity="0.75"/>
<path d="M265.4,703.2h16v.5h-16zM186.2,634.7h16v.5h-16zM214.7,701.7h11v.5h-11zM180.8,655.7h6v.5h-6zM182.6,674.8h4v.5h-4zM242.8,608.7h13v.5h-13zM240.9,637.6h13v.5h-13zM198.4,659.6h7v.5h-7zM250.3,683.2h9v.5h-9zM253.9,631.9h8v.5h-8zM202.5,673.3h16v.5h-16zM271.3,665.5h16v.5h-16zM289.9,697.8h19v.5h-19zM211.5,677.3h9v.5h-9zM201.3,611.7h5v.5h-5zM224.3,713.7h14v.5h-14zM239.8,642.0h17v.5h-17zM185.4,613.7h8v.5h-8zM212.7,601.0h18v.5h-18zM221.3,695.6h20v.5h-20zM295.5,609.9h11v.5h-11zM256.6,603.0h11v.5h-11zM217.0,683.6h19v.5h-19zM188.9,610.7h4v.5h-4zM287.0,713.0h16v.5h-16zM189.9,695.9h12v.5h-12zM272.4,678.3h12v.5h-12zM199.2,617.6h13v.5h-13zM233.7,635.7h4v.5h-4zM184.5,693.7h19v.5h-19zM192.0,713.9h5v.5h-5zM252.9,672.2h7v.5h-7zM221.4,617.3h10v.5h-10zM222.2,674.1h15v.5h-15zM187.7,652.2h17v.5h-17zM292.7,676.6h9v.5h-9zM236.1,601.8h6v.5h-6zM187.3,617.0h12v.5h-12zM243.2,626.3h12v.5h-12zM215.8,686.7h13v.5h-13zM285.9,655.4h4v.5h-4zM215.4,677.5h6v.5h-6zM294.3,627.3h5v.5h-5zM187.8,656.3h10v.5h-10zM199.9,622.0h19v.5h-19zM255.0,617.6h12v.5h-12zM254.1,629.5h7v.5h-7zM267.6,707.2h3v.5h-3zM276.7,626.2h17v.5h-17zM252.6,676.0h8v.5h-8zM243.9,628.8h14v.5h-14zM189.5,607.1h7v.5h-7zM189.2,708.2h13v.5h-13zM195.3,719.2h19v.5h-19zM179.7,647.3h14v.5h-14zM216.7,608.3h9v.5h-9zM181.1,655.3h7v.5h-7zM206.8,714.1h11v.5h-11zM235.4,698.9h18v.5h-18zM270.8,696.0h9v.5h-9z" fill="#e3ebf8"/>
<path d="M224.7,671.7h0.9v0.5h-0.9zM233.4,547.5h1.3v0.5h-1.3zM243.6,685.3h1.2v0.7h-1.2zM273.2,662.3h1.3v0.6h-1.3zM298.3,642.8h1.2v0.6h-1.2zM248.3,711.6h0.8v0.5h-0.8zM244.0,586.8h1.3v0.6h-1.3zM179.3,566.4h1.2v0.5h-1.2zM267.3,618.1h0.6v0.6h-0.6zM305.4,543.2h1.2v0.6h-1.2zM258.5,625.2h1.1v0.7h-1.1zM292.2,611.2h1.4v0.6h-1.4zM283.5,722.8h0.6v0.5h-0.6zM209.1,687.2h1.5v0.5h-1.5zM242.0,701.3h1.3v0.6h-1.3zM295.0,708.1h0.6v0.7h-0.6zM216.8,646.8h1.3v0.5h-1.3zM218.8,704.5h1.4v0.7h-1.4zM191.2,649.1h1.3v0.7h-1.3zM273.2,580.5h0.6v0.5h-0.6zM212.6,638.1h0.9v0.4h-0.9zM190.3,660.9h1.4v0.4h-1.4zM245.7,719.3h0.9v0.6h-0.9zM284.2,529.7h1.5v0.6h-1.5zM274.6,593.0h1.0v0.7h-1.0zM187.0,541.3h1.2v0.7h-1.2zM198.3,562.4h1.0v0.6h-1.0zM252.2,655.8h0.6v0.5h-0.6zM255.0,668.6h0.6v0.4h-0.6zM219.8,607.2h0.9v0.5h-0.9zM188.6,652.9h1.5v0.6h-1.5zM298.3,550.1h1.2v0.5h-1.2zM288.9,643.6h1.2v0.7h-1.2zM303.0,552.2h1.0v0.4h-1.0zM251.7,569.4h1.3v0.5h-1.3zM180.0,701.0h0.6v0.5h-0.6zM246.5,536.3h1.3v0.6h-1.3zM194.2,648.0h0.6v0.6h-0.6zM191.1,580.9h1.0v0.6h-1.0zM263.9,708.7h0.9v0.5h-0.9zM206.2,671.2h0.9v0.5h-0.9zM204.0,608.4h1.4v0.5h-1.4zM284.6,618.4h1.1v0.5h-1.1zM232.1,668.6h0.6v0.5h-0.6zM211.8,582.6h0.9v0.5h-0.9zM253.8,533.0h0.8v0.5h-0.8zM202.5,690.4h1.3v0.7h-1.3zM196.2,562.2h0.8v0.6h-0.8zM287.3,690.4h1.4v0.4h-1.4zM182.5,591.7h1.0v0.4h-1.0zM224.5,550.3h1.5v0.5h-1.5zM220.4,559.7h1.4v0.4h-1.4zM236.1,568.7h0.8v0.7h-0.8zM271.7,671.0h0.9v0.7h-0.9zM304.3,651.0h0.7v0.4h-0.7zM249.7,621.4h1.4v0.7h-1.4zM285.0,573.0h1.6v0.6h-1.6zM183.9,566.2h1.6v0.6h-1.6zM275.1,656.2h0.5v0.7h-0.5zM217.7,677.9h1.1v0.5h-1.1zM247.3,707.1h1.4v0.5h-1.4zM289.7,559.7h0.9v0.5h-0.9zM185.1,604.5h0.5v0.7h-0.5zM285.1,620.0h0.6v0.5h-0.6zM279.3,583.2h0.6v0.5h-0.6zM254.0,550.1h0.9v0.6h-0.9zM275.7,605.7h1.6v0.5h-1.6zM276.4,540.7h1.5v0.6h-1.5zM201.5,686.5h1.5v0.4h-1.5zM293.5,715.1h0.9v0.6h-0.9zM272.5,637.4h0.9v0.5h-0.9zM284.9,680.1h1.5v0.4h-1.5zM253.0,664.9h0.7v0.4h-0.7zM295.0,679.8h1.3v0.5h-1.3zM235.9,686.0h0.6v0.6h-0.6zM270.8,616.7h1.5v0.6h-1.5zM293.7,563.5h0.9v0.5h-0.9zM243.7,674.5h1.6v0.7h-1.6zM289.7,718.4h1.3v0.6h-1.3zM190.8,605.8h1.0v0.4h-1.0zM296.0,598.9h0.8v0.4h-0.8zM248.7,591.7h1.5v0.6h-1.5zM234.8,556.2h0.6v0.6h-0.6zM258.4,623.1h1.1v0.5h-1.1zM296.6,536.0h0.8v0.6h-0.8zM219.9,590.8h1.0v0.5h-1.0zM277.6,544.0h1.1v0.6h-1.1zM223.6,669.6h0.9v0.6h-0.9zM192.3,587.9h1.1v0.6h-1.1zM239.2,532.4h1.1v0.7h-1.1zM214.3,566.3h1.2v0.5h-1.2zM192.2,539.7h1.2v0.7h-1.2zM279.1,641.9h1.5v0.7h-1.5zM213.9,600.5h1.6v0.7h-1.6zM262.2,649.9h0.9v0.4h-0.9zM221.8,570.8h1.2v0.6h-1.2zM260.7,705.6h0.5v0.5h-0.5zM192.0,598.3h1.5v0.5h-1.5zM282.7,561.3h0.9v0.6h-0.9zM217.0,669.7h1.2v0.6h-1.2zM182.8,596.4h1.6v0.5h-1.6zM215.2,723.1h1.1v0.6h-1.1zM241.8,648.5h0.9v0.5h-0.9zM216.8,570.1h1.3v0.4h-1.3zM194.2,625.5h1.6v0.6h-1.6zM265.8,672.0h0.7v0.6h-0.7zM181.3,628.1h0.5v0.4h-0.5zM194.7,593.5h1.0v0.5h-1.0zM189.1,549.1h1.5v0.7h-1.5zM297.6,552.1h0.7v0.7h-0.7zM181.0,554.5h1.2v0.7h-1.2zM299.1,692.4h0.8v0.6h-0.8zM300.6,703.3h1.6v0.6h-1.6zM281.1,664.1h1.0v0.6h-1.0zM299.7,638.3h0.5v0.5h-0.5zM292.1,665.5h1.0v0.7h-1.0zM277.2,569.5h1.3v0.7h-1.3zM179.9,710.7h1.0v0.7h-1.0zM180.6,588.4h0.8v0.5h-0.8zM264.4,682.7h1.2v0.7h-1.2zM193.8,581.8h0.9v0.6h-0.9zM274.8,721.4h1.5v0.6h-1.5zM275.0,687.2h1.1v0.6h-1.1zM289.8,689.9h0.7v0.4h-0.7zM270.8,686.7h0.7v0.7h-0.7zM277.2,557.6h0.7v0.6h-0.7zM259.9,556.7h1.5v0.5h-1.5zM287.2,712.4h0.6v0.6h-0.6zM250.4,706.4h1.0v0.5h-1.0zM209.3,692.8h0.9v0.7h-0.9zM183.5,701.1h0.5v0.6h-0.5zM302.3,588.7h1.2v0.5h-1.2zM187.5,691.3h1.0v0.6h-1.0zM183.6,557.3h0.8v0.6h-0.8zM182.0,529.4h0.9v0.5h-0.9zM288.9,695.2h0.8v0.6h-0.8zM225.4,676.9h1.2v0.4h-1.2zM240.0,608.9h1.0v0.6h-1.0zM268.6,604.7h1.1v0.6h-1.1zM267.4,563.3h0.7v0.5h-0.7zM302.5,601.7h1.5v0.7h-1.5zM269.7,598.1h1.3v0.6h-1.3zM302.6,624.4h1.2v0.6h-1.2zM260.8,560.3h1.1v0.5h-1.1zM267.3,678.5h0.7v0.5h-0.7zM212.3,715.6h1.0v0.5h-1.0zM304.2,680.1h1.4v0.6h-1.4zM195.5,598.8h0.6v0.5h-0.6zM237.5,620.0h1.6v0.6h-1.6zM200.5,560.4h1.2v0.6h-1.2zM232.2,622.8h1.0v0.6h-1.0zM255.9,534.6h1.0v0.5h-1.0zM254.6,616.8h1.3v0.7h-1.3zM275.3,647.4h1.1v0.4h-1.1zM273.8,564.0h0.9v0.6h-0.9zM213.4,696.1h1.1v0.7h-1.1zM181.9,617.0h0.9v0.6h-0.9zM263.1,642.1h1.5v0.5h-1.5zM227.1,673.6h1.1v0.5h-1.1zM298.6,569.7h0.6v0.6h-0.6zM297.2,694.4h1.4v0.6h-1.4zM245.3,582.6h0.7v0.5h-0.7zM287.1,634.8h1.6v0.6h-1.6zM249.5,642.2h1.0v0.7h-1.0zM287.1,560.4h1.5v0.6h-1.5zM225.7,672.6h1.0v0.6h-1.0zM244.5,650.0h1.5v0.7h-1.5zM241.3,601.7h1.3v0.6h-1.3zM191.4,626.0h0.8v0.6h-0.8zM200.7,584.1h0.8v0.5h-0.8zM252.4,696.1h1.2v0.6h-1.2zM277.9,602.5h1.0v0.6h-1.0zM205.8,674.3h1.5v0.7h-1.5zM187.5,706.5h0.7v0.4h-0.7zM259.1,593.7h0.7v0.6h-0.7zM248.6,631.4h1.1v0.6h-1.1zM279.9,667.9h1.3v0.6h-1.3zM240.0,651.8h0.6v0.4h-0.6zM237.8,659.9h0.8v0.7h-0.8zM216.6,622.4h1.0v0.7h-1.0zM198.9,574.9h1.2v0.5h-1.2zM223.6,551.1h1.5v0.5h-1.5zM254.1,573.6h1.5v0.4h-1.5zM269.5,538.0h1.1v0.5h-1.1zM302.4,612.0h1.4v0.4h-1.4zM209.6,720.5h0.9v0.4h-0.9zM212.7,596.9h1.1v0.5h-1.1zM218.6,619.0h1.0v0.5h-1.0zM246.2,639.3h1.1v0.6h-1.1zM237.8,567.2h1.5v0.4h-1.5zM218.4,607.6h1.0v0.5h-1.0zM290.7,585.0h1.1v0.6h-1.1zM195.9,610.5h0.6v0.6h-0.6zM273.8,694.3h1.5v0.4h-1.5zM238.5,657.1h0.9v0.7h-0.9zM243.2,697.3h0.6v0.5h-0.6zM269.4,691.0h1.0v0.7h-1.0zM277.6,606.9h1.3v0.6h-1.3zM193.6,703.3h1.4v0.7h-1.4zM209.5,679.0h0.5v0.5h-0.5z" fill="#f4c8c3"/>
<path d="M218.3,625.2h0.8v0.6h-0.8zM235.3,675.4h1.0v0.5h-1.0zM204.7,572.1h0.7v0.5h-0.7zM244.4,676.6h1.2v0.5h-1.2zM217.3,627.7h0.5v0.6h-0.5zM183.9,642.7h0.9v0.5h-0.9zM307.6,586.9h0.5v0.4h-0.5zM210.2,671.2h1.0v0.5h-1.0zM293.6,557.3h0.7v0.6h-0.7zM248.2,681.7h0.7v0.7h-0.7zM261.0,661.6h0.9v0.5h-0.9zM252.1,711.9h0.5v0.5h-0.5zM219.0,575.5h1.0v0.6h-1.0zM196.5,664.6h1.1v0.4h-1.1zM181.5,644.2h1.1v0.6h-1.1zM244.7,605.6h0.9v0.7h-0.9zM256.6,672.9h0.8v0.7h-0.8zM278.8,625.8h0.7v0.5h-0.7zM306.1,651.8h0.5v0.6h-0.5zM234.5,643.7h0.7v0.7h-0.7zM241.6,689.2h0.7v0.7h-0.7zM249.9,633.1h0.8v0.7h-0.8zM252.0,630.9h0.8v0.5h-0.8zM214.1,613.2h0.7v0.4h-0.7zM226.4,530.4h1.0v0.4h-1.0zM296.5,587.8h0.7v0.6h-0.7zM216.9,668.4h0.7v0.7h-0.7zM184.4,536.2h1.1v0.6h-1.1zM213.2,652.4h0.8v0.6h-0.8zM214.7,632.0h1.0v0.7h-1.0zM212.2,638.0h0.9v0.7h-0.9zM241.3,696.3h1.1v0.5h-1.1zM231.7,717.1h0.9v0.6h-0.9zM279.9,644.8h0.9v0.6h-0.9zM213.0,599.9h0.5v0.6h-0.5zM285.9,670.9h1.2v0.6h-1.2zM192.9,588.7h1.1v0.4h-1.1zM293.0,682.9h0.6v0.5h-0.6zM274.0,654.4h0.5v0.6h-0.5zM203.5,695.2h0.9v0.4h-0.9zM230.3,527.1h1.1v0.7h-1.1zM272.2,525.5h1.2v0.5h-1.2zM263.5,676.3h0.9v0.4h-0.9zM210.9,669.9h0.6v0.5h-0.6zM300.0,606.1h0.6v0.6h-0.6zM224.4,681.5h0.8v0.6h-0.8zM286.2,560.3h0.9v0.5h-0.9zM195.0,705.9h0.7v0.6h-0.7zM186.8,713.4h1.2v0.6h-1.2zM196.0,656.4h0.8v0.5h-0.8zM207.3,555.1h1.1v0.6h-1.1zM275.9,671.5h0.8v0.6h-0.8zM218.3,654.8h0.8v0.6h-0.8zM216.9,600.6h0.6v0.4h-0.6zM206.9,528.3h0.8v0.5h-0.8zM293.5,533.5h1.2v0.4h-1.2zM286.8,596.0h0.7v0.6h-0.7zM225.2,528.2h0.6v0.6h-0.6zM272.4,721.9h0.7v0.6h-0.7zM223.5,627.2h0.7v0.5h-0.7zM297.7,574.9h0.8v0.7h-0.8zM237.6,686.1h0.9v0.5h-0.9zM272.5,654.4h0.8v0.7h-0.8zM190.9,693.4h1.0v0.6h-1.0zM240.5,673.4h0.5v0.6h-0.5zM291.4,605.9h1.0v0.6h-1.0zM244.1,677.6h0.8v0.4h-0.8zM246.9,674.3h0.6v0.5h-0.6zM287.3,527.6h1.1v0.5h-1.1zM226.1,663.5h0.9v0.5h-0.9z" fill="#e8938a"/>
<path d="M199.2,598.3h0.9v0.7h-0.9zM272.2,646.3h0.8v0.7h-0.8zM199.9,550.2h0.8v0.4h-0.8zM246.9,595.2h0.9v0.6h-0.9zM208.2,536.2h0.7v0.6h-0.7zM239.7,626.3h0.5v0.5h-0.5zM286.7,575.3h0.6v0.5h-0.6zM300.8,676.4h0.7v0.5h-0.7zM226.8,678.7h0.9v0.7h-0.9zM290.2,643.4h0.5v0.7h-0.5zM200.7,653.8h0.6v0.4h-0.6zM264.4,569.4h0.9v0.5h-0.9zM265.7,601.0h0.5v0.5h-0.5zM219.2,660.0h0.8v0.7h-0.8z" fill="#c0564c"/>
<path d="M200.8,732.2h0.7v0.5h-0.7zM206.1,750.7h0.5v0.6h-0.5zM196.6,735.7h0.6v0.6h-0.6zM300.4,750.2h0.7v0.8h-0.7zM212.2,731.4h0.8v0.7h-0.8zM272.8,742.3h0.9v0.5h-0.9zM301.6,750.3h0.9v0.6h-0.9zM297.8,741.1h1.0v0.6h-1.0zM302.0,735.9h0.8v0.6h-0.8zM250.3,753.8h0.9v0.5h-0.9zM270.4,743.0h0.7v0.4h-0.7zM296.6,758.8h0.9v0.6h-0.9zM190.2,736.0h0.7v0.4h-0.7zM227.8,737.5h0.7v0.4h-0.7zM196.5,757.5h0.8v0.5h-0.8zM237.4,737.4h0.7v0.5h-0.7z" fill="#e9a9a2"/>
<path d="M275.4,742.9h0.9v1.0h-0.9zM284.5,735.3h0.9v0.9h-0.9zM226.8,726.5h0.8v0.9h-0.8z" fill="#b84a40"/>
<path d="M142.9,592.2h1.6v0.5h-1.6zM142.0,592.9h1.1v0.6h-1.1zM142.6,595.7h1.7v0.8h-1.7zM139.3,592.2h0.9v0.6h-0.9zM140.0,593.5h1.0v0.9h-1.0zM141.1,594.5h1.6v0.6h-1.6zM141.9,592.2h1.3v1.0h-1.3zM142.3,593.6h1.4v0.8h-1.4zM141.9,595.3h1.5v0.9h-1.5zM144.7,597.0h1.6v0.8h-1.6zM143.6,593.0h1.0v0.9h-1.0zM141.5,592.1h1.5v0.6h-1.5zM140.6,596.8h1.0v0.9h-1.0zM140.5,596.1h1.2v0.8h-1.2z" fill="#d03a2c"/>
<path d="M126.5,527.6h0.7v0.7h-0.7zM106.4,526.5h1.1v0.5h-1.1zM116.1,526.3h0.9v0.5h-0.9zM114.0,528.2h0.9v0.7h-0.9zM101.3,526.6h0.7v0.7h-0.7zM106.0,526.4h0.7v0.8h-0.7zM125.3,526.6h0.8v0.5h-0.8zM121.3,527.3h0.7v0.5h-0.7zM124.3,526.6h1.0v0.5h-1.0zM103.8,526.2h1.1v0.7h-1.1zM100.8,526.8h1.0v0.5h-1.0zM132.3,526.0h0.9v0.7h-0.9zM107.3,528.2h0.9v0.5h-0.9zM129.3,526.1h1.0v0.8h-1.0zM124.8,526.1h0.6v0.8h-0.6zM132.9,526.6h1.2v0.8h-1.2zM104.2,527.9h0.6v0.6h-0.6zM108.1,526.5h0.9v0.4h-0.9zM137.5,526.5h1.0v0.6h-1.0zM135.6,527.2h0.9v0.8h-0.9zM121.8,527.0h0.7v0.8h-0.7zM124.4,527.0h1.2v0.6h-1.2zM128.8,526.4h0.8v0.7h-0.8zM110.0,528.2h1.2v0.7h-1.2zM127.9,526.6h1.1v0.8h-1.1zM117.8,527.2h1.0v0.5h-1.0zM101.8,526.4h0.9v0.7h-0.9zM133.2,526.6h0.7v0.6h-0.7zM106.3,526.6h0.9v0.7h-0.9zM104.1,526.4h0.9v0.7h-0.9zM106.8,527.5h0.9v0.9h-0.9zM137.0,527.4h0.7v0.7h-0.7zM110.5,526.6h0.6v0.7h-0.6zM125.5,526.6h0.7v0.9h-0.7zM121.4,527.5h0.7v0.9h-0.7zM127.9,527.1h0.7v0.6h-0.7zM101.0,526.5h1.1v0.5h-1.1zM108.0,526.8h1.2v0.5h-1.2zM116.1,527.2h0.6v0.7h-0.6zM102.7,526.7h0.8v0.9h-0.8z" fill="#d8564a"/>
<rect x="38.85" y="846.5" width="1.1" height="6.4" fill="#c8202a"/>
<rect x="47.25" y="853.9" width="1.1" height="7.1" fill="#e04848"/>
<rect x="130.95" y="839" width="1.1" height="6.5" fill="#c0352c"/>
<rect x="153.65" y="861" width="1.1" height="8" fill="#c8202a"/>
<rect x="112.55" y="825.4" width="1.1" height="3.3" fill="#d04040"/>
<rect x="148.45" y="828.7" width="1.1" height="3.3" fill="#d04040"/>
<rect x="36.45" y="869" width="1.1" height="8" fill="#d8202a"/>
<rect x="37.65" y="874" width="1.1" height="10" fill="#e03030"/>
<rect x="36.35" y="882" width="1.1" height="8.5" fill="#c8202a"/>
<rect x="195.65" y="831.9" width="1.1" height="7.4" fill="#2a2aa0"/>
<rect x="199.85" y="810.8" width="1.1" height="1.6" fill="#2a2a90"/>
<rect x="262.25" y="822.8" width="1.1" height="2.2" fill="#a04a48"/>
<rect x="266.05" y="789.8" width="1.1" height="1.6" fill="#b05a50"/>
<rect x="265.15" y="768.2" width="1.1" height="1.6" fill="#b05a50"/>
<rect x="198.55" y="754.6" width="1.1" height="1.4" fill="#8a5a70"/>
<rect x="254.75" y="753.6" width="1.1" height="1.4" fill="#b05a50"/>
<path d="M195.8,577.6h0.7v1.2h-0.7zM195.7,580.3h0.9v1.2h-0.9zM195.7,536.1h0.9v1.2h-0.9zM195.7,665.0h1.0v1.5h-1.0zM195.6,663.1h0.9v0.8h-0.9zM195.7,662.9h0.8v1.0h-0.8zM196.0,563.8h0.7v1.6h-0.7zM196.0,642.6h0.6v0.8h-0.6zM195.7,635.9h1.0v0.9h-1.0zM195.9,637.5h0.6v1.9h-0.6zM195.7,589.6h0.9v1.5h-0.9zM195.9,539.2h0.8v1.0h-0.8zM195.9,653.3h0.9v1.6h-0.9zM196.0,662.0h0.9v1.2h-0.9zM195.6,689.2h0.6v0.9h-0.6zM195.8,688.0h0.8v1.1h-0.8zM195.6,555.7h0.7v1.2h-0.7zM195.7,669.9h1.0v2.0h-1.0zM195.7,641.0h0.7v1.4h-0.7zM195.8,580.2h0.9v1.1h-0.9zM195.9,651.9h0.9v0.9h-0.9zM195.6,658.3h1.0v1.1h-1.0zM195.9,650.7h0.9v1.0h-0.9zM195.7,540.0h0.9v1.2h-0.9zM195.9,556.2h0.9v1.1h-0.9zM195.8,624.0h1.0v1.0h-1.0z" fill="#c89a98"/>
<path d="M265.4,566.5h0.7v1.4h-0.7zM264.1,668.7h1.0v1.0h-1.0zM265.3,643.8h1.0v1.2h-1.0zM264.7,673.5h0.7v1.5h-0.7zM264.7,612.6h0.9v1.4h-0.9zM264.3,645.1h1.0v1.1h-1.0zM265.0,644.8h0.9v1.1h-0.9zM264.7,582.9h0.9v1.1h-0.9zM265.4,565.7h0.9v0.9h-0.9zM265.6,666.3h0.7v0.9h-0.7zM264.4,586.8h1.0v1.4h-1.0zM264.0,561.1h0.8v1.2h-0.8zM265.0,668.7h0.9v0.9h-0.9zM265.7,619.3h0.8v0.9h-0.8z" fill="#d0a8a4"/>
<rect x="36.5" y="524.5" width="136" height="367" fill="none" stroke="#555" stroke-width="1"/>
<rect x="178.5" y="524.5" width="132" height="367" fill="none" stroke="#555" stroke-width="1"/>
</g>
<g id="panel_h">
<text transform="translate(326.3 476.2) scale(1.0 1)" x="0" y="0" font-size="12.8" font-weight="bold" font-family="'DejaVu Sans', 'Liberation Sans', sans-serif" fill="#000" stroke="#000" stroke-width="0.45" stroke-linejoin="round">h</text>
<rect x="481.4" y="472" width="15.4" height="4.4" fill="#159b8b" stroke="#0b2c2c" stroke-width="0.7"/>
<text x="500.5" y="477.7" font-size="9.2" font-style="italic">Pi5</text>
<rect x="481.2" y="481.6" width="15.8" height="4.2" fill="#a9c4f4"/>
<text x="500.5" y="486.9" font-size="9.2">Other gene</text>
<text x="392.1" y="499.6" font-size="9.2" font-style="italic">Pi5-1</text>
<text x="420.1" y="499.6" font-size="9.2" font-style="italic">Pi5-3</text>
<text x="458" y="887.8" font-size="9.2" font-style="italic">Pi5-2</text>
<path d="M379.6,507.8L387.2,507.8L388.6,516.99L382.4,516.99ZM483.6,507.8L496.8,507.8L457.9,516.99L455,516.99ZM517.4,507.8L521.1,507.8L498,516.99L495.8,516.99ZM527.7,507.8L530.6,507.8L501.8,516.99L499.8,516.99ZM542.2,507.8L544,507.8L511.2,516.99L509.8,516.99ZM382.4,516.99L388.6,516.99L388.6,526.18L382.4,526.18ZM455,516.99L457.9,516.99L457.9,526.18L455,526.18ZM495.8,516.99L498,516.99L498,526.18L495.8,526.18ZM499.8,516.99L501.8,516.99L501.8,526.18L499.8,526.18ZM509.8,516.99L511.2,516.99L511.2,526.18L509.8,526.18ZM382.4,526.18L388.6,526.18L387.2,535.37L380.3,535.37ZM455,526.18L457.9,526.18L489.6,535.37L486,535.37ZM495.8,526.18L498,526.18L530.8,535.37L528.4,535.37ZM499.8,526.18L501.8,526.18L534.4,535.37L532.2,535.37ZM509.8,526.18L511.2,526.18L544,535.37L542.2,535.37ZM380.3,535.37L387.2,535.37L388.6,544.56L382.4,544.56ZM486,535.37L489.6,535.37L457.9,544.56L455,544.56ZM528.4,535.37L530.8,535.37L498,544.56L495.8,544.56ZM532.2,535.37L534.4,535.37L501.8,544.56L499.8,544.56ZM542.2,535.37L544,535.37L511.2,544.56L509.8,544.56ZM382.4,544.56L388.6,544.56L383.8,553.75L376.9,553.75ZM455,544.56L457.9,544.56L451.2,553.75L448.6,553.75ZM495.8,544.56L498,544.56L504,553.75L501.6,553.75ZM499.8,544.56L501.8,544.56L506.8,553.75L504.6,553.75ZM509.8,544.56L511.2,544.56L517,553.75L515.6,553.75ZM376.9,553.75L383.8,553.75L387.2,562.94L380.3,562.94ZM448.6,553.75L451.2,553.75L489.6,562.94L486,562.94ZM501.6,553.75L504,553.75L530.8,562.94L528.4,562.94ZM504.6,553.75L506.8,553.75L534.4,562.94L532.2,562.94ZM515.6,553.75L517,553.75L544,562.94L542.2,562.94ZM380.3,562.94L387.2,562.94L387.2,572.13L380.3,572.13ZM486,562.94L489.6,562.94L489.6,572.13L486,572.13ZM528.4,562.94L530.8,562.94L530.8,572.13L528.4,572.13ZM532.2,562.94L534.4,562.94L534.4,572.13L532.2,572.13ZM542.2,562.94L544,562.94L544,572.13L542.2,572.13ZM515.8,562.94L518.4,562.94L518.4,572.13L515.8,572.13ZM380.3,572.13L387.2,572.13L388.6,581.32L382.4,581.32ZM486,572.13L489.6,572.13L457.9,581.32L455,581.32ZM528.4,572.13L530.8,572.13L498,581.32L495.8,581.32ZM532.2,572.13L534.4,572.13L501.8,581.32L499.8,581.32ZM542.2,572.13L544,572.13L511.2,581.32L509.8,581.32ZM382.4,581.32L388.6,581.32L388.6,590.51L382.4,590.51ZM455,581.32L457.9,581.32L457.9,590.51L455,590.51ZM495.8,581.32L498,581.32L498,590.51L495.8,590.51ZM499.8,581.32L501.8,581.32L501.8,590.51L499.8,590.51ZM509.8,581.32L511.2,581.32L511.2,590.51L509.8,590.51ZM382.4,590.51L388.6,590.51L387.2,599.7L380.3,599.7ZM455,590.51L457.9,590.51L489.6,599.7L486,599.7ZM495.8,590.51L498,590.51L530.8,599.7L528.4,599.7ZM499.8,590.51L501.8,590.51L534.4,599.7L532.2,599.7ZM509.8,590.51L511.2,590.51L544,599.7L542.2,599.7ZM380.3,599.7L387.2,599.7L388.6,608.89L382.4,608.89ZM486,599.7L489.6,599.7L457.9,608.89L455,608.89ZM528.4,599.7L530.8,599.7L498,608.89L495.8,608.89ZM532.2,599.7L534.4,599.7L501.8,608.89L499.8,608.89ZM542.2,599.7L544,599.7L511.2,608.89L509.8,608.89ZM382.4,608.89L388.6,608.89L387.2,618.08L380.3,618.08ZM455,608.89L457.9,608.89L489.6,618.08L486,618.08ZM495.8,608.89L498,608.89L530.8,618.08L528.4,618.08ZM499.8,608.89L501.8,608.89L534.4,618.08L532.2,618.08ZM509.8,608.89L511.2,608.89L544,618.08L542.2,618.08ZM380.3,618.08L387.2,618.08L387.2,627.27L380.3,627.27ZM486,618.08L489.6,618.08L489.6,627.27L486,627.27ZM528.4,618.08L530.8,618.08L530.8,627.27L528.4,627.27ZM532.2,618.08L534.4,618.08L534.4,627.27L532.2,627.27ZM542.2,618.08L544,618.08L544,627.27L542.2,627.27ZM380.3,627.27L387.2,627.27L387.2,636.46L380.3,636.46ZM486,627.27L489.6,627.27L489.6,636.46L486,636.46ZM528.4,627.27L530.8,627.27L530.8,636.46L528.4,636.46ZM532.2,627.27L534.4,627.27L534.4,636.46L532.2,636.46ZM542.2,627.27L544,627.27L544,636.46L542.2,636.46ZM380.3,636.46L387.2,636.46L387.2,645.65L380.3,645.65ZM486,636.46L489.6,636.46L489.6,645.65L486,645.65ZM528.4,636.46L530.8,636.46L530.8,645.65L528.4,645.65ZM532.2,636.46L534.4,636.46L534.4,645.65L532.2,645.65ZM542.2,636.46L544,636.46L544,645.65L542.2,645.65ZM380.3,645.65L387.2,645.65L387.2,654.84L380.3,654.84ZM486,645.65L489.6,645.65L489.6,654.84L486,654.84ZM528.4,645.65L530.8,645.65L530.8,654.84L528.4,654.84ZM532.2,645.65L534.4,645.65L534.4,654.84L532.2,654.84ZM542.2,645.65L544,645.65L544,654.84L542.2,654.84ZM380.3,654.84L387.2,654.84L387.2,664.03L380.3,664.03ZM486,654.84L489.6,654.84L489.6,664.03L486,664.03ZM528.4,654.84L530.8,654.84L530.8,664.03L528.4,664.03ZM532.2,654.84L534.4,654.84L534.4,664.03L532.2,664.03ZM542.2,654.84L544,654.84L544,664.03L542.2,664.03ZM380.3,664.03L387.2,664.03L387.2,673.22L380.3,673.22ZM486,664.03L489.6,664.03L489.6,673.22L486,673.22ZM528.4,664.03L530.8,664.03L530.8,673.22L528.4,673.22ZM532.2,664.03L534.4,664.03L534.4,673.22L532.2,673.22ZM542.2,664.03L544,664.03L544,673.22L542.2,673.22ZM380.3,673.22L387.2,673.22L387.2,682.41L380.3,682.41ZM486,673.22L489.6,673.22L489.6,682.41L486,682.41ZM528.4,673.22L530.8,673.22L530.8,682.41L528.4,682.41ZM532.2,673.22L534.4,673.22L534.4,682.41L532.2,682.41ZM542.2,673.22L544,673.22L544,682.41L542.2,682.41ZM380.3,682.41L387.2,682.41L384,691.6L377,691.6ZM486,682.41L489.6,682.41L487.6,691.6L484,691.6ZM528.4,682.41L530.8,682.41L529,691.6L526.4,691.6ZM532.2,682.41L534.4,682.41L546.4,691.6L540.6,691.6ZM542.2,682.41L544,682.41L546.4,691.6L545,691.6ZM377,691.6L384,691.6L379.6,700.79L372.4,700.79ZM545,691.6L546.4,691.6L570,700.79L568.6,700.79ZM372.4,700.79L379.6,700.79L383.4,709.98L375.8,709.98ZM500.3,700.79L503,700.79L492.6,709.98L489.8,709.98ZM522.9,700.79L526.2,700.79L526.5,709.98L523.4,709.98ZM552.1,700.79L559.8,700.79L556.5,709.98L551.5,709.98ZM568.6,700.79L570,700.79L566.9,709.98L565.5,709.98ZM375.8,709.98L383.4,709.98L379.6,719.17L372.4,719.17ZM523.4,709.98L526.5,709.98L526.2,719.17L522.9,719.17ZM551.5,709.98L556.5,709.98L559.8,719.17L552.1,719.17ZM565.5,709.98L566.9,709.98L570,719.17L568.6,719.17ZM372.4,719.17L379.6,719.17L379.6,728.36L372.4,728.36ZM522.9,719.17L526.2,719.17L526.2,728.36L522.9,728.36ZM552.1,719.17L559.8,719.17L559.8,728.36L552.1,728.36ZM568.6,719.17L570,719.17L570,728.36L568.6,728.36ZM372.4,728.36L379.6,728.36L379.6,737.55L372.4,737.55ZM522.9,728.36L526.2,728.36L526.2,737.55L522.9,737.55ZM552.1,728.36L559.8,728.36L559.8,737.55L552.1,737.55ZM568.6,728.36L570,728.36L570,737.55L568.6,737.55ZM372.4,737.55L379.6,737.55L379.6,746.74L372.4,746.74ZM522.9,737.55L526.2,737.55L526.2,746.74L522.9,746.74ZM552.1,737.55L559.8,737.55L559.8,746.74L552.1,746.74ZM568.6,737.55L570,737.55L570,746.74L568.6,746.74ZM372.4,746.74L379.6,746.74L379.6,755.93L372.4,755.93ZM522.9,746.74L526.2,746.74L526.2,755.93L522.9,755.93ZM552.1,746.74L559.8,746.74L559.8,755.93L552.1,755.93ZM568.6,746.74L570,746.74L570,755.93L568.6,755.93ZM372.4,755.93L379.6,755.93L382.4,765.12L375,765.12ZM522.9,755.93L526.2,755.93L515.7,765.12L507.4,765.12ZM552.1,755.93L559.8,755.93L547.7,765.12L542.7,765.12ZM568.6,755.93L570,755.93L567.6,765.12L566.2,765.12ZM375,765.12L382.4,765.12L385,774.31L378,774.31ZM484.8,765.12L490.9,765.12L494.2,774.31L487.6,774.31ZM507.4,765.12L515.7,765.12L513.5,774.31L509.6,774.31ZM542.7,765.12L547.7,765.12L544.9,774.31L539.9,774.31ZM549.3,765.12L551.5,765.12L548.8,774.31L546.6,774.31ZM566.2,765.12L567.6,765.12L564.2,774.31L562.8,774.31ZM378,774.31L385,774.31L379.6,783.5L372.4,783.5ZM509.6,774.31L513.5,774.31L526.2,783.5L522.9,783.5ZM539.9,774.31L544.9,774.31L559.8,783.5L552.1,783.5ZM562.8,774.31L564.2,774.31L570,783.5L568.6,783.5ZM372.4,783.5L379.6,783.5L379.6,792.69L372.4,792.69ZM522.9,783.5L526.2,783.5L526.2,792.69L522.9,792.69ZM552.1,783.5L559.8,783.5L559.8,792.69L552.1,792.69ZM568.6,783.5L570,783.5L570,792.69L568.6,792.69ZM372.4,792.69L379.6,792.69L381.5,801.88L374.2,801.88ZM522.9,792.69L526.2,792.69L493,801.88L489.5,801.88ZM552.1,792.69L559.8,792.69L520.5,801.88L512.5,801.88ZM568.6,792.69L570,792.69L549.4,801.88L548,801.88ZM374.2,801.88L381.5,801.88L381.5,811.07L374.2,811.07ZM476,801.88L479.5,801.88L465,811.07L462,811.07ZM489.5,801.88L493,801.88L482,811.07L476,811.07ZM512.5,801.88L520.5,801.88L500,811.07L497,811.07ZM530.5,801.88L538.5,801.88L532,811.07L524,811.07ZM548,801.88L549.4,801.88L549.4,811.07L548,811.07ZM374.2,811.07L381.5,811.07L379.6,820.26L372.4,820.26ZM476,811.07L482,811.07L526.2,820.26L522.9,820.26ZM497,811.07L500,811.07L559.8,820.26L552.1,820.26ZM548,811.07L549.4,811.07L570,820.26L568.6,820.26ZM372.4,820.26L379.6,820.26L379.6,829.45L372.4,829.45ZM522.9,820.26L526.2,820.26L526.2,829.45L522.9,829.45ZM552.1,820.26L559.8,820.26L559.8,829.45L552.1,829.45ZM568.6,820.26L570,820.26L570,829.45L568.6,829.45ZM372.4,829.45L379.6,829.45L379.6,838.64L372.4,838.64ZM522.9,829.45L526.2,829.45L526.2,838.64L522.9,838.64ZM552.1,829.45L559.8,829.45L559.8,838.64L552.1,838.64ZM568.6,829.45L570,829.45L570,838.64L568.6,838.64ZM372.4,838.64L379.6,838.64L379.6,847.83L372.4,847.83ZM522.9,838.64L526.2,838.64L526.2,847.83L522.9,847.83ZM552.1,838.64L559.8,838.64L559.8,847.83L552.1,847.83ZM568.6,838.64L570,838.64L570,847.83L568.6,847.83ZM372.4,847.83L379.6,847.83L379.6,857.02L372.4,857.02ZM522.9,847.83L526.2,847.83L526.2,857.02L522.9,857.02ZM552.1,847.83L559.8,847.83L559.8,857.02L552.1,857.02ZM568.6,847.83L570,847.83L570,857.02L568.6,857.02ZM372.4,857.02L379.6,857.02L379.6,866.21L372.4,866.21ZM522.9,857.02L526.2,857.02L526.2,866.21L522.9,866.21ZM552.1,857.02L559.8,857.02L559.8,866.21L552.1,866.21ZM568.6,857.02L570,857.02L570,866.21L568.6,866.21ZM372.4,866.21L379.6,866.21L379.6,875.4L372.4,875.4ZM522.9,866.21L526.2,866.21L526.2,875.4L522.9,875.4ZM552.1,866.21L559.8,866.21L559.8,875.4L552.1,875.4ZM568.6,866.21L570,866.21L570,875.4L568.6,875.4Z" fill="#dde1ea" stroke="#d5dae6" stroke-width="0.5" opacity="0.85"/>
<path d="M405.3,507.8L406.7,507.8L408.4,516.99L395.4,516.99ZM395.4,516.99L408.4,516.99L408.4,526.18L395.4,526.18ZM395.4,526.18L408.4,526.18L406.7,535.37L393.4,535.37ZM393.4,535.37L406.7,535.37L408.4,544.56L395.4,544.56ZM395.4,544.56L408.4,544.56L402.7,553.75L389.5,553.75ZM389.5,553.75L402.7,553.75L406.7,562.94L393.4,562.94ZM393.4,562.94L406.7,562.94L406.7,572.13L393.4,572.13ZM393.4,572.13L406.7,572.13L408.4,581.32L395.4,581.32ZM395.4,581.32L408.4,581.32L408.4,590.51L395.4,590.51ZM395.4,590.51L408.4,590.51L406.7,599.7L393.4,599.7ZM393.4,599.7L406.7,599.7L408.4,608.89L395.4,608.89ZM395.4,608.89L408.4,608.89L406.7,618.08L393.4,618.08ZM393.4,618.08L406.7,618.08L406.7,627.27L393.4,627.27ZM393.4,627.27L406.7,627.27L406.7,636.46L393.4,636.46ZM393.4,636.46L406.7,636.46L406.7,645.65L393.4,645.65ZM393.4,645.65L406.7,645.65L406.7,654.84L393.4,654.84ZM393.4,654.84L406.7,654.84L406.7,664.03L393.4,664.03ZM393.4,664.03L406.7,664.03L406.4,673.22L397.3,673.22ZM397.3,673.22L406.4,673.22L406.7,682.41L393.4,682.41ZM393.4,682.41L406.7,682.41L403.6,691.6L390.1,691.6ZM390.1,691.6L403.6,691.6L397,700.79L385.9,700.79ZM385.9,700.79L397,700.79L400.8,709.98L393.1,709.98ZM393.1,709.98L400.8,709.98L397,719.17L390.1,719.17ZM390.1,719.17L397,719.17L397,728.36L385.9,728.36ZM385.9,728.36L397,728.36L397,737.55L385.9,737.55ZM385.9,737.55L397,737.55L397,746.74L389.2,746.74ZM389.2,746.74L397,746.74L397,755.93L390.1,755.93ZM390.1,755.93L397,755.93L400,765.12L392,765.12ZM392,765.12L400,765.12L402.8,774.31L391.1,774.31ZM391.1,774.31L402.8,774.31L397,783.5L385.9,783.5ZM385.9,783.5L397,783.5L396.8,792.69L389.9,792.69ZM389.9,792.69L396.8,792.69L399.5,801.88L392.7,801.88ZM392.7,801.88L399.5,801.88L399,811.07L388,811.07ZM388,811.07L399,811.07L396.8,820.26L386.4,820.26ZM386.4,820.26L396.8,820.26L396.8,829.45L386.4,829.45ZM386.4,829.45L396.8,829.45L396.8,838.64L386.4,838.64ZM386.4,838.64L396.8,838.64L396.8,847.83L390.5,847.83ZM390.5,847.83L396.8,847.83L396.8,857.02L386.4,857.02ZM386.4,857.02L396.8,857.02L396.8,866.21L386.4,866.21ZM386.4,866.21L396.8,866.21L396.8,875.4L390.5,875.4Z" fill="#f1873e"/>
<path d="M414.6,507.8L424.5,507.8L432.7,516.99L417.6,516.99ZM417.6,516.99L432.7,516.99L432.7,526.18L417.6,526.18ZM417.6,526.18L432.7,526.18L430.4,535.37L414.9,535.37ZM414.9,535.37L430.4,535.37L432.7,544.56L417.6,544.56ZM417.6,544.56L432.7,544.56L426.7,553.75L411.5,553.75ZM411.5,553.75L426.7,553.75L430.4,562.94L414.9,562.94ZM414.9,562.94L430.4,562.94L430.4,572.13L414.9,572.13ZM414.9,572.13L430.4,572.13L432.7,581.32L417.6,581.32ZM417.6,581.32L432.7,581.32L432.7,590.51L417.6,590.51ZM417.6,590.51L432.7,590.51L430.4,599.7L414.9,599.7ZM414.9,599.7L430.4,599.7L432.7,608.89L417.6,608.89ZM417.6,608.89L432.7,608.89L430.4,618.08L414.9,618.08ZM414.9,618.08L430.4,618.08L430.4,627.27L414.9,627.27ZM414.9,627.27L430.4,627.27L430.4,636.46L414.9,636.46ZM414.9,636.46L430.4,636.46L430.4,645.65L414.9,645.65ZM414.9,645.65L430.4,645.65L430.4,654.84L414.9,654.84ZM414.9,654.84L430.4,654.84L430.4,664.03L414.9,664.03ZM414.9,664.03L430.4,664.03L430.4,673.22L414.9,673.22ZM414.9,673.22L430.4,673.22L430.4,682.41L414.9,682.41ZM414.9,682.41L430.4,682.41L427.6,691.6L411.3,691.6Z" fill="#dc83b9"/>
<path d="M464,700.79L473,700.79L462.9,709.98L453.2,709.98ZM453.2,709.98L462.9,709.98L473,719.17L464,719.17ZM464,719.17L473,719.17L473,728.36L464,728.36ZM464,728.36L473,728.36L473,737.55L464,737.55ZM464,737.55L473,737.55L458.9,746.74L449.3,746.74ZM449.3,746.74L458.9,746.74L473,755.93L464,755.93ZM464,755.93L473,755.93L462,765.12L452.1,765.12ZM452.1,765.12L462,765.12L464.7,774.31L455.2,774.31ZM455.2,774.31L464.7,774.31L473,783.5L464,783.5ZM464,783.5L473,783.5L473,792.69L464,792.69ZM464,792.69L473,792.69L461.8,801.88L452.5,801.88ZM452.5,801.88L461.8,801.88L448.9,811.07L441.5,811.07ZM441.5,811.07L448.9,811.07L473,820.26L464,820.26ZM464,820.26L473,820.26L473,829.45L464,829.45ZM464,829.45L473,829.45L473,838.64L464,838.64ZM464,838.64L473,838.64L473,847.83L464,847.83ZM464,847.83L473,847.83L473,857.02L464,857.02ZM464,857.02L473,857.02L473,866.21L464,866.21ZM464,866.21L473,866.21L473,875.4L464,875.4Z" fill="#c6de55"/>
<path d="M379.6,507.8H543.1M382.4,516.99H510.5M382.4,526.18H510.5M380.3,535.37H543.1M382.4,544.56H510.5M376.9,553.75H516.4M380.3,562.94H543.1M380.3,572.13H543.1M382.4,581.32H510.5M382.4,590.51H510.5M380.3,599.7H543.1M382.4,608.89H510.5M380.3,618.08H543.1M380.3,627.27H543.1M380.3,636.46H543.1M380.3,645.65H543.1M380.3,654.84H543.1M380.3,664.03H543.1M380.3,673.22H543.1M380.3,682.41H543.1M377,691.6H545.5M372.2,700.79H569.6M375.5,709.98H566.4M372.2,719.17H569.6M372.2,728.36H569.6M372.2,737.55H569.6M372.2,746.74H569.6M372.2,755.93H569.6M374.8,765.12H567M377.8,774.31H563.6M372.2,783.5H569.6M372.2,792.69H569.6M374,801.88H549M374,811.07H549M372.2,820.26H569.6M372.2,829.45H569.6M372.2,838.64H569.6M372.2,847.83H569.6M372.2,857.02H569.6M372.2,866.21H569.6M372.2,875.4H569.6" fill="none" stroke="#909090" stroke-width="0.8"/>
<path d="M429.7,506.3V509.3M434.4,506.3V509.3M466,506.3V509.3M508.6,506.3V509.3M538.7,506.3V509.3M391.3,515.49V518.49M413.2,515.49V518.49M491.4,515.49V518.49M391.3,524.68V527.68M413.2,524.68V527.68M491.4,524.68V527.68M390.6,533.87V536.87M411,533.87V536.87M466,533.87V536.87M523.8,533.87V536.87M391.3,543.06V546.06M413.2,543.06V546.06M491.4,543.06V546.06M387.2,552.25V555.25M407,552.25V555.25M491,552.25V555.25M496.8,552.25V555.25M390.6,561.44V564.44M411,561.44V564.44M466,561.44V564.44M523.8,561.44V564.44M390.6,570.63V573.63M411,570.63V573.63M466,570.63V573.63M523.8,570.63V573.63M391.3,579.82V582.82M413.2,579.82V582.82M491.4,579.82V582.82M391.3,589.01V592.01M413.2,589.01V592.01M491.4,589.01V592.01M390.6,598.2V601.2M411,598.2V601.2M466,598.2V601.2M523.8,598.2V601.2M391.3,607.39V610.39M413.2,607.39V610.39M491.4,607.39V610.39M390.6,616.58V619.58M411,616.58V619.58M466,616.58V619.58M523.8,616.58V619.58M390.6,625.77V628.77M411,625.77V628.77M466,625.77V628.77M523.8,625.77V628.77M390.6,634.96V637.96M411,634.96V637.96M466,634.96V637.96M523.8,634.96V637.96M390.6,644.15V647.15M411,644.15V647.15M466,644.15V647.15M523.8,644.15V647.15M390.6,653.34V656.34M411,653.34V656.34M466,653.34V656.34M523.8,653.34V656.34M390.6,662.53V665.53M411,662.53V665.53M466,662.53V665.53M523.8,662.53V665.53M390.6,671.72V674.72M411,671.72V674.72M466,671.72V674.72M523.8,671.72V674.72M390.6,680.91V683.91M411,680.91V683.91M466,680.91V683.91M523.8,680.91V683.91M387.5,690.1V693.1M408,690.1V693.1M454,690.1V693.1M463,690.1V693.1M519,690.1V693.1M382.5,699.29V702.29M475.4,699.29V702.29M484.8,699.29V702.29M514.4,699.29V702.29M474.5,708.48V711.48M494,708.48V711.48M503.6,708.48V711.48M543.5,708.48V711.48M382.5,717.67V720.67M475.4,717.67V720.67M484.8,717.67V720.67M504.5,717.67V720.67M514.4,717.67V720.67M382.5,726.86V729.86M475.4,726.86V729.86M484.8,726.86V729.86M504.5,726.86V729.86M514.4,726.86V729.86M382.5,736.05V739.05M475.4,736.05V739.05M484.8,736.05V739.05M504.5,736.05V739.05M514.4,736.05V739.05M477.1,745.24V748.24M505.8,745.24V748.24M382.5,754.43V757.43M475.4,754.43V757.43M484.8,754.43V757.43M504.5,754.43V757.43M514.4,754.43V757.43M466,763.62V766.62M469.5,763.62V766.62M473.5,763.62V766.62M480.5,763.62V766.62M498.6,763.62V766.62M467.8,772.81V775.81M472,772.81V775.81M476,772.81V775.81M483.6,772.81V775.81M501.4,772.81V775.81M382.5,782V785M475.4,782V785M484.8,782V785M504.5,782V785M514.4,782V785M382.5,791.19V794.19M475.4,791.19V794.19M484.8,791.19V794.19M504.5,791.19V794.19M514.4,791.19V794.19M465,800.38V803.38M470,800.38V803.38M498,800.38V803.38M526,800.38V803.38M453,809.57V812.57M458,809.57V812.57M488,809.57V812.57M510,809.57V812.57M382.5,818.76V821.76M475.4,818.76V821.76M484.8,818.76V821.76M504.5,818.76V821.76M514.4,818.76V821.76M382.5,827.95V830.95M475.4,827.95V830.95M484.8,827.95V830.95M504.5,827.95V830.95M514.4,827.95V830.95M382.5,837.14V840.14M475.4,837.14V840.14M484.8,837.14V840.14M504.5,837.14V840.14M514.4,837.14V840.14M382.5,846.33V849.33M475.4,846.33V849.33M484.8,846.33V849.33M504.5,846.33V849.33M514.4,846.33V849.33M382.5,855.52V858.52M475.4,855.52V858.52M484.8,855.52V858.52M504.5,855.52V858.52M514.4,855.52V858.52M382.5,864.71V867.71M475.4,864.71V867.71M484.8,864.71V867.71M504.5,864.71V867.71M514.4,864.71V867.71M382.5,873.9V876.9M475.4,873.9V876.9M484.8,873.9V876.9M504.5,873.9V876.9M514.4,873.9V876.9" fill="none" stroke="#a9c4f4" stroke-width="0.7"/>
<path d="M379.6,506.1H387.2V509.5H379.6ZM392,506.1H395.4V509.5H392ZM483.6,506.1H496.8V509.5H483.6ZM499,506.1H500.8V509.5H499ZM517.4,506.1H521.1V509.5H517.4ZM527.7,506.1H530.6V509.5H527.7ZM532.4,506.1H534.6V509.5H532.4ZM542.2,506.1H544V509.5H542.2ZM442.5,506.1H444V509.5H442.5ZM448.2,506.1H450.4V509.5H448.2ZM452.4,506.1H454.8V509.5H452.4ZM459.6,506.1H462.2V509.5H459.6ZM382.4,515.29H388.6V518.69H382.4ZM455,515.29H457.9V518.69H455ZM495.8,515.29H498V518.69H495.8ZM499.8,515.29H501.8V518.69H499.8ZM509.8,515.29H511.2V518.69H509.8ZM382.4,524.48H388.6V527.88H382.4ZM455,524.48H457.9V527.88H455ZM495.8,524.48H498V527.88H495.8ZM499.8,524.48H501.8V527.88H499.8ZM509.8,524.48H511.2V527.88H509.8ZM380.3,533.67H387.2V537.07H380.3ZM486,533.67H489.6V537.07H486ZM528.4,533.67H530.8V537.07H528.4ZM532.2,533.67H534.4V537.07H532.2ZM542.2,533.67H544V537.07H542.2ZM382.4,542.86H388.6V546.26H382.4ZM455,542.86H457.9V546.26H455ZM495.8,542.86H498V546.26H495.8ZM499.8,542.86H501.8V546.26H499.8ZM509.8,542.86H511.2V546.26H509.8ZM483.6,542.86H489.5V546.26H483.6ZM376.9,552.05H383.8V555.45H376.9ZM448.6,552.05H451.2V555.45H448.6ZM501.6,552.05H504V555.45H501.6ZM504.6,552.05H506.8V555.45H504.6ZM515.6,552.05H517V555.45H515.6ZM380.3,561.24H387.2V564.64H380.3ZM486,561.24H489.6V564.64H486ZM528.4,561.24H530.8V564.64H528.4ZM532.2,561.24H534.4V564.64H532.2ZM542.2,561.24H544V564.64H542.2ZM515.8,561.24H518.4V564.64H515.8ZM380.3,570.43H387.2V573.83H380.3ZM486,570.43H489.6V573.83H486ZM528.4,570.43H530.8V573.83H528.4ZM532.2,570.43H534.4V573.83H532.2ZM542.2,570.43H544V573.83H542.2ZM515.8,570.43H518.4V573.83H515.8ZM382.4,579.62H388.6V583.02H382.4ZM455,579.62H457.9V583.02H455ZM495.8,579.62H498V583.02H495.8ZM499.8,579.62H501.8V583.02H499.8ZM509.8,579.62H511.2V583.02H509.8ZM382.4,588.81H388.6V592.21H382.4ZM455,588.81H457.9V592.21H455ZM495.8,588.81H498V592.21H495.8ZM499.8,588.81H501.8V592.21H499.8ZM509.8,588.81H511.2V592.21H509.8ZM380.3,598H387.2V601.4H380.3ZM486,598H489.6V601.4H486ZM528.4,598H530.8V601.4H528.4ZM532.2,598H534.4V601.4H532.2ZM542.2,598H544V601.4H542.2ZM382.4,607.19H388.6V610.59H382.4ZM455,607.19H457.9V610.59H455ZM495.8,607.19H498V610.59H495.8ZM499.8,607.19H501.8V610.59H499.8ZM509.8,607.19H511.2V610.59H509.8ZM380.3,616.38H387.2V619.78H380.3ZM486,616.38H489.6V619.78H486ZM528.4,616.38H530.8V619.78H528.4ZM532.2,616.38H534.4V619.78H532.2ZM542.2,616.38H544V619.78H542.2ZM380.3,625.57H387.2V628.97H380.3ZM486,625.57H489.6V628.97H486ZM528.4,625.57H530.8V628.97H528.4ZM532.2,625.57H534.4V628.97H532.2ZM542.2,625.57H544V628.97H542.2ZM380.3,634.76H387.2V638.16H380.3ZM486,634.76H489.6V638.16H486ZM528.4,634.76H530.8V638.16H528.4ZM532.2,634.76H534.4V638.16H532.2ZM542.2,634.76H544V638.16H542.2ZM380.3,643.95H387.2V647.35H380.3ZM486,643.95H489.6V647.35H486ZM528.4,643.95H530.8V647.35H528.4ZM532.2,643.95H534.4V647.35H532.2ZM542.2,643.95H544V647.35H542.2ZM515.8,643.95H518.4V647.35H515.8ZM380.3,653.14H387.2V656.54H380.3ZM486,653.14H489.6V656.54H486ZM528.4,653.14H530.8V656.54H528.4ZM532.2,653.14H534.4V656.54H532.2ZM542.2,653.14H544V656.54H542.2ZM380.3,662.33H387.2V665.73H380.3ZM486,662.33H489.6V665.73H486ZM528.4,662.33H530.8V665.73H528.4ZM532.2,662.33H534.4V665.73H532.2ZM542.2,662.33H544V665.73H542.2ZM380.3,671.52H387.2V674.92H380.3ZM486,671.52H489.6V674.92H486ZM528.4,671.52H530.8V674.92H528.4ZM532.2,671.52H534.4V674.92H532.2ZM542.2,671.52H544V674.92H542.2ZM380.3,680.71H387.2V684.11H380.3ZM486,680.71H489.6V684.11H486ZM528.4,680.71H530.8V684.11H528.4ZM532.2,680.71H534.4V684.11H532.2ZM542.2,680.71H544V684.11H542.2ZM377,689.9H384V693.3H377ZM484,689.9H487.6V693.3H484ZM526.4,689.9H529V693.3H526.4ZM540.6,689.9H546.4V693.3H540.6ZM545,689.9H546.4V693.3H545ZM372.4,699.09H379.6V702.49H372.4ZM500.3,699.09H503V702.49H500.3ZM522.9,699.09H526.2V702.49H522.9ZM552.1,699.09H559.8V702.49H552.1ZM568.6,699.09H570V702.49H568.6ZM375.8,708.28H383.4V711.68H375.8ZM387,708.28H392V711.68H387ZM489.8,708.28H492.6V711.68H489.8ZM512.4,708.28H515.1V711.68H512.4ZM523.4,708.28H526.5V711.68H523.4ZM551.5,708.28H556.5V711.68H551.5ZM565.5,708.28H566.9V711.68H565.5ZM372.4,717.47H379.6V720.87H372.4ZM522.9,717.47H526.2V720.87H522.9ZM552.1,717.47H559.8V720.87H552.1ZM568.6,717.47H570V720.87H568.6ZM372.4,726.66H379.6V730.06H372.4ZM522.9,726.66H526.2V730.06H522.9ZM552.1,726.66H559.8V730.06H552.1ZM568.6,726.66H570V730.06H568.6ZM372.4,735.85H379.6V739.25H372.4ZM522.9,735.85H526.2V739.25H522.9ZM552.1,735.85H559.8V739.25H552.1ZM568.6,735.85H570V739.25H568.6ZM372.4,745.04H379.6V748.44H372.4ZM384,745.04H387.5V748.44H384ZM522.9,745.04H526.2V748.44H522.9ZM552.1,745.04H559.8V748.44H552.1ZM568.6,745.04H570V748.44H568.6ZM372.4,754.23H379.6V757.63H372.4ZM522.9,754.23H526.2V757.63H522.9ZM552.1,754.23H559.8V757.63H552.1ZM568.6,754.23H570V757.63H568.6ZM375,763.42H382.4V766.82H375ZM386,763.42H390.5V766.82H386ZM484.8,763.42H490.9V766.82H484.8ZM507.4,763.42H515.7V766.82H507.4ZM542.7,763.42H547.7V766.82H542.7ZM549.3,763.42H551.5V766.82H549.3ZM566.2,763.42H567.6V766.82H566.2ZM378,772.61H385V776.01H378ZM487.6,772.61H494.2V776.01H487.6ZM509.6,772.61H513.5V776.01H509.6ZM539.9,772.61H544.9V776.01H539.9ZM546.6,772.61H548.8V776.01H546.6ZM562.8,772.61H564.2V776.01H562.8ZM372.4,781.8H379.6V785.2H372.4ZM522.9,781.8H526.2V785.2H522.9ZM552.1,781.8H559.8V785.2H552.1ZM568.6,781.8H570V785.2H568.6ZM372.4,790.99H379.6V794.39H372.4ZM522.9,790.99H526.2V794.39H522.9ZM552.1,790.99H559.8V794.39H552.1ZM568.6,790.99H570V794.39H568.6ZM374.2,800.18H381.5V803.58H374.2ZM476,800.18H479.5V803.58H476ZM489.5,800.18H493V803.58H489.5ZM512.5,800.18H520.5V803.58H512.5ZM530.5,800.18H538.5V803.58H530.5ZM548,800.18H549.4V803.58H548ZM374.2,809.37H381.5V812.77H374.2ZM462,809.37H465V812.77H462ZM476,809.37H482V812.77H476ZM497,809.37H500V812.77H497ZM524,809.37H532V812.77H524ZM548,809.37H549.4V812.77H548ZM372.4,818.56H379.6V821.96H372.4ZM522.9,818.56H526.2V821.96H522.9ZM552.1,818.56H559.8V821.96H552.1ZM568.6,818.56H570V821.96H568.6ZM372.4,827.75H379.6V831.15H372.4ZM522.9,827.75H526.2V831.15H522.9ZM552.1,827.75H559.8V831.15H552.1ZM568.6,827.75H570V831.15H568.6ZM372.4,836.94H379.6V840.34H372.4ZM522.9,836.94H526.2V840.34H522.9ZM552.1,836.94H559.8V840.34H552.1ZM568.6,836.94H570V840.34H568.6ZM372.4,846.13H379.6V849.53H372.4ZM522.9,846.13H526.2V849.53H522.9ZM552.1,846.13H559.8V849.53H552.1ZM568.6,846.13H570V849.53H568.6ZM372.4,855.32H379.6V858.72H372.4ZM522.9,855.32H526.2V858.72H522.9ZM552.1,855.32H559.8V858.72H552.1ZM568.6,855.32H570V858.72H568.6ZM372.4,864.51H379.6V867.91H372.4ZM522.9,864.51H526.2V867.91H522.9ZM552.1,864.51H559.8V867.91H552.1ZM568.6,864.51H570V867.91H568.6ZM372.4,873.7H379.6V877.1H372.4ZM522.9,873.7H526.2V877.1H522.9ZM552.1,873.7H559.8V877.1H552.1ZM568.6,873.7H570V877.1H568.6Z" fill="#a9c4f4"/>
<rect x="405.3" y="505.6" width="1.4" height="4.4" fill="#111"/>
<path d="M414.6,505.8H424.5V509.8H414.6ZM395.4,514.99H408.4V518.99H395.4ZM417.6,514.99H432.7V518.99H417.6ZM395.4,524.18H408.4V528.18H395.4ZM417.6,524.18H432.7V528.18H417.6ZM393.4,533.37H406.7V537.37H393.4ZM414.9,533.37H430.4V537.37H414.9ZM395.4,542.56H408.4V546.56H395.4ZM417.6,542.56H432.7V546.56H417.6ZM389.5,551.75H402.7V555.75H389.5ZM411.5,551.75H426.7V555.75H411.5ZM393.4,560.94H406.7V564.94H393.4ZM414.9,560.94H430.4V564.94H414.9ZM393.4,570.13H406.7V574.13H393.4ZM414.9,570.13H430.4V574.13H414.9ZM395.4,579.32H408.4V583.32H395.4ZM417.6,579.32H432.7V583.32H417.6ZM395.4,588.51H408.4V592.51H395.4ZM417.6,588.51H432.7V592.51H417.6ZM393.4,597.7H406.7V601.7H393.4ZM414.9,597.7H430.4V601.7H414.9ZM395.4,606.89H408.4V610.89H395.4ZM417.6,606.89H432.7V610.89H417.6ZM393.4,616.08H406.7V620.08H393.4ZM414.9,616.08H430.4V620.08H414.9ZM393.4,625.27H406.7V629.27H393.4ZM414.9,625.27H430.4V629.27H414.9ZM393.4,634.46H406.7V638.46H393.4ZM414.9,634.46H430.4V638.46H414.9ZM393.4,643.65H406.7V647.65H393.4ZM414.9,643.65H430.4V647.65H414.9ZM393.4,652.84H406.7V656.84H393.4ZM414.9,652.84H430.4V656.84H414.9ZM393.4,662.03H406.7V666.03H393.4ZM414.9,662.03H430.4V666.03H414.9ZM397.3,671.22H406.4V675.22H397.3ZM414.9,671.22H430.4V675.22H414.9ZM393.4,680.41H406.7V684.41H393.4ZM414.9,680.41H430.4V684.41H414.9ZM390.1,689.6H403.6V693.6H390.1ZM411.3,689.6H427.6V693.6H411.3ZM385.9,698.79H397V702.79H385.9ZM464,698.79H473V702.79H464ZM393.1,707.98H400.8V711.98H393.1ZM453.2,707.98H462.9V711.98H453.2ZM390.1,717.17H397V721.17H390.1ZM464,717.17H473V721.17H464ZM385.9,726.36H397V730.36H385.9ZM464,726.36H473V730.36H464ZM385.9,735.55H397V739.55H385.9ZM464,735.55H473V739.55H464ZM389.2,744.74H397V748.74H389.2ZM449.3,744.74H458.9V748.74H449.3ZM390.1,753.93H397V757.93H390.1ZM464,753.93H473V757.93H464ZM392,763.12H400V767.12H392ZM452.1,763.12H462V767.12H452.1ZM391.1,772.31H402.8V776.31H391.1ZM455.2,772.31H464.7V776.31H455.2ZM385.9,781.5H397V785.5H385.9ZM464,781.5H473V785.5H464ZM389.9,790.69H396.8V794.69H389.9ZM464,790.69H473V794.69H464ZM392.7,799.88H399.5V803.88H392.7ZM452.5,799.88H461.8V803.88H452.5ZM388,809.07H399V813.07H388ZM441.5,809.07H448.9V813.07H441.5ZM386.4,818.26H396.8V822.26H386.4ZM464,818.26H473V822.26H464ZM386.4,827.45H396.8V831.45H386.4ZM464,827.45H473V831.45H464ZM386.4,836.64H396.8V840.64H386.4ZM464,836.64H473V840.64H464ZM390.5,845.83H396.8V849.83H390.5ZM464,845.83H473V849.83H464ZM386.4,855.02H396.8V859.02H386.4ZM464,855.02H473V859.02H464ZM386.4,864.21H396.8V868.21H386.4ZM464,864.21H473V868.21H464ZM390.5,873.4H396.8V877.4H390.5ZM464,873.4H473V877.4H464Z" fill="#159b8b" stroke="#0b2c2c" stroke-width="0.7"/>
<text x="375.6" y="510.4" font-size="9.2" text-anchor="end">Nipponbare</text>
<text x="368.2" y="519.59" font-size="9.2" text-anchor="end">Gla4</text>
<text x="368.2" y="528.78" font-size="9.2" text-anchor="end">GP100</text>
<text x="368.2" y="537.97" font-size="9.2" text-anchor="end">GP117</text>
<text x="368.2" y="547.16" font-size="9.2" text-anchor="end">GP119</text>
<text x="368.2" y="556.35" font-size="9.2" text-anchor="end">GP505</text>
<text x="368.2" y="565.54" font-size="9.2" text-anchor="end">GP523</text>
<text x="368.2" y="574.73" font-size="9.2" text-anchor="end">GP543</text>
<text x="368.2" y="583.92" font-size="9.2" text-anchor="end">GP58</text>
<text x="368.2" y="593.11" font-size="9.2" text-anchor="end">GP622</text>
<text x="368.2" y="602.3" font-size="9.2" text-anchor="end">GP635</text>
<text x="368.2" y="611.49" font-size="9.2" text-anchor="end">HP519</text>
<text x="368.2" y="620.68" font-size="9.2" text-anchor="end">W0157</text>
<text x="368.2" y="629.87" font-size="9.2" text-anchor="end">W0596</text>
<text x="368.2" y="639.06" font-size="9.2" text-anchor="end">W0639</text>
<text x="368.2" y="648.25" font-size="9.2" text-anchor="end">W1080</text>
<text x="368.2" y="657.44" font-size="9.2" text-anchor="end">W1677</text>
<text x="368.2" y="666.63" font-size="9.2" text-anchor="end">W1742</text>
<text x="368.2" y="675.82" font-size="9.2" text-anchor="end">W1970</text>
<text x="368.2" y="685.01" font-size="9.2" text-anchor="end">W2036</text>
<text x="368.2" y="694.2" font-size="9.2" text-anchor="end">W3037</text>
<text x="368.2" y="703.39" font-size="9.2" text-anchor="end">534M</text>
<text x="368.2" y="712.58" font-size="9.2" text-anchor="end">GP524</text>
<text x="368.2" y="721.77" font-size="9.2" text-anchor="end">W0164</text>
<text x="368.2" y="730.96" font-size="9.2" text-anchor="end">W0590</text>
<text x="368.2" y="740.15" font-size="9.2" text-anchor="end">W0632</text>
<text x="368.2" y="749.34" font-size="9.2" text-anchor="end">W1084</text>
<text x="368.2" y="758.53" font-size="9.2" text-anchor="end">W1117</text>
<text x="368.2" y="767.72" font-size="9.2" text-anchor="end">W1547</text>
<text x="368.2" y="776.91" font-size="9.2" text-anchor="end">W1619</text>
<text x="368.2" y="786.1" font-size="9.2" text-anchor="end">W1732</text>
<text x="368.2" y="795.29" font-size="9.2" text-anchor="end">W1736</text>
<text x="368.2" y="804.48" font-size="9.2" text-anchor="end">W1787</text>
<text x="368.2" y="813.67" font-size="9.2" text-anchor="end">W1865</text>
<text x="368.2" y="822.86" font-size="9.2" text-anchor="end">W2066</text>
<text x="368.2" y="832.05" font-size="9.2" text-anchor="end">W2283</text>
<text x="368.2" y="841.24" font-size="9.2" text-anchor="end">W2311</text>
<text x="368.2" y="850.43" font-size="9.2" text-anchor="end">W2319</text>
<text x="368.2" y="859.62" font-size="9.2" text-anchor="end">W3009</text>
<text x="368.2" y="868.81" font-size="9.2" text-anchor="end">W3033</text>
<text x="368.2" y="878" font-size="9.2" text-anchor="end">W3055</text>
</g>
<g id="panel_j">
<text transform="translate(584.7 476.2) scale(1.0 1)" x="0" y="0" font-size="13.2" font-weight="bold" font-family="'DejaVu Sans', 'Liberation Sans', sans-serif" fill="#000" stroke="#000" stroke-width="0.12" stroke-linejoin="round">j</text>
<text x="622.5" y="481.1" font-size="9.2">Group</text>
<rect x="622.2" y="486.3" width="13.5" height="3.5" fill="#1f3038"/>
<text x="639.4" y="491.6" font-size="9.2" font-style="italic">O. glaberrima</text>
<rect x="622.2" y="496.4" width="13.5" height="3.5" fill="#7d8a99"/>
<text x="639.4" y="501.7" font-size="9.2" font-style="italic">O. longistaminata</text>
<rect x="622.2" y="506.5" width="13.5" height="3.5" fill="#3f4c4b"/>
<text x="639.4" y="511.8" font-size="9.2" font-style="italic">O. meridionalis</text>
<rect x="705.7" y="486.3" width="13.5" height="3.5" fill="#c3c3c3"/>
<text x="722.9" y="491.6" font-size="9.2">Or-unspecific</text>
<rect x="715.5" y="496.4" width="13.5" height="3.5" fill="#0c0c8c"/>
<text x="732.7" y="501.7" font-size="9.2">Or-IIIb</text>
<rect x="715.5" y="506.5" width="13.5" height="3.5" fill="#6a35a6"/>
<text x="732.7" y="511.8" font-size="9.2">Or-II</text>
<rect x="783.9" y="486.3" width="13.5" height="3.5" fill="#f50a0a"/>
<text x="801.1" y="491.6" font-size="9.2">Or-Ia</text>
<rect x="783.9" y="496.4" width="13.5" height="3.5" fill="#f8bd1c"/>
<text x="801.1" y="501.7" font-size="9.2">Or-Ib</text>
<rect x="783.9" y="506.5" width="13.5" height="3.5" fill="#12a5ea"/>
<text x="801.1" y="511.8" font-size="9.2">Or-IIIa</text>
<rect x="834.5" y="486.3" width="13.5" height="3.5" fill="#b4f0dd"/>
<text x="851.7" y="491.6" font-size="9.2" font-style="italic">basmati</text>
<rect x="834.5" y="496.4" width="13.5" height="3.5" fill="#14ab57"/>
<text x="851.7" y="501.7" font-size="9.2" font-style="italic">japonica</text>
<rect x="834.5" y="506.5" width="13.5" height="3.5" fill="#b8990f"/>
<text x="851.7" y="511.8" font-size="9.2">Intermediate</text>
<rect x="899.9" y="486.3" width="13.5" height="3.5" fill="#1a4cf5"/>
<text x="917.1" y="491.6" font-size="9.2" font-style="italic">aus</text>
<rect x="899.9" y="496.4" width="13.5" height="3.5" fill="#f28fd4"/>
<text x="917.1" y="501.7" font-size="9.2" font-style="italic">indica</text>
<path d="M610.54,615.95A186.7,186.7 0 0 1 615.91,607.01L648.77,628.02A147.7,147.7 0 0 0 644.52,635.09Z" fill="#1f3038"/>
<path d="M615.91,607.01A186.7,186.7 0 0 1 617.87,604.01L650.32,625.65A147.7,147.7 0 0 0 648.77,628.02Z" fill="#3f4c4b"/>
<path d="M617.87,604.01A186.7,186.7 0 0 1 627.7,590.61L658.09,615.05A147.7,147.7 0 0 0 650.32,625.65Z" fill="#7d8a99"/>
<path d="M627.7,590.61A186.7,186.7 0 0 1 681.26,545.1L700.47,579.05A147.7,147.7 0 0 0 658.09,615.05Z" fill="#0c0c8c"/>
<path d="M681.26,545.1A186.7,186.7 0 0 1 866.83,546.08L847.27,579.82A147.7,147.7 0 0 0 700.47,579.05Z" fill="#12a5ea"/>
<path d="M866.83,546.08A186.7,186.7 0 0 1 872.14,549.27L851.47,582.34A147.7,147.7 0 0 0 847.27,579.82Z" fill="#b8990f"/>
<path d="M872.14,549.27A186.7,186.7 0 0 1 878.41,553.37L856.43,585.59A147.7,147.7 0 0 0 851.47,582.34Z" fill="#14ab57"/>
<path d="M878.41,553.37A186.7,186.7 0 0 1 885.56,558.49L862.09,589.64A147.7,147.7 0 0 0 856.43,585.59Z" fill="#b8990f"/>
<path d="M885.56,558.49A186.7,186.7 0 0 1 936.49,617.09L902.38,635.99A147.7,147.7 0 0 0 862.09,589.64Z" fill="#14ab57"/>
<path d="M936.49,617.09A186.7,186.7 0 0 1 939.4,622.55L904.68,640.32A147.7,147.7 0 0 0 902.38,635.99Z" fill="#b4f0dd"/>
<path d="M939.4,622.55A186.7,186.7 0 0 1 941.85,627.52L906.62,644.25A147.7,147.7 0 0 0 904.68,640.32Z" fill="#14ab57"/>
<path d="M941.85,627.52A186.7,186.7 0 0 1 910.63,833.97L881.92,807.57A147.7,147.7 0 0 0 906.62,644.25Z" fill="#6a35a6"/>
<path d="M910.63,833.97A186.7,186.7 0 0 1 799.83,892.39L794.27,853.79A147.7,147.7 0 0 0 881.92,807.57Z" fill="#c3c3c3"/>
<path d="M799.83,892.39A186.7,186.7 0 0 1 683.83,871.52L702.5,837.28A147.7,147.7 0 0 0 794.27,853.79Z" fill="#f8bd1c"/>
<path d="M683.83,871.52A186.7,186.7 0 0 1 637.55,835.88L665.88,809.08A147.7,147.7 0 0 0 702.5,837.28Z" fill="#f50a0a"/>
<path d="M637.55,835.88A186.7,186.7 0 0 1 633.8,831.8L662.92,805.85A147.7,147.7 0 0 0 665.88,809.08Z" fill="#f28fd4"/>
<path d="M633.8,831.8A186.7,186.7 0 0 1 629.14,826.36L659.23,801.55A147.7,147.7 0 0 0 662.92,805.85Z" fill="#b8990f"/>
<path d="M629.14,826.36A186.7,186.7 0 0 1 620.08,814.42L652.06,792.11A147.7,147.7 0 0 0 659.23,801.55Z" fill="#f28fd4"/>
<path d="M620.08,814.42A186.7,186.7 0 0 1 616.98,809.83L649.61,788.48A147.7,147.7 0 0 0 652.06,792.11Z" fill="#f50a0a"/>
<path d="M616.98,809.83A186.7,186.7 0 0 1 614.53,805.98L647.67,785.43A147.7,147.7 0 0 0 649.61,788.48Z" fill="#f28fd4"/>
<path d="M614.53,805.98A186.7,186.7 0 0 1 611.51,800.95L645.29,781.45A147.7,147.7 0 0 0 647.67,785.43Z" fill="#b8990f"/>
<path d="M611.51,800.95A186.7,186.7 0 0 1 608.2,794.96L642.67,776.71A147.7,147.7 0 0 0 645.29,781.45Z" fill="#f50a0a"/>
<path d="M608.2,794.96A186.7,186.7 0 0 1 602.77,783.84L638.37,767.91A147.7,147.7 0 0 0 642.67,776.71Z" fill="#f28fd4"/>
<path d="M602.77,783.84A186.7,186.7 0 0 1 597.87,771.76L634.5,758.36A147.7,147.7 0 0 0 638.37,767.91Z" fill="#f50a0a"/>
<path d="M597.87,771.76A186.7,186.7 0 0 1 587.24,691L626.08,694.47A147.7,147.7 0 0 0 634.5,758.36Z" fill="#f28fd4"/>
<path d="M587.24,691A186.7,186.7 0 0 1 587.93,684.52L626.63,689.34A147.7,147.7 0 0 0 626.08,694.47Z" fill="#1a4cf5"/>
<path d="M587.93,684.52A186.7,186.7 0 0 1 598.9,640.69L635.31,654.67A147.7,147.7 0 0 0 626.63,689.34Z" fill="#f28fd4"/>
<path d="M626.78,625.27A167.98,167.98 0 0 1 629.89,619.96L644.72,629.03A150.6,150.6 0 0 0 641.93,633.78ZM626.04,617.96A172.32,172.32 0 0 1 629.42,612.63L647.54,624.6A150.6,150.6 0 0 0 644.58,629.25ZM630.18,613.49A171.2,171.2 0 0 1 633.72,608.32L650.51,620.27A150.6,150.6 0 0 0 647.39,624.82ZM633.55,608.57A171.2,171.2 0 0 1 637.27,603.52L653.63,616.04A150.6,150.6 0 0 0 650.36,620.48ZM637.09,603.76A171.2,171.2 0 0 1 640.98,598.84L656.89,611.93A150.6,150.6 0 0 0 653.47,616.25ZM640.79,599.08A171.2,171.2 0 0 1 644.85,594.3L660.3,607.93A150.6,150.6 0 0 0 656.72,612.13ZM644.66,594.53A171.2,171.2 0 0 1 648.88,589.9L663.84,604.06A150.6,150.6 0 0 0 660.12,608.13ZM648.68,590.11A171.2,171.2 0 0 1 653.06,585.63L667.52,600.31A150.6,150.6 0 0 0 663.66,604.25ZM652.85,585.84A171.2,171.2 0 0 1 657.38,581.52L671.32,596.69A150.6,150.6 0 0 0 667.33,600.49ZM657.16,581.72A171.2,171.2 0 0 1 661.85,577.56L675.25,593.21A150.6,150.6 0 0 0 671.13,596.87ZM661.62,577.75A171.2,171.2 0 0 1 666.45,573.76L679.3,589.86A150.6,150.6 0 0 0 675.05,593.38ZM666.22,573.94A171.2,171.2 0 0 1 671.18,570.12L683.46,586.66A150.6,150.6 0 0 0 679.09,590.03ZM670.94,570.3A171.2,171.2 0 0 1 676.04,566.64L687.73,583.61A150.6,150.6 0 0 0 683.25,586.82ZM675.79,566.81A171.2,171.2 0 0 1 681.01,563.34L692.1,580.7A150.6,150.6 0 0 0 687.51,583.75ZM680.76,563.5A171.2,171.2 0 0 1 686.09,560.22L696.57,577.95A150.6,150.6 0 0 0 691.88,580.84ZM685.84,560.37A171.2,171.2 0 0 1 691.28,557.27L701.14,575.36A150.6,150.6 0 0 0 696.35,578.08ZM691.02,557.41A171.2,171.2 0 0 1 696.57,554.51L705.79,572.93A150.6,150.6 0 0 0 700.91,575.48ZM696.31,554.64A171.2,171.2 0 0 1 701.96,551.93L710.53,570.66A150.6,150.6 0 0 0 705.56,573.04ZM701.69,552.05A171.2,171.2 0 0 1 707.43,549.54L715.34,568.56A150.6,150.6 0 0 0 710.29,570.77ZM707.15,549.65A171.2,171.2 0 0 1 712.98,547.34L720.22,566.63A150.6,150.6 0 0 0 715.1,568.66ZM712.7,547.45A171.2,171.2 0 0 1 718.6,545.34L725.17,564.86A150.6,150.6 0 0 0 719.98,566.72ZM718.32,545.44A171.2,171.2 0 0 1 724.29,543.54L730.18,563.28A150.6,150.6 0 0 0 724.92,564.95ZM724,543.62A171.2,171.2 0 0 1 730.04,541.93L735.23,561.86A150.6,150.6 0 0 0 729.92,563.35ZM729.75,542.01A171.2,171.2 0 0 1 735.84,540.53L740.34,560.63A150.6,150.6 0 0 0 734.98,561.93ZM735.55,540.59A171.2,171.2 0 0 1 741.69,539.33L745.48,559.57A150.6,150.6 0 0 0 740.08,560.69ZM741.39,539.38A171.2,171.2 0 0 1 747.57,538.33L750.66,558.7A150.6,150.6 0 0 0 745.22,559.62ZM747.28,538.37A171.2,171.2 0 0 1 753.49,537.54L755.86,558A150.6,150.6 0 0 0 750.4,558.74ZM753.19,537.57A171.2,171.2 0 0 1 759.43,536.95L761.09,557.49A150.6,150.6 0 0 0 755.6,558.03ZM759.13,536.98A171.2,171.2 0 0 1 765.39,536.58L766.33,557.16A150.6,150.6 0 0 0 760.82,557.51ZM765.09,536.59A171.2,171.2 0 0 1 771.35,536.41L771.58,557.01A150.6,150.6 0 0 0 766.06,557.17ZM771.05,536.41A171.2,171.2 0 0 1 777.32,536.45L776.83,557.04A150.6,150.6 0 0 0 771.31,557.01ZM777.02,536.44A171.2,171.2 0 0 1 783.29,536.7L782.07,557.26A150.6,150.6 0 0 0 776.56,557.04ZM782.99,536.68A171.2,171.2 0 0 1 789.24,537.15L787.31,557.66A150.6,150.6 0 0 0 781.81,557.25ZM788.94,537.13A171.2,171.2 0 0 1 795.17,537.82L792.53,558.25A150.6,150.6 0 0 0 787.05,557.64ZM794.87,537.78A171.2,171.2 0 0 1 801.07,538.68L797.72,559.01A150.6,150.6 0 0 0 792.26,558.21ZM800.78,538.64A171.2,171.2 0 0 1 806.95,539.76L802.89,559.95A150.6,150.6 0 0 0 797.46,558.97ZM806.65,539.7A171.2,171.2 0 0 1 812.78,541.04L808.01,561.08A150.6,150.6 0 0 0 802.63,559.9ZM812.49,540.97A171.2,171.2 0 0 1 818.56,542.52L813.1,562.38A150.6,150.6 0 0 0 807.76,561.02ZM818.27,542.44A171.2,171.2 0 0 1 824.29,544.2L818.14,563.86A150.6,150.6 0 0 0 812.85,562.31ZM824,544.11A171.2,171.2 0 0 1 829.95,546.08L823.12,565.51A150.6,150.6 0 0 0 817.89,563.78ZM829.67,545.98A171.2,171.2 0 0 1 835.55,548.16L828.04,567.34A150.6,150.6 0 0 0 822.87,565.43ZM835.27,548.05A171.2,171.2 0 0 1 841.07,550.43L832.9,569.34A150.6,150.6 0 0 0 827.8,567.25ZM840.79,550.31A171.2,171.2 0 0 1 846.5,552.89L837.68,571.5A150.6,150.6 0 0 0 832.66,569.23ZM846.23,552.76A171.2,171.2 0 0 1 851.85,555.54L842.39,573.83A150.6,150.6 0 0 0 837.45,571.39ZM851.59,555.4A171.2,171.2 0 0 1 857.11,558.37L847.01,576.33A150.6,150.6 0 0 0 842.16,573.71ZM857.04,557.88A171.6,171.6 0 0 1 862.46,561.05L851.54,578.98A150.6,150.6 0 0 0 846.78,576.2ZM862.21,560.89A171.6,171.6 0 0 1 867.52,564.25L855.98,581.79A150.6,150.6 0 0 0 851.32,578.84ZM867.27,564.09A171.6,171.6 0 0 1 872.46,567.63L860.31,584.75A150.6,150.6 0 0 0 855.76,581.65ZM872.21,567.45A171.6,171.6 0 0 1 877.28,571.17L864.54,587.86A150.6,150.6 0 0 0 860.1,584.6ZM876.82,571.27A171.24,171.24 0 0 1 881.74,575.16L868.66,591.12A150.6,150.6 0 0 0 864.33,587.7ZM881.51,574.97A171.24,171.24 0 0 1 886.29,579.02L872.66,594.52A150.6,150.6 0 0 0 868.46,590.95ZM885.59,579.37A170.52,170.52 0 0 1 890.21,583.57L876.55,598.05A150.6,150.6 0 0 0 872.47,594.35ZM890.49,582.84A171.24,171.24 0 0 1 894.98,587.22L880.3,601.72A150.6,150.6 0 0 0 876.35,597.87ZM892.71,589.04A168.34,168.34 0 0 1 896.97,593.5L883.93,605.52A150.6,150.6 0 0 0 880.12,601.54ZM895.36,594.59A166.41,166.41 0 0 1 899.41,599.14L887.42,609.44A150.6,150.6 0 0 0 883.75,605.33ZM898.77,599.31A165.82,165.82 0 0 1 902.65,603.98L890.77,613.49A150.6,150.6 0 0 0 887.25,609.24ZM899.36,606.24A161.84,161.84 0 0 1 902.99,610.93L893.98,617.64A150.6,150.6 0 0 0 890.61,613.28ZM905.72,608.53A165.46,165.46 0 0 1 909.26,613.45L897.04,621.91A150.6,150.6 0 0 0 893.82,617.43ZM905.83,615.48A161.48,161.48 0 0 1 909.11,620.4L899.95,626.27A150.6,150.6 0 0 0 896.89,621.69ZM910.47,619.19A163.28,163.28 0 0 1 913.62,624.27L902.71,630.74A150.6,150.6 0 0 0 899.81,626.05ZM912.85,624.4A162.56,162.56 0 0 1 915.8,629.56L905.31,635.3A150.6,150.6 0 0 0 902.58,630.52ZM929.28,621.83A178.1,178.1 0 0 1 932.32,627.6L907.75,639.95A150.6,150.6 0 0 0 905.19,635.07ZM932.18,627.33A178.1,178.1 0 0 1 935.01,633.2L910.03,644.69A150.6,150.6 0 0 0 907.63,639.72ZM928.62,635.81A171.2,171.2 0 0 1 931.14,641.55L912.14,649.49A150.6,150.6 0 0 0 909.92,644.45ZM931.03,641.27A171.2,171.2 0 0 1 933.35,647.09L914.08,654.37A150.6,150.6 0 0 0 912.04,649.25ZM933.24,646.81A171.2,171.2 0 0 1 935.36,652.71L915.85,659.32A150.6,150.6 0 0 0 913.99,654.13ZM935.27,652.43A171.2,171.2 0 0 1 937.18,658.4L917.45,664.32A150.6,150.6 0 0 0 915.77,659.07ZM937.09,658.11A171.2,171.2 0 0 1 938.79,664.14L918.87,669.37A150.6,150.6 0 0 0 917.37,664.07ZM938.72,663.85A171.2,171.2 0 0 1 940.21,669.94L920.11,674.47A150.6,150.6 0 0 0 918.8,669.12ZM940.14,669.65A171.2,171.2 0 0 1 941.42,675.79L921.18,679.62A150.6,150.6 0 0 0 920.05,674.22ZM941.36,675.49A171.2,171.2 0 0 1 942.43,681.67L922.06,684.79A150.6,150.6 0 0 0 921.13,679.36ZM942.38,681.38A171.2,171.2 0 0 1 943.23,687.59L922.77,689.99A150.6,150.6 0 0 0 922.02,684.53ZM943.19,687.29A171.2,171.2 0 0 1 943.82,693.52L923.29,695.22A150.6,150.6 0 0 0 922.74,689.73ZM943.8,693.23A171.2,171.2 0 0 1 944.21,699.48L923.63,700.46A150.6,150.6 0 0 0 923.27,694.96ZM944.19,699.18A171.2,171.2 0 0 1 944.39,705.45L923.79,705.71A150.6,150.6 0 0 0 923.62,700.2ZM944.38,705.15A171.2,171.2 0 0 1 944.36,711.42L923.76,710.96A150.6,150.6 0 0 0 923.78,705.44ZM944.36,711.12A171.2,171.2 0 0 1 944.12,717.38L923.55,716.2A150.6,150.6 0 0 0 923.77,710.69ZM944.14,717.08A171.2,171.2 0 0 1 943.68,723.33L923.16,721.44A150.6,150.6 0 0 0 923.57,715.94ZM943.7,723.04A171.2,171.2 0 0 1 943.02,729.27L922.59,726.66A150.6,150.6 0 0 0 923.19,721.18ZM943.06,728.97A171.2,171.2 0 0 1 942.17,735.17L921.83,731.85A150.6,150.6 0 0 0 922.62,726.4ZM942.21,734.88A171.2,171.2 0 0 1 941.1,741.05L920.9,737.02A150.6,150.6 0 0 0 921.88,731.6ZM941.16,740.75A171.2,171.2 0 0 1 939.83,746.88L919.78,742.15A150.6,150.6 0 0 0 920.95,736.76ZM939.9,746.59A171.2,171.2 0 0 1 938.36,752.66L918.49,747.24A150.6,150.6 0 0 0 919.84,741.9ZM938.44,752.38A171.2,171.2 0 0 1 936.69,758.39L917.02,752.28A150.6,150.6 0 0 0 918.56,746.99ZM936.78,758.11A171.2,171.2 0 0 1 934.82,764.06L915.37,757.27A150.6,150.6 0 0 0 917.1,752.03ZM934.92,763.78A171.2,171.2 0 0 1 932.75,769.66L913.56,762.19A150.6,150.6 0 0 0 915.46,757.02ZM932.86,769.38A171.2,171.2 0 0 1 930.49,775.19L911.57,767.05A150.6,150.6 0 0 0 913.65,761.95ZM930.61,774.91A171.2,171.2 0 0 1 928.04,780.63L909.41,771.84A150.6,150.6 0 0 0 911.67,766.81ZM928.17,780.36A171.2,171.2 0 0 1 925.4,785.98L907.09,776.55A150.6,150.6 0 0 0 909.52,771.6ZM925.54,785.72A171.2,171.2 0 0 1 922.58,791.24L904.6,781.18A150.6,150.6 0 0 0 907.21,776.32ZM922.72,790.98A171.2,171.2 0 0 1 919.57,796.4L901.96,785.71A150.6,150.6 0 0 0 904.73,780.95ZM919.73,796.14A171.2,171.2 0 0 1 916.39,801.45L899.16,790.15A150.6,150.6 0 0 0 902.1,785.49ZM916.55,801.2A171.2,171.2 0 0 1 913.03,806.38L896.2,794.49A150.6,150.6 0 0 0 899.3,789.93ZM913.2,806.14A171.2,171.2 0 0 1 909.5,811.19L893.1,798.73A150.6,150.6 0 0 0 896.35,794.28ZM909.68,810.96A171.2,171.2 0 0 1 905.81,815.88L889.85,802.85A150.6,150.6 0 0 0 893.26,798.52ZM905.99,815.65A171.2,171.2 0 0 1 901.95,820.44L886.46,806.86A150.6,150.6 0 0 0 890.02,802.65ZM902.15,820.21A171.2,171.2 0 0 1 897.94,824.86L882.93,810.75A150.6,150.6 0 0 0 886.63,806.66ZM898.14,824.64A171.2,171.2 0 0 1 893.78,829.14L879.27,814.51A150.6,150.6 0 0 0 883.11,810.56ZM893.99,828.93A171.2,171.2 0 0 1 889.47,833.27L875.48,818.14A150.6,150.6 0 0 0 879.45,814.33ZM889.68,833.06A171.2,171.2 0 0 1 885.01,837.24L871.56,821.64A150.6,150.6 0 0 0 875.67,817.97ZM885.24,837.05A171.2,171.2 0 0 1 880.43,841.06L867.52,825A150.6,150.6 0 0 0 871.76,821.47ZM880.66,840.87A171.2,171.2 0 0 1 875.71,844.72L863.37,828.22A150.6,150.6 0 0 0 867.73,824.84ZM875.95,844.54A171.2,171.2 0 0 1 870.87,848.21L859.12,831.29A150.6,150.6 0 0 0 863.59,828.06ZM871.11,848.04A171.2,171.2 0 0 1 865.91,851.53L854.75,834.21A150.6,150.6 0 0 0 859.33,831.14ZM866.16,851.37A171.2,171.2 0 0 1 860.83,854.67L850.29,836.97A150.6,150.6 0 0 0 854.97,834.07ZM861.09,854.52A171.2,171.2 0 0 1 855.65,857.64L845.73,839.58A150.6,150.6 0 0 0 850.51,836.84ZM855.91,857.49A171.2,171.2 0 0 1 850.37,860.42L841.09,842.03A150.6,150.6 0 0 0 845.96,839.46ZM850.64,860.28A171.2,171.2 0 0 1 845,863.02L836.36,844.32A150.6,150.6 0 0 0 841.32,841.91ZM845.27,862.89A171.2,171.2 0 0 1 839.54,865.43L831.55,846.43A150.6,150.6 0 0 0 836.6,844.21ZM839.81,865.31A171.2,171.2 0 0 1 833.99,867.64L826.68,848.38A150.6,150.6 0 0 0 831.8,846.33ZM834.27,867.54A171.2,171.2 0 0 1 828.38,869.66L821.74,850.16A150.6,150.6 0 0 0 826.92,848.29ZM828.66,869.57A171.2,171.2 0 0 1 822.7,871.49L816.74,851.77A150.6,150.6 0 0 0 821.99,850.08ZM822.98,871.4A171.2,171.2 0 0 1 816.95,873.11L811.69,853.2A150.6,150.6 0 0 0 816.99,851.69ZM817.24,873.04A171.2,171.2 0 0 1 811.16,874.54L806.59,854.45A150.6,150.6 0 0 0 811.94,853.13ZM811.45,874.47A171.2,171.2 0 0 1 805.31,875.76L801.45,855.53A150.6,150.6 0 0 0 806.84,854.39ZM805.61,875.7A171.2,171.2 0 0 1 799.43,876.78L796.28,856.42A150.6,150.6 0 0 0 801.71,855.48ZM799.73,876.73A171.2,171.2 0 0 1 793.52,877.59L791.07,857.14A150.6,150.6 0 0 0 796.53,856.38ZM793.81,877.55A171.2,171.2 0 0 1 787.58,878.2L785.85,857.67A150.6,150.6 0 0 0 791.33,857.1ZM787.88,878.17A171.2,171.2 0 0 1 781.62,878.59L780.61,858.02A150.6,150.6 0 0 0 786.11,857.65ZM781.92,878.58A171.2,171.2 0 0 1 775.66,878.78L775.36,858.18A150.6,150.6 0 0 0 780.87,858ZM775.96,878.78A171.2,171.2 0 0 1 769.69,878.76L770.11,858.17A150.6,150.6 0 0 0 775.63,858.18ZM769.99,878.77A171.2,171.2 0 0 1 763.72,878.54L764.86,857.97A150.6,150.6 0 0 0 770.37,858.17ZM764.02,878.55A171.2,171.2 0 0 1 757.77,878.1L759.63,857.59A150.6,150.6 0 0 0 765.13,857.98ZM758.07,878.13A171.2,171.2 0 0 1 751.84,877.46L754.41,857.02A150.6,150.6 0 0 0 759.89,857.61ZM752.13,877.5A171.2,171.2 0 0 1 745.93,876.61L749.21,856.28A150.6,150.6 0 0 0 754.67,857.06ZM746.22,876.66A171.2,171.2 0 0 1 740.05,875.56L744.04,855.35A150.6,150.6 0 0 0 749.47,856.32ZM740.35,875.62A171.2,171.2 0 0 1 734.22,874.3L738.91,854.24A150.6,150.6 0 0 0 744.3,855.4ZM734.51,874.37A171.2,171.2 0 0 1 728.43,872.84L733.82,852.96A150.6,150.6 0 0 0 739.17,854.3ZM728.72,872.92A171.2,171.2 0 0 1 722.7,871.18L728.77,851.5A150.6,150.6 0 0 0 734.07,853.03ZM722.98,871.27A171.2,171.2 0 0 1 717.03,869.32L723.79,849.86A150.6,150.6 0 0 0 729.03,851.58ZM717.31,869.42A171.2,171.2 0 0 1 711.42,867.27L718.86,848.05A150.6,150.6 0 0 0 724.03,849.95ZM711.7,867.37A171.2,171.2 0 0 1 705.89,865.01L713.99,846.07A150.6,150.6 0 0 0 719.1,848.15ZM706.17,865.13A171.2,171.2 0 0 1 700.45,862.57L709.2,843.93A150.6,150.6 0 0 0 714.23,846.18ZM700.72,862.7A171.2,171.2 0 0 1 695.09,859.94L704.49,841.61A150.6,150.6 0 0 0 709.44,844.04ZM695.36,860.08A171.2,171.2 0 0 1 689.83,857.13L699.86,839.13A150.6,150.6 0 0 0 704.72,841.73ZM690.09,857.27A171.2,171.2 0 0 1 684.66,854.13L695.32,836.5A150.6,150.6 0 0 0 700.09,839.26ZM684.92,854.28A171.2,171.2 0 0 1 679.61,850.95L690.87,833.7A150.6,150.6 0 0 0 695.54,836.63ZM679.86,851.12A171.2,171.2 0 0 1 674.67,847.6L686.53,830.76A150.6,150.6 0 0 0 691.09,833.85ZM674.91,847.78A171.2,171.2 0 0 1 669.85,844.08L682.29,827.66A150.6,150.6 0 0 0 686.74,830.91ZM670.09,844.27A171.2,171.2 0 0 1 665.15,840.4L678.16,824.42A150.6,150.6 0 0 0 682.5,827.82ZM665.39,840.59A171.2,171.2 0 0 1 660.59,836.55L674.14,821.04A150.6,150.6 0 0 0 678.36,824.59ZM660.82,836.75A171.2,171.2 0 0 1 656.16,832.55L670.25,817.51A150.6,150.6 0 0 0 674.34,821.21ZM656.38,832.75A171.2,171.2 0 0 1 651.88,828.39L666.48,813.86A150.6,150.6 0 0 0 670.44,817.69ZM651.81,828.88A171.6,171.6 0 0 1 647.45,824.36L662.84,810.07A150.6,150.6 0 0 0 666.66,814.04ZM647.66,824.58A171.6,171.6 0 0 1 643.46,819.9L659.33,806.16A150.6,150.6 0 0 0 663.02,810.27ZM643.66,820.13A171.6,171.6 0 0 1 639.62,815.31L655.97,802.13A150.6,150.6 0 0 0 659.51,806.36ZM641.78,813.95A169.06,169.06 0 0 1 637.98,809.07L652.74,797.99A150.6,150.6 0 0 0 656.13,802.34ZM636.42,810.61A171.24,171.24 0 0 1 632.74,805.54L649.66,793.74A150.6,150.6 0 0 0 652.9,798.2ZM636.46,803.3A166.9,166.9 0 0 1 633.05,798.23L646.74,789.38A150.6,150.6 0 0 0 649.82,793.95ZM632.6,798.87A167.62,167.62 0 0 1 629.36,793.66L643.96,784.92A150.6,150.6 0 0 0 646.88,789.6ZM626.1,795.95A171.6,171.6 0 0 1 622.96,790.51L641.35,780.37A150.6,150.6 0 0 0 644.1,785.14ZM623.42,790.6A171.24,171.24 0 0 1 620.49,785.06L638.89,775.73A150.6,150.6 0 0 0 641.47,780.6ZM620.3,785.49A171.6,171.6 0 0 1 617.55,779.84L636.6,771A150.6,150.6 0 0 0 639.01,775.96ZM614.73,781.49A174.85,174.85 0 0 1 612.13,775.64L634.47,766.2A150.6,150.6 0 0 0 636.71,771.24ZM616.24,774.23A170.52,170.52 0 0 1 613.91,768.44L632.51,761.33A150.6,150.6 0 0 0 634.57,766.44ZM613,769.1A171.6,171.6 0 0 1 610.86,763.2L630.72,756.39A150.6,150.6 0 0 0 632.6,761.58ZM619.16,760.66A162.92,162.92 0 0 1 617.32,754.98L629.11,751.4A150.6,150.6 0 0 0 630.81,756.64ZM613.94,756.31A166.54,166.54 0 0 1 612.27,750.45L627.67,746.35A150.6,150.6 0 0 0 629.19,751.65ZM612.34,750.73A166.54,166.54 0 0 1 610.87,744.81L626.41,741.25A150.6,150.6 0 0 0 627.74,746.6ZM607.07,745.99A170.51,170.51 0 0 1 605.77,739.88L625.32,736.11A150.6,150.6 0 0 0 626.47,741.51ZM611.26,739.12A164.98,164.98 0 0 1 610.22,733.17L624.42,730.94A150.6,150.6 0 0 0 625.37,736.37ZM608.72,733.7A166.54,166.54 0 0 1 607.88,727.66L623.7,725.74A150.6,150.6 0 0 0 624.46,731.2ZM610.43,727.64A164,164 0 0 1 609.8,721.67L623.16,720.52A150.6,150.6 0 0 0 623.73,726ZM613.07,721.67A160.75,160.75 0 0 1 612.66,715.8L622.8,715.28A150.6,150.6 0 0 0 623.18,720.78ZM610.14,716.21A163.29,163.29 0 0 1 609.94,710.24L622.62,710.03A150.6,150.6 0 0 0 622.81,715.54ZM602.24,710.66A170.99,170.99 0 0 1 602.24,704.4L622.63,704.78A150.6,150.6 0 0 0 622.62,710.29ZM609.94,704.83A163.29,163.29 0 0 1 610.15,698.85L622.82,699.53A150.6,150.6 0 0 0 622.62,705.04ZM613.03,699.29A160.39,160.39 0 0 1 613.44,693.43L623.19,694.3A150.6,150.6 0 0 0 622.8,699.8ZM610.89,693.49A162.92,162.92 0 0 1 611.51,687.56L623.74,689.07A150.6,150.6 0 0 0 623.17,694.56ZM607.18,687.32A167.26,167.26 0 0 1 608.03,681.25L624.48,683.88A150.6,150.6 0 0 0 623.71,689.34ZM610.48,681.93A164.73,164.73 0 0 1 611.53,675.99L625.4,678.71A150.6,150.6 0 0 0 624.44,684.14ZM609.34,675.86A166.9,166.9 0 0 1 610.62,669.89L626.49,673.57A150.6,150.6 0 0 0 625.35,678.96ZM608.79,669.77A168.71,168.71 0 0 1 610.28,663.77L627.77,668.48A150.6,150.6 0 0 0 626.44,673.83ZM618.94,666.39A159.67,159.67 0 0 1 620.55,660.77L629.22,663.43A150.6,150.6 0 0 0 627.7,668.73ZM610.78,658.09A169.8,169.8 0 0 1 612.71,652.17L630.85,658.44A150.6,150.6 0 0 0 629.15,663.68ZM615.35,653.39A166.9,166.9 0 0 1 617.44,647.65L632.65,653.51A150.6,150.6 0 0 0 630.76,658.69Z" fill="#fff"/>
<g font-size="6.5" fill="#111" stroke="#fff" stroke-width="1.1" paint-order="stroke" stroke-linejoin="round"><text transform="translate(642.87 631.14) rotate(30.4)" y="2.2" text-anchor="end">CG14</text><text transform="translate(645.62 626.64) rotate(32.4)" y="2.2" text-anchor="end">OM195</text><text transform="translate(648.52 622.25) rotate(34.39)" y="2.2" text-anchor="end">OL320</text><text transform="translate(651.57 617.95) rotate(36.39)" y="2.2" text-anchor="end">OL325</text><text transform="translate(654.77 613.77) rotate(38.39)" y="2.2" text-anchor="end">OL330</text><text transform="translate(658.11 609.69) rotate(40.39)" y="2.2" text-anchor="end">W0629</text><text transform="translate(661.59 605.74) rotate(42.39)" y="2.2" text-anchor="end">W0982</text><text transform="translate(665.21 601.91) rotate(44.38)" y="2.2" text-anchor="end">W0948</text><text transform="translate(668.96 598.21) rotate(46.38)" y="2.2" text-anchor="end">W0193</text><text transform="translate(672.84 594.65) rotate(48.38)" y="2.2" text-anchor="end">W0431</text><text transform="translate(676.84 591.22) rotate(50.38)" y="2.2" text-anchor="end">W1556</text><text transform="translate(680.95 587.93) rotate(52.37)" y="2.2" text-anchor="end">W0696</text><text transform="translate(685.18 584.78) rotate(54.37)" y="2.2" text-anchor="end">W1822</text><text transform="translate(689.52 581.79) rotate(56.37)" y="2.2" text-anchor="end">W2662</text><text transform="translate(693.95 578.95) rotate(58.37)" y="2.2" text-anchor="end">W1107</text><text transform="translate(698.48 576.27) rotate(60.36)" y="2.2" text-anchor="end">W3165</text><text transform="translate(703.11 573.74) rotate(62.36)" y="2.2" text-anchor="end">W2770</text><text transform="translate(707.82 571.38) rotate(64.36)" y="2.2" text-anchor="end">W2308</text><text transform="translate(712.61 569.18) rotate(66.36)" y="2.2" text-anchor="end">GP606</text><text transform="translate(717.47 567.15) rotate(68.36)" y="2.2" text-anchor="end">GP761</text><text transform="translate(722.4 565.3) rotate(70.35)" y="2.2" text-anchor="end">W1384</text><text transform="translate(727.39 563.61) rotate(72.35)" y="2.2" text-anchor="end">W0845</text><text transform="translate(732.44 562.1) rotate(74.35)" y="2.2" text-anchor="end">W1827</text><text transform="translate(737.53 560.77) rotate(76.35)" y="2.2" text-anchor="end">W2105</text><text transform="translate(742.67 559.62) rotate(78.34)" y="2.2" text-anchor="end">W1550</text><text transform="translate(747.85 558.64) rotate(80.34)" y="2.2" text-anchor="end">W2450</text><text transform="translate(753.06 557.85) rotate(82.34)" y="2.2" text-anchor="end">W0709</text><text transform="translate(758.29 557.24) rotate(84.34)" y="2.2" text-anchor="end">W1459</text><text transform="translate(763.54 556.81) rotate(86.34)" y="2.2" text-anchor="end">W1521</text><text transform="translate(768.8 556.56) rotate(88.33)" y="2.2" text-anchor="end">W1564</text><text transform="translate(774.07 556.5) rotate(-89.67)" y="2.2">W0906</text><text transform="translate(779.34 556.62) rotate(-87.67)" y="2.2">W0230</text><text transform="translate(784.6 556.93) rotate(-85.67)" y="2.2">W2758</text><text transform="translate(789.84 557.42) rotate(-83.68)" y="2.2">W0106</text><text transform="translate(795.07 558.09) rotate(-81.68)" y="2.2">W2311</text><text transform="translate(800.27 558.94) rotate(-79.68)" y="2.2">W0938</text><text transform="translate(805.43 559.98) rotate(-77.68)" y="2.2">GP602</text><text transform="translate(810.56 561.19) rotate(-75.69)" y="2.2">W1579</text><text transform="translate(815.64 562.58) rotate(-73.69)" y="2.2">W2977</text><text transform="translate(820.67 564.15) rotate(-71.69)" y="2.2">W0113</text><text transform="translate(825.64 565.89) rotate(-69.69)" y="2.2">W1669</text><text transform="translate(830.55 567.81) rotate(-67.69)" y="2.2">W1109</text><text transform="translate(835.39 569.89) rotate(-65.7)" y="2.2">W1732</text><text transform="translate(840.15 572.14) rotate(-63.7)" y="2.2">W2332</text><text transform="translate(844.83 574.56) rotate(-61.7)" y="2.2">W1379</text><text transform="translate(849.43 577.14) rotate(-59.7)" y="2.2">W1492</text><text transform="translate(853.93 579.87) rotate(-57.71)" y="2.2">W2021</text><text transform="translate(858.33 582.76) rotate(-55.71)" y="2.2">W1993</text><text transform="translate(862.63 585.81) rotate(-53.71)" y="2.2">W1393</text><text transform="translate(866.82 589) rotate(-51.71)" y="2.2">GP551</text><text transform="translate(870.9 592.34) rotate(-49.71)" y="2.2">GP772</text><text transform="translate(874.86 595.81) rotate(-47.72)" y="2.2">KY131</text><text transform="translate(878.69 599.42) rotate(-45.72)" y="2.2">LG31A</text><text transform="translate(882.4 603.17) rotate(-43.72)" y="2.2">DHX2</text><text transform="translate(885.98 607.04) rotate(-41.72)" y="2.2">ZH11</text><text transform="translate(889.41 611.03) rotate(-39.73)" y="2.2">Kosh</text><text transform="translate(892.71 615.14) rotate(-37.73)" y="2.2">NIP</text><text transform="translate(895.86 619.36) rotate(-35.73)" y="2.2">2428</text><text transform="translate(898.86 623.69) rotate(-33.73)" y="2.2">LJ1</text><text transform="translate(901.71 628.12) rotate(-31.74)" y="2.2">HZ5</text><text transform="translate(904.4 632.65) rotate(-29.74)" y="2.2">NJ1</text><text transform="translate(906.93 637.27) rotate(-27.74)" y="2.2">Basmati1</text><text transform="translate(909.3 641.97) rotate(-25.74)" y="2.2">Basmati2</text><text transform="translate(911.51 646.76) rotate(-23.74)" y="2.2">W1954</text><text transform="translate(913.55 651.62) rotate(-21.75)" y="2.2">W3037</text><text transform="translate(915.41 656.54) rotate(-19.75)" y="2.2">W2200</text><text transform="translate(917.11 661.53) rotate(-17.75)" y="2.2">W1568</text><text transform="translate(918.62 666.58) rotate(-15.75)" y="2.2">W1659</text><text transform="translate(919.97 671.67) rotate(-13.76)" y="2.2">W1484</text><text transform="translate(921.13 676.81) rotate(-11.76)" y="2.2">W1553</text><text transform="translate(922.11 681.98) rotate(-9.76)" y="2.2">W0841</text><text transform="translate(922.92 687.19) rotate(-7.76)" y="2.2">GP669</text><text transform="translate(923.54 692.42) rotate(-5.76)" y="2.2">W1795</text><text transform="translate(923.97 697.67) rotate(-3.77)" y="2.2">GP554</text><text transform="translate(924.23 702.93) rotate(-1.77)" y="2.2">W2682</text><text transform="translate(924.3 708.2) rotate(0.23)" y="2.2">W1995</text><text transform="translate(924.19 713.47) rotate(2.23)" y="2.2">W2651</text><text transform="translate(923.89 718.73) rotate(4.22)" y="2.2">W0312</text><text transform="translate(923.41 723.98) rotate(6.22)" y="2.2">W1641</text><text transform="translate(922.75 729.2) rotate(8.22)" y="2.2">W1124</text><text transform="translate(921.9 734.4) rotate(10.22)" y="2.2">W2069</text><text transform="translate(920.88 739.57) rotate(12.21)" y="2.2">W0639</text><text transform="translate(919.68 744.7) rotate(14.21)" y="2.2">W0914</text><text transform="translate(918.29 749.78) rotate(16.21)" y="2.2">W3049</text><text transform="translate(916.73 754.81) rotate(18.21)" y="2.2">GP127</text><text transform="translate(915 759.79) rotate(20.21)" y="2.2">W0218</text><text transform="translate(913.1 764.7) rotate(22.2)" y="2.2">W1229</text><text transform="translate(911.02 769.54) rotate(24.2)" y="2.2">W0634</text><text transform="translate(908.78 774.31) rotate(26.2)" y="2.2">W0781</text><text transform="translate(906.37 778.99) rotate(28.2)" y="2.2">GP703</text><text transform="translate(903.8 783.59) rotate(30.19)" y="2.2">W0761</text><text transform="translate(901.07 788.1) rotate(32.19)" y="2.2">W1599</text><text transform="translate(898.19 792.51) rotate(34.19)" y="2.2">W2654</text><text transform="translate(895.15 796.81) rotate(36.19)" y="2.2">W2667</text><text transform="translate(891.97 801.01) rotate(38.19)" y="2.2">W0563</text><text transform="translate(888.64 805.09) rotate(40.18)" y="2.2">W1127</text><text transform="translate(885.17 809.06) rotate(42.18)" y="2.2">W1815</text><text transform="translate(881.56 812.9) rotate(44.18)" y="2.2">W0742</text><text transform="translate(877.83 816.61) rotate(46.18)" y="2.2">W1695</text><text transform="translate(873.96 820.2) rotate(48.17)" y="2.2">W3195</text><text transform="translate(869.98 823.64) rotate(50.17)" y="2.2">W2325</text><text transform="translate(865.87 826.94) rotate(52.17)" y="2.2">W0957</text><text transform="translate(861.66 830.1) rotate(54.17)" y="2.2">W0477</text><text transform="translate(857.33 833.11) rotate(56.16)" y="2.2">W1120</text><text transform="translate(852.91 835.97) rotate(58.16)" y="2.2">W1799</text><text transform="translate(848.38 838.67) rotate(60.16)" y="2.2">W1307</text><text transform="translate(843.77 841.21) rotate(62.16)" y="2.2">W0366</text><text transform="translate(839.07 843.59) rotate(64.16)" y="2.2">W3095</text><text transform="translate(834.29 845.8) rotate(66.15)" y="2.2">W1739</text><text transform="translate(829.43 847.85) rotate(68.15)" y="2.2">W2081</text><text transform="translate(824.51 849.72) rotate(70.15)" y="2.2">W3096</text><text transform="translate(819.52 851.42) rotate(72.15)" y="2.2">GP677</text><text transform="translate(814.48 852.95) rotate(74.14)" y="2.2">W2066</text><text transform="translate(809.39 854.3) rotate(76.14)" y="2.2">W0394</text><text transform="translate(804.25 855.47) rotate(78.14)" y="2.2">W1879</text><text transform="translate(799.08 856.47) rotate(80.14)" y="2.2">W0250</text><text transform="translate(793.88 857.28) rotate(82.14)" y="2.2">W1510</text><text transform="translate(788.65 857.91) rotate(84.13)" y="2.2">W0668</text><text transform="translate(783.4 858.36) rotate(86.13)" y="2.2">W3138</text><text transform="translate(778.13 858.62) rotate(88.13)" y="2.2">W2541</text><text transform="translate(772.87 858.7) rotate(270.13)" y="2.2" text-anchor="end">W2560</text><text transform="translate(767.6 858.6) rotate(272.12)" y="2.2" text-anchor="end">W2036</text><text transform="translate(762.34 858.31) rotate(274.12)" y="2.2" text-anchor="end">W1755</text><text transform="translate(757.09 857.84) rotate(276.12)" y="2.2" text-anchor="end">W1796</text><text transform="translate(751.87 857.19) rotate(278.12)" y="2.2" text-anchor="end">W0641</text><text transform="translate(746.66 856.35) rotate(280.11)" y="2.2" text-anchor="end">W3133</text><text transform="translate(741.49 855.34) rotate(282.11)" y="2.2" text-anchor="end">GP523</text><text transform="translate(736.36 854.14) rotate(284.11)" y="2.2" text-anchor="end">W0370</text><text transform="translate(731.28 852.77) rotate(286.11)" y="2.2" text-anchor="end">W0590</text><text transform="translate(726.24 851.22) rotate(288.11)" y="2.2" text-anchor="end">W1468</text><text transform="translate(721.26 849.49) rotate(290.1)" y="2.2" text-anchor="end">GP543</text><text transform="translate(716.35 847.6) rotate(292.1)" y="2.2" text-anchor="end">W0174</text><text transform="translate(711.5 845.53) rotate(294.1)" y="2.2" text-anchor="end">W1117</text><text transform="translate(706.73 843.3) rotate(296.1)" y="2.2" text-anchor="end">W1085</text><text transform="translate(702.04 840.9) rotate(298.09)" y="2.2" text-anchor="end">W0328</text><text transform="translate(697.44 838.33) rotate(300.09)" y="2.2" text-anchor="end">W2410</text><text transform="translate(692.93 835.61) rotate(302.09)" y="2.2" text-anchor="end">W2998</text><text transform="translate(688.51 832.74) rotate(304.09)" y="2.2" text-anchor="end">W2876</text><text transform="translate(684.2 829.71) rotate(306.09)" y="2.2" text-anchor="end">W1754</text><text transform="translate(680 826.53) rotate(308.08)" y="2.2" text-anchor="end">W0164</text><text transform="translate(675.91 823.21) rotate(310.08)" y="2.2" text-anchor="end">W0333</text><text transform="translate(671.94 819.75) rotate(312.08)" y="2.2" text-anchor="end">W1284</text><text transform="translate(668.09 816.15) rotate(314.08)" y="2.2" text-anchor="end">W0291</text><text transform="translate(664.37 812.42) rotate(316.07)" y="2.2" text-anchor="end">W3012</text><text transform="translate(660.78 808.57) rotate(318.07)" y="2.2" text-anchor="end">W3078</text><text transform="translate(657.33 804.59) rotate(320.07)" y="2.2" text-anchor="end">W0141</text><text transform="translate(654.02 800.49) rotate(322.07)" y="2.2" text-anchor="end">CW15</text><text transform="translate(650.86 796.28) rotate(324.06)" y="2.2" text-anchor="end">GP640</text><text transform="translate(647.84 791.96) rotate(326.06)" y="2.2" text-anchor="end">G143</text><text transform="translate(644.98 787.54) rotate(328.06)" y="2.2" text-anchor="end">GP39</text><text transform="translate(642.27 783.02) rotate(330.06)" y="2.2" text-anchor="end">W2014</text><text transform="translate(639.72 778.41) rotate(332.06)" y="2.2" text-anchor="end">GP295</text><text transform="translate(637.33 773.71) rotate(334.05)" y="2.2" text-anchor="end">W1687</text><text transform="translate(635.11 768.93) rotate(336.05)" y="2.2" text-anchor="end">GP1008</text><text transform="translate(633.05 764.08) rotate(338.05)" y="2.2" text-anchor="end">KY131</text><text transform="translate(631.17 759.16) rotate(340.05)" y="2.2" text-anchor="end">W0170</text><text transform="translate(629.46 754.18) rotate(342.04)" y="2.2" text-anchor="end">D62</text><text transform="translate(627.92 749.14) rotate(344.04)" y="2.2" text-anchor="end">R527</text><text transform="translate(626.56 744.05) rotate(346.04)" y="2.2" text-anchor="end">R498</text><text transform="translate(625.38 738.92) rotate(348.04)" y="2.2" text-anchor="end">FH838</text><text transform="translate(624.38 733.75) rotate(350.04)" y="2.2" text-anchor="end">9311</text><text transform="translate(623.56 728.54) rotate(352.03)" y="2.2" text-anchor="end">FS32</text><text transform="translate(622.92 723.31) rotate(354.03)" y="2.2" text-anchor="end">CN1</text><text transform="translate(622.46 718.07) rotate(356.03)" y="2.2" text-anchor="end">DG</text><text transform="translate(622.19 712.8) rotate(358.03)" y="2.2" text-anchor="end">G46</text><text transform="translate(622.1 707.54) rotate(360.02)" y="2.2" text-anchor="end">Tumba</text><text transform="translate(622.19 702.27) rotate(362.02)" y="2.2" text-anchor="end">YX1</text><text transform="translate(622.47 697.01) rotate(364.02)" y="2.2" text-anchor="end">TM</text><text transform="translate(622.93 691.76) rotate(366.02)" y="2.2" text-anchor="end">N22</text><text transform="translate(623.58 686.53) rotate(368.01)" y="2.2" text-anchor="end">TG22</text><text transform="translate(624.4 681.33) rotate(370.01)" y="2.2" text-anchor="end">IR64</text><text transform="translate(625.41 676.16) rotate(372.01)" y="2.2" text-anchor="end">Y58S</text><text transform="translate(626.59 671.03) rotate(374.01)" y="2.2" text-anchor="end">J4155</text><text transform="translate(627.96 665.94) rotate(376.01)" y="2.2" text-anchor="end">G8</text><text transform="translate(629.5 660.9) rotate(378)" y="2.2" text-anchor="end">Y3551</text><text transform="translate(631.21 655.92) rotate(380)" y="2.2" text-anchor="end">G630</text></g>
<circle cx="773.2" cy="707.6" r="147.7" fill="#fff"/>
<path d="M650.55,635.64L646.32,633.16M653.13,631.41L648.99,628.79M655.86,627.27L651.82,624.51M658.73,623.23L654.79,620.32M661.74,619.29L657.9,616.25M664.89,615.46L661.16,612.29M668.17,611.74L664.55,608.44M671.57,608.14L668.07,604.71M675.1,604.66L671.72,601.11M678.75,601.3L675.5,597.64M682.51,598.07L679.39,594.3M686.39,594.98L683.39,591.1M690.36,592.02L687.51,588.04M694.44,589.2L691.73,585.12M698.62,586.53L696.05,582.36M702.89,584L700.46,579.74M707.24,581.62L704.96,577.28M711.67,579.4L709.55,574.98M716.17,577.34L714.21,572.85M720.75,575.43L718.94,570.87M725.39,573.68L723.74,569.06M730.09,572.09L728.6,567.42M734.84,570.67L733.52,565.95M739.63,569.42L738.48,564.66M744.47,568.33L743.48,563.53M749.34,567.42L748.52,562.58M754.24,566.67L753.59,561.81M759.17,566.09L758.69,561.22M764.11,565.69L763.8,560.8M769.06,565.46L768.92,560.56M774.02,565.4L774.05,560.5M778.98,565.52L779.18,560.62M783.93,565.81L784.3,560.92M788.86,566.27L789.4,561.4M793.78,566.9L794.49,562.05M798.67,567.7L799.55,562.88M803.53,568.67L804.58,563.89M808.36,569.82L809.57,565.07M813.14,571.12L814.52,566.42M817.87,572.6L819.41,567.95M822.55,574.24L824.25,569.64M827.17,576.04L829.03,571.51M831.73,578L833.74,573.54M836.21,580.12L838.38,575.73M840.61,582.39L842.94,578.08M844.94,584.82L847.41,580.59M849.17,587.4L851.79,583.25M853.32,590.12L856.08,586.07M857.36,592.98L860.26,589.03M861.31,595.99L864.34,592.14M865.15,599.12L868.31,595.39M868.87,602.4L872.17,598.77M872.48,605.8L875.9,602.29M875.97,609.32L879.51,605.93M879.33,612.96L882.99,609.7M882.57,616.72L886.34,613.59M885.67,620.59L889.54,617.59M888.63,624.56L892.61,621.7M891.46,628.63L895.53,625.91M894.14,632.8L898.31,630.23M896.67,637.06L900.93,634.63M899.06,641.41L903.39,639.13M901.29,645.84L905.7,643.71M903.36,650.34L907.85,648.37M905.28,654.91L909.83,653.1M907.04,659.55L911.65,657.9M908.63,664.25L913.3,662.75M910.06,668.99L914.77,667.66M911.32,673.79L916.08,672.62M912.42,678.62L917.21,677.62M913.34,683.49L918.17,682.66M914.1,688.39L918.95,687.73M914.68,693.32L919.56,692.82M915.09,698.26L919.98,697.94M915.33,703.21L920.23,703.06M915.4,708.17L920.3,708.19M915.29,713.12L920.19,713.31M915.01,718.07L919.9,718.43M914.56,723.01L919.43,723.54M913.94,727.93L918.79,728.63M913.15,732.82L917.97,733.69M912.18,737.69L916.97,738.72M911.05,742.51L915.8,743.72M909.75,747.3L914.45,748.66M908.28,752.03L912.93,753.56M906.65,756.71L911.25,758.41M904.86,761.34L909.39,763.19M902.9,765.89L907.37,767.9M900.79,770.38L905.19,772.54M898.53,774.79L902.84,777.1M896.11,779.12L900.34,781.58M893.54,783.36L897.69,785.97M890.83,787.51L894.88,790.26M887.97,791.56L891.92,794.45M884.97,795.51L888.82,798.54M881.84,799.35L885.58,802.51M878.57,803.08L882.21,806.37M875.18,806.7L878.7,810.11M871.67,810.19L875.06,813.73M868.03,813.56L871.3,817.21M864.28,816.8L867.42,820.57M860.42,819.91L863.42,823.78M856.45,822.89L859.32,826.86M852.38,825.72L855.11,829.79M848.21,828.41L850.8,832.57M843.96,830.95L846.39,835.2M839.61,833.34L841.9,837.67M835.19,835.58L837.32,839.99M830.69,837.66L832.67,842.14M826.12,839.59L827.94,844.13M821.49,841.35L823.15,845.96M816.8,842.95L818.3,847.62M812.05,844.39L813.39,849.1M807.26,845.66L808.43,850.42M802.43,846.76L803.43,851.56M797.56,847.7L798.4,852.53M792.66,848.46L793.33,853.32M787.74,849.06L788.24,853.93M782.8,849.48L783.13,854.36M777.84,849.72L778,854.62M772.89,849.8L772.88,854.7M767.93,849.7L767.75,854.6M762.98,849.43L762.63,854.32M758.04,848.99L757.52,853.86M753.12,848.38L752.43,853.23M748.23,847.59L747.37,852.41M743.36,846.63L742.33,851.43M738.53,845.51L737.34,850.26M733.75,844.22L732.39,848.92M729.01,842.76L727.49,847.42M724.32,841.14L722.64,845.74M719.7,839.35L717.85,843.89M715.14,837.41L713.14,841.88M710.65,835.3L708.49,839.7M706.23,833.05L703.93,837.37M701.9,830.63L699.45,834.87M697.66,828.07L695.05,832.23M693.5,825.37L690.76,829.43M689.45,822.52L686.56,826.48M685.49,819.53L682.47,823.39M681.64,816.4L678.49,820.15M677.91,813.14L674.62,816.78M674.28,809.76L670.88,813.28M670.78,806.25L667.25,809.65M667.41,802.62L663.76,805.89M664.16,798.87L660.4,802.02M661.04,795.02L657.18,798.03M658.06,791.05L654.1,793.93M655.22,786.99L651.16,789.72M652.53,782.83L648.37,785.42M649.98,778.58L645.73,781.02M647.58,774.24L643.25,776.53M645.33,769.82L640.93,771.96M643.24,765.32L638.76,767.31M641.31,760.76L636.76,762.59M639.54,756.13L634.93,757.8M637.93,751.44L633.26,752.95M636.48,746.7L631.77,748.04M635.2,741.91L630.44,743.09M634.09,737.07L629.29,738.09M633.15,732.21L628.32,733.05M632.37,727.31L627.52,727.99M631.77,722.39L626.9,722.9M631.34,717.45L626.45,717.79M631.08,712.5L626.19,712.67M631,707.54L626.1,707.54M631.09,702.58L626.19,702.41M631.35,697.63L626.46,697.29M631.78,692.69L626.91,692.18M632.39,687.77L627.54,687.09M633.17,682.88L628.34,682.02M634.11,678.01L629.32,676.99M635.23,673.18L630.47,671.99M636.51,668.39L631.8,667.04M637.96,663.65L633.3,662.14M639.58,658.96L634.97,657.29" fill="none" stroke="#9a9a9a" stroke-width="0.4" stroke-dasharray="0.7 0.9"/>
<path d="M672.16,642.87A120,120 0 0 1 679.14,633.08M672.16,642.87L667.65,639.98M665.08,644.17A125.35,125.35 0 0 1 670.38,635.89M665.08,644.17L651.07,635.95M670.38,635.89L665.5,632.49M663.58,635.33A131.3,131.3 0 0 1 667.51,629.7M663.58,635.33L659.14,632.4M657.85,634.4A136.62,136.62 0 0 1 660.47,630.43M657.85,634.4L653.64,631.73M660.47,630.43L656.36,627.61M667.51,629.7L659.22,623.59M679.14,633.08L662.21,619.67M700.42,627.81A108,108 0 0 1 718.17,614.67M700.42,627.81L694.33,621.14M687.1,628.33A117.03,117.03 0 0 1 702.16,614.6M687.1,628.33L679.83,621.64M676.53,625.37A126.91,126.91 0 0 1 683.28,618.04M676.53,625.37L665.35,615.85M683.28,618.04L677.95,612.74M675.5,615.26A134.43,134.43 0 0 1 680.46,610.28M675.5,615.26L673.71,613.56M672.08,615.31A136.9,136.9 0 0 1 675.36,611.84M672.08,615.31L668.61,612.15M675.36,611.84L672,608.56M680.46,610.28L675.52,605.09M702.16,614.6L693.48,603.24M688.57,607.18A131.33,131.33 0 0 1 698.57,599.54M688.57,607.18L686.37,604.57M683.71,606.88A134.74,134.74 0 0 1 689.09,602.34M683.71,606.88L679.15,601.75M689.09,602.34L687.59,600.45M685.73,601.96A137.15,137.15 0 0 1 689.47,598.97M685.73,601.96L682.9,598.53M689.47,598.97L686.75,595.45M698.57,599.54L695.84,595.59M693.9,596.95A136.13,136.13 0 0 1 697.81,594.26M693.9,596.95L690.71,592.51M697.81,594.26L694.78,589.7M718.17,614.67L703.39,589.73M701.35,590.96A136.99,136.99 0 0 1 705.46,588.53M701.35,590.96L698.93,587.04M705.46,588.53L703.18,584.52M722.98,607.49A112,112 0 0 1 747.47,598.59M722.98,607.49L711.88,585.35M709.75,586.43A136.77,136.77 0 0 1 714.02,584.29M709.75,586.43L707.52,582.16M714.02,584.29L711.93,579.94M747.47,598.59L745.84,591.68M736.6,594.26A119.1,119.1 0 0 1 755.27,589.86M736.6,594.26L734.59,588.06M727.89,590.44A125.62,125.62 0 0 1 741.42,586.06M727.89,590.44L724.93,582.8M721.68,584.1A133.81,133.81 0 0 1 728.21,581.58M721.68,584.1L720.67,581.68M718.49,582.62A136.44,136.44 0 0 1 722.88,580.78M718.49,582.62L716.42,577.88M722.88,580.78L720.97,575.98M728.21,581.58L725.59,574.24M741.42,586.06L739.51,578.76M735.04,580.01A133.17,133.17 0 0 1 744.03,577.66M735.04,580.01L733.95,576.36M731.67,577.06A136.99,136.99 0 0 1 736.24,575.69M731.67,577.06L730.27,572.66M736.24,575.69L735,571.25M744.03,577.66L743.36,574.71M741.05,575.25A136.19,136.19 0 0 1 745.68,574.21M741.05,575.25L739.78,570M745.68,574.21L744.59,568.92M755.27,589.86L752.72,573.11M750.38,573.49A136.04,136.04 0 0 1 755.07,572.78M750.38,573.49L749.44,568.01M755.07,572.78L754.32,567.26M761.36,588.19A120,120 0 0 1 770.23,587.64M761.36,588.19L759.23,566.69M770.23,587.64L770.07,580.97M765.1,581.19A126.67,126.67 0 0 1 775.04,580.95M765.1,581.19L764.15,566.29M775.04,580.95L775.11,575.65M771.66,575.65A131.96,131.96 0 0 1 778.56,575.75M771.66,575.65L771.61,571.67M769.25,571.72A135.93,135.93 0 0 1 773.98,571.67M769.25,571.72L769.08,566.06M773.98,571.67L774.02,566M778.56,575.75L778.95,566.12M785.08,608.31A100,100 0 0 1 796.66,610.39M785.08,608.31L787.66,586.79M784.49,586.46A121.67,121.67 0 0 1 790.81,587.21M784.49,586.46L785.51,575.51M783.21,575.32A132.66,132.66 0 0 1 787.81,575.75M783.21,575.32L783.88,566.4M787.81,575.75L788.8,566.86M790.81,587.21L793.69,567.49M796.66,610.39L801.87,588.78M797.19,587.74A122.23,122.23 0 0 1 806.51,589.99M797.19,587.74L799.7,575.18M797.39,574.74A135.05,135.05 0 0 1 802.01,575.66M797.39,574.74L798.57,568.29M802.01,575.66L803.41,569.26M806.51,589.99L808.81,581.86M805.51,580.97A130.69,130.69 0 0 1 812.09,582.83M805.51,580.97L808.21,570.4M812.09,582.83L813.87,577.13M811.58,576.44A136.66,136.66 0 0 1 816.13,577.86M811.58,576.44L812.97,571.7M816.13,577.86L817.69,573.17M795.41,647.58A64,64 0 0 1 799.54,649.27M795.41,647.58L822.34,574.8M799.54,649.27L800.3,647.58M798.19,646.68A65.85,65.85 0 0 1 802.38,648.57M798.19,646.68L826.94,576.6M802.38,648.57L804.01,645.27M801.82,644.23A69.53,69.53 0 0 1 806.16,646.38M801.82,644.23L831.48,578.55M806.16,646.38L807.53,643.85M805.28,642.69A72.41,72.41 0 0 1 809.73,645.08M805.28,642.69L835.94,580.66M809.73,645.08L811.53,642M809.22,640.7A75.98,75.98 0 0 1 813.79,643.38M809.22,640.7L840.33,582.92M813.79,643.38L815.75,640.27M813.38,638.83A79.64,79.64 0 0 1 818.07,641.8M813.38,638.83L844.63,585.34M818.07,641.8L819.17,640.19M816.79,638.63A81.59,81.59 0 0 1 821.49,641.84M816.79,638.63L848.85,587.9M821.49,641.84L822.77,640.09M820.39,638.4A83.76,83.76 0 0 1 825.1,641.86M820.39,638.4L852.98,590.61M825.1,641.86L827.51,638.8M825.08,636.95A87.65,87.65 0 0 1 829.88,640.73M825.08,636.95L857.01,593.47M829.88,640.73L831.43,638.9M829,636.91A90.06,90.06 0 0 1 833.79,640.97M829,636.91L860.94,596.46M833.79,640.97L835.63,638.95M833.2,636.82A92.79,92.79 0 0 1 837.98,641.17M833.2,636.82L864.76,599.58M837.98,641.17L840.1,639M837.67,636.71A95.82,95.82 0 0 1 842.45,641.37M837.67,636.71L868.47,602.84M842.45,641.37L845.36,638.59M842.91,636.12A99.85,99.85 0 0 1 847.72,641.14M842.91,636.12L872.06,606.22M847.72,641.14L850.21,638.92M847.77,636.28A103.19,103.19 0 0 1 852.55,641.64M847.77,636.28L875.54,609.73M852.55,641.64L855.87,638.88M853.44,636.05A107.5,107.5 0 0 1 858.21,641.79M853.44,636.05L878.88,613.36M858.21,641.79L861.73,639.06M859.31,636.04A111.96,111.96 0 0 1 864.05,642.17M859.31,636.04L882.11,617.1M864.05,642.17L866.49,640.41M864.13,637.25A114.97,114.97 0 0 1 868.74,643.65M864.13,637.25L885.19,620.95M868.74,643.65L872.51,641.13M870.2,637.82A119.5,119.5 0 0 1 874.69,644.52M870.2,637.82L888.15,624.91M874.69,644.52L878.5,642.16M876.31,638.75A123.98,123.98 0 0 1 880.59,645.63M876.31,638.75L890.96,628.97M880.59,645.63L884.06,643.63M882.05,640.28A127.99,127.99 0 0 1 885.96,647.04M882.05,640.28L893.63,633.12M885.96,647.04L889.67,645.05M887.99,642.03A132.2,132.2 0 0 1 891.26,648.12M887.99,642.03L896.15,637.36M891.26,648.12L894.42,646.52M893.34,644.42A135.74,135.74 0 0 1 895.47,648.65M893.34,644.42L898.53,641.69M895.47,648.65L900.75,646.1M857.41,670.56A92,92 0 0 1 863.58,690.4M857.41,670.56L902.81,650.58M863.58,690.4L869.49,689.28M864.86,672.88A98.02,98.02 0 0 1 871.21,706.23M864.86,672.88L901.66,658.94M900.79,656.7A137.37,137.37 0 0 1 902.49,661.18M900.79,656.7L904.72,655.14M902.49,661.18L906.47,659.75M871.21,706.23L877.19,706.14M876.17,692.99A104,104 0 0 1 876.53,719.32M876.17,692.99L886.35,691.55M884.72,682.61A114.28,114.28 0 0 1 887.27,700.59M884.72,682.61L891.86,681.01M890.38,675.09A121.61,121.61 0 0 1 893.05,686.98M890.38,675.09L898,672.98M896.54,668.11A129.51,129.51 0 0 1 899.26,677.9M896.54,668.11L908.06,664.43M899.26,677.9L904.22,676.73M903.36,673.32A134.6,134.6 0 0 1 904.98,680.17M903.36,673.32L905.23,672.83M904.6,670.53A136.53,136.53 0 0 1 905.82,675.14M904.6,670.53L909.48,669.16M905.82,675.14L910.74,673.93M904.98,680.17L911.83,678.75M893.05,686.98L912.75,683.6M887.27,700.59L902.44,699.66M901.91,693.47A129.49,129.49 0 0 1 902.68,705.86M901.91,693.47L907.46,692.86M907.03,689.36A135.06,135.06 0 0 1 907.8,696.38M907.03,689.36L913.5,688.47M907.8,696.38L910.32,696.17M910.1,693.78A137.59,137.59 0 0 1 910.5,698.56M910.1,693.78L914.08,693.38M910.5,698.56L914.49,698.3M902.68,705.86L909.97,705.76M909.92,703.38A136.78,136.78 0 0 1 909.98,708.15M909.92,703.38L914.73,703.23M909.98,708.15L914.8,708.16M876.53,719.32L901.23,722.12M901.62,718.21A128.85,128.85 0 0 1 900.73,726.02M901.62,718.21L907.68,718.71M907.92,715.19A134.94,134.94 0 0 1 907.34,722.22M907.92,715.19L910.38,715.33M910.49,712.94A137.39,137.39 0 0 1 910.22,717.72M910.49,712.94L914.69,713.1M910.22,717.72L914.42,718.03M907.34,722.22L913.97,722.95M900.73,726.02L913.35,727.84M859.8,723.21A88,88 0 0 1 845.3,758.06M859.8,723.21L912.55,732.72M845.3,758.06L850.29,761.55M856.45,751.47A94.1,94.1 0 0 1 842.93,770.78M856.45,751.47L864.67,755.81M872.39,736.79A103.39,103.39 0 0 1 853.34,772.92M872.39,736.79L879.5,738.88M881.07,732.93A110.8,110.8 0 0 1 877.6,744.74M881.07,732.93L906.53,738.91M907.06,736.58A136.96,136.96 0 0 1 905.97,741.23M907.06,736.58L911.59,737.56M905.97,741.23L910.47,742.37M877.6,744.74L883.44,746.81M885.55,740.26A117.01,117.01 0 0 1 880.94,753.23M885.55,740.26L909.17,747.13M880.94,753.23L884.26,754.63M887.77,745.29A120.61,120.61 0 0 1 879.99,763.66M887.77,745.29L907.71,751.85M879.99,763.66L885.73,766.67M889.79,758.18A127.09,127.09 0 0 1 881.05,774.84M889.79,758.18L896.05,760.89M898.04,756.03A133.91,133.91 0 0 1 893.86,765.67M898.04,756.03L901.3,757.3M902.15,755.06A137.41,137.41 0 0 1 900.42,759.53M902.15,755.06L906.09,756.51M900.42,759.53L904.3,761.11M893.86,765.67L895.92,766.66M897.42,763.43A136.19,136.19 0 0 1 894.33,769.85M897.42,763.43L902.36,765.65M894.33,769.85L895.58,770.49M896.66,768.34A137.59,137.59 0 0 1 894.46,772.61M896.66,768.34L900.25,770.11M894.46,772.61L898,774.51M881.05,774.84L884.62,777.07M886.68,773.63A131.3,131.3 0 0 1 882.45,780.43M886.68,773.63L895.59,778.82M882.45,780.43L885.2,782.27M887.12,779.32A134.61,134.61 0 0 1 883.21,785.17M887.12,779.32L893.03,783.04M883.21,785.17L884.89,786.35M886.24,784.39A136.66,136.66 0 0 1 883.5,788.29M886.24,784.39L890.33,787.17M883.5,788.29L887.48,791.2M853.34,772.92L879.55,794.29M881.04,792.42A137.2,137.2 0 0 1 878.02,796.13M881.04,792.42L884.5,795.14M878.02,796.13L881.38,798.96M842.93,770.78L878.13,802.68M859.9,794.84A123,123 0 0 1 853.62,800.67M859.9,794.84L868.8,803.8M870.46,802.11A135.62,135.62 0 0 1 867.11,805.45M870.46,802.11L874.75,806.28M867.11,805.45L871.25,809.76M853.62,800.67L863.11,811.66M864.91,810.08A137.52,137.52 0 0 1 861.28,813.21M864.91,810.08L867.63,813.12M861.28,813.21L863.89,816.34M845.14,803.65A120,120 0 0 1 838.27,808.43M845.14,803.65L854.94,816.73M856.83,815.29A136.35,136.35 0 0 1 853.02,818.14M856.83,815.29L860.05,819.44M853.02,818.14L856.1,822.4M838.27,808.43L844.06,817.4M845.96,816.15A130.68,130.68 0 0 1 842.14,818.62M845.96,816.15L852.04,825.22M842.14,818.62L847.9,827.9M834.4,814.29A123,123 0 0 1 825.85,818.76M834.4,814.29L843.66,830.43M825.85,818.76L828.42,824.18M831.45,822.7A129,129 0 0 1 825.35,825.59M831.45,822.7L834.86,829.44M836.97,828.34A136.55,136.55 0 0 1 832.73,830.49M836.97,828.34L839.33,832.81M832.73,830.49L834.93,835.04M825.35,825.59L830.45,837.11M815.55,818.81A119,119 0 0 1 807.7,821.49M815.55,818.81L821.03,833.19M823.21,832.34A134.39,134.39 0 0 1 818.84,834M823.21,832.34L825.9,839.03M818.84,834L821.28,840.79M807.7,821.49L812.49,837.28M814.74,836.58A135.5,135.5 0 0 1 810.22,837.95M814.74,836.58L816.61,842.38M810.22,837.95L811.89,843.81M803.38,829.93A126,126 0 0 1 796.94,831.34M803.38,829.93L807.12,845.08M796.94,831.34L798.76,840.83M801.08,840.37A135.66,135.66 0 0 1 796.44,841.26M801.08,840.37L802.3,846.18M796.44,841.26L797.45,847.11M778.46,812.47A105,105 0 0 1 762.92,812.1M778.46,812.47L779.07,824.61M786.19,824.03A117.15,117.15 0 0 1 771.92,824.75M786.19,824.03L787.79,838.36M791.2,837.94A131.57,131.57 0 0 1 784.37,838.7M791.2,837.94L792.58,847.87M784.37,838.7L784.8,843.82M787.17,843.6A136.71,136.71 0 0 1 782.43,844M787.17,843.6L787.67,848.46M782.43,844L782.76,848.88M771.92,824.75L771.8,835.53M775.15,835.53A127.94,127.94 0 0 1 768.46,835.45M775.15,835.53L775.27,843.56M777.64,843.51A135.98,135.98 0 0 1 772.9,843.58M777.64,843.51L777.82,849.12M772.9,843.58L772.89,849.2M768.46,835.45L767.95,849.1M762.92,812.1L760.54,836.25M763.91,836.54A129.28,129.28 0 0 1 757.18,835.88M763.91,836.54L763.02,848.83M757.18,835.88L756.31,842.83M758.67,843.1A136.28,136.28 0 0 1 753.96,842.51M758.67,843.1L758.11,848.39M753.96,842.51L753.21,847.78M748.82,804.58A100,100 0 0 1 728.82,797.21M748.82,804.58L743.59,825.4M749.79,826.78A121.46,121.46 0 0 1 737.47,823.69M749.79,826.78L746.68,842.62M749.04,843.06A137.6,137.6 0 0 1 744.33,842.13M749.04,843.06L748.33,847M744.33,842.13L743.49,846.05M737.47,823.69L735.04,831.6M739.38,832.86A129.74,129.74 0 0 1 730.74,830.2M739.38,832.86L737.54,839.69M739.85,840.29A136.82,136.82 0 0 1 735.24,839.05M739.85,840.29L738.68,844.93M735.24,839.05L733.91,843.64M730.74,830.2L728.42,836.88M730.68,837.65A136.82,136.82 0 0 1 726.17,836.08M730.68,837.65L729.19,842.19M726.17,836.08L724.53,840.57M728.82,797.21L719.69,815.64M723.01,817.23A120.57,120.57 0 0 1 716.42,813.96M723.01,817.23L718.96,826.09M722.07,827.46A130.31,130.31 0 0 1 715.88,824.63M722.07,827.46L719.94,832.47M722.12,833.38A135.76,135.76 0 0 1 717.77,831.52M722.12,833.38L719.92,838.8M717.77,831.52L715.38,836.86M715.88,824.63L710.91,834.76M716.42,813.96L706.52,832.52M714.17,795.65A106,106 0 0 1 699.63,783.91M714.17,795.65L704.54,810.02M708.61,812.63A123.3,123.3 0 0 1 700.58,807.24M708.61,812.63L704.17,819.84M707.13,821.61A131.77,131.77 0 0 1 701.26,818M707.13,821.61L702.2,830.12M701.26,818L699.15,821.24M701.14,822.52A135.64,135.64 0 0 1 697.18,819.93M701.14,822.52L697.98,827.57M697.18,819.93L693.84,824.87M700.58,807.24L689.8,822.03M699.63,783.91L690.18,793.72M693.42,796.74A119.62,119.62 0 0 1 687.04,790.59M693.42,796.74L688.38,802.37M692.17,805.62A127.18,127.18 0 0 1 684.73,798.97M692.17,805.62L688.62,809.91M691.32,812.09A132.74,132.74 0 0 1 685.97,807.66M691.32,812.09L685.86,819.06M685.97,807.66L682.93,811.15M684.75,812.71A137.37,137.37 0 0 1 681.14,809.56M684.75,812.71L682.03,815.94M681.14,809.56L678.31,812.7M684.73,798.97L674.7,809.33M687.04,790.59L671.21,805.83M710.71,763.73A84,84 0 0 1 704.58,756.05M710.71,763.73L667.85,802.22M704.58,756.05L696.92,761.45M701.6,767.53A93.37,93.37 0 0 1 692.76,755.01M701.6,767.53L664.62,798.49M692.76,755.01L688.89,757.29M696.01,767.76A97.86,97.86 0 0 1 683.18,745.98M696.01,767.76L661.52,794.65M683.18,745.98L676.87,748.67M682.72,760.31A104.72,104.72 0 0 1 672.52,736.39M682.72,760.31L679.48,762.2M685.38,771.25A108.46,108.46 0 0 1 674.51,752.6M685.38,771.25L658.55,790.7M674.51,752.6L667.73,755.69M673.91,767.42A115.92,115.92 0 0 1 662.93,743.34M673.91,767.42L668.05,770.95M671.35,776.14A122.76,122.76 0 0 1 665.01,765.6M671.35,776.14L655.72,786.65M665.01,765.6L660.02,768.27M664.23,775.53A128.41,128.41 0 0 1 656.3,760.75M664.23,775.53L653.04,782.51M656.3,760.75L652.15,762.63M655.2,768.89A132.97,132.97 0 0 1 649.44,756.23M655.2,768.89L652,770.54M653.69,773.69A136.57,136.57 0 0 1 650.4,767.35M653.69,773.69L652.8,774.18M653.98,776.27A137.59,137.59 0 0 1 651.65,772.08M653.98,776.27L650.5,778.28M651.65,772.08L648.11,773.96M650.4,767.35L645.87,769.55M649.44,756.23L647.32,757.06M648.66,760.34A135.25,135.25 0 0 1 646.07,753.76M648.66,760.34L646.74,761.15M647.69,763.35A137.33,137.33 0 0 1 645.83,758.94M647.69,763.35L643.79,765.08M645.83,758.94L641.87,760.53M646.07,753.76L640.1,755.92M662.93,743.34L638.5,751.25M672.52,736.39L637.06,746.53M703.33,703.32A70,70 0 0 1 707.01,684.81M703.33,703.32L694.4,702.77M695.22,719.94A78.95,78.95 0 0 1 697.31,685.83M695.22,719.94L686.84,721.27M688.34,728.69A87.44,87.44 0 0 1 685.98,713.74M688.34,728.69L635.78,741.76M685.98,713.74L678.55,714.26M680.38,727.27A94.88,94.88 0 0 1 678.54,701.13M680.38,727.27L634.68,736.95M678.54,701.13L674.05,700.83M674.4,718.32A99.38,99.38 0 0 1 676.77,683.54M674.4,718.32L668.1,719M669.07,725.89A105.72,105.72 0 0 1 667.57,712.06M669.07,725.89L633.74,732.1M667.57,712.06L660.73,712.35M661.46,721.26A112.57,112.57 0 0 1 660.71,703.41M661.46,721.26L636.62,724.29M636.94,726.67A137.59,137.59 0 0 1 636.35,721.91M636.94,726.67L632.97,727.23M636.35,721.91L632.37,722.33M660.71,703.41L654.8,703.19M655,715.81A118.48,118.48 0 0 1 655.94,690.63M655,715.81L631.94,717.41M655.94,690.63L650.5,689.85M649.78,695.81A123.98,123.98 0 0 1 651.5,683.92M649.78,695.81L646.95,695.54M646.54,701.19A126.83,126.83 0 0 1 647.61,689.92M646.54,701.19L642.48,700.99M642.31,708.12A130.89,130.89 0 0 1 643.03,693.88M642.31,708.12L640.1,708.12M640.17,712.18A133.11,133.11 0 0 1 640.14,704.06M640.17,712.18L631.68,712.48M640.14,704.06L637.44,703.99M637.4,707.54A135.8,135.8 0 0 1 637.59,700.44M637.4,707.54L631.6,707.54M637.59,700.44L635.97,700.36M635.87,702.75A137.42,137.42 0 0 1 636.12,697.97M635.87,702.75L631.69,702.6M636.12,697.97L631.95,697.67M643.03,693.88L632.38,692.76M647.61,689.92L632.98,687.86M651.5,683.92L638.43,681.37M637.99,683.73A137.3,137.3 0 0 1 638.9,679.03M637.99,683.73L633.76,682.98M638.9,679.03L634.7,678.13M676.77,683.54L635.81,673.32M697.31,685.83L637.09,668.56M707.01,684.81L643.41,662.91M642.66,665.17A137.27,137.27 0 0 1 644.21,660.65M642.66,665.17L638.53,663.84M644.21,660.65L640.14,659.17M726.29,745.01A60,60 0 0 1 714.35,695.89M726.29,745.01L707.53,759.98M714.35,695.89L704.55,693.94M737.37,752.01A57.06,57.06 0 0 1 717.75,721.08M737.37,752.01L706.64,790.1M717.75,721.08L714.9,721.77M754.49,758.36A54.1,54.1 0 0 1 727.51,736.57M754.49,758.36L738.62,801.43M727.51,736.57L725.01,738.16M771.97,758.69A51.1,51.1 0 0 1 741.09,747.36M771.97,758.69L770.68,812.57M741.09,747.36L739.21,749.69M783.49,754.55A48.07,48.07 0 0 1 756.64,752.73M783.49,754.55L800.17,830.68M756.64,752.73L755.6,755.57M787.74,750.18A45,45 0 0 1 770.14,752.49M787.74,750.18L811.65,820.22M770.14,752.49L769.94,755.56M792.6,744.72A41.89,41.89 0 0 1 778.65,749.13M792.6,744.72L830.17,816.61M778.65,749.13L779.06,752.22M795.32,739.39A38.73,38.73 0 0 1 784.87,744.53M795.32,739.39L841.74,806.1M784.87,744.53L785.82,747.54M797.34,733.65A35.51,35.51 0 0 1 788.87,739.47M797.34,733.65L856.81,797.81M788.87,739.47L790.29,742.35M802.96,719.99A32.24,32.24 0 0 1 791.46,734.17M802.96,719.99L854.44,741.42M791.46,734.17L793.32,736.87M800.79,699.03A28.89,28.89 0 0 1 795.64,725.8M800.79,699.03L861.06,680.3M795.64,725.8L798.24,727.91M782.86,684.04A25.46,25.46 0 0 1 798.2,712.41M782.86,684.04L797.49,648.39M798.2,712.41L801.57,713.06M777.08,686.02A21.93,21.93 0 0 1 792.49,697.17M777.08,686.02L790.9,609.18M792.49,697.17L795.6,695.49M772.07,689.38A18.26,18.26 0 0 1 783.9,692.81M772.07,689.38L765.79,587.83M783.9,692.81L786.06,689.84M768.29,694.07A14.39,14.39 0 0 1 777.21,693.78M768.29,694.07L734.97,602.33M777.21,693.78L778.29,690.07M767.13,699.39A10.21,10.21 0 0 1 772.86,697.4M767.13,699.39L708.96,620.79M772.86,697.4L772.73,693.22M769.13,704.7A5,5 0 0 1 771.56,702.88M769.13,704.7L675.53,637.88M771.56,702.88L769.84,697.96" fill="none" stroke="#262626" stroke-width="0.5" stroke-linecap="square"/>
</g>
</svg>
</body>
</html>
